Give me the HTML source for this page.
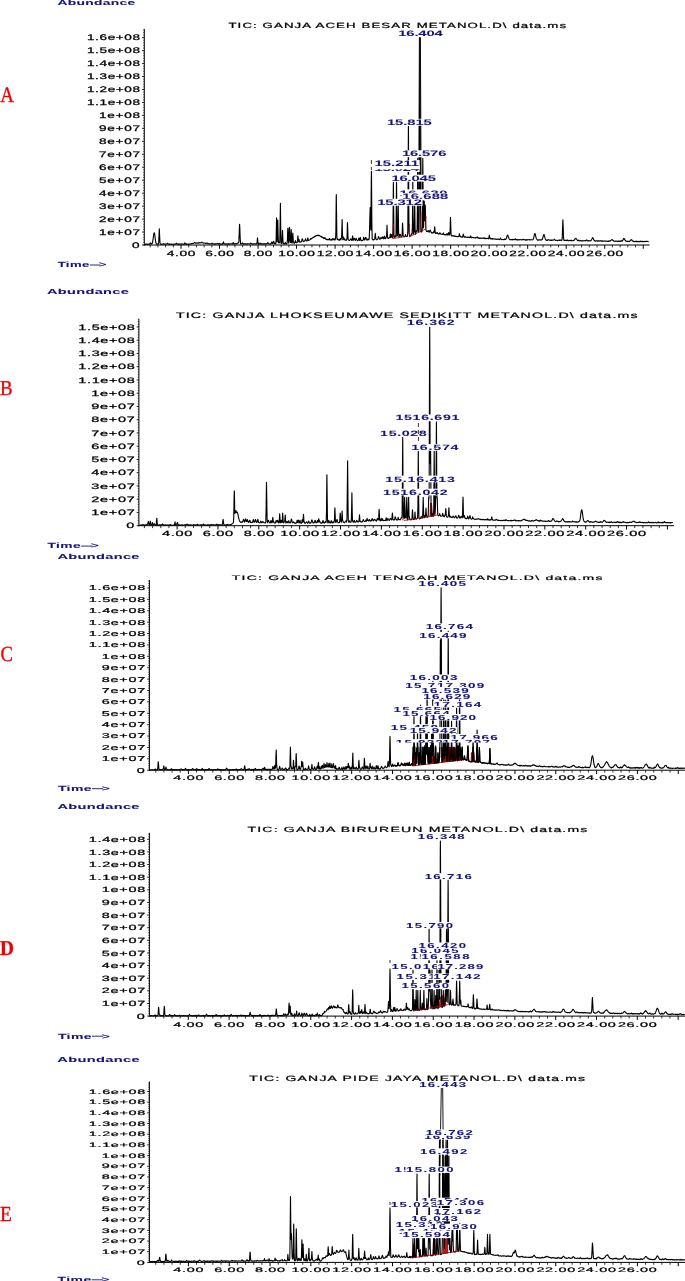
<!DOCTYPE html>
<html><head><meta charset="utf-8"><style>
html,body{margin:0;padding:0;background:#fff;overflow:hidden;}
svg{display:block;will-change:transform;} text{text-rendering:geometricPrecision;}
</style></head><body>
<svg width="685" height="1281" viewBox="0 0 685 1281">
<rect width="685" height="1281" fill="#fff"/>
<line x1="144.30" y1="28.90" x2="144.30" y2="245.50" stroke="#000" stroke-width="1"/>
<line x1="143.80" y1="245.00" x2="649.60" y2="245.00" stroke="#000" stroke-width="1"/>
<line x1="142.10" y1="245.00" x2="144.30" y2="245.00" stroke="#000" stroke-width="0.9"/>
<line x1="143.10" y1="242.41" x2="144.30" y2="242.41" stroke="#000" stroke-width="0.6"/>
<line x1="143.10" y1="239.82" x2="144.30" y2="239.82" stroke="#000" stroke-width="0.6"/>
<line x1="143.10" y1="237.22" x2="144.30" y2="237.22" stroke="#000" stroke-width="0.6"/>
<line x1="143.10" y1="234.63" x2="144.30" y2="234.63" stroke="#000" stroke-width="0.6"/>
<text transform="translate(131.98,247.80) scale(1.6681542857142881,1)" font-size="8.14" font-family='"Liberation Sans", sans-serif' font-weight="normal" fill="#000" stroke="#000" stroke-width="0.27" textLength="4.87" lengthAdjust="spacing">0</text>
<line x1="142.10" y1="232.04" x2="144.30" y2="232.04" stroke="#000" stroke-width="0.9"/>
<line x1="143.10" y1="229.45" x2="144.30" y2="229.45" stroke="#000" stroke-width="0.6"/>
<line x1="143.10" y1="226.86" x2="144.30" y2="226.86" stroke="#000" stroke-width="0.6"/>
<line x1="143.10" y1="224.26" x2="144.30" y2="224.26" stroke="#000" stroke-width="0.6"/>
<line x1="143.10" y1="221.67" x2="144.30" y2="221.67" stroke="#000" stroke-width="0.6"/>
<text transform="translate(99.09,234.84) scale(1.668154285714286,1)" font-size="8.14" font-family='"Liberation Sans", sans-serif' font-weight="normal" fill="#000" stroke="#000" stroke-width="0.27" textLength="24.58" lengthAdjust="spacing">1e+07</text>
<line x1="142.10" y1="219.08" x2="144.30" y2="219.08" stroke="#000" stroke-width="0.9"/>
<line x1="143.10" y1="216.49" x2="144.30" y2="216.49" stroke="#000" stroke-width="0.6"/>
<line x1="143.10" y1="213.90" x2="144.30" y2="213.90" stroke="#000" stroke-width="0.6"/>
<line x1="143.10" y1="211.30" x2="144.30" y2="211.30" stroke="#000" stroke-width="0.6"/>
<line x1="143.10" y1="208.71" x2="144.30" y2="208.71" stroke="#000" stroke-width="0.6"/>
<text transform="translate(99.09,221.88) scale(1.668154285714286,1)" font-size="8.14" font-family='"Liberation Sans", sans-serif' font-weight="normal" fill="#000" stroke="#000" stroke-width="0.27" textLength="24.58" lengthAdjust="spacing">2e+07</text>
<line x1="142.10" y1="206.12" x2="144.30" y2="206.12" stroke="#000" stroke-width="0.9"/>
<line x1="143.10" y1="203.53" x2="144.30" y2="203.53" stroke="#000" stroke-width="0.6"/>
<line x1="143.10" y1="200.94" x2="144.30" y2="200.94" stroke="#000" stroke-width="0.6"/>
<line x1="143.10" y1="198.34" x2="144.30" y2="198.34" stroke="#000" stroke-width="0.6"/>
<line x1="143.10" y1="195.75" x2="144.30" y2="195.75" stroke="#000" stroke-width="0.6"/>
<text transform="translate(99.09,208.92) scale(1.668154285714286,1)" font-size="8.14" font-family='"Liberation Sans", sans-serif' font-weight="normal" fill="#000" stroke="#000" stroke-width="0.27" textLength="24.58" lengthAdjust="spacing">3e+07</text>
<line x1="142.10" y1="193.16" x2="144.30" y2="193.16" stroke="#000" stroke-width="0.9"/>
<line x1="143.10" y1="190.57" x2="144.30" y2="190.57" stroke="#000" stroke-width="0.6"/>
<line x1="143.10" y1="187.98" x2="144.30" y2="187.98" stroke="#000" stroke-width="0.6"/>
<line x1="143.10" y1="185.38" x2="144.30" y2="185.38" stroke="#000" stroke-width="0.6"/>
<line x1="143.10" y1="182.79" x2="144.30" y2="182.79" stroke="#000" stroke-width="0.6"/>
<text transform="translate(99.09,195.96) scale(1.668154285714286,1)" font-size="8.14" font-family='"Liberation Sans", sans-serif' font-weight="normal" fill="#000" stroke="#000" stroke-width="0.27" textLength="24.58" lengthAdjust="spacing">4e+07</text>
<line x1="142.10" y1="180.20" x2="144.30" y2="180.20" stroke="#000" stroke-width="0.9"/>
<line x1="143.10" y1="177.61" x2="144.30" y2="177.61" stroke="#000" stroke-width="0.6"/>
<line x1="143.10" y1="175.02" x2="144.30" y2="175.02" stroke="#000" stroke-width="0.6"/>
<line x1="143.10" y1="172.42" x2="144.30" y2="172.42" stroke="#000" stroke-width="0.6"/>
<line x1="143.10" y1="169.83" x2="144.30" y2="169.83" stroke="#000" stroke-width="0.6"/>
<text transform="translate(99.09,183.00) scale(1.668154285714286,1)" font-size="8.14" font-family='"Liberation Sans", sans-serif' font-weight="normal" fill="#000" stroke="#000" stroke-width="0.27" textLength="24.58" lengthAdjust="spacing">5e+07</text>
<line x1="142.10" y1="167.24" x2="144.30" y2="167.24" stroke="#000" stroke-width="0.9"/>
<line x1="143.10" y1="164.65" x2="144.30" y2="164.65" stroke="#000" stroke-width="0.6"/>
<line x1="143.10" y1="162.06" x2="144.30" y2="162.06" stroke="#000" stroke-width="0.6"/>
<line x1="143.10" y1="159.46" x2="144.30" y2="159.46" stroke="#000" stroke-width="0.6"/>
<line x1="143.10" y1="156.87" x2="144.30" y2="156.87" stroke="#000" stroke-width="0.6"/>
<text transform="translate(99.09,170.04) scale(1.668154285714286,1)" font-size="8.14" font-family='"Liberation Sans", sans-serif' font-weight="normal" fill="#000" stroke="#000" stroke-width="0.27" textLength="24.58" lengthAdjust="spacing">6e+07</text>
<line x1="142.10" y1="154.28" x2="144.30" y2="154.28" stroke="#000" stroke-width="0.9"/>
<line x1="143.10" y1="151.69" x2="144.30" y2="151.69" stroke="#000" stroke-width="0.6"/>
<line x1="143.10" y1="149.10" x2="144.30" y2="149.10" stroke="#000" stroke-width="0.6"/>
<line x1="143.10" y1="146.50" x2="144.30" y2="146.50" stroke="#000" stroke-width="0.6"/>
<line x1="143.10" y1="143.91" x2="144.30" y2="143.91" stroke="#000" stroke-width="0.6"/>
<text transform="translate(99.09,157.08) scale(1.668154285714286,1)" font-size="8.14" font-family='"Liberation Sans", sans-serif' font-weight="normal" fill="#000" stroke="#000" stroke-width="0.27" textLength="24.58" lengthAdjust="spacing">7e+07</text>
<line x1="142.10" y1="141.32" x2="144.30" y2="141.32" stroke="#000" stroke-width="0.9"/>
<line x1="143.10" y1="138.73" x2="144.30" y2="138.73" stroke="#000" stroke-width="0.6"/>
<line x1="143.10" y1="136.14" x2="144.30" y2="136.14" stroke="#000" stroke-width="0.6"/>
<line x1="143.10" y1="133.54" x2="144.30" y2="133.54" stroke="#000" stroke-width="0.6"/>
<line x1="143.10" y1="130.95" x2="144.30" y2="130.95" stroke="#000" stroke-width="0.6"/>
<text transform="translate(99.09,144.12) scale(1.668154285714286,1)" font-size="8.14" font-family='"Liberation Sans", sans-serif' font-weight="normal" fill="#000" stroke="#000" stroke-width="0.27" textLength="24.58" lengthAdjust="spacing">8e+07</text>
<line x1="142.10" y1="128.36" x2="144.30" y2="128.36" stroke="#000" stroke-width="0.9"/>
<line x1="143.10" y1="125.77" x2="144.30" y2="125.77" stroke="#000" stroke-width="0.6"/>
<line x1="143.10" y1="123.18" x2="144.30" y2="123.18" stroke="#000" stroke-width="0.6"/>
<line x1="143.10" y1="120.58" x2="144.30" y2="120.58" stroke="#000" stroke-width="0.6"/>
<line x1="143.10" y1="117.99" x2="144.30" y2="117.99" stroke="#000" stroke-width="0.6"/>
<text transform="translate(99.09,131.16) scale(1.668154285714286,1)" font-size="8.14" font-family='"Liberation Sans", sans-serif' font-weight="normal" fill="#000" stroke="#000" stroke-width="0.27" textLength="24.58" lengthAdjust="spacing">9e+07</text>
<line x1="142.10" y1="115.40" x2="144.30" y2="115.40" stroke="#000" stroke-width="0.9"/>
<line x1="143.10" y1="112.81" x2="144.30" y2="112.81" stroke="#000" stroke-width="0.6"/>
<line x1="143.10" y1="110.22" x2="144.30" y2="110.22" stroke="#000" stroke-width="0.6"/>
<line x1="143.10" y1="107.62" x2="144.30" y2="107.62" stroke="#000" stroke-width="0.6"/>
<line x1="143.10" y1="105.03" x2="144.30" y2="105.03" stroke="#000" stroke-width="0.6"/>
<text transform="translate(99.09,118.20) scale(1.668154285714286,1)" font-size="8.14" font-family='"Liberation Sans", sans-serif' font-weight="normal" fill="#000" stroke="#000" stroke-width="0.27" textLength="24.58" lengthAdjust="spacing">1e+08</text>
<line x1="142.10" y1="102.44" x2="144.30" y2="102.44" stroke="#000" stroke-width="0.9"/>
<line x1="143.10" y1="99.85" x2="144.30" y2="99.85" stroke="#000" stroke-width="0.6"/>
<line x1="143.10" y1="97.26" x2="144.30" y2="97.26" stroke="#000" stroke-width="0.6"/>
<line x1="143.10" y1="94.66" x2="144.30" y2="94.66" stroke="#000" stroke-width="0.6"/>
<line x1="143.10" y1="92.07" x2="144.30" y2="92.07" stroke="#000" stroke-width="0.6"/>
<text transform="translate(86.92,105.24) scale(1.6681542857142857,1)" font-size="8.14" font-family='"Liberation Sans", sans-serif' font-weight="normal" fill="#000" stroke="#000" stroke-width="0.27" textLength="31.88" lengthAdjust="spacing">1.1e+08</text>
<line x1="142.10" y1="89.48" x2="144.30" y2="89.48" stroke="#000" stroke-width="0.9"/>
<line x1="143.10" y1="86.89" x2="144.30" y2="86.89" stroke="#000" stroke-width="0.6"/>
<line x1="143.10" y1="84.30" x2="144.30" y2="84.30" stroke="#000" stroke-width="0.6"/>
<line x1="143.10" y1="81.70" x2="144.30" y2="81.70" stroke="#000" stroke-width="0.6"/>
<line x1="143.10" y1="79.11" x2="144.30" y2="79.11" stroke="#000" stroke-width="0.6"/>
<text transform="translate(86.92,92.28) scale(1.6681542857142857,1)" font-size="8.14" font-family='"Liberation Sans", sans-serif' font-weight="normal" fill="#000" stroke="#000" stroke-width="0.27" textLength="31.88" lengthAdjust="spacing">1.2e+08</text>
<line x1="142.10" y1="76.52" x2="144.30" y2="76.52" stroke="#000" stroke-width="0.9"/>
<line x1="143.10" y1="73.93" x2="144.30" y2="73.93" stroke="#000" stroke-width="0.6"/>
<line x1="143.10" y1="71.34" x2="144.30" y2="71.34" stroke="#000" stroke-width="0.6"/>
<line x1="143.10" y1="68.74" x2="144.30" y2="68.74" stroke="#000" stroke-width="0.6"/>
<line x1="143.10" y1="66.15" x2="144.30" y2="66.15" stroke="#000" stroke-width="0.6"/>
<text transform="translate(86.92,79.32) scale(1.6681542857142857,1)" font-size="8.14" font-family='"Liberation Sans", sans-serif' font-weight="normal" fill="#000" stroke="#000" stroke-width="0.27" textLength="31.88" lengthAdjust="spacing">1.3e+08</text>
<line x1="142.10" y1="63.56" x2="144.30" y2="63.56" stroke="#000" stroke-width="0.9"/>
<line x1="143.10" y1="60.97" x2="144.30" y2="60.97" stroke="#000" stroke-width="0.6"/>
<line x1="143.10" y1="58.38" x2="144.30" y2="58.38" stroke="#000" stroke-width="0.6"/>
<line x1="143.10" y1="55.78" x2="144.30" y2="55.78" stroke="#000" stroke-width="0.6"/>
<line x1="143.10" y1="53.19" x2="144.30" y2="53.19" stroke="#000" stroke-width="0.6"/>
<text transform="translate(86.92,66.36) scale(1.6681542857142857,1)" font-size="8.14" font-family='"Liberation Sans", sans-serif' font-weight="normal" fill="#000" stroke="#000" stroke-width="0.27" textLength="31.88" lengthAdjust="spacing">1.4e+08</text>
<line x1="142.10" y1="50.60" x2="144.30" y2="50.60" stroke="#000" stroke-width="0.9"/>
<line x1="143.10" y1="48.01" x2="144.30" y2="48.01" stroke="#000" stroke-width="0.6"/>
<line x1="143.10" y1="45.42" x2="144.30" y2="45.42" stroke="#000" stroke-width="0.6"/>
<line x1="143.10" y1="42.82" x2="144.30" y2="42.82" stroke="#000" stroke-width="0.6"/>
<line x1="143.10" y1="40.23" x2="144.30" y2="40.23" stroke="#000" stroke-width="0.6"/>
<text transform="translate(86.92,53.40) scale(1.6681542857142857,1)" font-size="8.14" font-family='"Liberation Sans", sans-serif' font-weight="normal" fill="#000" stroke="#000" stroke-width="0.27" textLength="31.88" lengthAdjust="spacing">1.5e+08</text>
<line x1="142.10" y1="37.64" x2="144.30" y2="37.64" stroke="#000" stroke-width="0.9"/>
<line x1="143.10" y1="35.05" x2="144.30" y2="35.05" stroke="#000" stroke-width="0.6"/>
<line x1="143.10" y1="32.46" x2="144.30" y2="32.46" stroke="#000" stroke-width="0.6"/>
<line x1="143.10" y1="29.86" x2="144.30" y2="29.86" stroke="#000" stroke-width="0.6"/>
<text transform="translate(86.92,40.44) scale(1.6681542857142857,1)" font-size="8.14" font-family='"Liberation Sans", sans-serif' font-weight="normal" fill="#000" stroke="#000" stroke-width="0.27" textLength="31.88" lengthAdjust="spacing">1.6e+08</text>
<line x1="150.18" y1="245.00" x2="150.18" y2="247.40" stroke="#000" stroke-width="0.8"/>
<line x1="157.89" y1="245.00" x2="157.89" y2="247.40" stroke="#000" stroke-width="0.8"/>
<line x1="165.59" y1="245.00" x2="165.59" y2="247.40" stroke="#000" stroke-width="0.8"/>
<line x1="173.30" y1="245.00" x2="173.30" y2="247.40" stroke="#000" stroke-width="0.8"/>
<line x1="181.00" y1="245.00" x2="181.00" y2="248.80" stroke="#000" stroke-width="1.0"/>
<line x1="188.70" y1="245.00" x2="188.70" y2="247.40" stroke="#000" stroke-width="0.8"/>
<line x1="196.41" y1="245.00" x2="196.41" y2="247.40" stroke="#000" stroke-width="0.8"/>
<line x1="204.11" y1="245.00" x2="204.11" y2="247.40" stroke="#000" stroke-width="0.8"/>
<line x1="211.82" y1="245.00" x2="211.82" y2="247.40" stroke="#000" stroke-width="0.8"/>
<line x1="219.52" y1="245.00" x2="219.52" y2="248.80" stroke="#000" stroke-width="1.0"/>
<line x1="227.22" y1="245.00" x2="227.22" y2="247.40" stroke="#000" stroke-width="0.8"/>
<line x1="234.93" y1="245.00" x2="234.93" y2="247.40" stroke="#000" stroke-width="0.8"/>
<line x1="242.63" y1="245.00" x2="242.63" y2="247.40" stroke="#000" stroke-width="0.8"/>
<line x1="250.34" y1="245.00" x2="250.34" y2="247.40" stroke="#000" stroke-width="0.8"/>
<line x1="258.04" y1="245.00" x2="258.04" y2="248.80" stroke="#000" stroke-width="1.0"/>
<line x1="265.74" y1="245.00" x2="265.74" y2="247.40" stroke="#000" stroke-width="0.8"/>
<line x1="273.45" y1="245.00" x2="273.45" y2="247.40" stroke="#000" stroke-width="0.8"/>
<line x1="281.15" y1="245.00" x2="281.15" y2="247.40" stroke="#000" stroke-width="0.8"/>
<line x1="288.86" y1="245.00" x2="288.86" y2="247.40" stroke="#000" stroke-width="0.8"/>
<line x1="296.56" y1="245.00" x2="296.56" y2="248.80" stroke="#000" stroke-width="1.0"/>
<line x1="304.26" y1="245.00" x2="304.26" y2="247.40" stroke="#000" stroke-width="0.8"/>
<line x1="311.97" y1="245.00" x2="311.97" y2="247.40" stroke="#000" stroke-width="0.8"/>
<line x1="319.67" y1="245.00" x2="319.67" y2="247.40" stroke="#000" stroke-width="0.8"/>
<line x1="327.38" y1="245.00" x2="327.38" y2="247.40" stroke="#000" stroke-width="0.8"/>
<line x1="335.08" y1="245.00" x2="335.08" y2="248.80" stroke="#000" stroke-width="1.0"/>
<line x1="342.78" y1="245.00" x2="342.78" y2="247.40" stroke="#000" stroke-width="0.8"/>
<line x1="350.49" y1="245.00" x2="350.49" y2="247.40" stroke="#000" stroke-width="0.8"/>
<line x1="358.19" y1="245.00" x2="358.19" y2="247.40" stroke="#000" stroke-width="0.8"/>
<line x1="365.90" y1="245.00" x2="365.90" y2="247.40" stroke="#000" stroke-width="0.8"/>
<line x1="373.60" y1="245.00" x2="373.60" y2="248.80" stroke="#000" stroke-width="1.0"/>
<line x1="381.30" y1="245.00" x2="381.30" y2="247.40" stroke="#000" stroke-width="0.8"/>
<line x1="389.01" y1="245.00" x2="389.01" y2="247.40" stroke="#000" stroke-width="0.8"/>
<line x1="396.71" y1="245.00" x2="396.71" y2="247.40" stroke="#000" stroke-width="0.8"/>
<line x1="404.42" y1="245.00" x2="404.42" y2="247.40" stroke="#000" stroke-width="0.8"/>
<line x1="412.12" y1="245.00" x2="412.12" y2="248.80" stroke="#000" stroke-width="1.0"/>
<line x1="419.82" y1="245.00" x2="419.82" y2="247.40" stroke="#000" stroke-width="0.8"/>
<line x1="427.53" y1="245.00" x2="427.53" y2="247.40" stroke="#000" stroke-width="0.8"/>
<line x1="435.23" y1="245.00" x2="435.23" y2="247.40" stroke="#000" stroke-width="0.8"/>
<line x1="442.94" y1="245.00" x2="442.94" y2="247.40" stroke="#000" stroke-width="0.8"/>
<line x1="450.64" y1="245.00" x2="450.64" y2="248.80" stroke="#000" stroke-width="1.0"/>
<line x1="458.34" y1="245.00" x2="458.34" y2="247.40" stroke="#000" stroke-width="0.8"/>
<line x1="466.05" y1="245.00" x2="466.05" y2="247.40" stroke="#000" stroke-width="0.8"/>
<line x1="473.75" y1="245.00" x2="473.75" y2="247.40" stroke="#000" stroke-width="0.8"/>
<line x1="481.46" y1="245.00" x2="481.46" y2="247.40" stroke="#000" stroke-width="0.8"/>
<line x1="489.16" y1="245.00" x2="489.16" y2="248.80" stroke="#000" stroke-width="1.0"/>
<line x1="496.86" y1="245.00" x2="496.86" y2="247.40" stroke="#000" stroke-width="0.8"/>
<line x1="504.57" y1="245.00" x2="504.57" y2="247.40" stroke="#000" stroke-width="0.8"/>
<line x1="512.27" y1="245.00" x2="512.27" y2="247.40" stroke="#000" stroke-width="0.8"/>
<line x1="519.98" y1="245.00" x2="519.98" y2="247.40" stroke="#000" stroke-width="0.8"/>
<line x1="527.68" y1="245.00" x2="527.68" y2="248.80" stroke="#000" stroke-width="1.0"/>
<line x1="535.38" y1="245.00" x2="535.38" y2="247.40" stroke="#000" stroke-width="0.8"/>
<line x1="543.09" y1="245.00" x2="543.09" y2="247.40" stroke="#000" stroke-width="0.8"/>
<line x1="550.79" y1="245.00" x2="550.79" y2="247.40" stroke="#000" stroke-width="0.8"/>
<line x1="558.50" y1="245.00" x2="558.50" y2="247.40" stroke="#000" stroke-width="0.8"/>
<line x1="566.20" y1="245.00" x2="566.20" y2="248.80" stroke="#000" stroke-width="1.0"/>
<line x1="573.90" y1="245.00" x2="573.90" y2="247.40" stroke="#000" stroke-width="0.8"/>
<line x1="581.61" y1="245.00" x2="581.61" y2="247.40" stroke="#000" stroke-width="0.8"/>
<line x1="589.31" y1="245.00" x2="589.31" y2="247.40" stroke="#000" stroke-width="0.8"/>
<line x1="597.02" y1="245.00" x2="597.02" y2="247.40" stroke="#000" stroke-width="0.8"/>
<line x1="604.72" y1="245.00" x2="604.72" y2="248.80" stroke="#000" stroke-width="1.0"/>
<line x1="612.42" y1="245.00" x2="612.42" y2="247.40" stroke="#000" stroke-width="0.8"/>
<line x1="620.13" y1="245.00" x2="620.13" y2="247.40" stroke="#000" stroke-width="0.8"/>
<line x1="627.83" y1="245.00" x2="627.83" y2="247.40" stroke="#000" stroke-width="0.8"/>
<line x1="635.54" y1="245.00" x2="635.54" y2="247.40" stroke="#000" stroke-width="0.8"/>
<line x1="643.24" y1="245.00" x2="643.24" y2="248.80" stroke="#000" stroke-width="1.0"/>
<text transform="translate(166.69,255.50) scale(1.80877846153846,1)" font-size="7.56" font-family='"Liberation Sans", sans-serif' font-weight="normal" fill="#000" stroke="#000" stroke-width="0.25" textLength="15.82" lengthAdjust="spacing">4.00</text>
<text transform="translate(205.21,255.50) scale(1.80877846153846,1)" font-size="7.56" font-family='"Liberation Sans", sans-serif' font-weight="normal" fill="#000" stroke="#000" stroke-width="0.25" textLength="15.82" lengthAdjust="spacing">6.00</text>
<text transform="translate(243.73,255.50) scale(1.80877846153846,1)" font-size="7.56" font-family='"Liberation Sans", sans-serif' font-weight="normal" fill="#000" stroke="#000" stroke-width="0.25" textLength="15.82" lengthAdjust="spacing">8.00</text>
<text transform="translate(278.17,255.50) scale(1.8087784615384612,1)" font-size="7.56" font-family='"Liberation Sans", sans-serif' font-weight="normal" fill="#000" stroke="#000" stroke-width="0.25" textLength="20.34" lengthAdjust="spacing">10.00</text>
<text transform="translate(316.69,255.50) scale(1.8087784615384612,1)" font-size="7.56" font-family='"Liberation Sans", sans-serif' font-weight="normal" fill="#000" stroke="#000" stroke-width="0.25" textLength="20.34" lengthAdjust="spacing">12.00</text>
<text transform="translate(355.21,255.50) scale(1.8087784615384612,1)" font-size="7.56" font-family='"Liberation Sans", sans-serif' font-weight="normal" fill="#000" stroke="#000" stroke-width="0.25" textLength="20.34" lengthAdjust="spacing">14.00</text>
<text transform="translate(393.73,255.50) scale(1.8087784615384612,1)" font-size="7.56" font-family='"Liberation Sans", sans-serif' font-weight="normal" fill="#000" stroke="#000" stroke-width="0.25" textLength="20.34" lengthAdjust="spacing">16.00</text>
<text transform="translate(432.25,255.50) scale(1.8087784615384612,1)" font-size="7.56" font-family='"Liberation Sans", sans-serif' font-weight="normal" fill="#000" stroke="#000" stroke-width="0.25" textLength="20.34" lengthAdjust="spacing">18.00</text>
<text transform="translate(470.77,255.50) scale(1.8087784615384612,1)" font-size="7.56" font-family='"Liberation Sans", sans-serif' font-weight="normal" fill="#000" stroke="#000" stroke-width="0.25" textLength="20.34" lengthAdjust="spacing">20.00</text>
<text transform="translate(509.29,255.50) scale(1.8087784615384612,1)" font-size="7.56" font-family='"Liberation Sans", sans-serif' font-weight="normal" fill="#000" stroke="#000" stroke-width="0.25" textLength="20.34" lengthAdjust="spacing">22.00</text>
<text transform="translate(547.81,255.50) scale(1.8087784615384612,1)" font-size="7.56" font-family='"Liberation Sans", sans-serif' font-weight="normal" fill="#000" stroke="#000" stroke-width="0.25" textLength="20.34" lengthAdjust="spacing">24.00</text>
<text transform="translate(586.33,255.50) scale(1.8087784615384612,1)" font-size="7.56" font-family='"Liberation Sans", sans-serif' font-weight="normal" fill="#000" stroke="#000" stroke-width="0.25" textLength="20.34" lengthAdjust="spacing">26.00</text>
<text transform="translate(57.50,4.80) scale(1.9022518971930764,1)" font-size="7.27" font-family='"Liberation Sans", sans-serif' font-weight="bold" fill="#14147a" stroke="#14147a" stroke-width="0.08" textLength="40.79" lengthAdjust="spacing">Abundance</text>
<text transform="translate(57.70,267.30) scale(1.7378595676858706,1)" font-size="7.56" font-family='"Liberation Sans", sans-serif' font-weight="bold" fill="#14147a" stroke="#14147a" stroke-width="0.09" textLength="18.19" lengthAdjust="spacing">Time</text>
<line x1="89.80" y1="265.00" x2="100.33" y2="265.00" stroke="#14147a" stroke-width="0.9"/>
<text transform="translate(99.11,267.30) scale(1.6691039300231536,1)" font-size="7.56" font-family='"Liberation Sans", sans-serif' font-weight="bold" fill="#14147a" stroke="#14147a" stroke-width="0.09" textLength="4.55" lengthAdjust="spacing">&gt;</text>
<text transform="translate(228.40,28.10) scale(1.7514494026314733,1)" font-size="7.56" font-family='"Liberation Sans", sans-serif' font-weight="normal" fill="#000" stroke="#000" stroke-width="0.23" textLength="192.81" lengthAdjust="spacing">TIC: GANJA ACEH BESAR METANOL.D\ data.ms</text>
<text x="0.20" y="101.70" font-size="21.98" font-family='"Liberation Serif", serif' font-weight="normal" fill="#ee0000" stroke="#ee0000" stroke-width="0.35" textLength="13.80" lengthAdjust="spacingAndGlyphs">A</text>
<path d="M144.80,244.4 L145.13,244.4 L145.46,244.3 L145.79,244.0 L146.12,244.2 L146.45,244.0 L146.78,244.3 L147.11,244.3 L147.44,244.1 L147.77,244.0 L148.10,244.5 L148.43,244.4 L148.76,244.2 L149.09,244.2 L149.42,244.4 L149.75,243.9 L150.08,243.3 L150.41,242.9 L150.44,243.0 L150.74,243.0 L151.07,243.9 L151.40,244.1 L151.73,244.1 L152.06,243.5 L152.39,242.9 L152.72,241.5 L153.05,239.4 L153.38,236.9 L153.71,234.7 L154.04,232.9 L154.20,232.8 L154.37,233.0 L154.70,234.4 L155.03,236.8 L155.36,239.7 L155.69,241.7 L155.73,242.0 L156.02,243.0 L156.35,243.8 L156.68,244.2 L157.01,244.0 L157.34,244.2 L157.67,244.2 L158.00,244.0 L158.33,244.1 L158.66,242.7 L158.99,235.4 L159.30,228.9 L159.32,228.7 L159.65,236.5 L159.98,242.8 L160.31,243.9 L160.64,244.2 L160.97,244.4 L161.30,244.0 L161.63,244.3 L161.96,244.4 L162.29,244.1 L162.62,244.3 L162.95,244.3 L163.28,243.9 L163.61,243.8 L163.79,243.7 L163.94,243.7 L164.27,244.1 L164.60,244.3 L164.93,244.4 L165.26,244.2 L165.59,244.0 L165.92,244.0 L166.25,244.0 L166.58,244.1 L166.91,244.0 L167.24,243.2 L167.49,243.3 L167.57,243.4 L167.90,243.5 L168.23,244.0 L168.56,244.0 L168.89,244.3 L169.22,243.9 L169.55,244.4 L169.88,244.3 L170.21,244.2 L170.54,244.0 L170.87,244.4 L171.20,244.4 L171.53,244.0 L171.86,244.3 L172.19,244.4 L172.52,244.3 L172.85,244.3 L173.18,244.1 L173.51,244.4 L173.84,244.4 L174.17,244.1 L174.50,244.3 L174.83,244.1 L175.16,244.0 L175.49,244.1 L175.82,243.8 L176.15,243.7 L176.32,243.3 L176.48,243.2 L176.81,244.1 L177.14,244.1 L177.47,243.9 L177.80,244.0 L178.13,244.0 L178.46,244.3 L178.79,243.9 L179.12,244.0 L179.45,244.1 L179.78,243.9 L180.11,244.2 L180.44,244.2 L180.77,244.3 L181.10,244.0 L181.43,244.0 L181.76,244.2 L182.09,244.0 L182.42,244.2 L182.75,244.0 L183.08,244.2 L183.41,244.3 L183.74,244.3 L184.07,244.4 L184.40,243.8 L184.73,242.8 L184.87,242.8 L185.06,243.1 L185.39,243.9 L185.72,244.1 L186.05,244.0 L186.38,243.9 L186.71,244.3 L187.04,243.9 L187.37,244.3 L187.70,244.2 L188.03,244.4 L188.36,244.3 L188.69,244.4 L189.02,243.9 L189.35,244.1 L189.68,244.2 L190.01,244.0 L190.34,244.1 L190.67,243.9 L191.00,243.9 L191.33,243.5 L191.66,243.7 L191.99,243.6 L192.32,243.5 L192.65,243.4 L192.98,243.6 L193.31,243.4 L193.64,243.3 L193.97,243.2 L194.30,242.9 L194.63,242.4 L194.68,242.6 L194.96,242.6 L195.29,243.0 L195.62,243.1 L195.95,243.1 L196.28,242.9 L196.61,243.2 L196.94,242.9 L197.27,243.1 L197.60,242.9 L197.93,243.1 L198.26,243.2 L198.59,242.8 L198.92,242.7 L199.25,243.0 L199.58,242.9 L199.91,242.9 L200.24,242.7 L200.57,242.9 L200.90,242.8 L201.23,242.7 L201.56,242.6 L201.89,242.1 L201.97,242.1 L202.22,242.4 L202.55,242.7 L202.88,242.8 L203.21,243.1 L203.54,243.0 L203.87,243.0 L204.20,243.0 L204.53,243.0 L204.86,243.1 L205.19,243.2 L205.52,243.4 L205.85,243.4 L206.18,243.5 L206.51,243.3 L206.84,243.1 L206.99,243.0 L207.17,243.0 L207.50,243.2 L207.83,243.7 L208.16,243.8 L208.49,243.7 L208.82,243.5 L209.15,244.0 L209.48,243.8 L209.81,243.9 L210.14,243.7 L210.47,243.9 L210.80,244.1 L211.13,243.9 L211.46,243.6 L211.79,243.3 L212.04,243.0 L212.12,243.0 L212.45,243.7 L212.78,243.9 L213.11,243.9 L213.44,244.0 L213.77,244.0 L214.10,243.8 L214.43,243.8 L214.76,244.1 L215.09,243.8 L215.42,243.7 L215.75,244.1 L216.08,243.9 L216.41,243.8 L216.74,243.7 L217.07,243.4 L217.17,243.3 L217.40,243.5 L217.73,243.9 L218.06,244.1 L218.39,243.8 L218.72,244.0 L219.05,243.8 L219.38,244.0 L219.71,243.7 L220.04,244.1 L220.37,244.1 L220.70,243.8 L221.03,243.8 L221.36,244.2 L221.69,244.0 L222.02,244.1 L222.35,243.7 L222.68,244.1 L223.01,243.5 L223.34,241.9 L223.40,242.0 L223.67,243.0 L223.89,243.5 L224.00,243.3 L224.33,243.8 L224.66,243.7 L224.99,244.2 L225.32,243.9 L225.65,244.2 L225.98,244.1 L226.31,244.0 L226.64,243.8 L226.97,243.9 L227.30,243.7 L227.63,243.7 L227.96,244.1 L228.29,243.9 L228.62,244.1 L228.95,243.8 L229.28,244.1 L229.61,244.1 L229.94,243.8 L230.27,243.7 L230.60,243.9 L230.93,243.9 L231.26,243.7 L231.59,243.8 L231.92,243.7 L232.25,244.0 L232.58,243.9 L232.91,243.0 L233.24,242.5 L233.25,242.9 L233.57,243.3 L233.90,244.0 L234.23,244.0 L234.56,243.8 L234.89,244.1 L235.22,243.7 L235.55,244.0 L235.88,243.7 L236.21,243.9 L236.54,243.9 L236.87,243.8 L237.20,243.5 L237.53,243.1 L237.86,242.9 L238.05,242.6 L238.19,242.7 L238.52,243.0 L238.85,241.8 L239.18,233.8 L239.51,224.8 L239.60,224.2 L239.84,228.4 L240.17,238.0 L240.50,243.2 L240.83,244.1 L241.16,243.8 L241.49,243.8 L241.82,243.7 L242.15,243.3 L242.40,242.8 L242.48,243.0 L242.81,243.6 L243.14,243.7 L243.47,244.2 L243.80,243.7 L244.13,243.7 L244.46,244.0 L244.79,243.7 L245.12,243.9 L245.45,243.7 L245.78,243.9 L246.11,244.1 L246.44,244.2 L246.77,243.7 L247.10,243.7 L247.43,244.1 L247.76,243.7 L248.09,243.8 L248.42,243.7 L248.75,243.7 L249.08,243.7 L249.41,244.0 L249.74,244.0 L250.07,243.9 L250.40,243.6 L250.73,243.2 L250.88,243.1 L251.06,243.2 L251.39,243.7 L251.72,243.9 L252.05,243.8 L252.38,243.7 L252.71,244.2 L253.04,244.0 L253.37,243.8 L253.70,244.0 L254.03,244.0 L254.36,243.9 L254.69,243.7 L255.02,243.8 L255.35,243.9 L255.68,243.8 L256.01,244.1 L256.34,243.9 L256.67,244.0 L257.00,243.3 L257.33,239.2 L257.50,237.7 L257.66,239.0 L257.99,243.0 L258.32,244.2 L258.65,243.7 L258.98,244.2 L259.31,244.1 L259.64,243.9 L259.97,243.0 L260.19,243.2 L260.30,243.4 L260.63,243.5 L260.96,243.8 L261.29,244.2 L261.62,243.7 L261.95,243.9 L262.28,243.9 L262.61,243.7 L262.94,243.9 L263.27,244.0 L263.60,244.1 L263.93,243.7 L264.26,243.9 L264.59,243.7 L264.92,244.1 L265.25,243.7 L265.58,243.7 L265.91,243.9 L266.24,244.1 L266.57,243.8 L266.90,243.6 L267.23,243.5 L267.56,243.0 L267.80,242.7 L267.89,242.5 L268.22,243.1 L268.55,243.5 L268.88,243.9 L269.21,243.8 L269.54,243.8 L269.87,244.1 L270.20,244.2 L270.53,244.0 L270.86,243.6 L271.19,243.5 L271.52,242.4 L271.85,242.1 L271.86,241.9 L272.18,242.6 L272.51,243.5 L272.84,243.5 L273.17,242.5 L273.50,241.4 L273.54,241.2 L273.83,241.7 L274.16,243.2 L274.49,243.6 L274.82,243.2 L274.84,243.5 L275.15,243.6 L275.48,243.6 L275.81,243.9 L276.14,239.9 L276.47,221.3 L276.48,221.0 L276.60,217.9 L276.80,225.4 L277.13,241.8 L277.46,235.1 L277.79,220.0 L277.80,220.0 L278.12,234.3 L278.45,242.9 L278.78,241.8 L279.00,241.7 L279.11,242.0 L279.44,242.6 L279.77,242.9 L280.10,225.6 L280.40,203.4 L280.43,203.8 L280.76,231.0 L281.09,243.1 L281.23,242.9 L281.42,242.8 L281.75,243.6 L282.08,241.0 L282.41,231.4 L282.50,230.3 L282.59,231.2 L282.74,235.8 L283.07,242.2 L283.40,243.8 L283.73,244.0 L284.06,243.9 L284.39,243.9 L284.72,243.9 L285.05,242.9 L285.32,242.5 L285.38,242.3 L285.71,243.3 L286.04,243.8 L286.37,244.1 L286.70,243.6 L287.03,243.3 L287.36,240.9 L287.69,231.2 L287.83,228.4 L287.90,228.0 L288.02,229.0 L288.35,238.5 L288.68,243.3 L289.01,239.6 L289.34,229.4 L289.50,227.2 L289.67,229.4 L290.00,239.9 L290.33,242.4 L290.43,242.3 L290.66,242.6 L290.99,233.8 L291.20,229.6 L291.32,231.4 L291.65,241.3 L291.98,243.2 L292.31,242.4 L292.64,235.1 L292.80,233.0 L292.96,235.1 L292.97,235.2 L293.30,241.6 L293.63,242.5 L293.96,243.3 L294.29,243.3 L294.62,243.1 L294.95,242.3 L295.28,240.9 L295.36,240.6 L295.61,241.0 L295.94,242.6 L296.27,242.9 L296.60,242.7 L296.93,242.7 L297.26,242.4 L297.59,239.9 L297.90,235.9 L297.92,235.9 L298.25,239.9 L298.58,241.8 L298.91,239.5 L299.00,239.4 L299.24,240.3 L299.57,242.1 L299.90,241.9 L300.23,241.9 L300.56,241.9 L300.89,242.2 L301.22,241.9 L301.55,241.5 L301.88,240.0 L302.21,238.9 L302.30,238.9 L302.54,239.2 L302.87,240.4 L303.20,241.4 L303.53,241.6 L303.86,241.3 L304.19,241.3 L304.52,241.0 L304.85,240.8 L305.18,239.8 L305.51,238.8 L305.58,238.7 L305.84,239.5 L306.17,240.3 L306.50,240.9 L306.83,241.0 L307.16,240.8 L307.49,240.1 L307.82,237.9 L307.89,237.9 L308.15,239.3 L308.48,240.5 L308.81,240.3 L309.14,240.3 L309.47,240.1 L309.80,239.9 L310.13,239.5 L310.46,238.7 L310.57,238.6 L310.79,239.1 L311.12,239.1 L311.45,238.8 L311.78,238.5 L312.11,238.3 L312.44,237.9 L312.77,237.8 L313.03,237.7 L313.10,237.3 L313.43,237.2 L313.76,237.0 L314.09,237.1 L314.42,236.7 L314.75,236.3 L315.08,236.5 L315.41,235.9 L315.62,236.0 L315.74,236.0 L316.07,235.8 L316.40,235.5 L316.73,235.6 L317.06,235.4 L317.39,235.5 L317.60,235.4 L317.72,235.6 L318.02,235.4 L318.05,235.1 L318.38,235.2 L318.71,235.7 L319.04,235.4 L319.37,235.4 L319.70,235.6 L319.71,235.8 L320.03,236.2 L320.36,236.0 L320.69,236.4 L321.02,236.7 L321.35,236.4 L321.68,236.9 L322.01,237.4 L322.34,237.3 L322.67,237.5 L322.96,237.3 L323.00,237.5 L323.33,238.2 L323.66,237.9 L323.99,238.4 L324.32,238.5 L324.65,237.9 L324.85,237.5 L324.98,237.5 L325.31,238.6 L325.64,239.1 L325.97,239.4 L326.30,239.1 L326.63,239.6 L326.96,239.6 L327.29,239.3 L327.62,239.5 L327.95,239.8 L328.28,239.6 L328.61,239.7 L328.94,239.9 L329.27,238.6 L329.44,238.7 L329.60,238.6 L329.93,239.5 L330.26,240.1 L330.59,239.7 L330.92,239.9 L331.25,239.9 L331.58,240.1 L331.91,239.6 L332.24,238.6 L332.26,238.8 L332.57,239.5 L332.90,239.9 L333.23,239.6 L333.56,239.2 L333.89,238.5 L333.90,238.6 L334.22,238.8 L334.55,240.0 L334.88,240.0 L335.21,239.7 L335.54,238.7 L335.84,232.9 L335.87,230.9 L336.20,198.2 L336.30,194.5 L336.53,211.4 L336.86,236.9 L337.19,239.8 L337.52,239.6 L337.85,239.0 L337.89,239.1 L338.18,239.2 L338.51,239.9 L338.84,240.2 L339.17,240.4 L339.50,239.9 L339.83,239.2 L340.11,238.7 L340.16,238.6 L340.49,239.3 L340.82,239.9 L341.15,238.8 L341.48,237.9 L341.63,237.2 L341.81,230.2 L342.10,219.5 L342.14,219.8 L342.47,233.7 L342.80,239.6 L343.13,238.0 L343.40,237.3 L343.46,237.0 L343.79,238.4 L344.12,239.9 L344.45,239.5 L344.71,238.9 L344.78,239.1 L345.11,239.8 L345.44,240.3 L345.77,240.2 L346.10,240.1 L346.43,240.1 L346.76,240.0 L347.09,236.0 L347.42,223.5 L347.50,222.6 L347.75,230.1 L348.08,239.1 L348.41,240.0 L348.74,240.2 L349.07,240.4 L349.40,240.6 L349.73,240.3 L350.06,239.8 L350.39,239.0 L350.70,238.9 L350.72,238.9 L351.05,239.2 L351.38,240.0 L351.71,240.5 L352.04,240.4 L352.37,237.4 L352.60,235.9 L352.70,236.2 L353.03,239.3 L353.36,240.3 L353.69,239.7 L354.02,238.8 L354.35,238.3 L354.39,238.3 L354.68,238.4 L355.01,239.5 L355.34,240.5 L355.67,239.5 L356.00,238.7 L356.19,238.6 L356.33,238.4 L356.66,239.4 L356.99,240.1 L357.32,240.5 L357.65,240.8 L357.98,240.6 L358.31,239.9 L358.64,238.8 L358.88,238.1 L358.97,238.1 L359.30,239.5 L359.63,240.5 L359.96,238.5 L360.28,237.3 L360.29,237.3 L360.62,238.9 L360.95,240.3 L361.28,240.7 L361.61,240.5 L361.94,240.6 L362.27,240.5 L362.60,240.5 L362.93,240.3 L363.26,239.4 L363.59,237.4 L363.72,237.3 L363.92,237.9 L364.25,239.6 L364.58,240.0 L364.91,239.8 L365.24,238.6 L365.57,237.4 L365.75,237.4 L365.90,237.5 L366.23,238.5 L366.56,239.5 L366.89,240.1 L367.22,240.1 L367.55,239.8 L367.88,238.9 L368.04,239.1 L368.21,239.2 L368.54,239.8 L368.87,239.8 L369.20,238.3 L369.53,231.1 L369.86,216.8 L370.19,207.5 L370.20,207.8 L370.52,215.9 L370.85,230.0 L371.18,190.9 L371.40,171.3 L371.48,174.2 L371.51,176.5 L371.84,221.8 L372.17,238.8 L372.50,239.6 L372.83,239.9 L373.16,239.5 L373.49,239.9 L373.82,239.6 L374.15,239.6 L374.48,239.1 L374.81,238.7 L375.14,234.7 L375.30,233.4 L375.47,234.9 L375.80,238.9 L376.13,239.2 L376.46,239.7 L376.79,239.7 L377.12,239.5 L377.45,239.2 L377.78,238.8 L378.11,237.9 L378.44,236.6 L378.56,236.6 L378.77,236.9 L379.10,237.9 L379.43,239.1 L379.76,239.1 L380.09,239.3 L380.42,238.7 L380.75,238.0 L381.08,237.3 L381.41,238.0 L381.74,238.5 L382.07,238.5 L382.40,237.6 L382.73,236.7 L382.84,236.9 L383.06,237.0 L383.39,238.0 L383.72,238.9 L384.05,238.6 L384.38,236.8 L384.58,236.1 L384.71,236.5 L385.04,237.9 L385.37,238.7 L385.70,238.3 L386.03,238.0 L386.36,236.9 L386.57,235.9 L386.69,232.9 L387.00,225.3 L387.02,225.2 L387.35,234.0 L387.68,238.0 L388.01,238.4 L388.34,238.5 L388.67,238.4 L389.00,237.9 L389.33,237.8 L389.66,237.2 L389.99,236.9 L390.00,237.1 L390.32,234.1 L390.40,234.0 L390.65,235.7 L390.98,237.8 L391.31,236.4 L391.64,234.7 L391.75,234.5 L391.97,234.9 L392.30,237.1 L392.63,237.7 L392.96,231.4 L393.29,189.2 L393.40,182.0 L393.62,205.2 L393.95,236.0 L394.28,237.4 L394.61,236.9 L394.94,235.8 L394.96,236.0 L395.27,236.3 L395.60,237.1 L395.93,236.3 L396.26,208.6 L396.50,182.0 L396.59,186.8 L396.92,229.8 L397.25,236.2 L397.58,234.8 L397.89,226.4 L397.91,224.6 L398.20,205.0 L398.24,205.5 L398.57,230.3 L398.90,237.1 L399.23,236.7 L399.56,235.2 L399.89,234.2 L400.00,234.3 L400.22,234.2 L400.55,235.4 L400.88,236.3 L401.21,236.9 L401.54,236.7 L401.87,236.2 L402.20,233.2 L402.47,225.0 L402.53,223.9 L402.60,223.1 L402.86,229.3 L403.19,235.7 L403.52,236.4 L403.85,236.6 L404.18,236.6 L404.51,236.7 L404.84,236.4 L405.17,235.8 L405.50,234.6 L405.53,235.0 L405.83,235.8 L406.16,236.5 L406.49,236.4 L406.82,236.2 L407.15,236.1 L407.48,236.3 L407.81,231.0 L408.14,175.1 L408.40,126.0 L408.47,130.6 L408.80,208.6 L409.06,233.2 L409.13,233.4 L409.46,235.1 L409.79,235.9 L410.12,236.0 L410.45,235.9 L410.78,235.7 L411.11,235.1 L411.44,234.0 L411.77,233.6 L411.81,233.4 L412.10,233.8 L412.43,223.8 L412.76,182.9 L412.80,182.0 L413.09,214.4 L413.42,234.2 L413.75,231.8 L413.91,231.5 L414.08,232.1 L414.41,222.2 L414.70,203.0 L414.74,203.4 L415.07,227.6 L415.40,234.3 L415.73,233.8 L416.06,232.6 L416.39,231.2 L416.67,230.6 L416.72,230.5 L417.05,231.3 L417.38,209.8 L417.70,158.5 L417.71,158.4 L418.04,212.9 L418.26,231.1 L418.37,231.8 L418.70,232.2 L419.03,230.0 L419.36,194.4 L419.60,114.3 L419.69,79.9 L419.90,37.4 L420.02,52.2 L420.35,168.9 L420.68,225.6 L421.01,232.0 L421.34,232.0 L421.67,232.0 L422.00,231.5 L422.33,225.6 L422.66,172.7 L422.80,158.2 L422.82,158.5 L422.99,182.8 L423.32,227.9 L423.65,225.7 L423.98,208.3 L424.20,201.0 L424.31,202.9 L424.64,220.7 L424.97,211.3 L425.20,205.0 L425.30,206.1 L425.61,220.9 L425.63,221.5 L425.96,230.0 L426.29,230.7 L426.62,231.4 L426.95,231.5 L427.28,231.4 L427.61,231.6 L427.94,230.9 L428.27,230.5 L428.29,230.7 L428.60,231.1 L428.93,232.0 L429.26,232.2 L429.59,231.3 L429.92,230.6 L430.21,230.1 L430.25,230.1 L430.58,230.8 L430.91,232.0 L431.24,232.3 L431.57,233.0 L431.90,232.7 L432.23,232.9 L432.56,232.9 L432.89,233.2 L433.22,232.7 L433.55,231.8 L433.77,231.5 L433.88,231.4 L434.21,232.2 L434.54,228.2 L434.70,226.8 L434.87,228.4 L435.20,232.9 L435.53,233.5 L435.86,233.2 L436.19,233.5 L436.52,233.1 L436.85,232.4 L436.99,232.6 L437.18,232.7 L437.51,233.0 L437.84,233.8 L438.17,233.9 L438.50,234.0 L438.83,233.8 L439.16,234.1 L439.49,233.4 L439.82,232.9 L439.91,232.8 L440.15,232.9 L440.48,233.8 L440.81,234.0 L441.14,234.3 L441.47,234.2 L441.80,234.3 L442.13,234.4 L442.46,234.2 L442.79,234.4 L443.12,233.5 L443.37,232.9 L443.45,233.0 L443.78,234.3 L444.11,234.8 L444.40,234.7 L444.44,234.6 L444.77,234.6 L445.10,234.5 L445.43,235.0 L445.76,234.6 L446.09,234.9 L446.42,234.7 L446.75,234.0 L447.08,233.5 L447.10,233.8 L447.41,234.2 L447.74,235.1 L448.07,235.2 L448.40,233.6 L448.73,232.5 L448.76,232.5 L449.06,233.5 L449.39,235.0 L449.72,234.8 L450.05,232.3 L450.27,224.0 L450.38,219.4 L450.50,217.3 L450.71,222.9 L451.04,234.0 L451.37,235.8 L451.70,235.9 L452.03,235.9 L452.36,235.5 L452.69,236.0 L453.02,235.8 L453.35,236.1 L453.68,235.8 L454.01,235.8 L454.34,236.3 L454.67,236.0 L455.00,235.9 L455.33,236.2 L455.66,236.5 L455.99,236.5 L456.32,236.3 L456.65,236.6 L456.98,236.6 L457.31,236.6 L457.64,236.6 L457.97,236.5 L458.30,236.8 L458.63,236.6 L458.96,236.3 L459.29,234.0 L459.40,233.7 L459.62,234.7 L459.95,236.4 L460.28,236.4 L460.29,236.4 L460.61,236.3 L460.94,236.8 L461.27,237.1 L461.60,236.8 L461.93,237.2 L462.26,237.1 L462.59,237.1 L462.92,236.1 L463.25,234.3 L463.30,234.0 L463.58,235.5 L463.91,236.7 L464.24,237.1 L464.57,236.8 L464.90,237.3 L465.23,236.9 L465.56,236.7 L465.57,236.9 L465.89,237.0 L466.22,237.2 L466.55,237.2 L466.88,237.4 L467.21,237.5 L467.54,237.3 L467.87,237.3 L468.20,237.5 L468.53,237.1 L468.86,237.2 L469.19,237.3 L469.52,237.3 L469.85,237.7 L470.18,237.1 L470.51,236.1 L470.70,236.0 L470.84,236.2 L471.17,237.5 L471.50,237.8 L471.83,237.8 L472.16,237.7 L472.49,237.4 L472.82,237.4 L473.15,237.7 L473.48,237.6 L473.63,237.5 L473.81,237.7 L474.14,237.7 L474.47,237.8 L474.80,237.9 L475.13,237.6 L475.46,237.7 L475.79,238.1 L476.12,237.7 L476.45,237.6 L476.78,237.4 L477.10,237.0 L477.11,236.8 L477.44,237.4 L477.77,237.8 L478.10,238.0 L478.43,238.2 L478.76,237.9 L479.09,238.3 L479.42,238.4 L479.75,238.3 L480.08,237.9 L480.41,238.1 L480.74,238.4 L481.07,238.4 L481.40,238.0 L481.73,238.2 L482.06,238.2 L482.39,238.4 L482.72,238.0 L483.05,238.2 L483.38,238.4 L483.71,238.1 L484.01,237.7 L484.04,237.7 L484.37,238.1 L484.70,238.6 L485.03,238.4 L485.36,238.7 L485.69,238.3 L486.02,238.3 L486.35,238.3 L486.68,238.6 L487.01,238.4 L487.34,238.5 L487.67,238.5 L488.00,238.4 L488.33,238.9 L488.66,238.4 L488.99,237.2 L489.30,235.3 L489.32,235.1 L489.65,237.5 L489.98,238.4 L490.31,238.9 L490.64,238.2 L490.66,238.5 L490.97,238.7 L491.30,238.5 L491.63,239.0 L491.96,238.7 L492.29,239.1 L492.62,238.7 L492.95,239.0 L493.28,238.8 L493.61,238.9 L493.94,239.0 L494.27,239.0 L494.60,239.0 L494.93,239.2 L495.26,239.0 L495.59,239.0 L495.92,239.3 L496.25,239.1 L496.58,239.5 L496.91,239.2 L497.24,239.2 L497.57,239.0 L497.90,239.0 L498.23,239.1 L498.56,239.4 L498.89,239.4 L499.22,239.6 L499.55,239.3 L499.88,239.2 L500.21,238.6 L500.54,238.2 L500.55,238.5 L500.87,238.8 L501.20,239.3 L501.53,239.6 L501.86,239.6 L502.19,239.5 L502.52,239.5 L502.85,239.5 L503.18,239.5 L503.51,239.6 L503.84,239.5 L504.17,239.6 L504.50,239.1 L504.83,238.8 L505.16,239.3 L505.49,239.5 L505.82,239.2 L506.15,238.7 L506.48,238.1 L506.81,236.9 L507.14,235.7 L507.47,235.2 L507.60,235.3 L507.80,235.1 L508.13,236.1 L508.46,237.4 L508.79,238.0 L509.12,238.8 L509.45,239.4 L509.78,239.7 L510.11,239.7 L510.44,239.7 L510.77,239.5 L511.10,239.6 L511.43,239.7 L511.76,239.5 L512.09,239.8 L512.42,239.4 L512.75,239.8 L513.08,239.8 L513.41,239.5 L513.74,239.4 L514.07,239.6 L514.40,239.6 L514.73,239.5 L515.06,239.1 L515.19,239.0 L515.39,238.8 L515.72,239.2 L516.05,239.9 L516.38,239.8 L516.71,239.5 L517.04,239.8 L517.37,240.0 L517.70,239.8 L518.03,239.6 L518.36,240.0 L518.69,239.8 L519.02,239.6 L519.35,239.9 L519.68,239.7 L520.01,239.8 L520.34,239.7 L520.67,239.6 L521.00,239.7 L521.33,239.8 L521.66,239.8 L521.99,240.0 L522.32,239.5 L522.65,239.6 L522.98,239.7 L523.31,239.2 L523.32,239.2 L523.64,239.5 L523.97,239.6 L524.30,239.8 L524.63,239.7 L524.96,239.6 L525.29,240.1 L525.62,240.0 L525.95,240.1 L526.28,239.6 L526.61,240.0 L526.94,239.8 L527.27,239.9 L527.60,240.0 L527.93,239.6 L528.26,239.8 L528.59,239.8 L528.92,239.8 L528.97,239.6 L529.25,239.6 L529.58,239.9 L529.91,240.0 L530.24,239.8 L530.57,239.9 L530.90,239.8 L531.23,239.7 L531.56,239.8 L531.89,239.7 L532.22,239.9 L532.55,239.8 L532.88,239.8 L533.21,239.2 L533.54,238.3 L533.87,237.2 L534.20,235.3 L534.44,234.6 L534.53,234.0 L534.86,233.4 L534.90,233.7 L535.19,234.0 L535.52,234.9 L535.85,236.8 L536.18,238.2 L536.51,238.7 L536.84,239.3 L537.17,239.6 L537.50,240.1 L537.83,240.2 L538.16,239.8 L538.49,239.8 L538.82,240.1 L539.15,240.0 L539.48,239.8 L539.81,239.8 L540.14,239.9 L540.47,239.9 L540.80,240.0 L541.13,240.1 L541.46,239.9 L541.79,239.8 L542.12,239.4 L542.45,239.3 L542.50,239.0 L542.78,238.1 L543.11,236.7 L543.44,235.4 L543.77,234.6 L543.90,234.7 L544.10,234.6 L544.43,235.8 L544.76,237.2 L545.09,238.2 L545.42,239.1 L545.75,240.0 L546.08,239.8 L546.41,240.3 L546.74,240.4 L547.07,240.0 L547.40,240.4 L547.73,240.0 L548.06,239.9 L548.39,239.8 L548.72,239.6 L548.74,239.8 L549.05,239.9 L549.38,240.3 L549.71,240.3 L550.04,240.0 L550.37,240.1 L550.70,240.4 L551.03,240.0 L551.36,240.5 L551.69,240.4 L552.02,240.1 L552.35,240.1 L552.68,240.1 L553.01,240.2 L553.34,240.1 L553.67,239.9 L554.00,239.6 L554.33,239.2 L554.45,239.4 L554.66,239.5 L554.99,240.1 L555.32,240.3 L555.65,240.4 L555.98,240.5 L556.31,240.3 L556.64,240.3 L556.97,240.2 L557.30,240.5 L557.63,240.6 L557.96,240.6 L558.29,240.4 L558.62,240.2 L558.95,240.1 L559.28,240.5 L559.61,240.4 L559.94,239.8 L560.07,239.8 L560.27,240.1 L560.60,240.4 L560.93,240.3 L561.26,240.4 L561.59,240.3 L561.92,240.1 L562.25,237.4 L562.58,227.3 L562.90,219.9 L562.91,219.7 L563.24,228.4 L563.57,238.0 L563.90,240.4 L564.23,240.3 L564.56,240.4 L564.89,240.5 L565.22,240.3 L565.55,240.2 L565.88,240.5 L566.21,240.3 L566.54,240.6 L566.87,240.3 L567.20,240.5 L567.53,239.9 L567.63,240.1 L567.86,240.2 L568.19,240.6 L568.52,240.7 L568.85,240.7 L569.18,240.6 L569.51,240.3 L569.84,240.4 L570.17,240.6 L570.50,240.8 L570.83,240.6 L571.16,240.1 L571.27,240.3 L571.49,240.6 L571.82,240.5 L572.15,240.8 L572.48,240.8 L572.81,240.7 L573.14,240.6 L573.47,240.6 L573.80,240.3 L574.13,240.0 L574.46,240.1 L574.79,239.1 L575.12,238.8 L575.45,238.6 L575.70,238.5 L575.78,238.3 L576.11,238.5 L576.44,239.3 L576.77,239.6 L577.10,240.0 L577.43,240.3 L577.76,240.3 L578.09,240.9 L578.42,240.5 L578.63,240.4 L578.75,240.1 L579.08,240.4 L579.41,240.6 L579.74,240.9 L580.07,240.5 L580.40,240.6 L580.73,240.6 L581.06,240.7 L581.39,241.0 L581.72,240.8 L582.05,241.0 L582.38,240.8 L582.71,240.7 L583.04,241.0 L583.37,240.8 L583.70,240.8 L584.03,240.8 L584.36,240.7 L584.69,240.7 L585.02,240.6 L585.35,240.6 L585.68,240.9 L586.01,240.4 L586.34,240.0 L586.58,240.0 L586.67,239.9 L587.00,240.2 L587.33,240.7 L587.66,240.9 L587.99,240.9 L588.32,241.0 L588.65,240.6 L588.98,240.9 L589.31,240.7 L589.64,240.8 L589.97,240.9 L590.30,241.0 L590.63,240.9 L590.96,240.9 L591.29,240.0 L591.62,239.6 L591.95,238.9 L592.28,238.0 L592.61,237.6 L592.70,237.9 L592.94,238.0 L593.27,238.3 L593.53,239.2 L593.60,239.2 L593.93,240.1 L594.26,240.5 L594.59,241.0 L594.92,240.9 L595.25,241.2 L595.58,241.0 L595.91,241.0 L596.24,240.9 L596.57,240.7 L596.90,240.7 L597.23,241.1 L597.56,241.2 L597.89,240.7 L598.22,240.8 L598.55,240.9 L598.88,240.9 L599.21,241.2 L599.54,240.9 L599.87,240.8 L600.20,240.8 L600.53,240.9 L600.54,240.8 L600.86,240.9 L601.19,240.7 L601.52,241.0 L601.85,241.3 L602.18,240.9 L602.51,241.0 L602.84,241.2 L603.17,241.1 L603.50,241.1 L603.83,241.1 L604.16,241.2 L604.49,241.0 L604.82,241.0 L605.15,241.0 L605.48,241.1 L605.81,241.1 L606.14,241.3 L606.47,241.1 L606.80,241.1 L607.13,241.3 L607.46,241.4 L607.79,241.0 L608.12,241.3 L608.45,241.0 L608.78,241.3 L609.11,240.9 L609.44,241.1 L609.77,241.1 L610.10,241.1 L610.43,240.8 L610.68,240.4 L610.76,240.4 L611.09,240.3 L611.42,239.8 L611.75,239.8 L612.00,239.8 L612.08,239.9 L612.41,239.7 L612.74,240.2 L613.07,240.3 L613.40,240.9 L613.73,241.2 L614.06,241.1 L614.39,241.3 L614.72,241.3 L615.05,241.1 L615.38,241.0 L615.71,241.4 L616.04,241.1 L616.37,241.0 L616.70,241.2 L617.03,241.4 L617.36,241.5 L617.69,241.3 L618.02,241.5 L618.35,241.1 L618.68,241.3 L619.01,241.0 L619.34,241.1 L619.67,241.5 L620.00,241.0 L620.33,241.3 L620.66,241.0 L620.99,241.0 L621.08,240.8 L621.32,240.6 L621.65,241.0 L621.98,241.4 L622.31,240.8 L622.64,240.3 L622.97,240.1 L623.30,239.2 L623.63,238.5 L623.90,238.5 L623.96,238.4 L624.29,238.7 L624.62,239.4 L624.95,239.9 L625.28,240.5 L625.33,240.5 L625.61,240.7 L625.94,241.3 L626.27,241.2 L626.60,241.2 L626.93,241.1 L627.26,241.6 L627.59,241.2 L627.92,241.3 L628.25,241.5 L628.58,241.5 L628.91,241.4 L629.24,241.3 L629.57,241.4 L629.90,241.0 L630.23,240.9 L630.56,240.1 L630.88,240.0 L630.89,239.7 L631.22,239.7 L631.30,239.8 L631.55,239.6 L631.88,240.1 L632.21,240.7 L632.54,240.7 L632.87,241.0 L633.20,241.6 L633.53,241.4 L633.86,241.4 L634.19,241.7 L634.52,241.6 L634.85,241.3 L635.18,241.5 L635.51,241.3 L635.84,241.6 L636.17,241.5 L636.50,241.6 L636.83,241.2 L637.16,241.7 L637.49,241.3 L637.82,241.7 L638.15,241.5 L638.48,241.7 L638.81,241.3 L639.14,241.3 L639.47,241.5 L639.80,241.8 L640.13,241.5 L640.46,241.3 L640.75,241.1 L640.79,241.0 L641.12,241.3 L641.45,241.7 L641.78,241.7 L642.11,241.5 L642.44,241.4 L642.77,241.4 L643.10,241.8 L643.43,241.6 L643.76,241.4 L644.09,241.7 L644.42,241.4 L644.75,241.6 L645.08,241.8 L645.41,241.4 L645.74,241.4 L646.07,241.3 L646.40,241.4 L646.73,241.5 L647.06,241.5 L647.39,241.5 L647.72,241.3 L648.05,241.6 L648.38,241.6 L648.71,241.8" fill="none" stroke="#000" stroke-width="1.1" stroke-linejoin="round"/>
<polyline points="418.7,200 419.4,37.8 420.4,37.8 421.2,200" fill="none" stroke="#000" stroke-width="0.9"/>
<polyline points="392.8,238.6 393.3,224" fill="none" stroke="#a00808" stroke-width="0.8"/>
<polyline points="392.8,238.6 405,236.6" fill="none" stroke="#a00808" stroke-width="0.8"/>
<polyline points="409,237 425.5,229" fill="none" stroke="#a00808" stroke-width="0.8"/>
<polyline points="409.5,237 409.5,224" fill="none" stroke="#a00808" stroke-width="0.8"/>
<polyline points="420.5,232 421,212" fill="none" stroke="#a00808" stroke-width="0.8"/>
<polyline points="425.5,229 426,216" fill="none" stroke="#a00808" stroke-width="0.8"/>
<rect x="397.60" y="29.90" width="45.80" height="6.90" fill="#fff"/>
<text transform="translate(398.20,36.00) scale(1.85,1)" font-size="7.99" font-family='"Liberation Sans", sans-serif' font-weight="bold" fill="#14147a" stroke="#14147a" stroke-width="0.05" textLength="24.11" lengthAdjust="spacing">16.404</text>
<rect x="386.40" y="118.80" width="46.00" height="6.90" fill="#fff"/>
<text transform="translate(387.00,124.90) scale(1.85,1)" font-size="7.99" font-family='"Liberation Sans", sans-serif' font-weight="bold" fill="#14147a" stroke="#14147a" stroke-width="0.05" textLength="24.22" lengthAdjust="spacing">15.815</text>
<rect x="401.30" y="150.30" width="45.70" height="6.90" fill="#fff"/>
<text transform="translate(401.90,156.40) scale(1.85,1)" font-size="7.99" font-family='"Liberation Sans", sans-serif' font-weight="bold" fill="#14147a" stroke="#14147a" stroke-width="0.05" textLength="24.05" lengthAdjust="spacing">16.576</text>
<rect x="374.00" y="165.10" width="45.70" height="6.90" fill="#fff"/>
<text transform="translate(374.60,171.20) scale(1.85,1)" font-size="7.99" font-family='"Liberation Sans", sans-serif' font-weight="bold" fill="#14147a" stroke="#14147a" stroke-width="0.05" textLength="24.05" lengthAdjust="spacing">15.024</text>
<rect x="374.00" y="160.10" width="45.70" height="9.20" fill="#fff"/>
<text transform="translate(374.60,166.20) scale(1.85,1)" font-size="7.99" font-family='"Liberation Sans", sans-serif' font-weight="bold" fill="#14147a" stroke="#14147a" stroke-width="0.05" textLength="24.05" lengthAdjust="spacing">15.211</text>
<rect x="390.80" y="174.70" width="45.70" height="6.90" fill="#fff"/>
<text transform="translate(391.40,180.80) scale(1.85,1)" font-size="7.99" font-family='"Liberation Sans", sans-serif' font-weight="bold" fill="#14147a" stroke="#14147a" stroke-width="0.05" textLength="24.05" lengthAdjust="spacing">16.045</text>
<rect x="398.80" y="189.40" width="49.40" height="6.90" fill="#fff"/>
<text transform="translate(399.40,195.50) scale(1.85,1)" font-size="7.99" font-family='"Liberation Sans", sans-serif' font-weight="bold" fill="#14147a" stroke="#14147a" stroke-width="0.05" textLength="26.05" lengthAdjust="spacing">16.630</text>
<rect x="401.70" y="193.20" width="47.20" height="6.90" fill="#fff"/>
<text transform="translate(402.30,199.30) scale(1.85,1)" font-size="7.99" font-family='"Liberation Sans", sans-serif' font-weight="bold" fill="#14147a" stroke="#14147a" stroke-width="0.05" textLength="24.86" lengthAdjust="spacing">16.688</text>
<rect x="376.60" y="198.80" width="46.00" height="6.90" fill="#fff"/>
<text transform="translate(377.20,204.90) scale(1.85,1)" font-size="7.99" font-family='"Liberation Sans", sans-serif' font-weight="bold" fill="#14147a" stroke="#14147a" stroke-width="0.05" textLength="24.22" lengthAdjust="spacing">15.312</text>
<polyline points="371.4,160 371.4,164" fill="none" stroke="#000" stroke-width="0.8"/>
<polyline points="371.4,167 371.4,170" fill="none" stroke="#000" stroke-width="0.8"/>
<line x1="138.90" y1="319.00" x2="138.90" y2="526.20" stroke="#000" stroke-width="1"/>
<line x1="138.40" y1="525.70" x2="674.00" y2="525.70" stroke="#000" stroke-width="1"/>
<line x1="136.70" y1="525.70" x2="138.90" y2="525.70" stroke="#000" stroke-width="0.9"/>
<line x1="137.70" y1="523.05" x2="138.90" y2="523.05" stroke="#000" stroke-width="0.6"/>
<line x1="137.70" y1="520.40" x2="138.90" y2="520.40" stroke="#000" stroke-width="0.6"/>
<line x1="137.70" y1="517.75" x2="138.90" y2="517.75" stroke="#000" stroke-width="0.6"/>
<line x1="137.70" y1="515.10" x2="138.90" y2="515.10" stroke="#000" stroke-width="0.6"/>
<text transform="translate(126.18,528.40) scale(1.8365777777777774,1)" font-size="7.85" font-family='"Liberation Sans", sans-serif' font-weight="normal" fill="#000" stroke="#000" stroke-width="0.25" textLength="4.69" lengthAdjust="spacing">0</text>
<line x1="136.70" y1="512.45" x2="138.90" y2="512.45" stroke="#000" stroke-width="0.9"/>
<line x1="137.70" y1="509.80" x2="138.90" y2="509.80" stroke="#000" stroke-width="0.6"/>
<line x1="137.70" y1="507.15" x2="138.90" y2="507.15" stroke="#000" stroke-width="0.6"/>
<line x1="137.70" y1="504.50" x2="138.90" y2="504.50" stroke="#000" stroke-width="0.6"/>
<line x1="137.70" y1="501.85" x2="138.90" y2="501.85" stroke="#000" stroke-width="0.6"/>
<text transform="translate(91.27,515.15) scale(1.8365777777777774,1)" font-size="7.85" font-family='"Liberation Sans", sans-serif' font-weight="normal" fill="#000" stroke="#000" stroke-width="0.25" textLength="23.70" lengthAdjust="spacing">1e+07</text>
<line x1="136.70" y1="499.20" x2="138.90" y2="499.20" stroke="#000" stroke-width="0.9"/>
<line x1="137.70" y1="496.55" x2="138.90" y2="496.55" stroke="#000" stroke-width="0.6"/>
<line x1="137.70" y1="493.90" x2="138.90" y2="493.90" stroke="#000" stroke-width="0.6"/>
<line x1="137.70" y1="491.25" x2="138.90" y2="491.25" stroke="#000" stroke-width="0.6"/>
<line x1="137.70" y1="488.60" x2="138.90" y2="488.60" stroke="#000" stroke-width="0.6"/>
<text transform="translate(91.27,501.90) scale(1.8365777777777774,1)" font-size="7.85" font-family='"Liberation Sans", sans-serif' font-weight="normal" fill="#000" stroke="#000" stroke-width="0.25" textLength="23.70" lengthAdjust="spacing">2e+07</text>
<line x1="136.70" y1="485.95" x2="138.90" y2="485.95" stroke="#000" stroke-width="0.9"/>
<line x1="137.70" y1="483.30" x2="138.90" y2="483.30" stroke="#000" stroke-width="0.6"/>
<line x1="137.70" y1="480.65" x2="138.90" y2="480.65" stroke="#000" stroke-width="0.6"/>
<line x1="137.70" y1="478.00" x2="138.90" y2="478.00" stroke="#000" stroke-width="0.6"/>
<line x1="137.70" y1="475.35" x2="138.90" y2="475.35" stroke="#000" stroke-width="0.6"/>
<text transform="translate(91.27,488.65) scale(1.8365777777777774,1)" font-size="7.85" font-family='"Liberation Sans", sans-serif' font-weight="normal" fill="#000" stroke="#000" stroke-width="0.25" textLength="23.70" lengthAdjust="spacing">3e+07</text>
<line x1="136.70" y1="472.70" x2="138.90" y2="472.70" stroke="#000" stroke-width="0.9"/>
<line x1="137.70" y1="470.05" x2="138.90" y2="470.05" stroke="#000" stroke-width="0.6"/>
<line x1="137.70" y1="467.40" x2="138.90" y2="467.40" stroke="#000" stroke-width="0.6"/>
<line x1="137.70" y1="464.75" x2="138.90" y2="464.75" stroke="#000" stroke-width="0.6"/>
<line x1="137.70" y1="462.10" x2="138.90" y2="462.10" stroke="#000" stroke-width="0.6"/>
<text transform="translate(91.27,475.40) scale(1.8365777777777774,1)" font-size="7.85" font-family='"Liberation Sans", sans-serif' font-weight="normal" fill="#000" stroke="#000" stroke-width="0.25" textLength="23.70" lengthAdjust="spacing">4e+07</text>
<line x1="136.70" y1="459.45" x2="138.90" y2="459.45" stroke="#000" stroke-width="0.9"/>
<line x1="137.70" y1="456.80" x2="138.90" y2="456.80" stroke="#000" stroke-width="0.6"/>
<line x1="137.70" y1="454.15" x2="138.90" y2="454.15" stroke="#000" stroke-width="0.6"/>
<line x1="137.70" y1="451.50" x2="138.90" y2="451.50" stroke="#000" stroke-width="0.6"/>
<line x1="137.70" y1="448.85" x2="138.90" y2="448.85" stroke="#000" stroke-width="0.6"/>
<text transform="translate(91.27,462.15) scale(1.8365777777777774,1)" font-size="7.85" font-family='"Liberation Sans", sans-serif' font-weight="normal" fill="#000" stroke="#000" stroke-width="0.25" textLength="23.70" lengthAdjust="spacing">5e+07</text>
<line x1="136.70" y1="446.20" x2="138.90" y2="446.20" stroke="#000" stroke-width="0.9"/>
<line x1="137.70" y1="443.55" x2="138.90" y2="443.55" stroke="#000" stroke-width="0.6"/>
<line x1="137.70" y1="440.90" x2="138.90" y2="440.90" stroke="#000" stroke-width="0.6"/>
<line x1="137.70" y1="438.25" x2="138.90" y2="438.25" stroke="#000" stroke-width="0.6"/>
<line x1="137.70" y1="435.60" x2="138.90" y2="435.60" stroke="#000" stroke-width="0.6"/>
<text transform="translate(91.27,448.90) scale(1.8365777777777774,1)" font-size="7.85" font-family='"Liberation Sans", sans-serif' font-weight="normal" fill="#000" stroke="#000" stroke-width="0.25" textLength="23.70" lengthAdjust="spacing">6e+07</text>
<line x1="136.70" y1="432.95" x2="138.90" y2="432.95" stroke="#000" stroke-width="0.9"/>
<line x1="137.70" y1="430.30" x2="138.90" y2="430.30" stroke="#000" stroke-width="0.6"/>
<line x1="137.70" y1="427.65" x2="138.90" y2="427.65" stroke="#000" stroke-width="0.6"/>
<line x1="137.70" y1="425.00" x2="138.90" y2="425.00" stroke="#000" stroke-width="0.6"/>
<line x1="137.70" y1="422.35" x2="138.90" y2="422.35" stroke="#000" stroke-width="0.6"/>
<text transform="translate(91.27,435.65) scale(1.8365777777777774,1)" font-size="7.85" font-family='"Liberation Sans", sans-serif' font-weight="normal" fill="#000" stroke="#000" stroke-width="0.25" textLength="23.70" lengthAdjust="spacing">7e+07</text>
<line x1="136.70" y1="419.70" x2="138.90" y2="419.70" stroke="#000" stroke-width="0.9"/>
<line x1="137.70" y1="417.05" x2="138.90" y2="417.05" stroke="#000" stroke-width="0.6"/>
<line x1="137.70" y1="414.40" x2="138.90" y2="414.40" stroke="#000" stroke-width="0.6"/>
<line x1="137.70" y1="411.75" x2="138.90" y2="411.75" stroke="#000" stroke-width="0.6"/>
<line x1="137.70" y1="409.10" x2="138.90" y2="409.10" stroke="#000" stroke-width="0.6"/>
<text transform="translate(91.27,422.40) scale(1.8365777777777774,1)" font-size="7.85" font-family='"Liberation Sans", sans-serif' font-weight="normal" fill="#000" stroke="#000" stroke-width="0.25" textLength="23.70" lengthAdjust="spacing">8e+07</text>
<line x1="136.70" y1="406.45" x2="138.90" y2="406.45" stroke="#000" stroke-width="0.9"/>
<line x1="137.70" y1="403.80" x2="138.90" y2="403.80" stroke="#000" stroke-width="0.6"/>
<line x1="137.70" y1="401.15" x2="138.90" y2="401.15" stroke="#000" stroke-width="0.6"/>
<line x1="137.70" y1="398.50" x2="138.90" y2="398.50" stroke="#000" stroke-width="0.6"/>
<line x1="137.70" y1="395.85" x2="138.90" y2="395.85" stroke="#000" stroke-width="0.6"/>
<text transform="translate(91.27,409.15) scale(1.8365777777777774,1)" font-size="7.85" font-family='"Liberation Sans", sans-serif' font-weight="normal" fill="#000" stroke="#000" stroke-width="0.25" textLength="23.70" lengthAdjust="spacing">9e+07</text>
<line x1="136.70" y1="393.20" x2="138.90" y2="393.20" stroke="#000" stroke-width="0.9"/>
<line x1="137.70" y1="390.55" x2="138.90" y2="390.55" stroke="#000" stroke-width="0.6"/>
<line x1="137.70" y1="387.90" x2="138.90" y2="387.90" stroke="#000" stroke-width="0.6"/>
<line x1="137.70" y1="385.25" x2="138.90" y2="385.25" stroke="#000" stroke-width="0.6"/>
<line x1="137.70" y1="382.60" x2="138.90" y2="382.60" stroke="#000" stroke-width="0.6"/>
<text transform="translate(91.27,395.90) scale(1.8365777777777774,1)" font-size="7.85" font-family='"Liberation Sans", sans-serif' font-weight="normal" fill="#000" stroke="#000" stroke-width="0.25" textLength="23.70" lengthAdjust="spacing">1e+08</text>
<line x1="136.70" y1="379.95" x2="138.90" y2="379.95" stroke="#000" stroke-width="0.9"/>
<line x1="137.70" y1="377.30" x2="138.90" y2="377.30" stroke="#000" stroke-width="0.6"/>
<line x1="137.70" y1="374.65" x2="138.90" y2="374.65" stroke="#000" stroke-width="0.6"/>
<line x1="137.70" y1="372.00" x2="138.90" y2="372.00" stroke="#000" stroke-width="0.6"/>
<line x1="137.70" y1="369.35" x2="138.90" y2="369.35" stroke="#000" stroke-width="0.6"/>
<text transform="translate(78.34,382.65) scale(1.8365777777777776,1)" font-size="7.85" font-family='"Liberation Sans", sans-serif' font-weight="normal" fill="#000" stroke="#000" stroke-width="0.25" textLength="30.74" lengthAdjust="spacing">1.1e+08</text>
<line x1="136.70" y1="366.70" x2="138.90" y2="366.70" stroke="#000" stroke-width="0.9"/>
<line x1="137.70" y1="364.05" x2="138.90" y2="364.05" stroke="#000" stroke-width="0.6"/>
<line x1="137.70" y1="361.40" x2="138.90" y2="361.40" stroke="#000" stroke-width="0.6"/>
<line x1="137.70" y1="358.75" x2="138.90" y2="358.75" stroke="#000" stroke-width="0.6"/>
<line x1="137.70" y1="356.10" x2="138.90" y2="356.10" stroke="#000" stroke-width="0.6"/>
<text transform="translate(78.34,369.40) scale(1.8365777777777776,1)" font-size="7.85" font-family='"Liberation Sans", sans-serif' font-weight="normal" fill="#000" stroke="#000" stroke-width="0.25" textLength="30.74" lengthAdjust="spacing">1.2e+08</text>
<line x1="136.70" y1="353.45" x2="138.90" y2="353.45" stroke="#000" stroke-width="0.9"/>
<line x1="137.70" y1="350.80" x2="138.90" y2="350.80" stroke="#000" stroke-width="0.6"/>
<line x1="137.70" y1="348.15" x2="138.90" y2="348.15" stroke="#000" stroke-width="0.6"/>
<line x1="137.70" y1="345.50" x2="138.90" y2="345.50" stroke="#000" stroke-width="0.6"/>
<line x1="137.70" y1="342.85" x2="138.90" y2="342.85" stroke="#000" stroke-width="0.6"/>
<text transform="translate(78.34,356.15) scale(1.8365777777777776,1)" font-size="7.85" font-family='"Liberation Sans", sans-serif' font-weight="normal" fill="#000" stroke="#000" stroke-width="0.25" textLength="30.74" lengthAdjust="spacing">1.3e+08</text>
<line x1="136.70" y1="340.20" x2="138.90" y2="340.20" stroke="#000" stroke-width="0.9"/>
<line x1="137.70" y1="337.55" x2="138.90" y2="337.55" stroke="#000" stroke-width="0.6"/>
<line x1="137.70" y1="334.90" x2="138.90" y2="334.90" stroke="#000" stroke-width="0.6"/>
<line x1="137.70" y1="332.25" x2="138.90" y2="332.25" stroke="#000" stroke-width="0.6"/>
<line x1="137.70" y1="329.60" x2="138.90" y2="329.60" stroke="#000" stroke-width="0.6"/>
<text transform="translate(78.34,342.90) scale(1.8365777777777776,1)" font-size="7.85" font-family='"Liberation Sans", sans-serif' font-weight="normal" fill="#000" stroke="#000" stroke-width="0.25" textLength="30.74" lengthAdjust="spacing">1.4e+08</text>
<line x1="136.70" y1="326.95" x2="138.90" y2="326.95" stroke="#000" stroke-width="0.9"/>
<line x1="137.70" y1="324.30" x2="138.90" y2="324.30" stroke="#000" stroke-width="0.6"/>
<line x1="137.70" y1="321.65" x2="138.90" y2="321.65" stroke="#000" stroke-width="0.6"/>
<line x1="137.70" y1="319.00" x2="138.90" y2="319.00" stroke="#000" stroke-width="0.6"/>
<text transform="translate(78.34,329.65) scale(1.8365777777777776,1)" font-size="7.85" font-family='"Liberation Sans", sans-serif' font-weight="normal" fill="#000" stroke="#000" stroke-width="0.25" textLength="30.74" lengthAdjust="spacing">1.5e+08</text>
<line x1="144.41" y1="525.70" x2="144.41" y2="528.10" stroke="#000" stroke-width="0.8"/>
<line x1="152.58" y1="525.70" x2="152.58" y2="528.10" stroke="#000" stroke-width="0.8"/>
<line x1="160.76" y1="525.70" x2="160.76" y2="528.10" stroke="#000" stroke-width="0.8"/>
<line x1="168.93" y1="525.70" x2="168.93" y2="528.10" stroke="#000" stroke-width="0.8"/>
<line x1="177.10" y1="525.70" x2="177.10" y2="529.50" stroke="#000" stroke-width="1.0"/>
<line x1="185.27" y1="525.70" x2="185.27" y2="528.10" stroke="#000" stroke-width="0.8"/>
<line x1="193.44" y1="525.70" x2="193.44" y2="528.10" stroke="#000" stroke-width="0.8"/>
<line x1="201.62" y1="525.70" x2="201.62" y2="528.10" stroke="#000" stroke-width="0.8"/>
<line x1="209.79" y1="525.70" x2="209.79" y2="528.10" stroke="#000" stroke-width="0.8"/>
<line x1="217.96" y1="525.70" x2="217.96" y2="529.50" stroke="#000" stroke-width="1.0"/>
<line x1="226.13" y1="525.70" x2="226.13" y2="528.10" stroke="#000" stroke-width="0.8"/>
<line x1="234.30" y1="525.70" x2="234.30" y2="528.10" stroke="#000" stroke-width="0.8"/>
<line x1="242.48" y1="525.70" x2="242.48" y2="528.10" stroke="#000" stroke-width="0.8"/>
<line x1="250.65" y1="525.70" x2="250.65" y2="528.10" stroke="#000" stroke-width="0.8"/>
<line x1="258.82" y1="525.70" x2="258.82" y2="529.50" stroke="#000" stroke-width="1.0"/>
<line x1="266.99" y1="525.70" x2="266.99" y2="528.10" stroke="#000" stroke-width="0.8"/>
<line x1="275.16" y1="525.70" x2="275.16" y2="528.10" stroke="#000" stroke-width="0.8"/>
<line x1="283.34" y1="525.70" x2="283.34" y2="528.10" stroke="#000" stroke-width="0.8"/>
<line x1="291.51" y1="525.70" x2="291.51" y2="528.10" stroke="#000" stroke-width="0.8"/>
<line x1="299.68" y1="525.70" x2="299.68" y2="529.50" stroke="#000" stroke-width="1.0"/>
<line x1="307.85" y1="525.70" x2="307.85" y2="528.10" stroke="#000" stroke-width="0.8"/>
<line x1="316.02" y1="525.70" x2="316.02" y2="528.10" stroke="#000" stroke-width="0.8"/>
<line x1="324.20" y1="525.70" x2="324.20" y2="528.10" stroke="#000" stroke-width="0.8"/>
<line x1="332.37" y1="525.70" x2="332.37" y2="528.10" stroke="#000" stroke-width="0.8"/>
<line x1="340.54" y1="525.70" x2="340.54" y2="529.50" stroke="#000" stroke-width="1.0"/>
<line x1="348.71" y1="525.70" x2="348.71" y2="528.10" stroke="#000" stroke-width="0.8"/>
<line x1="356.88" y1="525.70" x2="356.88" y2="528.10" stroke="#000" stroke-width="0.8"/>
<line x1="365.06" y1="525.70" x2="365.06" y2="528.10" stroke="#000" stroke-width="0.8"/>
<line x1="373.23" y1="525.70" x2="373.23" y2="528.10" stroke="#000" stroke-width="0.8"/>
<line x1="381.40" y1="525.70" x2="381.40" y2="529.50" stroke="#000" stroke-width="1.0"/>
<line x1="389.57" y1="525.70" x2="389.57" y2="528.10" stroke="#000" stroke-width="0.8"/>
<line x1="397.74" y1="525.70" x2="397.74" y2="528.10" stroke="#000" stroke-width="0.8"/>
<line x1="405.92" y1="525.70" x2="405.92" y2="528.10" stroke="#000" stroke-width="0.8"/>
<line x1="414.09" y1="525.70" x2="414.09" y2="528.10" stroke="#000" stroke-width="0.8"/>
<line x1="422.26" y1="525.70" x2="422.26" y2="529.50" stroke="#000" stroke-width="1.0"/>
<line x1="430.43" y1="525.70" x2="430.43" y2="528.10" stroke="#000" stroke-width="0.8"/>
<line x1="438.60" y1="525.70" x2="438.60" y2="528.10" stroke="#000" stroke-width="0.8"/>
<line x1="446.78" y1="525.70" x2="446.78" y2="528.10" stroke="#000" stroke-width="0.8"/>
<line x1="454.95" y1="525.70" x2="454.95" y2="528.10" stroke="#000" stroke-width="0.8"/>
<line x1="463.12" y1="525.70" x2="463.12" y2="529.50" stroke="#000" stroke-width="1.0"/>
<line x1="471.29" y1="525.70" x2="471.29" y2="528.10" stroke="#000" stroke-width="0.8"/>
<line x1="479.46" y1="525.70" x2="479.46" y2="528.10" stroke="#000" stroke-width="0.8"/>
<line x1="487.64" y1="525.70" x2="487.64" y2="528.10" stroke="#000" stroke-width="0.8"/>
<line x1="495.81" y1="525.70" x2="495.81" y2="528.10" stroke="#000" stroke-width="0.8"/>
<line x1="503.98" y1="525.70" x2="503.98" y2="529.50" stroke="#000" stroke-width="1.0"/>
<line x1="512.15" y1="525.70" x2="512.15" y2="528.10" stroke="#000" stroke-width="0.8"/>
<line x1="520.32" y1="525.70" x2="520.32" y2="528.10" stroke="#000" stroke-width="0.8"/>
<line x1="528.50" y1="525.70" x2="528.50" y2="528.10" stroke="#000" stroke-width="0.8"/>
<line x1="536.67" y1="525.70" x2="536.67" y2="528.10" stroke="#000" stroke-width="0.8"/>
<line x1="544.84" y1="525.70" x2="544.84" y2="529.50" stroke="#000" stroke-width="1.0"/>
<line x1="553.01" y1="525.70" x2="553.01" y2="528.10" stroke="#000" stroke-width="0.8"/>
<line x1="561.18" y1="525.70" x2="561.18" y2="528.10" stroke="#000" stroke-width="0.8"/>
<line x1="569.36" y1="525.70" x2="569.36" y2="528.10" stroke="#000" stroke-width="0.8"/>
<line x1="577.53" y1="525.70" x2="577.53" y2="528.10" stroke="#000" stroke-width="0.8"/>
<line x1="585.70" y1="525.70" x2="585.70" y2="529.50" stroke="#000" stroke-width="1.0"/>
<line x1="593.87" y1="525.70" x2="593.87" y2="528.10" stroke="#000" stroke-width="0.8"/>
<line x1="602.04" y1="525.70" x2="602.04" y2="528.10" stroke="#000" stroke-width="0.8"/>
<line x1="610.22" y1="525.70" x2="610.22" y2="528.10" stroke="#000" stroke-width="0.8"/>
<line x1="618.39" y1="525.70" x2="618.39" y2="528.10" stroke="#000" stroke-width="0.8"/>
<line x1="626.56" y1="525.70" x2="626.56" y2="529.50" stroke="#000" stroke-width="1.0"/>
<line x1="634.73" y1="525.70" x2="634.73" y2="528.10" stroke="#000" stroke-width="0.8"/>
<line x1="642.90" y1="525.70" x2="642.90" y2="528.10" stroke="#000" stroke-width="0.8"/>
<line x1="651.08" y1="525.70" x2="651.08" y2="528.10" stroke="#000" stroke-width="0.8"/>
<line x1="659.25" y1="525.70" x2="659.25" y2="528.10" stroke="#000" stroke-width="0.8"/>
<line x1="667.42" y1="525.70" x2="667.42" y2="529.50" stroke="#000" stroke-width="1.0"/>
<text transform="translate(161.92,536.40) scale(1.9195199999999992,1)" font-size="7.56" font-family='"Liberation Sans", sans-serif' font-weight="normal" fill="#000" stroke="#000" stroke-width="0.23" textLength="15.82" lengthAdjust="spacing">4.00</text>
<text transform="translate(202.78,536.40) scale(1.9195199999999992,1)" font-size="7.56" font-family='"Liberation Sans", sans-serif' font-weight="normal" fill="#000" stroke="#000" stroke-width="0.23" textLength="15.82" lengthAdjust="spacing">6.00</text>
<text transform="translate(243.64,536.40) scale(1.919520000000001,1)" font-size="7.56" font-family='"Liberation Sans", sans-serif' font-weight="normal" fill="#000" stroke="#000" stroke-width="0.23" textLength="15.82" lengthAdjust="spacing">8.00</text>
<text transform="translate(280.16,536.40) scale(1.9195199999999997,1)" font-size="7.56" font-family='"Liberation Sans", sans-serif' font-weight="normal" fill="#000" stroke="#000" stroke-width="0.23" textLength="20.34" lengthAdjust="spacing">10.00</text>
<text transform="translate(321.02,536.40) scale(1.9195199999999997,1)" font-size="7.56" font-family='"Liberation Sans", sans-serif' font-weight="normal" fill="#000" stroke="#000" stroke-width="0.23" textLength="20.34" lengthAdjust="spacing">12.00</text>
<text transform="translate(361.88,536.40) scale(1.9195199999999997,1)" font-size="7.56" font-family='"Liberation Sans", sans-serif' font-weight="normal" fill="#000" stroke="#000" stroke-width="0.23" textLength="20.34" lengthAdjust="spacing">14.00</text>
<text transform="translate(402.74,536.40) scale(1.9195199999999997,1)" font-size="7.56" font-family='"Liberation Sans", sans-serif' font-weight="normal" fill="#000" stroke="#000" stroke-width="0.23" textLength="20.34" lengthAdjust="spacing">16.00</text>
<text transform="translate(443.60,536.40) scale(1.9195199999999997,1)" font-size="7.56" font-family='"Liberation Sans", sans-serif' font-weight="normal" fill="#000" stroke="#000" stroke-width="0.23" textLength="20.34" lengthAdjust="spacing">18.00</text>
<text transform="translate(484.46,536.40) scale(1.9195199999999997,1)" font-size="7.56" font-family='"Liberation Sans", sans-serif' font-weight="normal" fill="#000" stroke="#000" stroke-width="0.23" textLength="20.34" lengthAdjust="spacing">20.00</text>
<text transform="translate(525.32,536.40) scale(1.9195199999999997,1)" font-size="7.56" font-family='"Liberation Sans", sans-serif' font-weight="normal" fill="#000" stroke="#000" stroke-width="0.23" textLength="20.34" lengthAdjust="spacing">22.00</text>
<text transform="translate(566.18,536.40) scale(1.9195199999999997,1)" font-size="7.56" font-family='"Liberation Sans", sans-serif' font-weight="normal" fill="#000" stroke="#000" stroke-width="0.23" textLength="20.34" lengthAdjust="spacing">24.00</text>
<text transform="translate(607.04,536.40) scale(1.9195199999999997,1)" font-size="7.56" font-family='"Liberation Sans", sans-serif' font-weight="normal" fill="#000" stroke="#000" stroke-width="0.23" textLength="20.34" lengthAdjust="spacing">26.00</text>
<text transform="translate(47.00,294.30) scale(2.0052088297731143,1)" font-size="7.27" font-family='"Liberation Sans", sans-serif' font-weight="bold" fill="#14147a" stroke="#14147a" stroke-width="0.07" textLength="40.79" lengthAdjust="spacing">Abundance</text>
<text transform="translate(47.50,548.40) scale(1.8229792199806887,1)" font-size="7.56" font-family='"Liberation Sans", sans-serif' font-weight="bold" fill="#14147a" stroke="#14147a" stroke-width="0.08" textLength="18.19" lengthAdjust="spacing">Time</text>
<line x1="81.17" y1="546.10" x2="92.22" y2="546.10" stroke="#14147a" stroke-width="0.9"/>
<text transform="translate(90.93,548.40) scale(1.7508559592487773,1)" font-size="7.56" font-family='"Liberation Sans", sans-serif' font-weight="bold" fill="#14147a" stroke="#14147a" stroke-width="0.09" textLength="4.55" lengthAdjust="spacing">&gt;</text>
<text transform="translate(175.90,317.70) scale(1.7726361301793288,1)" font-size="7.99" font-family='"Liberation Sans", sans-serif' font-weight="normal" fill="#000" stroke="#000" stroke-width="0.23" textLength="260.46" lengthAdjust="spacing">TIC: GANJA LHOKSEUMAWE SEDIKITT METANOL.D\ data.ms</text>
<text x="0.00" y="394.80" font-size="21.07" font-family='"Liberation Serif", serif' font-weight="normal" fill="#ee0000" stroke="#ee0000" stroke-width="0.35" textLength="12.60" lengthAdjust="spacingAndGlyphs">B</text>
<polygon points="402.5,520.6 402.7,510 403.5,520.5" fill="#a00808" fill-opacity="0.9"/>
<polygon points="429.5,517 430,503 432,503 433,516.4" fill="#a00808" fill-opacity="0.9"/>
<polygon points="434,516.3 434.5,506 435.5,516" fill="#a00808" fill-opacity="0.9"/>
<path d="M139.40,525.0 L139.73,525.1 L140.06,525.0 L140.39,525.0 L140.72,525.3 L141.05,524.9 L141.38,525.2 L141.71,525.0 L142.04,525.0 L142.37,524.9 L142.70,524.8 L143.03,525.0 L143.36,524.8 L143.69,524.9 L144.02,524.8 L144.35,525.2 L144.68,525.2 L145.01,524.9 L145.34,525.0 L145.67,525.2 L146.00,524.8 L146.33,524.7 L146.66,524.8 L146.99,524.8 L147.32,525.0 L147.65,524.2 L147.98,522.5 L148.30,521.5 L148.31,521.3 L148.64,522.9 L148.97,524.4 L149.30,524.8 L149.63,524.8 L149.96,522.8 L150.19,521.3 L150.29,521.2 L150.30,521.0 L150.62,522.8 L150.95,524.8 L151.28,525.1 L151.61,525.0 L151.94,524.4 L152.27,522.9 L152.40,522.5 L152.60,523.2 L152.93,524.3 L153.26,525.0 L153.59,524.8 L153.92,524.1 L154.25,523.7 L154.29,523.9 L154.58,524.3 L154.91,524.5 L155.24,524.9 L155.57,525.2 L155.90,524.8 L156.23,524.9 L156.56,520.6 L156.80,518.2 L156.89,518.5 L157.22,523.5 L157.55,525.2 L157.88,525.2 L158.21,525.2 L158.54,525.0 L158.87,525.1 L159.20,524.9 L159.53,525.2 L159.86,525.0 L160.19,524.9 L160.52,525.1 L160.85,524.9 L161.18,525.0 L161.51,525.3 L161.84,524.7 L162.17,524.2 L162.47,524.1 L162.50,523.8 L162.83,524.5 L163.16,524.8 L163.49,525.0 L163.82,524.9 L164.15,524.9 L164.48,525.1 L164.81,525.0 L165.14,525.0 L165.47,525.2 L165.80,524.9 L166.13,524.9 L166.46,525.3 L166.79,525.1 L167.12,525.3 L167.45,524.9 L167.78,525.1 L168.11,525.3 L168.44,525.0 L168.77,525.3 L169.10,525.2 L169.43,525.0 L169.76,525.1 L170.09,524.5 L170.22,524.6 L170.42,524.7 L170.75,524.8 L171.08,525.3 L171.41,525.2 L171.74,525.2 L172.07,525.1 L172.40,525.4 L172.73,525.4 L173.06,525.3 L173.39,525.1 L173.72,525.1 L174.05,525.1 L174.38,524.7 L174.71,523.4 L175.00,522.0 L175.04,521.8 L175.37,524.4 L175.70,525.2 L176.03,525.2 L176.36,524.3 L176.69,523.8 L176.74,524.0 L177.02,524.0 L177.35,522.7 L177.50,522.5 L177.68,522.9 L178.01,524.6 L178.34,525.2 L178.67,524.9 L179.00,525.4 L179.33,525.2 L179.66,524.8 L179.99,525.3 L180.32,525.0 L180.65,525.1 L180.98,525.1 L181.31,524.9 L181.64,525.1 L181.97,524.8 L182.30,524.9 L182.63,525.3 L182.96,525.3 L183.29,525.1 L183.62,525.2 L183.95,525.3 L184.28,524.9 L184.61,525.1 L184.94,524.9 L185.27,524.9 L185.60,524.9 L185.93,524.9 L186.26,524.7 L186.59,524.5 L186.92,524.2 L187.20,524.1 L187.25,524.3 L187.58,524.6 L187.91,524.9 L188.24,525.0 L188.57,525.3 L188.90,524.9 L189.23,524.8 L189.56,525.2 L189.89,525.1 L190.22,524.9 L190.55,525.0 L190.88,524.9 L191.21,525.0 L191.54,525.0 L191.87,525.0 L192.20,525.2 L192.53,525.2 L192.86,525.1 L193.19,525.0 L193.52,524.6 L193.81,524.6 L193.85,524.8 L194.18,524.7 L194.51,525.1 L194.84,525.2 L195.17,525.1 L195.50,524.8 L195.83,525.1 L196.16,524.9 L196.49,524.9 L196.82,525.0 L197.15,524.7 L197.48,524.3 L197.51,524.3 L197.81,524.6 L198.14,524.9 L198.47,524.8 L198.80,525.2 L199.13,525.2 L199.46,525.2 L199.79,525.1 L200.12,524.8 L200.45,524.9 L200.78,524.8 L201.11,525.1 L201.44,525.0 L201.77,524.8 L202.10,525.3 L202.43,525.3 L202.76,525.1 L203.09,524.6 L203.42,524.1 L203.67,524.1 L203.75,524.2 L204.08,524.5 L204.41,524.7 L204.74,525.2 L205.07,525.0 L205.40,525.0 L205.73,525.0 L206.06,525.1 L206.39,525.0 L206.72,525.1 L207.05,524.8 L207.38,525.1 L207.71,524.9 L208.04,525.2 L208.37,524.8 L208.70,524.9 L209.03,525.0 L209.36,524.9 L209.69,525.0 L210.02,525.2 L210.35,524.8 L210.68,525.0 L211.01,524.6 L211.09,524.6 L211.34,524.6 L211.67,524.9 L212.00,524.9 L212.33,525.0 L212.66,524.9 L212.99,524.8 L213.32,525.0 L213.65,524.8 L213.98,525.0 L214.31,525.0 L214.64,524.9 L214.97,524.8 L215.30,525.0 L215.63,525.2 L215.96,524.8 L216.29,524.9 L216.62,524.4 L216.87,524.1 L216.95,524.1 L217.28,524.5 L217.61,524.8 L217.94,525.2 L218.27,524.9 L218.60,524.7 L218.93,525.2 L219.26,524.8 L219.59,524.9 L219.92,524.9 L220.25,524.8 L220.58,525.1 L220.91,524.9 L221.24,524.9 L221.57,524.9 L221.90,525.1 L222.23,524.6 L222.56,523.9 L222.89,520.3 L223.10,519.4 L223.22,519.8 L223.55,523.1 L223.88,524.5 L224.21,525.0 L224.54,525.2 L224.87,525.0 L225.20,524.9 L225.53,525.1 L225.86,525.2 L226.19,524.7 L226.52,524.8 L226.85,524.9 L227.18,524.6 L227.36,524.4 L227.51,524.5 L227.84,524.9 L228.17,524.9 L228.50,525.0 L228.83,524.9 L229.16,524.8 L229.49,524.8 L229.82,524.7 L230.15,524.9 L230.48,524.5 L230.81,524.6 L231.14,524.3 L231.47,524.2 L231.80,524.3 L232.13,523.8 L232.46,523.6 L232.79,523.3 L233.12,522.9 L233.45,522.3 L233.78,515.9 L234.11,496.9 L234.30,490.9 L234.44,494.4 L234.77,513.5 L235.10,513.1 L235.43,511.6 L235.76,510.6 L235.80,510.7 L236.09,510.9 L236.42,512.7 L236.75,512.2 L237.00,512.0 L237.08,512.0 L237.11,512.0 L237.41,512.6 L237.74,513.4 L238.07,514.8 L238.40,516.7 L238.73,518.1 L239.06,519.4 L239.39,520.5 L239.72,521.3 L240.05,521.7 L240.38,522.0 L240.71,522.3 L241.04,521.9 L241.37,522.2 L241.70,521.9 L242.03,522.3 L242.36,522.1 L242.69,521.6 L243.02,520.7 L243.35,519.6 L243.52,519.3 L243.68,519.7 L244.01,520.7 L244.34,521.8 L244.67,522.2 L245.00,521.2 L245.33,519.4 L245.65,519.0 L245.66,518.8 L245.99,520.0 L246.32,521.3 L246.65,521.7 L246.98,520.5 L247.30,519.6 L247.31,519.8 L247.64,520.1 L247.97,521.6 L248.30,522.4 L248.63,522.1 L248.96,522.3 L249.29,521.6 L249.62,520.4 L249.71,520.3 L249.95,520.4 L250.28,521.8 L250.61,522.4 L250.94,522.4 L251.27,522.4 L251.60,522.7 L251.93,522.3 L252.26,522.2 L252.59,522.1 L252.92,520.9 L253.25,519.6 L253.27,519.5 L253.58,520.4 L253.91,522.2 L254.24,522.2 L254.57,522.0 L254.90,521.1 L255.23,519.8 L255.40,519.4 L255.56,519.8 L255.89,520.7 L256.22,522.2 L256.55,522.3 L256.88,522.4 L257.21,521.7 L257.54,519.9 L257.81,519.5 L257.87,519.4 L258.20,520.7 L258.53,522.3 L258.86,522.4 L259.19,522.7 L259.52,522.8 L259.85,522.7 L260.18,522.8 L260.51,521.6 L260.84,521.2 L260.87,521.3 L261.17,521.6 L261.50,522.8 L261.83,522.8 L262.16,522.6 L262.49,522.0 L262.82,521.4 L262.93,521.5 L263.15,521.8 L263.48,522.4 L263.81,522.6 L264.14,522.9 L264.47,522.7 L264.80,522.8 L265.13,522.7 L265.46,523.0 L265.79,521.9 L266.12,507.9 L266.45,482.9 L266.50,482.2 L266.78,499.1 L267.11,519.7 L267.44,522.7 L267.77,522.0 L268.10,520.8 L268.43,520.3 L268.47,520.2 L268.76,520.9 L269.09,522.0 L269.42,522.4 L269.75,522.8 L270.08,523.0 L270.41,522.5 L270.74,520.9 L270.98,520.4 L271.07,520.5 L271.40,521.5 L271.73,522.8 L272.06,522.8 L272.39,521.9 L272.72,517.6 L272.80,517.4 L273.05,519.7 L273.38,522.1 L273.70,521.5 L273.71,521.7 L274.04,522.3 L274.37,522.8 L274.70,523.0 L275.03,523.2 L275.36,522.8 L275.69,521.9 L276.02,521.0 L276.23,520.5 L276.35,520.6 L276.68,521.6 L277.01,522.2 L277.34,521.2 L277.67,520.2 L278.00,520.9 L278.33,522.3 L278.66,523.0 L278.99,523.0 L279.32,520.3 L279.65,514.0 L279.70,513.7 L279.98,518.1 L280.31,522.7 L280.64,522.6 L280.97,520.8 L281.19,520.2 L281.30,520.6 L281.63,522.3 L281.96,522.5 L282.29,520.9 L282.59,514.0 L282.62,513.4 L282.70,513.0 L282.95,517.3 L283.28,522.7 L283.61,522.9 L283.94,522.4 L284.27,521.7 L284.40,521.8 L284.60,521.8 L284.93,518.5 L285.20,515.0 L285.26,515.1 L285.59,520.9 L285.92,523.1 L286.25,522.5 L286.58,522.1 L286.91,521.3 L286.96,521.5 L287.24,521.8 L287.57,522.4 L287.90,523.0 L288.23,522.0 L288.56,520.9 L288.74,521.0 L288.89,520.8 L289.22,522.0 L289.55,522.8 L289.88,522.8 L290.21,522.9 L290.54,522.4 L290.87,521.2 L291.20,519.6 L291.40,519.0 L291.53,519.2 L291.78,520.2 L291.86,520.5 L292.19,522.3 L292.52,522.7 L292.85,522.6 L293.18,522.3 L293.46,521.9 L293.51,522.0 L293.84,522.3 L294.17,522.7 L294.50,523.1 L294.83,523.1 L295.16,523.0 L295.49,523.3 L295.82,523.4 L296.15,522.9 L296.48,522.8 L296.81,521.7 L297.09,520.3 L297.14,520.2 L297.47,522.2 L297.80,522.6 L298.13,521.3 L298.40,520.1 L298.46,520.1 L298.79,521.6 L299.12,522.9 L299.45,522.8 L299.78,521.2 L300.04,520.5 L300.11,520.3 L300.44,522.2 L300.77,523.3 L301.10,523.3 L301.43,523.2 L301.76,522.7 L302.09,520.0 L302.25,519.7 L302.42,520.4 L302.75,522.3 L303.08,520.9 L303.41,514.9 L303.50,514.2 L303.74,517.5 L303.88,520.6 L304.07,521.8 L304.40,522.6 L304.73,523.3 L305.06,523.0 L305.39,523.1 L305.72,523.0 L306.05,522.5 L306.38,522.3 L306.67,521.8 L306.71,521.9 L307.04,522.4 L307.37,522.7 L307.70,523.3 L308.03,522.8 L308.36,522.2 L308.69,521.0 L308.76,521.0 L309.02,521.9 L309.35,522.9 L309.68,523.2 L310.01,522.9 L310.34,522.8 L310.67,523.2 L311.00,522.6 L311.33,521.9 L311.66,520.2 L311.93,519.8 L311.99,519.8 L312.32,520.8 L312.65,522.1 L312.98,522.8 L313.31,523.1 L313.64,522.8 L313.97,522.7 L314.30,522.5 L314.63,521.4 L314.96,520.5 L315.07,520.3 L315.29,520.7 L315.62,521.6 L315.95,522.9 L316.28,522.7 L316.61,522.7 L316.94,522.3 L317.27,521.1 L317.50,520.4 L317.60,520.7 L317.93,522.3 L318.26,521.7 L318.59,519.0 L318.70,518.7 L318.92,519.9 L319.25,521.9 L319.54,520.9 L319.58,520.8 L319.91,521.8 L320.24,522.6 L320.57,523.0 L320.90,523.0 L321.23,523.1 L321.56,523.1 L321.89,522.7 L322.22,523.0 L322.55,522.4 L322.88,520.7 L322.98,520.5 L323.21,521.0 L323.54,522.3 L323.87,522.9 L324.20,523.1 L324.53,522.4 L324.86,522.2 L325.19,521.7 L325.21,521.5 L325.52,522.1 L325.85,522.4 L326.18,522.2 L326.51,510.0 L326.84,476.3 L326.90,474.7 L327.17,497.0 L327.50,521.0 L327.83,522.9 L328.16,522.8 L328.49,521.5 L328.82,520.2 L328.86,520.4 L329.15,521.1 L329.48,522.5 L329.81,522.8 L330.14,522.9 L330.47,523.0 L330.80,521.8 L331.13,520.7 L331.16,520.5 L331.46,521.5 L331.79,522.5 L332.12,523.0 L332.45,522.3 L332.76,521.7 L332.78,521.8 L333.11,522.3 L333.44,522.7 L333.77,522.8 L334.10,521.3 L334.41,520.2 L334.43,520.2 L334.76,510.2 L334.90,507.7 L335.09,511.9 L335.42,521.5 L335.75,522.5 L336.08,522.3 L336.41,521.1 L336.74,519.8 L336.93,519.5 L337.07,519.5 L337.40,520.8 L337.73,521.9 L338.06,522.6 L338.39,522.7 L338.72,522.5 L339.05,522.6 L339.38,522.6 L339.71,521.5 L340.04,514.9 L340.20,513.0 L340.37,515.0 L340.67,520.6 L340.70,520.5 L341.03,521.5 L341.36,522.3 L341.69,520.2 L342.02,511.9 L342.10,511.1 L342.35,515.7 L342.55,520.1 L342.68,520.0 L343.01,521.3 L343.34,522.3 L343.67,522.3 L344.00,522.5 L344.33,522.6 L344.66,522.7 L344.99,522.1 L345.32,521.4 L345.65,521.1 L345.80,520.9 L345.98,520.8 L346.31,521.5 L346.64,522.1 L346.97,518.2 L347.30,489.0 L347.60,460.8 L347.63,461.1 L347.96,497.2 L348.10,511.3 L348.29,520.0 L348.62,522.0 L348.95,522.1 L349.28,521.3 L349.44,521.0 L349.61,520.9 L349.94,522.0 L350.27,522.1 L350.60,522.3 L350.93,522.2 L351.26,521.4 L351.59,509.4 L351.90,493.1 L351.92,492.9 L352.25,512.3 L352.50,520.9 L352.58,520.9 L352.91,521.4 L353.24,522.3 L353.57,522.0 L353.90,521.2 L354.21,520.6 L354.23,520.3 L354.56,521.1 L354.89,522.1 L355.22,522.2 L355.55,522.3 L355.88,521.9 L356.21,521.8 L356.54,520.7 L356.76,520.2 L356.87,520.5 L357.20,521.0 L357.53,521.5 L357.86,522.1 L358.19,521.7 L358.52,521.9 L358.85,521.8 L359.18,519.1 L359.50,514.9 L359.51,515.0 L359.61,515.6 L359.84,519.3 L360.17,521.5 L360.50,521.8 L360.83,521.7 L361.16,522.0 L361.49,521.9 L361.82,521.9 L362.15,521.9 L362.48,521.7 L362.81,520.7 L363.14,519.9 L363.27,519.6 L363.47,519.7 L363.80,520.7 L364.13,521.3 L364.46,521.3 L364.79,521.6 L365.12,521.3 L365.45,521.1 L365.78,520.1 L365.80,520.4 L366.11,520.5 L366.44,521.2 L366.77,520.1 L367.10,518.3 L367.43,520.3 L367.76,520.5 L368.09,520.0 L368.42,520.2 L368.75,521.1 L369.08,520.7 L369.41,519.6 L369.58,519.5 L369.74,519.8 L370.07,520.1 L370.40,521.0 L370.73,521.2 L371.06,521.0 L371.39,520.6 L371.72,519.8 L372.05,518.6 L372.13,518.8 L372.38,519.0 L372.71,520.3 L373.04,520.8 L373.37,520.9 L373.70,519.8 L374.03,519.4 L374.10,519.3 L374.36,519.5 L374.69,520.1 L375.02,520.3 L375.35,520.1 L375.40,519.9 L375.68,520.2 L376.01,520.7 L376.34,521.2 L376.67,520.7 L377.00,519.4 L377.33,518.4 L377.41,518.4 L377.66,518.5 L377.99,519.8 L378.32,520.0 L378.65,519.1 L378.70,518.1 L378.98,510.7 L379.10,509.2 L379.31,512.6 L379.64,519.8 L379.97,520.6 L380.30,520.9 L380.63,520.6 L380.96,519.1 L381.17,518.4 L381.29,518.6 L381.62,520.1 L381.95,520.6 L382.28,519.6 L382.60,518.8 L382.61,519.0 L382.94,519.9 L383.27,520.6 L383.60,520.7 L383.93,520.4 L384.26,520.5 L384.59,520.5 L384.92,520.5 L385.25,520.4 L385.58,520.5 L385.91,519.0 L386.19,517.7 L386.24,517.9 L386.57,519.2 L386.90,520.7 L387.23,520.2 L387.56,519.3 L387.89,518.3 L387.92,518.5 L388.22,519.2 L388.55,519.8 L388.88,520.1 L389.21,520.5 L389.54,519.9 L389.87,519.1 L390.20,518.4 L390.33,518.4 L390.53,518.4 L390.86,519.3 L391.19,519.8 L391.52,519.9 L391.85,519.0 L391.88,519.0 L392.18,515.3 L392.40,513.0 L392.51,513.9 L392.84,519.1 L393.17,519.9 L393.50,520.0 L393.83,519.9 L394.16,520.0 L394.49,519.7 L394.82,518.4 L395.15,516.7 L395.26,516.7 L395.48,517.2 L395.81,519.1 L396.14,519.7 L396.47,520.0 L396.80,519.7 L397.13,520.0 L397.46,520.0 L397.79,519.2 L398.12,517.6 L398.24,517.3 L398.45,518.0 L398.78,519.6 L399.11,519.8 L399.44,519.6 L399.77,519.6 L400.10,519.7 L400.43,519.8 L400.76,519.2 L401.09,518.0 L401.42,517.4 L401.43,517.5 L401.75,517.9 L402.08,516.8 L402.41,479.9 L402.70,437.2 L402.74,438.0 L403.07,494.7 L403.40,516.8 L403.58,516.7 L403.73,516.8 L404.06,518.7 L404.39,506.2 L404.60,497.2 L404.72,500.4 L405.05,517.6 L405.38,517.3 L405.50,517.6 L405.71,517.6 L406.04,517.9 L406.37,506.1 L406.40,505.9 L406.70,499.8 L406.80,497.2 L407.03,507.5 L407.36,518.9 L407.69,520.0 L408.02,519.5 L408.35,508.8 L408.60,497.2 L408.68,498.8 L409.01,516.4 L409.14,516.5 L409.34,516.7 L409.67,518.5 L410.00,519.6 L410.33,519.9 L410.66,519.6 L410.99,519.8 L411.32,519.4 L411.65,519.7 L411.98,518.4 L412.31,512.2 L412.48,509.9 L412.50,509.9 L412.64,511.6 L412.97,518.0 L413.30,519.4 L413.63,519.4 L413.96,519.5 L414.29,519.3 L414.62,518.3 L414.95,512.3 L415.00,512.0 L415.28,517.2 L415.61,518.8 L415.94,519.2 L416.27,519.2 L416.60,518.8 L416.93,518.6 L417.26,518.0 L417.59,517.1 L417.90,507.8 L417.92,505.9 L418.20,458.3 L418.25,452.9 L418.30,451.0 L418.58,490.8 L418.91,517.7 L419.24,518.5 L419.57,518.8 L419.90,518.5 L420.23,518.5 L420.56,518.4 L420.89,517.2 L421.19,516.5 L421.22,516.4 L421.55,517.4 L421.88,518.2 L422.21,518.2 L422.54,517.7 L422.87,510.1 L423.20,497.2 L423.53,509.7 L423.86,517.4 L424.19,517.9 L424.52,516.8 L424.85,515.7 L424.93,515.6 L425.18,516.1 L425.51,517.1 L425.84,510.9 L426.00,508.0 L426.17,511.5 L426.35,514.2 L426.50,514.7 L426.83,516.9 L427.16,517.4 L427.49,517.0 L427.82,517.2 L428.15,516.6 L428.48,505.7 L428.70,497.2 L428.81,499.8 L429.14,494.7 L429.47,384.8 L429.70,327.2 L429.80,339.8 L430.07,442.6 L430.13,463.4 L430.46,463.8 L430.50,458.1 L430.60,451.0 L430.79,473.2 L431.12,513.3 L431.45,516.3 L431.78,514.5 L432.06,513.7 L432.11,513.6 L432.44,514.8 L432.77,516.0 L433.10,516.2 L433.43,516.2 L433.76,508.6 L434.09,459.2 L434.20,451.0 L434.40,474.7 L434.42,478.2 L434.75,513.2 L435.02,513.5 L435.08,513.3 L435.41,508.5 L435.70,497.0 L435.74,497.3 L436.07,479.4 L436.40,421.9 L436.55,438.5 L436.73,479.0 L437.00,497.2 L437.06,498.2 L437.20,497.2 L437.39,503.5 L437.72,514.5 L438.05,515.6 L438.38,515.9 L438.71,515.5 L439.04,515.5 L439.37,514.8 L439.69,513.7 L439.70,513.6 L440.03,514.7 L440.36,515.7 L440.69,516.0 L441.02,516.3 L441.35,516.3 L441.68,516.3 L442.01,516.2 L442.34,514.9 L442.67,513.5 L442.73,513.3 L443.00,514.4 L443.33,515.8 L443.66,516.4 L443.99,516.7 L444.32,516.7 L444.65,515.9 L444.98,514.7 L445.13,514.9 L445.31,514.9 L445.64,510.2 L445.80,508.5 L445.97,510.1 L446.30,516.1 L446.63,516.9 L446.96,517.1 L447.29,517.1 L447.62,517.1 L447.95,516.8 L448.28,516.2 L448.61,512.6 L448.87,507.8 L448.90,507.7 L448.94,507.9 L449.27,514.2 L449.60,516.9 L449.93,517.1 L450.26,516.4 L450.48,516.3 L450.59,516.2 L450.92,516.6 L451.25,517.5 L451.58,517.5 L451.91,517.5 L452.24,517.6 L452.57,517.0 L452.90,516.3 L453.22,516.1 L453.23,516.3 L453.56,516.4 L453.89,517.3 L454.22,517.8 L454.55,517.5 L454.88,517.3 L455.21,516.9 L455.54,516.1 L455.74,515.8 L455.87,516.1 L456.20,516.7 L456.53,517.9 L456.86,517.8 L457.19,518.1 L457.52,517.8 L457.85,517.4 L458.18,517.0 L458.51,515.6 L458.77,515.3 L458.84,515.5 L459.17,516.1 L459.50,517.4 L459.83,518.0 L460.16,518.2 L460.49,517.5 L460.82,516.9 L461.15,516.4 L461.20,516.4 L461.48,516.8 L461.81,517.5 L462.14,518.0 L462.47,516.4 L462.80,503.6 L463.00,497.1 L463.13,499.7 L463.46,514.9 L463.79,517.4 L464.12,516.0 L464.31,515.6 L464.45,515.7 L464.78,517.1 L465.11,518.4 L465.44,518.4 L465.77,518.8 L466.10,518.8 L466.43,518.4 L466.76,518.7 L467.09,518.4 L467.42,517.1 L467.69,516.2 L467.75,516.1 L468.08,517.9 L468.41,518.4 L468.74,519.0 L469.07,518.5 L469.40,517.4 L469.73,516.2 L469.95,515.6 L470.06,515.7 L470.39,517.3 L470.72,518.4 L471.05,518.8 L471.38,519.1 L471.71,519.2 L472.04,518.9 L472.37,518.4 L472.70,516.9 L472.79,517.0 L473.03,517.9 L473.36,518.7 L473.69,518.8 L474.02,519.0 L474.35,519.3 L474.68,519.2 L475.01,519.3 L475.34,519.3 L475.67,519.4 L476.00,519.3 L476.33,519.0 L476.66,519.0 L476.99,519.2 L477.32,519.1 L477.65,519.1 L477.98,518.8 L478.31,518.9 L478.48,518.7 L478.64,518.8 L478.97,518.9 L479.30,519.2 L479.63,519.2 L479.96,519.4 L480.29,519.2 L480.62,519.5 L480.95,519.7 L481.28,519.4 L481.61,519.6 L481.94,519.7 L482.27,519.8 L482.60,519.5 L482.93,519.4 L483.26,519.8 L483.59,519.6 L483.92,519.5 L484.25,519.7 L484.58,519.9 L484.91,519.9 L485.24,519.6 L485.57,519.6 L485.90,519.6 L486.23,519.6 L486.56,519.6 L486.89,520.0 L487.22,519.7 L487.55,518.7 L487.69,518.9 L487.88,518.9 L488.21,520.0 L488.54,519.8 L488.87,520.0 L489.20,519.7 L489.53,519.7 L489.86,520.2 L490.19,519.7 L490.52,520.0 L490.85,520.0 L491.18,519.7 L491.51,518.4 L491.80,517.0 L491.84,516.8 L492.17,518.7 L492.50,519.9 L492.83,520.1 L493.16,520.2 L493.49,520.3 L493.82,520.0 L494.15,520.4 L494.48,520.1 L494.81,519.9 L495.14,520.1 L495.47,520.1 L495.80,519.7 L496.13,519.6 L496.30,519.4 L496.46,519.4 L496.79,519.8 L497.12,520.0 L497.45,520.2 L497.78,520.4 L498.11,520.4 L498.44,520.5 L498.77,520.1 L499.10,520.5 L499.43,520.5 L499.76,520.5 L500.09,520.4 L500.42,520.6 L500.75,520.7 L501.08,520.5 L501.41,520.4 L501.74,520.5 L502.07,520.6 L502.40,520.6 L502.73,520.6 L503.06,520.4 L503.39,520.5 L503.72,520.3 L504.05,520.5 L504.38,520.2 L504.71,520.5 L505.04,520.6 L505.37,520.7 L505.70,520.0 L505.99,519.7 L506.03,519.5 L506.36,519.9 L506.69,520.5 L507.02,520.5 L507.35,520.5 L507.68,520.6 L508.01,520.7 L508.34,520.8 L508.67,520.5 L509.00,520.6 L509.33,520.7 L509.66,520.7 L509.99,520.7 L510.32,520.6 L510.65,520.8 L510.98,520.4 L511.31,520.8 L511.64,520.4 L511.97,520.5 L512.30,520.7 L512.63,520.6 L512.96,520.6 L513.29,520.4 L513.62,520.4 L513.95,520.5 L514.28,520.3 L514.61,520.2 L514.86,519.9 L514.94,519.8 L515.27,520.4 L515.60,520.8 L515.93,520.9 L516.26,520.8 L516.59,520.6 L516.92,520.5 L517.25,520.8 L517.58,520.7 L517.91,520.9 L518.24,520.6 L518.57,520.9 L518.90,520.7 L519.23,520.6 L519.56,520.6 L519.89,520.9 L520.22,520.8 L520.55,520.8 L520.88,520.9 L521.21,520.4 L521.54,520.7 L521.87,520.4 L522.20,520.1 L522.47,520.0 L522.53,519.8 L522.86,519.9 L523.19,519.7 L523.52,519.3 L523.85,519.3 L524.18,519.1 L524.20,519.4 L524.51,519.5 L524.84,519.8 L525.17,520.0 L525.50,519.9 L525.83,520.5 L526.16,520.2 L526.49,520.4 L526.82,520.3 L526.93,520.4 L527.15,520.5 L527.48,520.4 L527.81,520.8 L528.14,520.9 L528.47,520.9 L528.80,521.1 L529.13,521.1 L529.46,520.7 L529.79,520.9 L530.12,521.1 L530.45,521.1 L530.78,521.1 L531.11,521.2 L531.44,521.0 L531.77,520.6 L532.10,520.6 L532.21,520.4 L532.43,520.5 L532.76,520.9 L533.09,521.1 L533.42,521.0 L533.75,520.8 L534.08,520.9 L534.41,520.5 L534.74,520.5 L535.07,520.5 L535.40,520.1 L535.73,519.8 L536.06,520.2 L536.10,520.0 L536.39,519.8 L536.72,519.8 L537.05,520.2 L537.14,520.3 L537.38,520.6 L537.71,520.4 L538.04,520.7 L538.37,521.0 L538.70,520.7 L539.03,521.0 L539.36,520.9 L539.69,521.3 L540.02,520.9 L540.35,520.3 L540.66,520.3 L540.68,520.1 L541.01,520.7 L541.34,520.8 L541.67,520.9 L542.00,521.0 L542.33,520.9 L542.66,521.3 L542.99,521.3 L543.32,521.2 L543.65,521.1 L543.98,521.0 L544.31,521.3 L544.64,521.1 L544.97,521.3 L545.30,521.5 L545.63,521.1 L545.96,521.4 L546.29,521.2 L546.62,521.3 L546.95,521.2 L547.28,521.4 L547.61,521.3 L547.94,521.0 L548.27,521.2 L548.60,520.6 L548.77,520.8 L548.93,520.7 L549.26,521.1 L549.59,521.4 L549.92,521.1 L550.25,521.3 L550.58,521.4 L550.91,521.3 L551.24,521.0 L551.57,521.0 L551.90,520.6 L552.23,519.8 L552.56,519.1 L552.89,518.5 L553.10,518.7 L553.22,518.8 L553.55,518.9 L553.88,519.6 L554.21,520.2 L554.54,520.7 L554.87,521.2 L555.20,521.2 L555.53,521.7 L555.86,521.7 L556.19,521.4 L556.52,521.1 L556.85,520.8 L556.99,521.1 L557.18,521.1 L557.51,521.2 L557.84,521.3 L558.17,521.7 L558.50,521.4 L558.83,521.8 L559.16,521.5 L559.49,521.6 L559.82,521.5 L560.15,521.6 L560.48,521.3 L560.81,521.2 L561.14,520.8 L561.47,520.2 L561.80,519.9 L562.13,519.5 L562.46,518.6 L562.60,518.9 L562.79,518.8 L563.12,519.1 L563.45,519.7 L563.78,520.5 L564.02,521.1 L564.11,521.1 L564.44,521.4 L564.77,521.4 L565.10,521.9 L565.43,521.7 L565.76,521.9 L566.09,521.6 L566.42,521.9 L566.75,521.9 L567.08,521.9 L567.41,521.6 L567.74,522.0 L568.07,521.7 L568.40,521.5 L568.73,522.0 L569.06,521.7 L569.39,522.0 L569.72,521.6 L570.05,521.6 L570.38,521.8 L570.71,521.9 L571.04,521.9 L571.37,521.9 L571.70,521.8 L572.03,522.0 L572.36,521.6 L572.69,520.9 L572.79,521.1 L573.02,521.2 L573.35,521.8 L573.68,521.7 L574.01,521.8 L574.34,521.8 L574.67,522.0 L575.00,521.7 L575.33,521.9 L575.66,521.9 L575.99,522.2 L576.32,521.7 L576.65,522.0 L576.98,522.1 L577.31,521.9 L577.64,522.2 L577.97,521.8 L578.30,522.0 L578.63,521.8 L578.96,521.7 L579.29,521.3 L579.62,521.1 L579.95,519.9 L580.28,518.3 L580.61,515.7 L580.94,512.9 L581.27,511.0 L581.60,509.9 L581.70,509.7 L581.78,509.7 L581.93,510.0 L582.26,511.9 L582.59,514.3 L582.92,516.8 L583.25,519.0 L583.58,520.1 L583.91,521.1 L584.24,521.5 L584.57,521.9 L584.90,522.0 L585.23,521.8 L585.56,522.2 L585.89,522.0 L586.22,522.0 L586.55,521.8 L586.88,521.4 L587.21,521.0 L587.54,520.6 L587.80,520.5 L587.87,520.6 L588.20,520.8 L588.53,520.9 L588.86,521.6 L589.19,521.5 L589.52,522.0 L589.85,522.3 L590.18,521.8 L590.51,522.0 L590.80,521.8 L590.84,521.9 L591.17,521.7 L591.50,521.8 L591.83,522.0 L592.16,522.2 L592.49,522.4 L592.82,522.2 L593.15,522.1 L593.48,522.0 L593.81,522.1 L594.14,522.1 L594.47,522.0 L594.80,521.5 L595.13,521.5 L595.43,521.3 L595.46,521.1 L595.60,521.3 L595.79,521.2 L596.12,521.5 L596.45,521.6 L596.78,521.8 L597.11,522.2 L597.44,522.1 L597.77,522.3 L598.10,522.2 L598.43,522.5 L598.76,522.1 L599.09,522.2 L599.42,522.4 L599.75,522.1 L600.08,522.4 L600.41,522.1 L600.74,521.6 L601.00,521.6 L601.07,521.6 L601.40,521.9 L601.73,522.1 L602.06,522.5 L602.39,522.1 L602.72,522.0 L603.05,521.6 L603.38,521.3 L603.71,520.7 L604.04,520.3 L604.30,520.5 L604.37,520.5 L604.70,520.5 L605.03,520.9 L605.36,521.5 L605.69,521.5 L606.02,522.1 L606.35,522.5 L606.68,522.3 L607.01,522.2 L607.34,522.1 L607.67,522.3 L608.00,522.3 L608.33,522.4 L608.66,522.5 L608.99,522.2 L609.32,522.1 L609.65,522.6 L609.98,522.3 L610.31,522.5 L610.64,522.3 L610.97,522.1 L611.27,521.7 L611.30,521.8 L611.63,522.0 L611.96,522.5 L612.29,522.5 L612.62,522.6 L612.95,522.3 L613.28,522.2 L613.61,522.2 L613.94,522.3 L614.27,522.4 L614.60,522.4 L614.93,522.3 L615.26,522.6 L615.59,522.3 L615.92,522.1 L616.25,522.4 L616.58,522.4 L616.91,521.9 L617.24,521.7 L617.44,521.5 L617.57,521.7 L617.90,522.0 L618.23,522.5 L618.56,522.4 L618.89,522.5 L619.22,522.2 L619.55,522.6 L619.88,522.6 L620.21,522.2 L620.54,522.4 L620.87,522.2 L621.20,522.6 L621.53,522.6 L621.86,522.6 L622.19,522.5 L622.52,522.1 L622.85,521.9 L623.10,521.8 L623.18,521.5 L623.51,522.1 L623.84,522.4 L624.17,522.3 L624.50,522.1 L624.83,522.1 L625.16,522.3 L625.49,522.3 L625.82,522.6 L626.15,522.5 L626.48,522.6 L626.81,522.6 L627.14,522.5 L627.47,522.6 L627.80,522.3 L628.13,522.6 L628.46,522.5 L628.79,522.5 L629.12,522.4 L629.45,522.4 L629.78,522.5 L630.11,522.3 L630.37,522.2 L630.44,522.3 L630.77,522.2 L631.10,522.1 L631.43,522.5 L631.76,522.5 L632.09,522.1 L632.42,521.9 L632.75,521.5 L633.08,521.3 L633.41,521.3 L633.70,521.3 L633.74,521.3 L634.07,521.4 L634.40,521.3 L634.73,521.9 L635.06,521.9 L635.39,522.1 L635.72,522.1 L636.05,522.5 L636.38,522.5 L636.71,522.6 L637.04,522.7 L637.37,522.4 L637.70,522.5 L638.03,522.6 L638.36,522.4 L638.69,522.2 L639.02,522.5 L639.35,522.2 L639.64,521.8 L639.68,522.0 L640.01,521.9 L640.34,522.5 L640.67,522.4 L641.00,522.6 L641.33,522.4 L641.66,522.6 L641.99,522.4 L642.32,522.4 L642.65,522.5 L642.98,522.5 L643.31,522.5 L643.64,522.8 L643.97,522.5 L644.30,522.6 L644.63,522.3 L644.96,522.6 L645.29,522.7 L645.62,522.7 L645.95,522.8 L646.28,522.6 L646.61,522.5 L646.94,522.8 L647.27,522.8 L647.60,522.8 L647.93,522.3 L648.26,522.4 L648.59,521.8 L648.71,522.1 L648.92,522.2 L649.25,522.6 L649.58,522.6 L649.91,522.5 L650.24,522.6 L650.57,522.5 L650.90,522.4 L651.23,522.4 L651.56,522.8 L651.89,522.8 L652.22,522.4 L652.55,522.8 L652.88,522.7 L653.21,522.7 L653.54,522.5 L653.87,522.6 L654.20,522.8 L654.53,522.7 L654.86,522.8 L655.19,522.4 L655.52,522.5 L655.85,522.5 L656.18,522.6 L656.51,522.9 L656.84,522.9 L657.17,522.8 L657.50,522.7 L657.83,522.3 L658.10,522.0 L658.16,521.7 L658.49,522.4 L658.82,522.9 L659.15,522.4 L659.48,522.6 L659.81,522.6 L660.14,522.8 L660.47,522.6 L660.80,522.4 L661.13,522.6 L661.46,522.7 L661.79,522.7 L662.12,522.4 L662.45,522.8 L662.78,522.5 L663.11,522.4 L663.44,522.7 L663.77,522.5 L664.10,522.0 L664.34,521.8 L664.43,521.5 L664.76,522.4 L665.09,522.6 L665.42,522.4 L665.75,522.7 L666.08,522.4 L666.41,522.7 L666.74,522.8 L667.07,522.5 L667.40,522.6 L667.73,522.8 L668.06,522.6 L668.39,522.8 L668.72,522.5 L669.05,522.8 L669.38,522.6 L669.71,522.7 L670.04,523.0 L670.37,522.9 L670.70,522.5 L671.03,522.9 L671.36,522.7 L671.69,522.7 L672.02,522.6 L672.35,522.5 L672.68,522.9" fill="none" stroke="#000" stroke-width="1.1" stroke-linejoin="round"/>
<polyline points="404,520.5 437,515" fill="none" stroke="#a00808" stroke-width="0.8"/>
<rect x="406.20" y="319.40" width="49.00" height="6.70" fill="#fff"/>
<text transform="translate(406.80,325.30) scale(1.85,1)" font-size="7.70" font-family='"Liberation Sans", sans-serif' font-weight="bold" fill="#14147a" stroke="#14147a" stroke-width="0.05" textLength="25.84" lengthAdjust="spacing">16.362</text>
<rect x="394.80" y="414.50" width="65.20" height="6.70" fill="#fff"/>
<text transform="translate(395.40,420.40) scale(1.85,1)" font-size="7.70" font-family='"Liberation Sans", sans-serif' font-weight="bold" fill="#14147a" stroke="#14147a" stroke-width="0.05" textLength="34.59" lengthAdjust="spacing">1516.691</text>
<rect x="379.50" y="429.90" width="47.90" height="6.70" fill="#fff"/>
<text transform="translate(380.10,435.80) scale(1.85,1)" font-size="7.70" font-family='"Liberation Sans", sans-serif' font-weight="bold" fill="#14147a" stroke="#14147a" stroke-width="0.05" textLength="25.24" lengthAdjust="spacing">15.028</text>
<rect x="410.60" y="444.00" width="48.50" height="6.70" fill="#fff"/>
<text transform="translate(411.20,449.90) scale(1.85,1)" font-size="7.70" font-family='"Liberation Sans", sans-serif' font-weight="bold" fill="#14147a" stroke="#14147a" stroke-width="0.05" textLength="25.57" lengthAdjust="spacing">16.574</text>
<rect x="384.60" y="475.60" width="71.00" height="6.70" fill="#fff"/>
<text transform="translate(385.20,481.50) scale(1.85,1)" font-size="7.70" font-family='"Liberation Sans", sans-serif' font-weight="bold" fill="#14147a" stroke="#14147a" stroke-width="0.05" textLength="37.73" lengthAdjust="spacing">15.16.413</text>
<rect x="382.40" y="488.70" width="65.90" height="6.70" fill="#fff"/>
<text transform="translate(383.00,494.60) scale(1.85,1)" font-size="7.70" font-family='"Liberation Sans", sans-serif' font-weight="bold" fill="#14147a" stroke="#14147a" stroke-width="0.05" textLength="34.97" lengthAdjust="spacing">1516.042</text>
<polyline points="418.4,423 418.4,427" fill="none" stroke="#000" stroke-width="0.8"/>
<polyline points="418.4,430 418.4,434" fill="none" stroke="#000" stroke-width="0.8"/>
<polyline points="418.4,437 418.4,441" fill="none" stroke="#000" stroke-width="0.8"/>
<line x1="149.40" y1="580.00" x2="149.40" y2="770.70" stroke="#000" stroke-width="1"/>
<line x1="148.90" y1="770.20" x2="685.00" y2="770.20" stroke="#000" stroke-width="1"/>
<line x1="147.20" y1="770.20" x2="149.40" y2="770.20" stroke="#000" stroke-width="0.9"/>
<line x1="148.20" y1="767.92" x2="149.40" y2="767.92" stroke="#000" stroke-width="0.6"/>
<line x1="148.20" y1="765.64" x2="149.40" y2="765.64" stroke="#000" stroke-width="0.6"/>
<line x1="148.20" y1="763.37" x2="149.40" y2="763.37" stroke="#000" stroke-width="0.6"/>
<line x1="148.20" y1="761.09" x2="149.40" y2="761.09" stroke="#000" stroke-width="0.6"/>
<text transform="translate(136.68,772.65) scale(2.0239836734693877,1)" font-size="7.12" font-family='"Liberation Sans", sans-serif' font-weight="normal" fill="#000" stroke="#000" stroke-width="0.22" textLength="4.26" lengthAdjust="spacing">0</text>
<line x1="147.20" y1="758.81" x2="149.40" y2="758.81" stroke="#000" stroke-width="0.9"/>
<line x1="148.20" y1="756.53" x2="149.40" y2="756.53" stroke="#000" stroke-width="0.6"/>
<line x1="148.20" y1="754.25" x2="149.40" y2="754.25" stroke="#000" stroke-width="0.6"/>
<line x1="148.20" y1="751.98" x2="149.40" y2="751.98" stroke="#000" stroke-width="0.6"/>
<line x1="148.20" y1="749.70" x2="149.40" y2="749.70" stroke="#000" stroke-width="0.6"/>
<text transform="translate(101.77,761.26) scale(2.0239836734693877,1)" font-size="7.12" font-family='"Liberation Sans", sans-serif' font-weight="normal" fill="#000" stroke="#000" stroke-width="0.22" textLength="21.51" lengthAdjust="spacing">1e+07</text>
<line x1="147.20" y1="747.42" x2="149.40" y2="747.42" stroke="#000" stroke-width="0.9"/>
<line x1="148.20" y1="745.14" x2="149.40" y2="745.14" stroke="#000" stroke-width="0.6"/>
<line x1="148.20" y1="742.86" x2="149.40" y2="742.86" stroke="#000" stroke-width="0.6"/>
<line x1="148.20" y1="740.59" x2="149.40" y2="740.59" stroke="#000" stroke-width="0.6"/>
<line x1="148.20" y1="738.31" x2="149.40" y2="738.31" stroke="#000" stroke-width="0.6"/>
<text transform="translate(101.77,749.87) scale(2.0239836734693877,1)" font-size="7.12" font-family='"Liberation Sans", sans-serif' font-weight="normal" fill="#000" stroke="#000" stroke-width="0.22" textLength="21.51" lengthAdjust="spacing">2e+07</text>
<line x1="147.20" y1="736.03" x2="149.40" y2="736.03" stroke="#000" stroke-width="0.9"/>
<line x1="148.20" y1="733.75" x2="149.40" y2="733.75" stroke="#000" stroke-width="0.6"/>
<line x1="148.20" y1="731.47" x2="149.40" y2="731.47" stroke="#000" stroke-width="0.6"/>
<line x1="148.20" y1="729.20" x2="149.40" y2="729.20" stroke="#000" stroke-width="0.6"/>
<line x1="148.20" y1="726.92" x2="149.40" y2="726.92" stroke="#000" stroke-width="0.6"/>
<text transform="translate(101.77,738.48) scale(2.0239836734693877,1)" font-size="7.12" font-family='"Liberation Sans", sans-serif' font-weight="normal" fill="#000" stroke="#000" stroke-width="0.22" textLength="21.51" lengthAdjust="spacing">3e+07</text>
<line x1="147.20" y1="724.64" x2="149.40" y2="724.64" stroke="#000" stroke-width="0.9"/>
<line x1="148.20" y1="722.36" x2="149.40" y2="722.36" stroke="#000" stroke-width="0.6"/>
<line x1="148.20" y1="720.08" x2="149.40" y2="720.08" stroke="#000" stroke-width="0.6"/>
<line x1="148.20" y1="717.81" x2="149.40" y2="717.81" stroke="#000" stroke-width="0.6"/>
<line x1="148.20" y1="715.53" x2="149.40" y2="715.53" stroke="#000" stroke-width="0.6"/>
<text transform="translate(101.77,727.09) scale(2.0239836734693877,1)" font-size="7.12" font-family='"Liberation Sans", sans-serif' font-weight="normal" fill="#000" stroke="#000" stroke-width="0.22" textLength="21.51" lengthAdjust="spacing">4e+07</text>
<line x1="147.20" y1="713.25" x2="149.40" y2="713.25" stroke="#000" stroke-width="0.9"/>
<line x1="148.20" y1="710.97" x2="149.40" y2="710.97" stroke="#000" stroke-width="0.6"/>
<line x1="148.20" y1="708.69" x2="149.40" y2="708.69" stroke="#000" stroke-width="0.6"/>
<line x1="148.20" y1="706.42" x2="149.40" y2="706.42" stroke="#000" stroke-width="0.6"/>
<line x1="148.20" y1="704.14" x2="149.40" y2="704.14" stroke="#000" stroke-width="0.6"/>
<text transform="translate(101.77,715.70) scale(2.0239836734693877,1)" font-size="7.12" font-family='"Liberation Sans", sans-serif' font-weight="normal" fill="#000" stroke="#000" stroke-width="0.22" textLength="21.51" lengthAdjust="spacing">5e+07</text>
<line x1="147.20" y1="701.86" x2="149.40" y2="701.86" stroke="#000" stroke-width="0.9"/>
<line x1="148.20" y1="699.58" x2="149.40" y2="699.58" stroke="#000" stroke-width="0.6"/>
<line x1="148.20" y1="697.30" x2="149.40" y2="697.30" stroke="#000" stroke-width="0.6"/>
<line x1="148.20" y1="695.03" x2="149.40" y2="695.03" stroke="#000" stroke-width="0.6"/>
<line x1="148.20" y1="692.75" x2="149.40" y2="692.75" stroke="#000" stroke-width="0.6"/>
<text transform="translate(101.77,704.31) scale(2.0239836734693877,1)" font-size="7.12" font-family='"Liberation Sans", sans-serif' font-weight="normal" fill="#000" stroke="#000" stroke-width="0.22" textLength="21.51" lengthAdjust="spacing">6e+07</text>
<line x1="147.20" y1="690.47" x2="149.40" y2="690.47" stroke="#000" stroke-width="0.9"/>
<line x1="148.20" y1="688.19" x2="149.40" y2="688.19" stroke="#000" stroke-width="0.6"/>
<line x1="148.20" y1="685.91" x2="149.40" y2="685.91" stroke="#000" stroke-width="0.6"/>
<line x1="148.20" y1="683.64" x2="149.40" y2="683.64" stroke="#000" stroke-width="0.6"/>
<line x1="148.20" y1="681.36" x2="149.40" y2="681.36" stroke="#000" stroke-width="0.6"/>
<text transform="translate(101.77,692.92) scale(2.0239836734693877,1)" font-size="7.12" font-family='"Liberation Sans", sans-serif' font-weight="normal" fill="#000" stroke="#000" stroke-width="0.22" textLength="21.51" lengthAdjust="spacing">7e+07</text>
<line x1="147.20" y1="679.08" x2="149.40" y2="679.08" stroke="#000" stroke-width="0.9"/>
<line x1="148.20" y1="676.80" x2="149.40" y2="676.80" stroke="#000" stroke-width="0.6"/>
<line x1="148.20" y1="674.52" x2="149.40" y2="674.52" stroke="#000" stroke-width="0.6"/>
<line x1="148.20" y1="672.25" x2="149.40" y2="672.25" stroke="#000" stroke-width="0.6"/>
<line x1="148.20" y1="669.97" x2="149.40" y2="669.97" stroke="#000" stroke-width="0.6"/>
<text transform="translate(101.77,681.53) scale(2.0239836734693877,1)" font-size="7.12" font-family='"Liberation Sans", sans-serif' font-weight="normal" fill="#000" stroke="#000" stroke-width="0.22" textLength="21.51" lengthAdjust="spacing">8e+07</text>
<line x1="147.20" y1="667.69" x2="149.40" y2="667.69" stroke="#000" stroke-width="0.9"/>
<line x1="148.20" y1="665.41" x2="149.40" y2="665.41" stroke="#000" stroke-width="0.6"/>
<line x1="148.20" y1="663.13" x2="149.40" y2="663.13" stroke="#000" stroke-width="0.6"/>
<line x1="148.20" y1="660.86" x2="149.40" y2="660.86" stroke="#000" stroke-width="0.6"/>
<line x1="148.20" y1="658.58" x2="149.40" y2="658.58" stroke="#000" stroke-width="0.6"/>
<text transform="translate(101.77,670.14) scale(2.0239836734693877,1)" font-size="7.12" font-family='"Liberation Sans", sans-serif' font-weight="normal" fill="#000" stroke="#000" stroke-width="0.22" textLength="21.51" lengthAdjust="spacing">9e+07</text>
<line x1="147.20" y1="656.30" x2="149.40" y2="656.30" stroke="#000" stroke-width="0.9"/>
<line x1="148.20" y1="654.02" x2="149.40" y2="654.02" stroke="#000" stroke-width="0.6"/>
<line x1="148.20" y1="651.74" x2="149.40" y2="651.74" stroke="#000" stroke-width="0.6"/>
<line x1="148.20" y1="649.47" x2="149.40" y2="649.47" stroke="#000" stroke-width="0.6"/>
<line x1="148.20" y1="647.19" x2="149.40" y2="647.19" stroke="#000" stroke-width="0.6"/>
<text transform="translate(101.77,658.75) scale(2.0239836734693877,1)" font-size="7.12" font-family='"Liberation Sans", sans-serif' font-weight="normal" fill="#000" stroke="#000" stroke-width="0.22" textLength="21.51" lengthAdjust="spacing">1e+08</text>
<line x1="147.20" y1="644.91" x2="149.40" y2="644.91" stroke="#000" stroke-width="0.9"/>
<line x1="148.20" y1="642.63" x2="149.40" y2="642.63" stroke="#000" stroke-width="0.6"/>
<line x1="148.20" y1="640.35" x2="149.40" y2="640.35" stroke="#000" stroke-width="0.6"/>
<line x1="148.20" y1="638.08" x2="149.40" y2="638.08" stroke="#000" stroke-width="0.6"/>
<line x1="148.20" y1="635.80" x2="149.40" y2="635.80" stroke="#000" stroke-width="0.6"/>
<text transform="translate(88.84,647.36) scale(2.0239836734693877,1)" font-size="7.12" font-family='"Liberation Sans", sans-serif' font-weight="normal" fill="#000" stroke="#000" stroke-width="0.22" textLength="27.90" lengthAdjust="spacing">1.1e+08</text>
<line x1="147.20" y1="633.52" x2="149.40" y2="633.52" stroke="#000" stroke-width="0.9"/>
<line x1="148.20" y1="631.24" x2="149.40" y2="631.24" stroke="#000" stroke-width="0.6"/>
<line x1="148.20" y1="628.96" x2="149.40" y2="628.96" stroke="#000" stroke-width="0.6"/>
<line x1="148.20" y1="626.69" x2="149.40" y2="626.69" stroke="#000" stroke-width="0.6"/>
<line x1="148.20" y1="624.41" x2="149.40" y2="624.41" stroke="#000" stroke-width="0.6"/>
<text transform="translate(88.84,635.97) scale(2.0239836734693877,1)" font-size="7.12" font-family='"Liberation Sans", sans-serif' font-weight="normal" fill="#000" stroke="#000" stroke-width="0.22" textLength="27.90" lengthAdjust="spacing">1.2e+08</text>
<line x1="147.20" y1="622.13" x2="149.40" y2="622.13" stroke="#000" stroke-width="0.9"/>
<line x1="148.20" y1="619.85" x2="149.40" y2="619.85" stroke="#000" stroke-width="0.6"/>
<line x1="148.20" y1="617.57" x2="149.40" y2="617.57" stroke="#000" stroke-width="0.6"/>
<line x1="148.20" y1="615.30" x2="149.40" y2="615.30" stroke="#000" stroke-width="0.6"/>
<line x1="148.20" y1="613.02" x2="149.40" y2="613.02" stroke="#000" stroke-width="0.6"/>
<text transform="translate(88.84,624.58) scale(2.0239836734693877,1)" font-size="7.12" font-family='"Liberation Sans", sans-serif' font-weight="normal" fill="#000" stroke="#000" stroke-width="0.22" textLength="27.90" lengthAdjust="spacing">1.3e+08</text>
<line x1="147.20" y1="610.74" x2="149.40" y2="610.74" stroke="#000" stroke-width="0.9"/>
<line x1="148.20" y1="608.46" x2="149.40" y2="608.46" stroke="#000" stroke-width="0.6"/>
<line x1="148.20" y1="606.18" x2="149.40" y2="606.18" stroke="#000" stroke-width="0.6"/>
<line x1="148.20" y1="603.91" x2="149.40" y2="603.91" stroke="#000" stroke-width="0.6"/>
<line x1="148.20" y1="601.63" x2="149.40" y2="601.63" stroke="#000" stroke-width="0.6"/>
<text transform="translate(88.84,613.19) scale(2.0239836734693877,1)" font-size="7.12" font-family='"Liberation Sans", sans-serif' font-weight="normal" fill="#000" stroke="#000" stroke-width="0.22" textLength="27.90" lengthAdjust="spacing">1.4e+08</text>
<line x1="147.20" y1="599.35" x2="149.40" y2="599.35" stroke="#000" stroke-width="0.9"/>
<line x1="148.20" y1="597.07" x2="149.40" y2="597.07" stroke="#000" stroke-width="0.6"/>
<line x1="148.20" y1="594.79" x2="149.40" y2="594.79" stroke="#000" stroke-width="0.6"/>
<line x1="148.20" y1="592.52" x2="149.40" y2="592.52" stroke="#000" stroke-width="0.6"/>
<line x1="148.20" y1="590.24" x2="149.40" y2="590.24" stroke="#000" stroke-width="0.6"/>
<text transform="translate(88.84,601.80) scale(2.0239836734693877,1)" font-size="7.12" font-family='"Liberation Sans", sans-serif' font-weight="normal" fill="#000" stroke="#000" stroke-width="0.22" textLength="27.90" lengthAdjust="spacing">1.5e+08</text>
<line x1="147.20" y1="587.96" x2="149.40" y2="587.96" stroke="#000" stroke-width="0.9"/>
<line x1="148.20" y1="585.68" x2="149.40" y2="585.68" stroke="#000" stroke-width="0.6"/>
<line x1="148.20" y1="583.40" x2="149.40" y2="583.40" stroke="#000" stroke-width="0.6"/>
<line x1="148.20" y1="581.13" x2="149.40" y2="581.13" stroke="#000" stroke-width="0.6"/>
<text transform="translate(88.84,590.41) scale(2.0239836734693877,1)" font-size="7.12" font-family='"Liberation Sans", sans-serif' font-weight="normal" fill="#000" stroke="#000" stroke-width="0.22" textLength="27.90" lengthAdjust="spacing">1.6e+08</text>
<line x1="155.74" y1="770.20" x2="155.74" y2="772.60" stroke="#000" stroke-width="0.8"/>
<line x1="163.91" y1="770.20" x2="163.91" y2="772.60" stroke="#000" stroke-width="0.8"/>
<line x1="172.07" y1="770.20" x2="172.07" y2="772.60" stroke="#000" stroke-width="0.8"/>
<line x1="180.24" y1="770.20" x2="180.24" y2="772.60" stroke="#000" stroke-width="0.8"/>
<line x1="188.40" y1="770.20" x2="188.40" y2="774.00" stroke="#000" stroke-width="1.0"/>
<line x1="196.56" y1="770.20" x2="196.56" y2="772.60" stroke="#000" stroke-width="0.8"/>
<line x1="204.73" y1="770.20" x2="204.73" y2="772.60" stroke="#000" stroke-width="0.8"/>
<line x1="212.89" y1="770.20" x2="212.89" y2="772.60" stroke="#000" stroke-width="0.8"/>
<line x1="221.06" y1="770.20" x2="221.06" y2="772.60" stroke="#000" stroke-width="0.8"/>
<line x1="229.22" y1="770.20" x2="229.22" y2="774.00" stroke="#000" stroke-width="1.0"/>
<line x1="237.38" y1="770.20" x2="237.38" y2="772.60" stroke="#000" stroke-width="0.8"/>
<line x1="245.55" y1="770.20" x2="245.55" y2="772.60" stroke="#000" stroke-width="0.8"/>
<line x1="253.71" y1="770.20" x2="253.71" y2="772.60" stroke="#000" stroke-width="0.8"/>
<line x1="261.88" y1="770.20" x2="261.88" y2="772.60" stroke="#000" stroke-width="0.8"/>
<line x1="270.04" y1="770.20" x2="270.04" y2="774.00" stroke="#000" stroke-width="1.0"/>
<line x1="278.20" y1="770.20" x2="278.20" y2="772.60" stroke="#000" stroke-width="0.8"/>
<line x1="286.37" y1="770.20" x2="286.37" y2="772.60" stroke="#000" stroke-width="0.8"/>
<line x1="294.53" y1="770.20" x2="294.53" y2="772.60" stroke="#000" stroke-width="0.8"/>
<line x1="302.70" y1="770.20" x2="302.70" y2="772.60" stroke="#000" stroke-width="0.8"/>
<line x1="310.86" y1="770.20" x2="310.86" y2="774.00" stroke="#000" stroke-width="1.0"/>
<line x1="319.02" y1="770.20" x2="319.02" y2="772.60" stroke="#000" stroke-width="0.8"/>
<line x1="327.19" y1="770.20" x2="327.19" y2="772.60" stroke="#000" stroke-width="0.8"/>
<line x1="335.35" y1="770.20" x2="335.35" y2="772.60" stroke="#000" stroke-width="0.8"/>
<line x1="343.52" y1="770.20" x2="343.52" y2="772.60" stroke="#000" stroke-width="0.8"/>
<line x1="351.68" y1="770.20" x2="351.68" y2="774.00" stroke="#000" stroke-width="1.0"/>
<line x1="359.84" y1="770.20" x2="359.84" y2="772.60" stroke="#000" stroke-width="0.8"/>
<line x1="368.01" y1="770.20" x2="368.01" y2="772.60" stroke="#000" stroke-width="0.8"/>
<line x1="376.17" y1="770.20" x2="376.17" y2="772.60" stroke="#000" stroke-width="0.8"/>
<line x1="384.34" y1="770.20" x2="384.34" y2="772.60" stroke="#000" stroke-width="0.8"/>
<line x1="392.50" y1="770.20" x2="392.50" y2="774.00" stroke="#000" stroke-width="1.0"/>
<line x1="400.66" y1="770.20" x2="400.66" y2="772.60" stroke="#000" stroke-width="0.8"/>
<line x1="408.83" y1="770.20" x2="408.83" y2="772.60" stroke="#000" stroke-width="0.8"/>
<line x1="416.99" y1="770.20" x2="416.99" y2="772.60" stroke="#000" stroke-width="0.8"/>
<line x1="425.16" y1="770.20" x2="425.16" y2="772.60" stroke="#000" stroke-width="0.8"/>
<line x1="433.32" y1="770.20" x2="433.32" y2="774.00" stroke="#000" stroke-width="1.0"/>
<line x1="441.48" y1="770.20" x2="441.48" y2="772.60" stroke="#000" stroke-width="0.8"/>
<line x1="449.65" y1="770.20" x2="449.65" y2="772.60" stroke="#000" stroke-width="0.8"/>
<line x1="457.81" y1="770.20" x2="457.81" y2="772.60" stroke="#000" stroke-width="0.8"/>
<line x1="465.98" y1="770.20" x2="465.98" y2="772.60" stroke="#000" stroke-width="0.8"/>
<line x1="474.14" y1="770.20" x2="474.14" y2="774.00" stroke="#000" stroke-width="1.0"/>
<line x1="482.30" y1="770.20" x2="482.30" y2="772.60" stroke="#000" stroke-width="0.8"/>
<line x1="490.47" y1="770.20" x2="490.47" y2="772.60" stroke="#000" stroke-width="0.8"/>
<line x1="498.63" y1="770.20" x2="498.63" y2="772.60" stroke="#000" stroke-width="0.8"/>
<line x1="506.80" y1="770.20" x2="506.80" y2="772.60" stroke="#000" stroke-width="0.8"/>
<line x1="514.96" y1="770.20" x2="514.96" y2="774.00" stroke="#000" stroke-width="1.0"/>
<line x1="523.12" y1="770.20" x2="523.12" y2="772.60" stroke="#000" stroke-width="0.8"/>
<line x1="531.29" y1="770.20" x2="531.29" y2="772.60" stroke="#000" stroke-width="0.8"/>
<line x1="539.45" y1="770.20" x2="539.45" y2="772.60" stroke="#000" stroke-width="0.8"/>
<line x1="547.62" y1="770.20" x2="547.62" y2="772.60" stroke="#000" stroke-width="0.8"/>
<line x1="555.78" y1="770.20" x2="555.78" y2="774.00" stroke="#000" stroke-width="1.0"/>
<line x1="563.94" y1="770.20" x2="563.94" y2="772.60" stroke="#000" stroke-width="0.8"/>
<line x1="572.11" y1="770.20" x2="572.11" y2="772.60" stroke="#000" stroke-width="0.8"/>
<line x1="580.27" y1="770.20" x2="580.27" y2="772.60" stroke="#000" stroke-width="0.8"/>
<line x1="588.44" y1="770.20" x2="588.44" y2="772.60" stroke="#000" stroke-width="0.8"/>
<line x1="596.60" y1="770.20" x2="596.60" y2="774.00" stroke="#000" stroke-width="1.0"/>
<line x1="604.76" y1="770.20" x2="604.76" y2="772.60" stroke="#000" stroke-width="0.8"/>
<line x1="612.93" y1="770.20" x2="612.93" y2="772.60" stroke="#000" stroke-width="0.8"/>
<line x1="621.09" y1="770.20" x2="621.09" y2="772.60" stroke="#000" stroke-width="0.8"/>
<line x1="629.26" y1="770.20" x2="629.26" y2="772.60" stroke="#000" stroke-width="0.8"/>
<line x1="637.42" y1="770.20" x2="637.42" y2="774.00" stroke="#000" stroke-width="1.0"/>
<line x1="645.58" y1="770.20" x2="645.58" y2="772.60" stroke="#000" stroke-width="0.8"/>
<line x1="653.75" y1="770.20" x2="653.75" y2="772.60" stroke="#000" stroke-width="0.8"/>
<line x1="661.91" y1="770.20" x2="661.91" y2="772.60" stroke="#000" stroke-width="0.8"/>
<line x1="670.08" y1="770.20" x2="670.08" y2="772.60" stroke="#000" stroke-width="0.8"/>
<line x1="678.24" y1="770.20" x2="678.24" y2="774.00" stroke="#000" stroke-width="1.0"/>
<text transform="translate(173.32,779.80) scale(2.155982608695652,1)" font-size="6.69" font-family='"Liberation Sans", sans-serif' font-weight="normal" fill="#000" stroke="#000" stroke-width="0.21" textLength="13.99" lengthAdjust="spacing">4.00</text>
<text transform="translate(214.14,779.80) scale(2.155982608695652,1)" font-size="6.69" font-family='"Liberation Sans", sans-serif' font-weight="normal" fill="#000" stroke="#000" stroke-width="0.21" textLength="13.99" lengthAdjust="spacing">6.00</text>
<text transform="translate(254.96,779.80) scale(2.155982608695652,1)" font-size="6.69" font-family='"Liberation Sans", sans-serif' font-weight="normal" fill="#000" stroke="#000" stroke-width="0.21" textLength="13.99" lengthAdjust="spacing">8.00</text>
<text transform="translate(291.47,779.80) scale(2.1559826086956524,1)" font-size="6.69" font-family='"Liberation Sans", sans-serif' font-weight="normal" fill="#000" stroke="#000" stroke-width="0.21" textLength="17.99" lengthAdjust="spacing">10.00</text>
<text transform="translate(332.29,779.80) scale(2.1559826086956524,1)" font-size="6.69" font-family='"Liberation Sans", sans-serif' font-weight="normal" fill="#000" stroke="#000" stroke-width="0.21" textLength="17.99" lengthAdjust="spacing">12.00</text>
<text transform="translate(373.11,779.80) scale(2.1559826086956524,1)" font-size="6.69" font-family='"Liberation Sans", sans-serif' font-weight="normal" fill="#000" stroke="#000" stroke-width="0.21" textLength="17.99" lengthAdjust="spacing">14.00</text>
<text transform="translate(413.93,779.80) scale(2.1559826086956524,1)" font-size="6.69" font-family='"Liberation Sans", sans-serif' font-weight="normal" fill="#000" stroke="#000" stroke-width="0.21" textLength="17.99" lengthAdjust="spacing">16.00</text>
<text transform="translate(454.75,779.80) scale(2.1559826086956524,1)" font-size="6.69" font-family='"Liberation Sans", sans-serif' font-weight="normal" fill="#000" stroke="#000" stroke-width="0.21" textLength="17.99" lengthAdjust="spacing">18.00</text>
<text transform="translate(495.57,779.80) scale(2.1559826086956524,1)" font-size="6.69" font-family='"Liberation Sans", sans-serif' font-weight="normal" fill="#000" stroke="#000" stroke-width="0.21" textLength="17.99" lengthAdjust="spacing">20.00</text>
<text transform="translate(536.39,779.80) scale(2.1559826086956524,1)" font-size="6.69" font-family='"Liberation Sans", sans-serif' font-weight="normal" fill="#000" stroke="#000" stroke-width="0.21" textLength="17.99" lengthAdjust="spacing">22.00</text>
<text transform="translate(577.21,779.80) scale(2.1559826086956524,1)" font-size="6.69" font-family='"Liberation Sans", sans-serif' font-weight="normal" fill="#000" stroke="#000" stroke-width="0.21" textLength="17.99" lengthAdjust="spacing">24.00</text>
<text transform="translate(618.03,779.80) scale(2.1559826086956524,1)" font-size="6.69" font-family='"Liberation Sans", sans-serif' font-weight="normal" fill="#000" stroke="#000" stroke-width="0.21" textLength="17.99" lengthAdjust="spacing">26.00</text>
<text transform="translate(57.50,559.20) scale(2.010111540848354,1)" font-size="7.27" font-family='"Liberation Sans", sans-serif' font-weight="bold" fill="#14147a" stroke="#14147a" stroke-width="0.07" textLength="40.79" lengthAdjust="spacing">Abundance</text>
<text transform="translate(57.90,791.00) scale(1.8478057852333443,1)" font-size="7.56" font-family='"Liberation Sans", sans-serif' font-weight="bold" fill="#14147a" stroke="#14147a" stroke-width="0.08" textLength="18.19" lengthAdjust="spacing">Time</text>
<line x1="92.03" y1="788.70" x2="103.23" y2="788.70" stroke="#14147a" stroke-width="0.9"/>
<text transform="translate(101.92,791.00) scale(1.7747003011062525,1)" font-size="7.56" font-family='"Liberation Sans", sans-serif' font-weight="bold" fill="#14147a" stroke="#14147a" stroke-width="0.08" textLength="4.55" lengthAdjust="spacing">&gt;</text>
<text transform="translate(231.80,579.50) scale(2.1473625421172007,1)" font-size="6.54" font-family='"Liberation Sans", sans-serif' font-weight="normal" fill="#000" stroke="#000" stroke-width="0.19" textLength="172.63" lengthAdjust="spacing">TIC: GANJA ACEH TENGAH METANOL.D\ data.ms</text>
<text x="0.60" y="661.40" font-size="21.68" font-family='"Liberation Serif", serif' font-weight="normal" fill="#ee0000" stroke="#ee0000" stroke-width="0.35" textLength="12.40" lengthAdjust="spacingAndGlyphs">C</text>
<polygon points="412.2,766 412.4,753.5 415.7,753.5 415.9,765.6" fill="#a00808" fill-opacity="0.9"/>
<polygon points="421,765 421.5,755 423,755 423.3,764.7" fill="#a00808" fill-opacity="0.9"/>
<polygon points="430.5,764 431,756 435.8,756 436,763.4" fill="#a00808" fill-opacity="0.9"/>
<polygon points="441,762.5 441.5,747 452,747 462,750 462.5,760" fill="#a00808" fill-opacity="0.9"/>
<polygon points="470.8,761 471,752.6 474.3,752.6 474.5,761.5" fill="#a00808" fill-opacity="0.9"/>
<path d="M149.90,769.8 L150.23,770.0 L150.56,770.1 L150.89,769.8 L151.22,769.7 L151.55,769.8 L151.88,770.0 L152.21,770.0 L152.54,769.8 L152.87,769.8 L153.20,769.8 L153.53,769.8 L153.86,769.8 L154.19,769.6 L154.52,769.7 L154.85,769.5 L155.17,769.1 L155.18,769.1 L155.51,769.1 L155.84,769.8 L156.17,769.9 L156.50,769.9 L156.83,769.8 L157.16,769.8 L157.49,769.6 L157.82,767.7 L158.15,762.4 L158.30,761.7 L158.48,763.1 L158.81,768.1 L159.14,769.6 L159.47,769.7 L159.80,769.9 L160.13,769.6 L160.46,769.6 L160.79,769.6 L161.12,769.8 L161.45,769.6 L161.78,769.6 L162.11,769.8 L162.44,769.7 L162.77,769.1 L162.89,769.3 L163.10,769.2 L163.43,768.7 L163.76,765.8 L163.80,765.8 L164.09,767.6 L164.42,769.3 L164.75,769.7 L165.08,769.7 L165.41,769.4 L165.74,768.1 L166.00,767.0 L166.07,767.2 L166.40,768.8 L166.49,769.1 L166.73,769.1 L167.06,769.5 L167.39,769.6 L167.72,769.9 L168.05,769.9 L168.38,769.8 L168.71,769.7 L169.04,769.9 L169.37,769.9 L169.70,769.7 L170.03,769.9 L170.36,770.0 L170.69,769.6 L171.02,769.2 L171.35,768.8 L171.63,768.9 L171.68,768.9 L172.01,769.3 L172.34,769.7 L172.67,769.5 L173.00,769.5 L173.33,769.6 L173.66,769.6 L173.99,769.8 L174.32,769.9 L174.65,770.0 L174.98,769.6 L175.31,769.9 L175.64,769.6 L175.97,769.7 L176.30,769.9 L176.63,769.5 L176.96,769.5 L177.29,769.9 L177.62,769.6 L177.95,769.6 L178.28,769.8 L178.61,769.8 L178.94,769.5 L179.27,769.6 L179.60,769.7 L179.93,769.7 L180.26,769.4 L180.59,769.2 L180.92,768.9 L180.98,768.7 L181.25,768.9 L181.58,769.3 L181.91,769.6 L182.24,769.8 L182.57,769.5 L182.90,769.9 L183.23,770.0 L183.56,769.5 L183.89,770.0 L184.22,769.7 L184.55,769.8 L184.88,769.6 L185.21,768.7 L185.54,768.4 L185.87,768.9 L186.20,769.6 L186.53,769.6 L186.86,769.9 L187.19,770.0 L187.52,769.8 L187.85,769.8 L188.18,769.5 L188.51,769.7 L188.84,769.6 L189.17,769.9 L189.50,769.8 L189.83,769.8 L190.16,769.6 L190.49,769.8 L190.82,769.8 L191.15,769.5 L191.48,769.9 L191.81,769.7 L192.14,769.1 L192.47,769.0 L192.70,768.6 L192.80,768.5 L193.13,769.2 L193.46,769.6 L193.79,769.7 L194.12,769.8 L194.45,769.7 L194.78,769.6 L195.11,769.5 L195.44,769.5 L195.77,769.8 L196.10,769.5 L196.43,768.8 L196.65,768.7 L196.76,768.6 L197.09,769.0 L197.42,769.5 L197.75,769.9 L198.08,769.5 L198.41,769.7 L198.74,769.6 L199.07,769.9 L199.40,769.6 L199.73,769.6 L200.06,769.7 L200.39,769.8 L200.72,769.9 L201.05,769.6 L201.38,769.9 L201.71,769.4 L202.04,768.6 L202.25,768.4 L202.37,768.3 L202.70,769.6 L203.03,769.8 L203.36,769.6 L203.69,769.6 L204.02,769.7 L204.35,769.9 L204.68,769.9 L205.01,769.9 L205.34,769.8 L205.67,769.5 L206.00,769.7 L206.33,769.6 L206.66,769.7 L206.99,769.8 L207.32,769.6 L207.65,769.6 L207.98,769.9 L208.31,769.2 L208.64,769.1 L208.97,768.6 L209.06,768.4 L209.30,768.5 L209.63,769.3 L209.96,769.7 L210.29,769.8 L210.62,770.0 L210.95,769.8 L211.28,769.6 L211.61,769.9 L211.94,769.7 L212.27,769.8 L212.60,769.9 L212.93,769.5 L213.26,769.9 L213.59,769.8 L213.92,769.7 L214.25,769.7 L214.58,769.7 L214.91,769.6 L215.24,769.7 L215.57,769.5 L215.90,769.7 L216.23,769.8 L216.56,769.6 L216.89,769.5 L217.22,769.4 L217.55,769.1 L217.56,768.9 L217.88,769.2 L218.21,769.5 L218.54,769.4 L218.87,769.6 L219.20,769.6 L219.53,769.5 L219.86,769.8 L220.19,770.0 L220.52,769.6 L220.85,769.9 L221.18,769.8 L221.51,769.5 L221.84,769.9 L222.17,769.8 L222.50,770.0 L222.83,769.9 L223.16,769.9 L223.49,769.6 L223.82,769.9 L224.15,770.0 L224.48,769.9 L224.81,769.7 L225.14,769.9 L225.47,769.7 L225.80,769.5 L226.13,769.1 L226.46,768.3 L226.67,768.4 L226.79,768.2 L227.12,769.1 L227.45,769.7 L227.78,769.7 L228.11,769.7 L228.44,769.8 L228.77,769.6 L229.10,769.7 L229.43,769.9 L229.76,769.7 L230.09,769.6 L230.42,770.0 L230.75,769.9 L231.08,769.7 L231.41,769.7 L231.74,769.7 L232.07,769.8 L232.40,769.6 L232.73,769.5 L233.06,769.6 L233.39,769.9 L233.72,769.5 L234.05,769.7 L234.38,769.6 L234.71,769.6 L235.04,769.5 L235.37,769.7 L235.70,769.5 L236.03,769.1 L236.32,769.2 L236.36,769.0 L236.69,769.5 L237.02,769.5 L237.35,769.5 L237.68,769.7 L238.01,769.7 L238.34,769.8 L238.67,769.5 L239.00,769.7 L239.33,769.7 L239.66,769.5 L239.99,770.0 L240.32,769.5 L240.65,769.2 L240.98,769.1 L241.31,768.6 L241.34,768.9 L241.64,768.9 L241.97,769.2 L242.30,769.4 L242.63,769.8 L242.96,769.6 L243.29,769.9 L243.62,769.7 L243.95,769.8 L244.28,768.1 L244.61,765.8 L244.70,765.8 L244.94,767.0 L245.27,769.1 L245.60,769.6 L245.93,769.5 L246.26,769.8 L246.59,769.9 L246.92,769.7 L247.25,769.4 L247.58,769.4 L247.91,769.4 L248.24,769.5 L248.57,769.3 L248.90,768.9 L249.23,768.7 L249.56,769.3 L249.89,769.4 L250.22,769.9 L250.55,769.6 L250.88,769.8 L251.21,769.9 L251.54,769.9 L251.87,769.4 L252.20,769.5 L252.53,769.7 L252.86,769.9 L253.19,769.4 L253.52,769.5 L253.85,769.8 L254.18,769.4 L254.51,769.5 L254.84,769.3 L255.17,769.0 L255.43,768.6 L255.50,768.4 L255.83,769.3 L256.16,769.7 L256.49,769.8 L256.82,769.6 L257.15,769.8 L257.48,769.5 L257.81,769.5 L258.14,769.4 L258.47,769.7 L258.80,769.6 L259.13,769.5 L259.46,769.4 L259.79,769.7 L260.12,769.6 L260.45,769.7 L260.78,769.5 L261.11,769.6 L261.44,769.4 L261.77,769.7 L262.10,769.2 L262.43,769.1 L262.76,768.7 L263.02,768.5 L263.09,768.2 L263.42,768.6 L263.75,769.5 L264.08,769.4 L264.41,768.1 L264.60,767.4 L264.74,767.6 L265.07,769.4 L265.40,769.7 L265.73,769.4 L266.06,769.5 L266.39,769.3 L266.72,769.5 L267.05,769.8 L267.38,769.3 L267.71,769.6 L268.04,769.3 L268.37,769.3 L268.70,769.6 L269.03,769.4 L269.36,769.3 L269.69,769.3 L270.02,769.6 L270.35,769.6 L270.68,769.2 L271.01,769.3 L271.34,769.8 L271.67,769.3 L272.00,769.4 L272.33,769.1 L272.66,767.6 L272.93,766.4 L272.99,766.6 L273.02,766.5 L273.32,768.1 L273.65,768.8 L273.98,769.1 L274.31,768.6 L274.64,765.7 L274.80,765.4 L274.97,766.2 L275.30,768.3 L275.63,767.6 L275.96,756.1 L276.20,750.1 L276.29,750.9 L276.59,762.7 L276.62,763.7 L276.95,767.8 L277.28,768.9 L277.61,769.5 L277.94,769.3 L278.27,769.5 L278.60,769.4 L278.93,769.0 L279.26,768.2 L279.59,766.4 L279.62,766.4 L279.92,767.4 L280.25,769.1 L280.58,769.4 L280.91,769.6 L281.24,769.2 L281.57,769.3 L281.90,768.9 L282.23,768.0 L282.31,768.3 L282.56,768.7 L282.89,769.2 L283.22,769.5 L283.55,769.5 L283.88,769.3 L284.21,769.3 L284.54,769.7 L284.87,769.1 L285.20,768.7 L285.53,768.0 L285.69,768.2 L285.86,768.1 L286.19,769.0 L286.52,769.3 L286.85,769.6 L287.18,769.7 L287.51,769.5 L287.84,769.7 L288.17,769.4 L288.50,768.8 L288.83,768.3 L288.94,768.1 L289.16,768.5 L289.49,769.1 L289.82,768.4 L290.15,756.3 L290.40,747.0 L290.48,748.4 L290.81,764.1 L290.93,766.3 L291.14,766.5 L291.47,767.9 L291.80,769.1 L292.13,768.3 L292.29,768.3 L292.46,768.5 L292.79,768.7 L293.12,766.9 L293.45,760.3 L293.50,760.3 L293.78,764.7 L294.11,769.2 L294.44,769.5 L294.77,768.7 L295.10,766.8 L295.34,766.3 L295.43,766.3 L295.76,766.2 L296.09,754.8 L296.20,753.5 L296.42,759.0 L296.75,768.5 L297.08,769.7 L297.41,769.6 L297.74,769.4 L298.07,769.2 L298.40,768.7 L298.73,767.0 L299.04,766.0 L299.06,766.0 L299.39,767.2 L299.72,769.1 L300.05,769.3 L300.38,769.3 L300.71,768.6 L301.04,767.1 L301.06,767.0 L301.37,766.1 L301.70,761.3 L302.03,766.0 L302.36,766.5 L302.39,766.2 L302.69,762.0 L302.70,762.0 L303.02,766.1 L303.35,769.1 L303.68,769.6 L304.01,769.4 L304.34,769.7 L304.67,769.4 L305.00,768.7 L305.17,768.3 L305.33,768.3 L305.66,768.9 L305.99,769.4 L306.32,769.3 L306.65,769.2 L306.98,769.5 L307.31,769.2 L307.64,769.3 L307.97,768.8 L308.30,767.4 L308.59,766.1 L308.63,765.9 L308.96,767.5 L309.29,769.1 L309.62,769.5 L309.95,769.5 L310.28,769.7 L310.61,769.6 L310.94,769.3 L311.27,769.1 L311.60,767.2 L311.90,764.4 L311.93,764.4 L312.08,765.7 L312.26,767.6 L312.59,768.7 L312.92,769.2 L313.25,769.1 L313.58,769.5 L313.91,769.2 L314.24,768.2 L314.57,766.9 L314.63,767.0 L314.90,767.7 L315.23,768.9 L315.56,769.4 L315.89,769.3 L316.22,769.4 L316.55,768.7 L316.88,767.4 L317.21,766.2 L317.28,766.1 L317.54,766.8 L317.87,768.4 L318.20,764.3 L318.40,762.3 L318.53,763.4 L318.86,768.3 L319.19,769.1 L319.52,767.2 L319.79,766.7 L319.85,766.7 L320.18,767.9 L320.51,769.0 L320.84,768.9 L321.17,768.6 L321.50,766.4 L321.64,766.1 L321.83,766.6 L322.16,768.0 L322.49,765.4 L322.50,765.5 L322.82,767.9 L323.15,768.1 L323.48,767.6 L323.81,765.1 L324.00,763.4 L324.14,764.3 L324.19,765.0 L324.47,767.7 L324.80,767.4 L325.13,767.1 L325.46,764.7 L325.50,764.5 L325.79,767.0 L326.12,767.1 L326.45,766.8 L326.48,766.9 L326.78,765.1 L327.00,762.5 L327.11,763.0 L327.44,766.7 L327.77,766.6 L328.00,766.8 L328.10,766.6 L328.43,767.0 L328.76,763.6 L328.80,763.8 L329.09,766.5 L329.27,766.9 L329.42,766.9 L329.75,765.8 L330.00,763.0 L330.08,763.4 L330.41,767.3 L330.74,766.9 L331.07,767.2 L331.40,767.6 L331.73,763.9 L331.80,764.0 L332.06,766.4 L332.09,766.8 L332.39,767.6 L332.72,767.6 L333.05,767.8 L333.38,764.4 L333.50,763.5 L333.71,765.6 L334.04,766.6 L334.22,766.6 L334.37,766.8 L334.70,768.1 L335.03,768.4 L335.36,765.8 L335.50,765.5 L335.52,765.5 L335.69,766.3 L336.02,769.0 L336.35,769.1 L336.68,768.7 L337.01,769.3 L337.34,769.1 L337.67,769.0 L338.00,768.9 L338.33,769.1 L338.66,769.1 L338.99,767.4 L339.18,767.2 L339.32,767.2 L339.65,768.5 L339.98,769.2 L340.31,769.5 L340.64,769.0 L340.97,769.1 L341.30,769.3 L341.63,768.3 L341.91,767.4 L341.96,767.3 L342.29,768.3 L342.62,769.4 L342.95,769.3 L343.28,769.1 L343.61,767.7 L343.94,766.9 L344.27,767.7 L344.60,769.1 L344.93,769.4 L345.26,769.0 L345.59,767.7 L345.92,766.4 L345.95,766.4 L346.25,767.4 L346.58,769.0 L346.91,767.3 L347.24,766.5 L347.26,766.5 L347.57,767.5 L347.90,767.6 L348.23,763.8 L348.30,763.4 L348.56,765.8 L348.89,767.9 L349.22,766.1 L349.29,766.3 L349.55,767.5 L349.88,768.8 L350.21,769.4 L350.54,768.8 L350.87,767.5 L351.13,767.2 L351.20,767.3 L351.53,768.7 L351.86,769.2 L352.19,768.6 L352.52,761.2 L352.80,753.1 L352.85,753.4 L353.18,764.5 L353.51,768.8 L353.84,768.2 L354.13,767.4 L354.17,767.4 L354.50,768.4 L354.83,769.0 L355.16,769.0 L355.49,768.8 L355.82,768.1 L356.15,767.3 L356.21,767.1 L356.48,767.6 L356.81,768.3 L357.14,769.2 L357.47,769.0 L357.80,768.9 L358.13,769.1 L358.46,767.6 L358.79,761.0 L358.90,760.3 L359.12,763.2 L359.45,767.8 L359.60,767.3 L359.78,767.6 L360.11,768.8 L360.44,769.3 L360.77,769.4 L361.10,769.1 L361.43,769.0 L361.76,768.7 L362.09,767.4 L362.42,766.9 L362.48,767.0 L362.75,767.5 L363.08,768.0 L363.41,769.1 L363.74,768.7 L364.07,765.1 L364.29,759.3 L364.40,758.2 L364.73,764.9 L365.06,769.0 L365.39,768.1 L365.72,766.9 L366.02,766.0 L366.05,765.9 L366.38,766.8 L366.71,768.3 L367.04,768.8 L367.37,767.5 L367.70,766.1 L367.73,766.1 L368.03,767.2 L368.36,768.5 L368.69,768.9 L369.02,769.0 L369.35,769.1 L369.68,767.6 L370.01,763.5 L370.10,763.4 L370.34,765.4 L370.58,767.2 L370.67,767.2 L371.00,768.1 L371.33,768.7 L371.66,768.3 L371.99,766.6 L372.16,766.1 L372.32,766.6 L372.65,768.1 L372.98,769.0 L373.31,768.7 L373.64,768.4 L373.97,767.0 L374.08,767.0 L374.30,767.6 L374.63,768.4 L374.96,768.8 L375.29,769.1 L375.62,768.8 L375.95,767.3 L376.28,765.5 L376.38,765.7 L376.61,766.1 L376.94,768.4 L377.27,768.7 L377.60,768.0 L377.93,765.7 L378.02,765.7 L378.26,766.8 L378.59,768.8 L378.92,769.0 L379.25,768.9 L379.58,768.7 L379.91,769.2 L380.24,768.9 L380.57,768.3 L380.90,767.8 L381.23,767.0 L381.47,766.6 L381.56,766.3 L381.89,766.9 L382.22,767.9 L382.55,768.2 L382.88,768.5 L383.21,768.4 L383.54,768.1 L383.87,768.0 L384.20,767.9 L384.53,767.5 L384.86,766.4 L385.10,766.3 L385.19,766.1 L385.52,766.9 L385.85,767.1 L386.18,767.8 L386.51,767.6 L386.84,767.5 L387.17,767.1 L387.50,766.4 L387.83,763.3 L388.10,761.3 L388.16,761.4 L388.21,761.7 L388.49,764.8 L388.82,766.3 L389.15,766.8 L389.48,762.0 L389.81,742.9 L390.00,736.4 L390.14,739.9 L390.47,760.1 L390.76,764.9 L390.80,764.7 L391.13,765.8 L391.46,766.6 L391.79,766.6 L392.12,766.0 L392.45,764.0 L392.58,764.0 L392.78,764.5 L393.11,765.9 L393.44,766.1 L393.77,766.3 L394.10,765.4 L394.43,765.3 L394.55,765.1 L394.76,765.0 L395.09,765.9 L395.42,765.9 L395.75,765.9 L396.08,765.9 L396.41,765.8 L396.74,766.0 L397.07,765.8 L397.40,765.4 L397.73,763.8 L398.06,762.7 L398.39,763.5 L398.72,765.0 L399.05,765.5 L399.38,765.6 L399.71,765.6 L400.04,765.8 L400.37,765.6 L400.70,765.1 L401.03,764.4 L401.36,763.4 L401.55,763.3 L401.69,763.2 L402.02,764.4 L402.35,764.8 L402.68,764.4 L402.83,764.3 L403.01,764.1 L403.34,765.1 L403.67,765.4 L404.00,765.4 L404.33,764.7 L404.66,763.6 L404.83,763.3 L404.99,763.2 L405.32,764.7 L405.65,765.6 L405.98,765.5 L406.31,765.1 L406.64,764.0 L406.97,763.4 L407.11,763.1 L407.30,763.1 L407.63,764.5 L407.96,765.4 L408.29,765.4 L408.62,765.4 L408.95,763.4 L409.22,762.4 L409.28,762.5 L409.61,764.0 L409.94,765.4 L410.27,765.5 L410.60,765.2 L410.93,765.1 L411.26,764.5 L411.59,763.6 L411.66,763.6 L411.92,764.1 L412.25,764.7 L412.58,765.3 L412.91,760.4 L413.20,746.8 L413.24,747.0 L413.57,759.0 L413.90,721.4 L414.00,716.0 L414.23,738.1 L414.56,751.3 L414.70,746.1 L414.89,754.2 L415.22,765.1 L415.55,760.6 L415.80,752.9 L415.88,753.8 L416.21,763.8 L416.54,759.1 L416.80,748.1 L416.87,749.2 L417.20,752.3 L417.50,730.0 L417.53,730.1 L417.80,745.8 L417.86,746.8 L418.19,762.9 L418.52,764.6 L418.85,764.2 L419.18,755.0 L419.30,752.7 L419.51,758.4 L419.84,764.2 L420.17,747.1 L420.50,705.0 L420.80,743.1 L420.83,747.0 L421.16,761.9 L421.49,764.4 L421.82,764.3 L422.15,764.4 L422.48,763.0 L422.81,748.7 L422.90,747.0 L423.14,757.4 L423.47,764.3 L423.80,764.1 L424.13,758.1 L424.40,745.7 L424.46,746.5 L424.79,762.2 L425.12,764.3 L425.45,762.1 L425.78,734.2 L426.00,712.0 L426.11,718.6 L426.44,754.2 L426.50,753.9 L426.77,741.9 L427.10,689.0 L427.43,742.0 L427.76,756.8 L427.80,756.9 L428.09,762.1 L428.42,763.8 L428.75,757.6 L429.00,747.5 L429.08,748.7 L429.41,762.5 L429.74,763.7 L430.07,762.3 L430.40,748.1 L430.50,745.6 L430.73,755.4 L431.06,762.5 L431.39,745.3 L431.60,734.0 L431.72,738.2 L432.05,747.8 L432.10,747.2 L432.38,755.6 L432.71,703.2 L432.90,681.0 L433.04,693.9 L433.37,751.0 L433.60,745.8 L433.70,748.1 L434.03,762.1 L434.36,763.1 L434.69,762.9 L435.02,762.7 L435.35,760.2 L435.68,746.0 L435.70,745.9 L436.01,759.1 L436.34,762.8 L436.67,763.0 L437.00,763.0 L437.33,762.8 L437.66,761.0 L437.99,752.8 L438.00,753.1 L438.32,760.8 L438.65,762.8 L438.98,762.3 L439.31,758.3 L439.50,755.5 L439.64,757.4 L439.97,737.8 L440.30,650.3 L440.40,640.0 L440.63,685.0 L440.96,605.9 L441.10,587.8 L441.29,619.2 L441.30,622.6 L441.62,723.4 L441.95,759.3 L442.28,761.9 L442.61,761.8 L442.94,760.0 L443.27,749.1 L443.30,748.8 L443.60,718.7 L443.80,694.0 L443.93,705.8 L444.26,755.6 L444.59,758.4 L444.90,746.0 L444.92,745.9 L445.25,755.7 L445.58,709.1 L445.70,700.0 L445.91,724.2 L446.24,751.3 L446.40,746.4 L446.57,751.6 L446.90,761.4 L447.23,761.3 L447.56,753.8 L447.89,693.9 L448.20,631.0 L448.22,631.2 L448.40,662.3 L448.55,705.0 L448.88,756.1 L449.21,761.1 L449.54,761.1 L449.87,761.2 L450.20,758.0 L450.50,749.3 L450.53,749.4 L450.86,759.5 L451.19,755.2 L451.52,723.6 L451.60,721.0 L451.85,741.0 L452.00,747.8 L452.18,752.8 L452.51,760.7 L452.84,760.8 L453.17,761.0 L453.50,760.6 L453.83,752.1 L454.00,747.1 L454.16,751.5 L454.49,760.3 L454.82,760.5 L455.15,760.4 L455.48,760.7 L455.81,757.5 L456.10,749.4 L456.14,749.8 L456.47,717.1 L456.60,708.0 L456.80,727.0 L457.13,758.0 L457.46,760.6 L457.79,756.8 L458.10,745.7 L458.12,746.0 L458.45,757.8 L458.78,760.1 L459.11,755.4 L459.44,706.7 L459.60,689.0 L459.77,708.7 L460.10,755.6 L460.43,756.4 L460.70,748.9 L460.76,749.6 L461.09,759.0 L461.42,760.1 L461.75,759.0 L462.08,749.3 L462.20,746.7 L462.41,753.1 L462.74,759.4 L463.07,759.6 L463.40,759.4 L463.73,759.7 L464.06,759.1 L464.39,756.7 L464.50,755.8 L464.72,758.0 L465.05,759.2 L465.38,759.4 L465.71,759.9 L466.04,759.9 L466.37,760.2 L466.70,760.1 L467.03,760.3 L467.36,756.2 L467.69,746.0 L467.70,746.0 L468.00,745.8 L468.02,745.5 L468.35,755.4 L468.68,760.8 L469.01,761.4 L469.34,761.2 L469.67,761.5 L470.00,761.6 L470.33,761.5 L470.66,761.6 L470.99,761.7 L471.32,761.4 L471.65,761.6 L471.98,761.9 L472.31,761.5 L472.64,757.0 L472.97,741.0 L473.00,741.0 L473.30,745.0 L473.63,755.5 L473.96,761.8 L474.29,761.8 L474.62,761.2 L474.88,761.2 L474.95,761.0 L475.28,761.5 L475.61,762.1 L475.94,762.2 L476.27,762.0 L476.60,758.4 L476.93,736.9 L477.10,730.0 L477.26,736.4 L477.59,758.2 L477.92,762.5 L478.25,762.4 L478.58,762.3 L478.91,760.6 L479.24,750.2 L479.40,747.6 L479.57,751.0 L479.58,751.3 L479.90,761.0 L480.23,762.2 L480.56,762.4 L480.89,762.5 L481.22,762.6 L481.55,762.8 L481.88,762.9 L482.21,763.0 L482.54,762.6 L482.87,763.1 L483.20,762.9 L483.53,762.9 L483.86,763.0 L484.19,763.0 L484.52,762.9 L484.85,763.1 L485.18,763.2 L485.51,763.3 L485.84,763.5 L486.17,763.1 L486.50,763.5 L486.83,763.5 L487.16,763.5 L487.49,763.7 L487.82,763.2 L488.15,763.5 L488.48,763.5 L488.72,763.3 L488.81,763.3 L489.14,763.6 L489.47,760.4 L489.80,749.9 L489.90,748.5 L490.13,754.0 L490.46,762.5 L490.79,763.6 L491.12,764.0 L491.45,763.8 L491.78,763.7 L492.11,763.9 L492.44,764.2 L492.77,763.8 L493.10,763.7 L493.43,764.3 L493.76,764.0 L494.09,764.0 L494.42,764.4 L494.75,764.0 L495.08,764.0 L495.41,764.5 L495.74,764.1 L496.07,763.9 L496.40,763.8 L496.62,763.2 L496.73,763.2 L496.90,763.0 L497.06,762.9 L497.39,763.5 L497.72,764.2 L498.05,764.5 L498.38,764.5 L498.71,764.6 L499.04,764.5 L499.37,764.9 L499.70,764.9 L500.03,764.9 L500.36,764.9 L500.69,764.5 L501.02,764.6 L501.35,764.6 L501.68,764.3 L502.01,764.4 L502.02,764.2 L502.34,764.7 L502.67,764.8 L503.00,764.6 L503.33,764.8 L503.66,764.6 L503.99,765.1 L504.32,764.8 L504.65,764.8 L504.98,765.2 L505.31,764.8 L505.64,765.2 L505.97,764.9 L506.30,765.1 L506.63,764.8 L506.96,765.2 L507.29,765.0 L507.62,764.9 L507.95,764.9 L508.28,764.4 L508.48,764.3 L508.61,764.1 L508.94,764.8 L509.27,764.8 L509.60,765.3 L509.93,765.1 L510.26,765.0 L510.59,765.1 L510.92,765.0 L511.25,765.1 L511.58,765.1 L511.91,764.8 L512.00,764.9 L512.24,764.9 L512.57,764.9 L512.90,764.9 L513.23,764.5 L513.56,764.4 L513.89,763.9 L514.22,763.4 L514.55,763.2 L514.88,763.5 L515.00,763.4 L515.21,763.3 L515.54,763.5 L515.87,764.0 L516.20,764.0 L516.37,764.4 L516.53,764.4 L516.86,764.5 L517.19,765.0 L517.52,765.2 L517.85,765.3 L518.18,765.4 L518.51,765.5 L518.84,765.6 L519.17,765.4 L519.50,765.8 L519.83,765.4 L520.16,765.8 L520.49,765.4 L520.82,765.8 L521.15,765.5 L521.48,765.4 L521.81,765.7 L522.14,765.9 L522.47,765.9 L522.80,765.9 L523.13,766.0 L523.46,765.5 L523.79,765.7 L524.12,765.5 L524.45,765.9 L524.78,765.8 L525.11,765.9 L525.44,765.8 L525.77,765.5 L525.85,765.2 L526.10,765.6 L526.43,765.8 L526.76,765.6 L527.09,766.1 L527.42,765.7 L527.75,765.7 L528.08,766.1 L528.41,765.8 L528.74,766.0 L529.07,765.7 L529.40,765.8 L529.73,766.1 L530.06,765.7 L530.39,766.0 L530.72,766.2 L531.05,765.7 L531.38,765.7 L531.56,765.6 L531.71,765.7 L532.04,765.7 L532.37,765.5 L532.70,764.9 L533.03,764.9 L533.36,765.0 L533.69,765.2 L533.70,765.0 L534.02,765.0 L534.35,764.9 L534.68,765.5 L535.01,765.5 L535.34,765.7 L535.67,766.0 L536.00,765.8 L536.33,766.3 L536.66,766.4 L536.99,766.5 L537.32,766.2 L537.65,766.2 L537.98,766.2 L538.31,766.6 L538.64,766.3 L538.97,766.2 L539.30,766.0 L539.59,765.9 L539.63,765.8 L539.96,766.0 L540.29,766.5 L540.62,766.6 L540.95,766.3 L541.28,766.2 L541.61,766.7 L541.94,766.6 L542.27,766.6 L542.60,766.5 L542.93,766.8 L543.26,766.5 L543.59,766.4 L543.92,766.2 L544.25,766.2 L544.43,766.3 L544.58,766.2 L544.91,766.7 L545.24,766.7 L545.57,766.6 L545.90,766.7 L546.23,766.7 L546.56,766.7 L546.89,766.7 L547.22,766.7 L547.55,766.7 L547.88,766.9 L548.21,766.5 L548.54,766.9 L548.87,766.6 L549.20,766.9 L549.53,766.5 L549.86,766.8 L550.19,766.8 L550.52,766.9 L550.85,766.6 L551.18,766.5 L551.51,766.2 L551.82,766.3 L551.84,766.3 L552.17,766.2 L552.50,766.6 L552.83,766.7 L553.16,767.1 L553.49,766.9 L553.82,767.0 L554.15,766.8 L554.48,767.0 L554.81,767.1 L555.14,767.0 L555.47,766.5 L555.80,766.4 L555.88,766.5 L556.13,766.4 L556.46,767.1 L556.79,766.9 L557.12,766.9 L557.45,767.1 L557.78,767.1 L558.11,767.1 L558.44,767.3 L558.77,767.1 L559.10,767.0 L559.43,766.9 L559.76,767.1 L560.09,767.0 L560.42,767.1 L560.75,767.0 L561.08,766.8 L561.41,766.7 L561.74,766.7 L562.07,766.5 L562.40,766.8 L562.73,766.5 L563.06,766.1 L563.39,766.1 L563.61,766.0 L563.72,765.6 L564.05,766.0 L564.10,765.9 L564.38,766.1 L564.71,765.8 L565.04,766.0 L565.37,766.2 L565.70,766.8 L566.03,767.0 L566.36,767.0 L566.69,766.8 L567.02,767.1 L567.35,767.3 L567.68,767.0 L568.01,767.5 L568.34,767.4 L568.67,767.5 L569.00,767.3 L569.33,767.3 L569.66,767.5 L569.99,767.1 L570.32,767.0 L570.65,766.9 L570.98,766.8 L571.31,767.0 L571.64,766.3 L571.97,766.4 L572.30,765.9 L572.63,765.9 L572.71,765.7 L572.96,765.6 L573.29,765.6 L573.40,765.5 L573.62,765.3 L573.95,765.5 L574.28,765.8 L574.61,766.2 L574.94,766.6 L575.27,766.8 L575.60,767.1 L575.93,767.2 L576.26,767.1 L576.59,767.3 L576.92,767.4 L577.25,767.5 L577.58,767.3 L577.91,767.2 L578.24,767.2 L578.57,766.6 L578.82,766.6 L578.90,766.3 L579.23,767.1 L579.56,767.3 L579.89,767.2 L580.22,767.4 L580.55,767.4 L580.88,767.6 L581.21,767.6 L581.54,767.4 L581.87,767.6 L582.20,767.6 L582.53,767.2 L582.86,767.6 L583.19,767.6 L583.52,767.7 L583.85,767.6 L584.18,767.4 L584.51,767.2 L584.84,767.2 L585.17,766.7 L585.26,766.9 L585.50,767.0 L585.83,767.4 L586.16,767.3 L586.49,767.3 L586.82,767.7 L587.15,767.6 L587.48,767.4 L587.81,767.5 L588.14,767.4 L588.47,767.6 L588.80,767.5 L589.13,767.3 L589.46,767.6 L589.79,767.3 L590.12,766.7 L590.45,765.5 L590.48,765.6 L590.78,764.3 L591.11,762.3 L591.44,760.0 L591.77,757.5 L592.10,756.3 L592.40,755.7 L592.43,755.6 L592.76,756.4 L593.09,758.0 L593.42,760.4 L593.75,762.7 L594.08,764.8 L594.41,765.6 L594.48,766.1 L594.74,767.0 L595.07,767.3 L595.40,767.5 L595.73,767.6 L596.06,767.0 L596.39,767.1 L596.72,766.5 L597.05,765.8 L597.38,764.8 L597.71,764.3 L598.04,763.5 L598.30,763.7 L598.37,763.5 L598.70,764.2 L599.03,764.7 L599.36,765.3 L599.69,766.2 L600.02,766.6 L600.35,767.1 L600.68,767.2 L601.01,767.7 L601.34,767.7 L601.67,767.7 L602.00,767.3 L602.33,767.6 L602.66,767.0 L602.99,767.1 L603.32,766.8 L603.65,766.2 L603.98,765.9 L604.14,765.7 L604.31,765.5 L604.64,764.7 L604.97,764.3 L605.30,763.4 L605.63,763.1 L605.96,762.4 L606.29,761.9 L606.60,762.1 L606.62,761.8 L606.95,762.0 L607.28,762.6 L607.61,762.7 L607.94,763.6 L608.27,764.4 L608.60,764.9 L608.93,765.4 L609.26,766.2 L609.59,766.7 L609.92,766.9 L610.25,767.2 L610.58,767.3 L610.91,767.4 L611.24,767.9 L611.57,767.9 L611.90,767.4 L612.23,767.4 L612.56,767.3 L612.89,767.4 L613.22,766.8 L613.55,766.4 L613.88,766.3 L613.92,766.2 L614.21,765.9 L614.54,765.2 L614.87,765.0 L615.20,764.7 L615.40,764.6 L615.53,764.7 L615.86,764.7 L616.19,764.9 L616.52,765.3 L616.85,766.2 L617.18,766.6 L617.51,766.8 L617.84,767.4 L618.17,767.3 L618.50,767.6 L618.83,767.5 L619.16,767.7 L619.49,768.0 L619.82,767.8 L620.15,767.5 L620.48,767.0 L620.67,767.0 L620.81,766.9 L621.14,767.8 L621.47,767.4 L621.80,767.8 L622.13,767.5 L622.46,767.4 L622.79,766.8 L623.12,766.2 L623.45,765.8 L623.78,765.7 L624.11,765.0 L624.44,764.8 L624.70,765.0 L624.77,765.1 L625.10,765.3 L625.43,765.6 L625.76,765.8 L626.09,766.5 L626.42,766.8 L626.75,767.1 L627.08,767.3 L627.41,767.3 L627.74,767.5 L628.07,767.5 L628.40,767.3 L628.73,766.8 L628.81,767.1 L629.06,767.2 L629.39,767.7 L629.72,768.0 L630.05,767.7 L630.38,768.1 L630.71,768.1 L631.04,767.8 L631.37,767.7 L631.70,768.1 L632.03,768.1 L632.36,768.1 L632.69,767.8 L633.02,768.0 L633.35,767.7 L633.68,767.8 L634.01,767.9 L634.34,768.0 L634.67,767.7 L635.00,768.2 L635.33,767.7 L635.66,768.2 L635.99,767.7 L636.32,767.9 L636.65,767.6 L636.98,767.3 L637.31,767.4 L637.64,767.9 L637.97,767.8 L638.30,768.1 L638.63,767.7 L638.96,768.2 L639.29,768.0 L639.62,767.7 L639.95,768.2 L640.28,767.8 L640.61,767.6 L640.94,767.6 L641.20,767.7 L641.27,767.5 L641.60,767.9 L641.93,768.2 L642.26,768.0 L642.59,768.1 L642.92,768.0 L643.25,767.8 L643.58,767.4 L643.91,767.0 L644.24,766.5 L644.57,766.1 L644.90,765.3 L645.23,765.1 L645.56,764.4 L645.71,764.4 L645.89,764.2 L646.10,764.2 L646.22,764.0 L646.55,764.2 L646.88,764.9 L647.21,765.2 L647.54,766.1 L647.87,766.8 L648.20,767.0 L648.53,767.7 L648.86,767.7 L649.19,768.1 L649.52,767.6 L649.85,767.2 L650.18,767.7 L650.51,767.8 L650.84,768.1 L651.17,768.1 L651.50,768.0 L651.83,768.1 L652.16,768.3 L652.49,768.2 L652.82,768.2 L653.15,767.9 L653.48,768.2 L653.81,768.1 L654.14,768.2 L654.47,767.0 L654.61,767.3 L654.80,767.7 L655.13,767.6 L655.46,767.5 L655.79,766.9 L656.12,766.2 L656.45,765.5 L656.78,764.9 L657.11,764.6 L657.44,764.2 L657.50,764.2 L657.77,764.1 L658.10,764.8 L658.43,765.4 L658.76,766.2 L658.95,766.5 L659.09,766.5 L659.42,767.5 L659.75,767.7 L660.08,767.7 L660.41,768.0 L660.74,767.9 L661.07,768.0 L661.40,768.3 L661.73,768.3 L662.06,768.3 L662.39,767.9 L662.72,767.8 L663.05,767.9 L663.38,767.8 L663.71,767.6 L664.04,767.0 L664.37,766.8 L664.70,766.2 L665.03,765.6 L665.36,765.7 L665.60,765.5 L665.69,765.5 L666.02,765.4 L666.35,765.7 L666.68,766.5 L667.01,767.0 L667.34,767.5 L667.67,767.6 L668.00,767.9 L668.31,767.6 L668.33,767.3 L668.66,767.4 L668.99,768.2 L669.32,768.1 L669.65,768.0 L669.98,768.0 L670.31,768.3 L670.64,768.0 L670.97,768.1 L671.30,768.3 L671.63,768.1 L671.96,768.3 L672.29,768.5 L672.62,768.4 L672.95,768.3 L673.28,768.3 L673.61,768.1 L673.94,768.3 L674.27,768.3 L674.60,768.3 L674.93,768.2 L675.26,768.4 L675.59,768.1 L675.92,768.4 L676.25,768.5 L676.58,768.0 L676.91,768.0 L677.24,767.8 L677.40,767.5 L677.57,767.8 L677.90,768.2 L678.23,768.0 L678.56,768.3 L678.89,768.0 L679.22,768.5 L679.55,768.2 L679.88,768.5 L680.21,768.5 L680.54,768.1 L680.87,768.2 L681.20,768.1 L681.53,768.4 L681.86,768.1 L682.19,768.1 L682.52,768.1 L682.85,768.5 L683.18,768.2 L683.51,768.2 L683.84,768.2 L684.17,768.1 L684.48,768.0 L684.50,768.2 L684.83,768.0" fill="none" stroke="#000" stroke-width="1.1" stroke-linejoin="round"/>
<polyline points="412.6,766 440,762.6" fill="none" stroke="#a00808" stroke-width="0.8"/>
<polyline points="440,762.6 464.5,759.8" fill="none" stroke="#a00808" stroke-width="0.8"/>
<rect x="417.90" y="580.60" width="48.60" height="6.40" fill="#fff"/>
<text transform="translate(418.50,586.20) scale(1.85,1)" font-size="7.27" font-family='"Liberation Sans", sans-serif' font-weight="bold" fill="#14147a" stroke="#14147a" stroke-width="0.05" textLength="25.62" lengthAdjust="spacing">16.405</text>
<rect x="425.20" y="623.40" width="48.30" height="6.40" fill="#fff"/>
<text transform="translate(425.80,629.00) scale(1.85,1)" font-size="7.27" font-family='"Liberation Sans", sans-serif' font-weight="bold" fill="#14147a" stroke="#14147a" stroke-width="0.05" textLength="25.46" lengthAdjust="spacing">16.764</text>
<rect x="418.60" y="631.90" width="48.60" height="6.40" fill="#fff"/>
<text transform="translate(419.20,637.50) scale(1.85,1)" font-size="7.27" font-family='"Liberation Sans", sans-serif' font-weight="bold" fill="#14147a" stroke="#14147a" stroke-width="0.05" textLength="25.62" lengthAdjust="spacing">16.449</text>
<rect x="409.10" y="674.50" width="48.90" height="6.40" fill="#fff"/>
<text transform="translate(409.70,680.10) scale(1.85,1)" font-size="7.27" font-family='"Liberation Sans", sans-serif' font-weight="bold" fill="#14147a" stroke="#14147a" stroke-width="0.05" textLength="25.78" lengthAdjust="spacing">16.003</text>
<rect x="404.70" y="682.10" width="48.50" height="6.40" fill="#fff"/>
<text transform="translate(405.30,687.70) scale(1.85,1)" font-size="7.27" font-family='"Liberation Sans", sans-serif' font-weight="bold" fill="#14147a" stroke="#14147a" stroke-width="0.05" textLength="25.57" lengthAdjust="spacing">15.717</text>
<rect x="436.30" y="682.10" width="48.50" height="6.40" fill="#fff"/>
<text transform="translate(436.90,687.70) scale(1.85,1)" font-size="7.27" font-family='"Liberation Sans", sans-serif' font-weight="bold" fill="#14147a" stroke="#14147a" stroke-width="0.05" textLength="25.57" lengthAdjust="spacing">17.309</text>
<rect x="420.80" y="687.00" width="48.60" height="6.40" fill="#fff"/>
<text transform="translate(421.40,692.60) scale(1.85,1)" font-size="7.27" font-family='"Liberation Sans", sans-serif' font-weight="bold" fill="#14147a" stroke="#14147a" stroke-width="0.05" textLength="25.62" lengthAdjust="spacing">16.539</text>
<rect x="422.70" y="693.10" width="48.20" height="6.40" fill="#fff"/>
<text transform="translate(423.30,698.70) scale(1.85,1)" font-size="7.27" font-family='"Liberation Sans", sans-serif' font-weight="bold" fill="#14147a" stroke="#14147a" stroke-width="0.05" textLength="25.41" lengthAdjust="spacing">16.629</text>
<rect x="433.20" y="701.10" width="48.60" height="6.40" fill="#fff"/>
<text transform="translate(433.80,706.70) scale(1.85,1)" font-size="7.27" font-family='"Liberation Sans", sans-serif' font-weight="bold" fill="#14147a" stroke="#14147a" stroke-width="0.05" textLength="25.62" lengthAdjust="spacing">17.164</text>
<rect x="393.00" y="705.90" width="48.60" height="6.40" fill="#fff"/>
<text transform="translate(393.60,711.50) scale(1.85,1)" font-size="7.27" font-family='"Liberation Sans", sans-serif' font-weight="bold" fill="#14147a" stroke="#14147a" stroke-width="0.05" textLength="25.62" lengthAdjust="spacing">15.665</text>
<rect x="401.80" y="709.90" width="48.60" height="6.40" fill="#fff"/>
<text transform="translate(402.40,715.50) scale(1.85,1)" font-size="7.27" font-family='"Liberation Sans", sans-serif' font-weight="bold" fill="#14147a" stroke="#14147a" stroke-width="0.05" textLength="25.62" lengthAdjust="spacing">15.664</text>
<rect x="428.80" y="714.00" width="47.90" height="6.40" fill="#fff"/>
<text transform="translate(429.40,719.60) scale(1.85,1)" font-size="7.27" font-family='"Liberation Sans", sans-serif' font-weight="bold" fill="#14147a" stroke="#14147a" stroke-width="0.05" textLength="25.24" lengthAdjust="spacing">16.920</text>
<rect x="390.10" y="724.20" width="48.50" height="6.40" fill="#fff"/>
<text transform="translate(390.70,729.80) scale(1.85,1)" font-size="7.27" font-family='"Liberation Sans", sans-serif' font-weight="bold" fill="#14147a" stroke="#14147a" stroke-width="0.05" textLength="25.57" lengthAdjust="spacing">15.458</text>
<rect x="409.10" y="727.10" width="47.90" height="6.40" fill="#fff"/>
<text transform="translate(409.70,732.70) scale(1.85,1)" font-size="7.27" font-family='"Liberation Sans", sans-serif' font-weight="bold" fill="#14147a" stroke="#14147a" stroke-width="0.05" textLength="25.24" lengthAdjust="spacing">15.942</text>
<rect x="449.90" y="734.00" width="48.50" height="6.40" fill="#fff"/>
<text transform="translate(450.50,739.60) scale(1.85,1)" font-size="7.27" font-family='"Liberation Sans", sans-serif' font-weight="bold" fill="#14147a" stroke="#14147a" stroke-width="0.05" textLength="25.57" lengthAdjust="spacing">17.966</text>
<rect x="395.20" y="739.10" width="48.40" height="6.40" fill="#fff"/>
<text transform="translate(395.80,744.70) scale(1.85,1)" font-size="7.27" font-family='"Liberation Sans", sans-serif' font-weight="bold" fill="#14147a" stroke="#14147a" stroke-width="0.05" textLength="25.51" lengthAdjust="spacing">15.832</text>
<rect x="442.00" y="739.10" width="48.50" height="6.40" fill="#fff"/>
<text transform="translate(442.60,744.70) scale(1.85,1)" font-size="7.27" font-family='"Liberation Sans", sans-serif' font-weight="bold" fill="#14147a" stroke="#14147a" stroke-width="0.05" textLength="25.57" lengthAdjust="spacing">17.707</text>
<rect x="395" y="742.6" width="97" height="4.399999999999977" fill="#fff"/>
<clipPath id="clip742"><rect x="395" y="742.6" width="97" height="27.600000000000023"/></clipPath>
<polygon points="412.2,766 412.4,753.5 415.7,753.5 415.9,765.6" fill="#a00808" fill-opacity="0.9" clip-path="url(#clip742)"/>
<polygon points="421,765 421.5,755 423,755 423.3,764.7" fill="#a00808" fill-opacity="0.9" clip-path="url(#clip742)"/>
<polygon points="430.5,764 431,756 435.8,756 436,763.4" fill="#a00808" fill-opacity="0.9" clip-path="url(#clip742)"/>
<polygon points="441,762.5 441.5,747 452,747 462,750 462.5,760" fill="#a00808" fill-opacity="0.9" clip-path="url(#clip742)"/>
<polygon points="470.8,761 471,752.6 474.3,752.6 474.5,761.5" fill="#a00808" fill-opacity="0.9" clip-path="url(#clip742)"/>
<path d="M149.90,769.8 L150.23,770.0 L150.56,770.1 L150.89,769.8 L151.22,769.7 L151.55,769.8 L151.88,770.0 L152.21,770.0 L152.54,769.8 L152.87,769.8 L153.20,769.8 L153.53,769.8 L153.86,769.8 L154.19,769.6 L154.52,769.7 L154.85,769.5 L155.17,769.1 L155.18,769.1 L155.51,769.1 L155.84,769.8 L156.17,769.9 L156.50,769.9 L156.83,769.8 L157.16,769.8 L157.49,769.6 L157.82,767.7 L158.15,762.4 L158.30,761.7 L158.48,763.1 L158.81,768.1 L159.14,769.6 L159.47,769.7 L159.80,769.9 L160.13,769.6 L160.46,769.6 L160.79,769.6 L161.12,769.8 L161.45,769.6 L161.78,769.6 L162.11,769.8 L162.44,769.7 L162.77,769.1 L162.89,769.3 L163.10,769.2 L163.43,768.7 L163.76,765.8 L163.80,765.8 L164.09,767.6 L164.42,769.3 L164.75,769.7 L165.08,769.7 L165.41,769.4 L165.74,768.1 L166.00,767.0 L166.07,767.2 L166.40,768.8 L166.49,769.1 L166.73,769.1 L167.06,769.5 L167.39,769.6 L167.72,769.9 L168.05,769.9 L168.38,769.8 L168.71,769.7 L169.04,769.9 L169.37,769.9 L169.70,769.7 L170.03,769.9 L170.36,770.0 L170.69,769.6 L171.02,769.2 L171.35,768.8 L171.63,768.9 L171.68,768.9 L172.01,769.3 L172.34,769.7 L172.67,769.5 L173.00,769.5 L173.33,769.6 L173.66,769.6 L173.99,769.8 L174.32,769.9 L174.65,770.0 L174.98,769.6 L175.31,769.9 L175.64,769.6 L175.97,769.7 L176.30,769.9 L176.63,769.5 L176.96,769.5 L177.29,769.9 L177.62,769.6 L177.95,769.6 L178.28,769.8 L178.61,769.8 L178.94,769.5 L179.27,769.6 L179.60,769.7 L179.93,769.7 L180.26,769.4 L180.59,769.2 L180.92,768.9 L180.98,768.7 L181.25,768.9 L181.58,769.3 L181.91,769.6 L182.24,769.8 L182.57,769.5 L182.90,769.9 L183.23,770.0 L183.56,769.5 L183.89,770.0 L184.22,769.7 L184.55,769.8 L184.88,769.6 L185.21,768.7 L185.54,768.4 L185.87,768.9 L186.20,769.6 L186.53,769.6 L186.86,769.9 L187.19,770.0 L187.52,769.8 L187.85,769.8 L188.18,769.5 L188.51,769.7 L188.84,769.6 L189.17,769.9 L189.50,769.8 L189.83,769.8 L190.16,769.6 L190.49,769.8 L190.82,769.8 L191.15,769.5 L191.48,769.9 L191.81,769.7 L192.14,769.1 L192.47,769.0 L192.70,768.6 L192.80,768.5 L193.13,769.2 L193.46,769.6 L193.79,769.7 L194.12,769.8 L194.45,769.7 L194.78,769.6 L195.11,769.5 L195.44,769.5 L195.77,769.8 L196.10,769.5 L196.43,768.8 L196.65,768.7 L196.76,768.6 L197.09,769.0 L197.42,769.5 L197.75,769.9 L198.08,769.5 L198.41,769.7 L198.74,769.6 L199.07,769.9 L199.40,769.6 L199.73,769.6 L200.06,769.7 L200.39,769.8 L200.72,769.9 L201.05,769.6 L201.38,769.9 L201.71,769.4 L202.04,768.6 L202.25,768.4 L202.37,768.3 L202.70,769.6 L203.03,769.8 L203.36,769.6 L203.69,769.6 L204.02,769.7 L204.35,769.9 L204.68,769.9 L205.01,769.9 L205.34,769.8 L205.67,769.5 L206.00,769.7 L206.33,769.6 L206.66,769.7 L206.99,769.8 L207.32,769.6 L207.65,769.6 L207.98,769.9 L208.31,769.2 L208.64,769.1 L208.97,768.6 L209.06,768.4 L209.30,768.5 L209.63,769.3 L209.96,769.7 L210.29,769.8 L210.62,770.0 L210.95,769.8 L211.28,769.6 L211.61,769.9 L211.94,769.7 L212.27,769.8 L212.60,769.9 L212.93,769.5 L213.26,769.9 L213.59,769.8 L213.92,769.7 L214.25,769.7 L214.58,769.7 L214.91,769.6 L215.24,769.7 L215.57,769.5 L215.90,769.7 L216.23,769.8 L216.56,769.6 L216.89,769.5 L217.22,769.4 L217.55,769.1 L217.56,768.9 L217.88,769.2 L218.21,769.5 L218.54,769.4 L218.87,769.6 L219.20,769.6 L219.53,769.5 L219.86,769.8 L220.19,770.0 L220.52,769.6 L220.85,769.9 L221.18,769.8 L221.51,769.5 L221.84,769.9 L222.17,769.8 L222.50,770.0 L222.83,769.9 L223.16,769.9 L223.49,769.6 L223.82,769.9 L224.15,770.0 L224.48,769.9 L224.81,769.7 L225.14,769.9 L225.47,769.7 L225.80,769.5 L226.13,769.1 L226.46,768.3 L226.67,768.4 L226.79,768.2 L227.12,769.1 L227.45,769.7 L227.78,769.7 L228.11,769.7 L228.44,769.8 L228.77,769.6 L229.10,769.7 L229.43,769.9 L229.76,769.7 L230.09,769.6 L230.42,770.0 L230.75,769.9 L231.08,769.7 L231.41,769.7 L231.74,769.7 L232.07,769.8 L232.40,769.6 L232.73,769.5 L233.06,769.6 L233.39,769.9 L233.72,769.5 L234.05,769.7 L234.38,769.6 L234.71,769.6 L235.04,769.5 L235.37,769.7 L235.70,769.5 L236.03,769.1 L236.32,769.2 L236.36,769.0 L236.69,769.5 L237.02,769.5 L237.35,769.5 L237.68,769.7 L238.01,769.7 L238.34,769.8 L238.67,769.5 L239.00,769.7 L239.33,769.7 L239.66,769.5 L239.99,770.0 L240.32,769.5 L240.65,769.2 L240.98,769.1 L241.31,768.6 L241.34,768.9 L241.64,768.9 L241.97,769.2 L242.30,769.4 L242.63,769.8 L242.96,769.6 L243.29,769.9 L243.62,769.7 L243.95,769.8 L244.28,768.1 L244.61,765.8 L244.70,765.8 L244.94,767.0 L245.27,769.1 L245.60,769.6 L245.93,769.5 L246.26,769.8 L246.59,769.9 L246.92,769.7 L247.25,769.4 L247.58,769.4 L247.91,769.4 L248.24,769.5 L248.57,769.3 L248.90,768.9 L249.23,768.7 L249.56,769.3 L249.89,769.4 L250.22,769.9 L250.55,769.6 L250.88,769.8 L251.21,769.9 L251.54,769.9 L251.87,769.4 L252.20,769.5 L252.53,769.7 L252.86,769.9 L253.19,769.4 L253.52,769.5 L253.85,769.8 L254.18,769.4 L254.51,769.5 L254.84,769.3 L255.17,769.0 L255.43,768.6 L255.50,768.4 L255.83,769.3 L256.16,769.7 L256.49,769.8 L256.82,769.6 L257.15,769.8 L257.48,769.5 L257.81,769.5 L258.14,769.4 L258.47,769.7 L258.80,769.6 L259.13,769.5 L259.46,769.4 L259.79,769.7 L260.12,769.6 L260.45,769.7 L260.78,769.5 L261.11,769.6 L261.44,769.4 L261.77,769.7 L262.10,769.2 L262.43,769.1 L262.76,768.7 L263.02,768.5 L263.09,768.2 L263.42,768.6 L263.75,769.5 L264.08,769.4 L264.41,768.1 L264.60,767.4 L264.74,767.6 L265.07,769.4 L265.40,769.7 L265.73,769.4 L266.06,769.5 L266.39,769.3 L266.72,769.5 L267.05,769.8 L267.38,769.3 L267.71,769.6 L268.04,769.3 L268.37,769.3 L268.70,769.6 L269.03,769.4 L269.36,769.3 L269.69,769.3 L270.02,769.6 L270.35,769.6 L270.68,769.2 L271.01,769.3 L271.34,769.8 L271.67,769.3 L272.00,769.4 L272.33,769.1 L272.66,767.6 L272.93,766.4 L272.99,766.6 L273.02,766.5 L273.32,768.1 L273.65,768.8 L273.98,769.1 L274.31,768.6 L274.64,765.7 L274.80,765.4 L274.97,766.2 L275.30,768.3 L275.63,767.6 L275.96,756.1 L276.20,750.1 L276.29,750.9 L276.59,762.7 L276.62,763.7 L276.95,767.8 L277.28,768.9 L277.61,769.5 L277.94,769.3 L278.27,769.5 L278.60,769.4 L278.93,769.0 L279.26,768.2 L279.59,766.4 L279.62,766.4 L279.92,767.4 L280.25,769.1 L280.58,769.4 L280.91,769.6 L281.24,769.2 L281.57,769.3 L281.90,768.9 L282.23,768.0 L282.31,768.3 L282.56,768.7 L282.89,769.2 L283.22,769.5 L283.55,769.5 L283.88,769.3 L284.21,769.3 L284.54,769.7 L284.87,769.1 L285.20,768.7 L285.53,768.0 L285.69,768.2 L285.86,768.1 L286.19,769.0 L286.52,769.3 L286.85,769.6 L287.18,769.7 L287.51,769.5 L287.84,769.7 L288.17,769.4 L288.50,768.8 L288.83,768.3 L288.94,768.1 L289.16,768.5 L289.49,769.1 L289.82,768.4 L290.15,756.3 L290.40,747.0 L290.48,748.4 L290.81,764.1 L290.93,766.3 L291.14,766.5 L291.47,767.9 L291.80,769.1 L292.13,768.3 L292.29,768.3 L292.46,768.5 L292.79,768.7 L293.12,766.9 L293.45,760.3 L293.50,760.3 L293.78,764.7 L294.11,769.2 L294.44,769.5 L294.77,768.7 L295.10,766.8 L295.34,766.3 L295.43,766.3 L295.76,766.2 L296.09,754.8 L296.20,753.5 L296.42,759.0 L296.75,768.5 L297.08,769.7 L297.41,769.6 L297.74,769.4 L298.07,769.2 L298.40,768.7 L298.73,767.0 L299.04,766.0 L299.06,766.0 L299.39,767.2 L299.72,769.1 L300.05,769.3 L300.38,769.3 L300.71,768.6 L301.04,767.1 L301.06,767.0 L301.37,766.1 L301.70,761.3 L302.03,766.0 L302.36,766.5 L302.39,766.2 L302.69,762.0 L302.70,762.0 L303.02,766.1 L303.35,769.1 L303.68,769.6 L304.01,769.4 L304.34,769.7 L304.67,769.4 L305.00,768.7 L305.17,768.3 L305.33,768.3 L305.66,768.9 L305.99,769.4 L306.32,769.3 L306.65,769.2 L306.98,769.5 L307.31,769.2 L307.64,769.3 L307.97,768.8 L308.30,767.4 L308.59,766.1 L308.63,765.9 L308.96,767.5 L309.29,769.1 L309.62,769.5 L309.95,769.5 L310.28,769.7 L310.61,769.6 L310.94,769.3 L311.27,769.1 L311.60,767.2 L311.90,764.4 L311.93,764.4 L312.08,765.7 L312.26,767.6 L312.59,768.7 L312.92,769.2 L313.25,769.1 L313.58,769.5 L313.91,769.2 L314.24,768.2 L314.57,766.9 L314.63,767.0 L314.90,767.7 L315.23,768.9 L315.56,769.4 L315.89,769.3 L316.22,769.4 L316.55,768.7 L316.88,767.4 L317.21,766.2 L317.28,766.1 L317.54,766.8 L317.87,768.4 L318.20,764.3 L318.40,762.3 L318.53,763.4 L318.86,768.3 L319.19,769.1 L319.52,767.2 L319.79,766.7 L319.85,766.7 L320.18,767.9 L320.51,769.0 L320.84,768.9 L321.17,768.6 L321.50,766.4 L321.64,766.1 L321.83,766.6 L322.16,768.0 L322.49,765.4 L322.50,765.5 L322.82,767.9 L323.15,768.1 L323.48,767.6 L323.81,765.1 L324.00,763.4 L324.14,764.3 L324.19,765.0 L324.47,767.7 L324.80,767.4 L325.13,767.1 L325.46,764.7 L325.50,764.5 L325.79,767.0 L326.12,767.1 L326.45,766.8 L326.48,766.9 L326.78,765.1 L327.00,762.5 L327.11,763.0 L327.44,766.7 L327.77,766.6 L328.00,766.8 L328.10,766.6 L328.43,767.0 L328.76,763.6 L328.80,763.8 L329.09,766.5 L329.27,766.9 L329.42,766.9 L329.75,765.8 L330.00,763.0 L330.08,763.4 L330.41,767.3 L330.74,766.9 L331.07,767.2 L331.40,767.6 L331.73,763.9 L331.80,764.0 L332.06,766.4 L332.09,766.8 L332.39,767.6 L332.72,767.6 L333.05,767.8 L333.38,764.4 L333.50,763.5 L333.71,765.6 L334.04,766.6 L334.22,766.6 L334.37,766.8 L334.70,768.1 L335.03,768.4 L335.36,765.8 L335.50,765.5 L335.52,765.5 L335.69,766.3 L336.02,769.0 L336.35,769.1 L336.68,768.7 L337.01,769.3 L337.34,769.1 L337.67,769.0 L338.00,768.9 L338.33,769.1 L338.66,769.1 L338.99,767.4 L339.18,767.2 L339.32,767.2 L339.65,768.5 L339.98,769.2 L340.31,769.5 L340.64,769.0 L340.97,769.1 L341.30,769.3 L341.63,768.3 L341.91,767.4 L341.96,767.3 L342.29,768.3 L342.62,769.4 L342.95,769.3 L343.28,769.1 L343.61,767.7 L343.94,766.9 L344.27,767.7 L344.60,769.1 L344.93,769.4 L345.26,769.0 L345.59,767.7 L345.92,766.4 L345.95,766.4 L346.25,767.4 L346.58,769.0 L346.91,767.3 L347.24,766.5 L347.26,766.5 L347.57,767.5 L347.90,767.6 L348.23,763.8 L348.30,763.4 L348.56,765.8 L348.89,767.9 L349.22,766.1 L349.29,766.3 L349.55,767.5 L349.88,768.8 L350.21,769.4 L350.54,768.8 L350.87,767.5 L351.13,767.2 L351.20,767.3 L351.53,768.7 L351.86,769.2 L352.19,768.6 L352.52,761.2 L352.80,753.1 L352.85,753.4 L353.18,764.5 L353.51,768.8 L353.84,768.2 L354.13,767.4 L354.17,767.4 L354.50,768.4 L354.83,769.0 L355.16,769.0 L355.49,768.8 L355.82,768.1 L356.15,767.3 L356.21,767.1 L356.48,767.6 L356.81,768.3 L357.14,769.2 L357.47,769.0 L357.80,768.9 L358.13,769.1 L358.46,767.6 L358.79,761.0 L358.90,760.3 L359.12,763.2 L359.45,767.8 L359.60,767.3 L359.78,767.6 L360.11,768.8 L360.44,769.3 L360.77,769.4 L361.10,769.1 L361.43,769.0 L361.76,768.7 L362.09,767.4 L362.42,766.9 L362.48,767.0 L362.75,767.5 L363.08,768.0 L363.41,769.1 L363.74,768.7 L364.07,765.1 L364.29,759.3 L364.40,758.2 L364.73,764.9 L365.06,769.0 L365.39,768.1 L365.72,766.9 L366.02,766.0 L366.05,765.9 L366.38,766.8 L366.71,768.3 L367.04,768.8 L367.37,767.5 L367.70,766.1 L367.73,766.1 L368.03,767.2 L368.36,768.5 L368.69,768.9 L369.02,769.0 L369.35,769.1 L369.68,767.6 L370.01,763.5 L370.10,763.4 L370.34,765.4 L370.58,767.2 L370.67,767.2 L371.00,768.1 L371.33,768.7 L371.66,768.3 L371.99,766.6 L372.16,766.1 L372.32,766.6 L372.65,768.1 L372.98,769.0 L373.31,768.7 L373.64,768.4 L373.97,767.0 L374.08,767.0 L374.30,767.6 L374.63,768.4 L374.96,768.8 L375.29,769.1 L375.62,768.8 L375.95,767.3 L376.28,765.5 L376.38,765.7 L376.61,766.1 L376.94,768.4 L377.27,768.7 L377.60,768.0 L377.93,765.7 L378.02,765.7 L378.26,766.8 L378.59,768.8 L378.92,769.0 L379.25,768.9 L379.58,768.7 L379.91,769.2 L380.24,768.9 L380.57,768.3 L380.90,767.8 L381.23,767.0 L381.47,766.6 L381.56,766.3 L381.89,766.9 L382.22,767.9 L382.55,768.2 L382.88,768.5 L383.21,768.4 L383.54,768.1 L383.87,768.0 L384.20,767.9 L384.53,767.5 L384.86,766.4 L385.10,766.3 L385.19,766.1 L385.52,766.9 L385.85,767.1 L386.18,767.8 L386.51,767.6 L386.84,767.5 L387.17,767.1 L387.50,766.4 L387.83,763.3 L388.10,761.3 L388.16,761.4 L388.21,761.7 L388.49,764.8 L388.82,766.3 L389.15,766.8 L389.48,762.0 L389.81,742.9 L390.00,736.4 L390.14,739.9 L390.47,760.1 L390.76,764.9 L390.80,764.7 L391.13,765.8 L391.46,766.6 L391.79,766.6 L392.12,766.0 L392.45,764.0 L392.58,764.0 L392.78,764.5 L393.11,765.9 L393.44,766.1 L393.77,766.3 L394.10,765.4 L394.43,765.3 L394.55,765.1 L394.76,765.0 L395.09,765.9 L395.42,765.9 L395.75,765.9 L396.08,765.9 L396.41,765.8 L396.74,766.0 L397.07,765.8 L397.40,765.4 L397.73,763.8 L398.06,762.7 L398.39,763.5 L398.72,765.0 L399.05,765.5 L399.38,765.6 L399.71,765.6 L400.04,765.8 L400.37,765.6 L400.70,765.1 L401.03,764.4 L401.36,763.4 L401.55,763.3 L401.69,763.2 L402.02,764.4 L402.35,764.8 L402.68,764.4 L402.83,764.3 L403.01,764.1 L403.34,765.1 L403.67,765.4 L404.00,765.4 L404.33,764.7 L404.66,763.6 L404.83,763.3 L404.99,763.2 L405.32,764.7 L405.65,765.6 L405.98,765.5 L406.31,765.1 L406.64,764.0 L406.97,763.4 L407.11,763.1 L407.30,763.1 L407.63,764.5 L407.96,765.4 L408.29,765.4 L408.62,765.4 L408.95,763.4 L409.22,762.4 L409.28,762.5 L409.61,764.0 L409.94,765.4 L410.27,765.5 L410.60,765.2 L410.93,765.1 L411.26,764.5 L411.59,763.6 L411.66,763.6 L411.92,764.1 L412.25,764.7 L412.58,765.3 L412.91,760.4 L413.20,746.8 L413.24,747.0 L413.57,759.0 L413.90,721.4 L414.00,716.0 L414.23,738.1 L414.56,751.3 L414.70,746.1 L414.89,754.2 L415.22,765.1 L415.55,760.6 L415.80,752.9 L415.88,753.8 L416.21,763.8 L416.54,759.1 L416.80,748.1 L416.87,749.2 L417.20,752.3 L417.50,730.0 L417.53,730.1 L417.80,745.8 L417.86,746.8 L418.19,762.9 L418.52,764.6 L418.85,764.2 L419.18,755.0 L419.30,752.7 L419.51,758.4 L419.84,764.2 L420.17,747.1 L420.50,705.0 L420.80,743.1 L420.83,747.0 L421.16,761.9 L421.49,764.4 L421.82,764.3 L422.15,764.4 L422.48,763.0 L422.81,748.7 L422.90,747.0 L423.14,757.4 L423.47,764.3 L423.80,764.1 L424.13,758.1 L424.40,745.7 L424.46,746.5 L424.79,762.2 L425.12,764.3 L425.45,762.1 L425.78,734.2 L426.00,712.0 L426.11,718.6 L426.44,754.2 L426.50,753.9 L426.77,741.9 L427.10,689.0 L427.43,742.0 L427.76,756.8 L427.80,756.9 L428.09,762.1 L428.42,763.8 L428.75,757.6 L429.00,747.5 L429.08,748.7 L429.41,762.5 L429.74,763.7 L430.07,762.3 L430.40,748.1 L430.50,745.6 L430.73,755.4 L431.06,762.5 L431.39,745.3 L431.60,734.0 L431.72,738.2 L432.05,747.8 L432.10,747.2 L432.38,755.6 L432.71,703.2 L432.90,681.0 L433.04,693.9 L433.37,751.0 L433.60,745.8 L433.70,748.1 L434.03,762.1 L434.36,763.1 L434.69,762.9 L435.02,762.7 L435.35,760.2 L435.68,746.0 L435.70,745.9 L436.01,759.1 L436.34,762.8 L436.67,763.0 L437.00,763.0 L437.33,762.8 L437.66,761.0 L437.99,752.8 L438.00,753.1 L438.32,760.8 L438.65,762.8 L438.98,762.3 L439.31,758.3 L439.50,755.5 L439.64,757.4 L439.97,737.8 L440.30,650.3 L440.40,640.0 L440.63,685.0 L440.96,605.9 L441.10,587.8 L441.29,619.2 L441.30,622.6 L441.62,723.4 L441.95,759.3 L442.28,761.9 L442.61,761.8 L442.94,760.0 L443.27,749.1 L443.30,748.8 L443.60,718.7 L443.80,694.0 L443.93,705.8 L444.26,755.6 L444.59,758.4 L444.90,746.0 L444.92,745.9 L445.25,755.7 L445.58,709.1 L445.70,700.0 L445.91,724.2 L446.24,751.3 L446.40,746.4 L446.57,751.6 L446.90,761.4 L447.23,761.3 L447.56,753.8 L447.89,693.9 L448.20,631.0 L448.22,631.2 L448.40,662.3 L448.55,705.0 L448.88,756.1 L449.21,761.1 L449.54,761.1 L449.87,761.2 L450.20,758.0 L450.50,749.3 L450.53,749.4 L450.86,759.5 L451.19,755.2 L451.52,723.6 L451.60,721.0 L451.85,741.0 L452.00,747.8 L452.18,752.8 L452.51,760.7 L452.84,760.8 L453.17,761.0 L453.50,760.6 L453.83,752.1 L454.00,747.1 L454.16,751.5 L454.49,760.3 L454.82,760.5 L455.15,760.4 L455.48,760.7 L455.81,757.5 L456.10,749.4 L456.14,749.8 L456.47,717.1 L456.60,708.0 L456.80,727.0 L457.13,758.0 L457.46,760.6 L457.79,756.8 L458.10,745.7 L458.12,746.0 L458.45,757.8 L458.78,760.1 L459.11,755.4 L459.44,706.7 L459.60,689.0 L459.77,708.7 L460.10,755.6 L460.43,756.4 L460.70,748.9 L460.76,749.6 L461.09,759.0 L461.42,760.1 L461.75,759.0 L462.08,749.3 L462.20,746.7 L462.41,753.1 L462.74,759.4 L463.07,759.6 L463.40,759.4 L463.73,759.7 L464.06,759.1 L464.39,756.7 L464.50,755.8 L464.72,758.0 L465.05,759.2 L465.38,759.4 L465.71,759.9 L466.04,759.9 L466.37,760.2 L466.70,760.1 L467.03,760.3 L467.36,756.2 L467.69,746.0 L467.70,746.0 L468.00,745.8 L468.02,745.5 L468.35,755.4 L468.68,760.8 L469.01,761.4 L469.34,761.2 L469.67,761.5 L470.00,761.6 L470.33,761.5 L470.66,761.6 L470.99,761.7 L471.32,761.4 L471.65,761.6 L471.98,761.9 L472.31,761.5 L472.64,757.0 L472.97,741.0 L473.00,741.0 L473.30,745.0 L473.63,755.5 L473.96,761.8 L474.29,761.8 L474.62,761.2 L474.88,761.2 L474.95,761.0 L475.28,761.5 L475.61,762.1 L475.94,762.2 L476.27,762.0 L476.60,758.4 L476.93,736.9 L477.10,730.0 L477.26,736.4 L477.59,758.2 L477.92,762.5 L478.25,762.4 L478.58,762.3 L478.91,760.6 L479.24,750.2 L479.40,747.6 L479.57,751.0 L479.58,751.3 L479.90,761.0 L480.23,762.2 L480.56,762.4 L480.89,762.5 L481.22,762.6 L481.55,762.8 L481.88,762.9 L482.21,763.0 L482.54,762.6 L482.87,763.1 L483.20,762.9 L483.53,762.9 L483.86,763.0 L484.19,763.0 L484.52,762.9 L484.85,763.1 L485.18,763.2 L485.51,763.3 L485.84,763.5 L486.17,763.1 L486.50,763.5 L486.83,763.5 L487.16,763.5 L487.49,763.7 L487.82,763.2 L488.15,763.5 L488.48,763.5 L488.72,763.3 L488.81,763.3 L489.14,763.6 L489.47,760.4 L489.80,749.9 L489.90,748.5 L490.13,754.0 L490.46,762.5 L490.79,763.6 L491.12,764.0 L491.45,763.8 L491.78,763.7 L492.11,763.9 L492.44,764.2 L492.77,763.8 L493.10,763.7 L493.43,764.3 L493.76,764.0 L494.09,764.0 L494.42,764.4 L494.75,764.0 L495.08,764.0 L495.41,764.5 L495.74,764.1 L496.07,763.9 L496.40,763.8 L496.62,763.2 L496.73,763.2 L496.90,763.0 L497.06,762.9 L497.39,763.5 L497.72,764.2 L498.05,764.5 L498.38,764.5 L498.71,764.6 L499.04,764.5 L499.37,764.9 L499.70,764.9 L500.03,764.9 L500.36,764.9 L500.69,764.5 L501.02,764.6 L501.35,764.6 L501.68,764.3 L502.01,764.4 L502.02,764.2 L502.34,764.7 L502.67,764.8 L503.00,764.6 L503.33,764.8 L503.66,764.6 L503.99,765.1 L504.32,764.8 L504.65,764.8 L504.98,765.2 L505.31,764.8 L505.64,765.2 L505.97,764.9 L506.30,765.1 L506.63,764.8 L506.96,765.2 L507.29,765.0 L507.62,764.9 L507.95,764.9 L508.28,764.4 L508.48,764.3 L508.61,764.1 L508.94,764.8 L509.27,764.8 L509.60,765.3 L509.93,765.1 L510.26,765.0 L510.59,765.1 L510.92,765.0 L511.25,765.1 L511.58,765.1 L511.91,764.8 L512.00,764.9 L512.24,764.9 L512.57,764.9 L512.90,764.9 L513.23,764.5 L513.56,764.4 L513.89,763.9 L514.22,763.4 L514.55,763.2 L514.88,763.5 L515.00,763.4 L515.21,763.3 L515.54,763.5 L515.87,764.0 L516.20,764.0 L516.37,764.4 L516.53,764.4 L516.86,764.5 L517.19,765.0 L517.52,765.2 L517.85,765.3 L518.18,765.4 L518.51,765.5 L518.84,765.6 L519.17,765.4 L519.50,765.8 L519.83,765.4 L520.16,765.8 L520.49,765.4 L520.82,765.8 L521.15,765.5 L521.48,765.4 L521.81,765.7 L522.14,765.9 L522.47,765.9 L522.80,765.9 L523.13,766.0 L523.46,765.5 L523.79,765.7 L524.12,765.5 L524.45,765.9 L524.78,765.8 L525.11,765.9 L525.44,765.8 L525.77,765.5 L525.85,765.2 L526.10,765.6 L526.43,765.8 L526.76,765.6 L527.09,766.1 L527.42,765.7 L527.75,765.7 L528.08,766.1 L528.41,765.8 L528.74,766.0 L529.07,765.7 L529.40,765.8 L529.73,766.1 L530.06,765.7 L530.39,766.0 L530.72,766.2 L531.05,765.7 L531.38,765.7 L531.56,765.6 L531.71,765.7 L532.04,765.7 L532.37,765.5 L532.70,764.9 L533.03,764.9 L533.36,765.0 L533.69,765.2 L533.70,765.0 L534.02,765.0 L534.35,764.9 L534.68,765.5 L535.01,765.5 L535.34,765.7 L535.67,766.0 L536.00,765.8 L536.33,766.3 L536.66,766.4 L536.99,766.5 L537.32,766.2 L537.65,766.2 L537.98,766.2 L538.31,766.6 L538.64,766.3 L538.97,766.2 L539.30,766.0 L539.59,765.9 L539.63,765.8 L539.96,766.0 L540.29,766.5 L540.62,766.6 L540.95,766.3 L541.28,766.2 L541.61,766.7 L541.94,766.6 L542.27,766.6 L542.60,766.5 L542.93,766.8 L543.26,766.5 L543.59,766.4 L543.92,766.2 L544.25,766.2 L544.43,766.3 L544.58,766.2 L544.91,766.7 L545.24,766.7 L545.57,766.6 L545.90,766.7 L546.23,766.7 L546.56,766.7 L546.89,766.7 L547.22,766.7 L547.55,766.7 L547.88,766.9 L548.21,766.5 L548.54,766.9 L548.87,766.6 L549.20,766.9 L549.53,766.5 L549.86,766.8 L550.19,766.8 L550.52,766.9 L550.85,766.6 L551.18,766.5 L551.51,766.2 L551.82,766.3 L551.84,766.3 L552.17,766.2 L552.50,766.6 L552.83,766.7 L553.16,767.1 L553.49,766.9 L553.82,767.0 L554.15,766.8 L554.48,767.0 L554.81,767.1 L555.14,767.0 L555.47,766.5 L555.80,766.4 L555.88,766.5 L556.13,766.4 L556.46,767.1 L556.79,766.9 L557.12,766.9 L557.45,767.1 L557.78,767.1 L558.11,767.1 L558.44,767.3 L558.77,767.1 L559.10,767.0 L559.43,766.9 L559.76,767.1 L560.09,767.0 L560.42,767.1 L560.75,767.0 L561.08,766.8 L561.41,766.7 L561.74,766.7 L562.07,766.5 L562.40,766.8 L562.73,766.5 L563.06,766.1 L563.39,766.1 L563.61,766.0 L563.72,765.6 L564.05,766.0 L564.10,765.9 L564.38,766.1 L564.71,765.8 L565.04,766.0 L565.37,766.2 L565.70,766.8 L566.03,767.0 L566.36,767.0 L566.69,766.8 L567.02,767.1 L567.35,767.3 L567.68,767.0 L568.01,767.5 L568.34,767.4 L568.67,767.5 L569.00,767.3 L569.33,767.3 L569.66,767.5 L569.99,767.1 L570.32,767.0 L570.65,766.9 L570.98,766.8 L571.31,767.0 L571.64,766.3 L571.97,766.4 L572.30,765.9 L572.63,765.9 L572.71,765.7 L572.96,765.6 L573.29,765.6 L573.40,765.5 L573.62,765.3 L573.95,765.5 L574.28,765.8 L574.61,766.2 L574.94,766.6 L575.27,766.8 L575.60,767.1 L575.93,767.2 L576.26,767.1 L576.59,767.3 L576.92,767.4 L577.25,767.5 L577.58,767.3 L577.91,767.2 L578.24,767.2 L578.57,766.6 L578.82,766.6 L578.90,766.3 L579.23,767.1 L579.56,767.3 L579.89,767.2 L580.22,767.4 L580.55,767.4 L580.88,767.6 L581.21,767.6 L581.54,767.4 L581.87,767.6 L582.20,767.6 L582.53,767.2 L582.86,767.6 L583.19,767.6 L583.52,767.7 L583.85,767.6 L584.18,767.4 L584.51,767.2 L584.84,767.2 L585.17,766.7 L585.26,766.9 L585.50,767.0 L585.83,767.4 L586.16,767.3 L586.49,767.3 L586.82,767.7 L587.15,767.6 L587.48,767.4 L587.81,767.5 L588.14,767.4 L588.47,767.6 L588.80,767.5 L589.13,767.3 L589.46,767.6 L589.79,767.3 L590.12,766.7 L590.45,765.5 L590.48,765.6 L590.78,764.3 L591.11,762.3 L591.44,760.0 L591.77,757.5 L592.10,756.3 L592.40,755.7 L592.43,755.6 L592.76,756.4 L593.09,758.0 L593.42,760.4 L593.75,762.7 L594.08,764.8 L594.41,765.6 L594.48,766.1 L594.74,767.0 L595.07,767.3 L595.40,767.5 L595.73,767.6 L596.06,767.0 L596.39,767.1 L596.72,766.5 L597.05,765.8 L597.38,764.8 L597.71,764.3 L598.04,763.5 L598.30,763.7 L598.37,763.5 L598.70,764.2 L599.03,764.7 L599.36,765.3 L599.69,766.2 L600.02,766.6 L600.35,767.1 L600.68,767.2 L601.01,767.7 L601.34,767.7 L601.67,767.7 L602.00,767.3 L602.33,767.6 L602.66,767.0 L602.99,767.1 L603.32,766.8 L603.65,766.2 L603.98,765.9 L604.14,765.7 L604.31,765.5 L604.64,764.7 L604.97,764.3 L605.30,763.4 L605.63,763.1 L605.96,762.4 L606.29,761.9 L606.60,762.1 L606.62,761.8 L606.95,762.0 L607.28,762.6 L607.61,762.7 L607.94,763.6 L608.27,764.4 L608.60,764.9 L608.93,765.4 L609.26,766.2 L609.59,766.7 L609.92,766.9 L610.25,767.2 L610.58,767.3 L610.91,767.4 L611.24,767.9 L611.57,767.9 L611.90,767.4 L612.23,767.4 L612.56,767.3 L612.89,767.4 L613.22,766.8 L613.55,766.4 L613.88,766.3 L613.92,766.2 L614.21,765.9 L614.54,765.2 L614.87,765.0 L615.20,764.7 L615.40,764.6 L615.53,764.7 L615.86,764.7 L616.19,764.9 L616.52,765.3 L616.85,766.2 L617.18,766.6 L617.51,766.8 L617.84,767.4 L618.17,767.3 L618.50,767.6 L618.83,767.5 L619.16,767.7 L619.49,768.0 L619.82,767.8 L620.15,767.5 L620.48,767.0 L620.67,767.0 L620.81,766.9 L621.14,767.8 L621.47,767.4 L621.80,767.8 L622.13,767.5 L622.46,767.4 L622.79,766.8 L623.12,766.2 L623.45,765.8 L623.78,765.7 L624.11,765.0 L624.44,764.8 L624.70,765.0 L624.77,765.1 L625.10,765.3 L625.43,765.6 L625.76,765.8 L626.09,766.5 L626.42,766.8 L626.75,767.1 L627.08,767.3 L627.41,767.3 L627.74,767.5 L628.07,767.5 L628.40,767.3 L628.73,766.8 L628.81,767.1 L629.06,767.2 L629.39,767.7 L629.72,768.0 L630.05,767.7 L630.38,768.1 L630.71,768.1 L631.04,767.8 L631.37,767.7 L631.70,768.1 L632.03,768.1 L632.36,768.1 L632.69,767.8 L633.02,768.0 L633.35,767.7 L633.68,767.8 L634.01,767.9 L634.34,768.0 L634.67,767.7 L635.00,768.2 L635.33,767.7 L635.66,768.2 L635.99,767.7 L636.32,767.9 L636.65,767.6 L636.98,767.3 L637.31,767.4 L637.64,767.9 L637.97,767.8 L638.30,768.1 L638.63,767.7 L638.96,768.2 L639.29,768.0 L639.62,767.7 L639.95,768.2 L640.28,767.8 L640.61,767.6 L640.94,767.6 L641.20,767.7 L641.27,767.5 L641.60,767.9 L641.93,768.2 L642.26,768.0 L642.59,768.1 L642.92,768.0 L643.25,767.8 L643.58,767.4 L643.91,767.0 L644.24,766.5 L644.57,766.1 L644.90,765.3 L645.23,765.1 L645.56,764.4 L645.71,764.4 L645.89,764.2 L646.10,764.2 L646.22,764.0 L646.55,764.2 L646.88,764.9 L647.21,765.2 L647.54,766.1 L647.87,766.8 L648.20,767.0 L648.53,767.7 L648.86,767.7 L649.19,768.1 L649.52,767.6 L649.85,767.2 L650.18,767.7 L650.51,767.8 L650.84,768.1 L651.17,768.1 L651.50,768.0 L651.83,768.1 L652.16,768.3 L652.49,768.2 L652.82,768.2 L653.15,767.9 L653.48,768.2 L653.81,768.1 L654.14,768.2 L654.47,767.0 L654.61,767.3 L654.80,767.7 L655.13,767.6 L655.46,767.5 L655.79,766.9 L656.12,766.2 L656.45,765.5 L656.78,764.9 L657.11,764.6 L657.44,764.2 L657.50,764.2 L657.77,764.1 L658.10,764.8 L658.43,765.4 L658.76,766.2 L658.95,766.5 L659.09,766.5 L659.42,767.5 L659.75,767.7 L660.08,767.7 L660.41,768.0 L660.74,767.9 L661.07,768.0 L661.40,768.3 L661.73,768.3 L662.06,768.3 L662.39,767.9 L662.72,767.8 L663.05,767.9 L663.38,767.8 L663.71,767.6 L664.04,767.0 L664.37,766.8 L664.70,766.2 L665.03,765.6 L665.36,765.7 L665.60,765.5 L665.69,765.5 L666.02,765.4 L666.35,765.7 L666.68,766.5 L667.01,767.0 L667.34,767.5 L667.67,767.6 L668.00,767.9 L668.31,767.6 L668.33,767.3 L668.66,767.4 L668.99,768.2 L669.32,768.1 L669.65,768.0 L669.98,768.0 L670.31,768.3 L670.64,768.0 L670.97,768.1 L671.30,768.3 L671.63,768.1 L671.96,768.3 L672.29,768.5 L672.62,768.4 L672.95,768.3 L673.28,768.3 L673.61,768.1 L673.94,768.3 L674.27,768.3 L674.60,768.3 L674.93,768.2 L675.26,768.4 L675.59,768.1 L675.92,768.4 L676.25,768.5 L676.58,768.0 L676.91,768.0 L677.24,767.8 L677.40,767.5 L677.57,767.8 L677.90,768.2 L678.23,768.0 L678.56,768.3 L678.89,768.0 L679.22,768.5 L679.55,768.2 L679.88,768.5 L680.21,768.5 L680.54,768.1 L680.87,768.2 L681.20,768.1 L681.53,768.4 L681.86,768.1 L682.19,768.1 L682.52,768.1 L682.85,768.5 L683.18,768.2 L683.51,768.2 L683.84,768.2 L684.17,768.1 L684.48,768.0 L684.50,768.2 L684.83,768.0" fill="none" stroke="#000" stroke-width="1.1" stroke-linejoin="round" clip-path="url(#clip742)"/>
<line x1="149.40" y1="832.80" x2="149.40" y2="1016.60" stroke="#000" stroke-width="1"/>
<line x1="148.90" y1="1016.10" x2="685.00" y2="1016.10" stroke="#000" stroke-width="1"/>
<line x1="147.20" y1="1016.10" x2="149.40" y2="1016.10" stroke="#000" stroke-width="0.9"/>
<line x1="148.20" y1="1013.57" x2="149.40" y2="1013.57" stroke="#000" stroke-width="0.6"/>
<line x1="148.20" y1="1011.05" x2="149.40" y2="1011.05" stroke="#000" stroke-width="0.6"/>
<line x1="148.20" y1="1008.52" x2="149.40" y2="1008.52" stroke="#000" stroke-width="0.6"/>
<line x1="148.20" y1="1006.00" x2="149.40" y2="1006.00" stroke="#000" stroke-width="0.6"/>
<text transform="translate(136.68,1018.70) scale(1.9072153846153845,1)" font-size="7.56" font-family='"Liberation Sans", sans-serif' font-weight="normal" fill="#000" stroke="#000" stroke-width="0.24" textLength="4.52" lengthAdjust="spacing">0</text>
<line x1="147.20" y1="1003.47" x2="149.40" y2="1003.47" stroke="#000" stroke-width="0.9"/>
<line x1="148.20" y1="1000.94" x2="149.40" y2="1000.94" stroke="#000" stroke-width="0.6"/>
<line x1="148.20" y1="998.42" x2="149.40" y2="998.42" stroke="#000" stroke-width="0.6"/>
<line x1="148.20" y1="995.89" x2="149.40" y2="995.89" stroke="#000" stroke-width="0.6"/>
<line x1="148.20" y1="993.37" x2="149.40" y2="993.37" stroke="#000" stroke-width="0.6"/>
<text transform="translate(101.77,1006.07) scale(1.9072153846153845,1)" font-size="7.56" font-family='"Liberation Sans", sans-serif' font-weight="normal" fill="#000" stroke="#000" stroke-width="0.24" textLength="22.83" lengthAdjust="spacing">1e+07</text>
<line x1="147.20" y1="990.84" x2="149.40" y2="990.84" stroke="#000" stroke-width="0.9"/>
<line x1="148.20" y1="988.31" x2="149.40" y2="988.31" stroke="#000" stroke-width="0.6"/>
<line x1="148.20" y1="985.79" x2="149.40" y2="985.79" stroke="#000" stroke-width="0.6"/>
<line x1="148.20" y1="983.26" x2="149.40" y2="983.26" stroke="#000" stroke-width="0.6"/>
<line x1="148.20" y1="980.74" x2="149.40" y2="980.74" stroke="#000" stroke-width="0.6"/>
<text transform="translate(101.77,993.44) scale(1.9072153846153845,1)" font-size="7.56" font-family='"Liberation Sans", sans-serif' font-weight="normal" fill="#000" stroke="#000" stroke-width="0.24" textLength="22.83" lengthAdjust="spacing">2e+07</text>
<line x1="147.20" y1="978.21" x2="149.40" y2="978.21" stroke="#000" stroke-width="0.9"/>
<line x1="148.20" y1="975.68" x2="149.40" y2="975.68" stroke="#000" stroke-width="0.6"/>
<line x1="148.20" y1="973.16" x2="149.40" y2="973.16" stroke="#000" stroke-width="0.6"/>
<line x1="148.20" y1="970.63" x2="149.40" y2="970.63" stroke="#000" stroke-width="0.6"/>
<line x1="148.20" y1="968.11" x2="149.40" y2="968.11" stroke="#000" stroke-width="0.6"/>
<text transform="translate(101.77,980.81) scale(1.9072153846153845,1)" font-size="7.56" font-family='"Liberation Sans", sans-serif' font-weight="normal" fill="#000" stroke="#000" stroke-width="0.24" textLength="22.83" lengthAdjust="spacing">3e+07</text>
<line x1="147.20" y1="965.58" x2="149.40" y2="965.58" stroke="#000" stroke-width="0.9"/>
<line x1="148.20" y1="963.05" x2="149.40" y2="963.05" stroke="#000" stroke-width="0.6"/>
<line x1="148.20" y1="960.53" x2="149.40" y2="960.53" stroke="#000" stroke-width="0.6"/>
<line x1="148.20" y1="958.00" x2="149.40" y2="958.00" stroke="#000" stroke-width="0.6"/>
<line x1="148.20" y1="955.48" x2="149.40" y2="955.48" stroke="#000" stroke-width="0.6"/>
<text transform="translate(101.77,968.18) scale(1.9072153846153845,1)" font-size="7.56" font-family='"Liberation Sans", sans-serif' font-weight="normal" fill="#000" stroke="#000" stroke-width="0.24" textLength="22.83" lengthAdjust="spacing">4e+07</text>
<line x1="147.20" y1="952.95" x2="149.40" y2="952.95" stroke="#000" stroke-width="0.9"/>
<line x1="148.20" y1="950.42" x2="149.40" y2="950.42" stroke="#000" stroke-width="0.6"/>
<line x1="148.20" y1="947.90" x2="149.40" y2="947.90" stroke="#000" stroke-width="0.6"/>
<line x1="148.20" y1="945.37" x2="149.40" y2="945.37" stroke="#000" stroke-width="0.6"/>
<line x1="148.20" y1="942.85" x2="149.40" y2="942.85" stroke="#000" stroke-width="0.6"/>
<text transform="translate(101.77,955.55) scale(1.9072153846153845,1)" font-size="7.56" font-family='"Liberation Sans", sans-serif' font-weight="normal" fill="#000" stroke="#000" stroke-width="0.24" textLength="22.83" lengthAdjust="spacing">5e+07</text>
<line x1="147.20" y1="940.32" x2="149.40" y2="940.32" stroke="#000" stroke-width="0.9"/>
<line x1="148.20" y1="937.79" x2="149.40" y2="937.79" stroke="#000" stroke-width="0.6"/>
<line x1="148.20" y1="935.27" x2="149.40" y2="935.27" stroke="#000" stroke-width="0.6"/>
<line x1="148.20" y1="932.74" x2="149.40" y2="932.74" stroke="#000" stroke-width="0.6"/>
<line x1="148.20" y1="930.22" x2="149.40" y2="930.22" stroke="#000" stroke-width="0.6"/>
<text transform="translate(101.77,942.92) scale(1.9072153846153845,1)" font-size="7.56" font-family='"Liberation Sans", sans-serif' font-weight="normal" fill="#000" stroke="#000" stroke-width="0.24" textLength="22.83" lengthAdjust="spacing">6e+07</text>
<line x1="147.20" y1="927.69" x2="149.40" y2="927.69" stroke="#000" stroke-width="0.9"/>
<line x1="148.20" y1="925.16" x2="149.40" y2="925.16" stroke="#000" stroke-width="0.6"/>
<line x1="148.20" y1="922.64" x2="149.40" y2="922.64" stroke="#000" stroke-width="0.6"/>
<line x1="148.20" y1="920.11" x2="149.40" y2="920.11" stroke="#000" stroke-width="0.6"/>
<line x1="148.20" y1="917.59" x2="149.40" y2="917.59" stroke="#000" stroke-width="0.6"/>
<text transform="translate(101.77,930.29) scale(1.9072153846153845,1)" font-size="7.56" font-family='"Liberation Sans", sans-serif' font-weight="normal" fill="#000" stroke="#000" stroke-width="0.24" textLength="22.83" lengthAdjust="spacing">7e+07</text>
<line x1="147.20" y1="915.06" x2="149.40" y2="915.06" stroke="#000" stroke-width="0.9"/>
<line x1="148.20" y1="912.53" x2="149.40" y2="912.53" stroke="#000" stroke-width="0.6"/>
<line x1="148.20" y1="910.01" x2="149.40" y2="910.01" stroke="#000" stroke-width="0.6"/>
<line x1="148.20" y1="907.48" x2="149.40" y2="907.48" stroke="#000" stroke-width="0.6"/>
<line x1="148.20" y1="904.96" x2="149.40" y2="904.96" stroke="#000" stroke-width="0.6"/>
<text transform="translate(101.77,917.66) scale(1.9072153846153845,1)" font-size="7.56" font-family='"Liberation Sans", sans-serif' font-weight="normal" fill="#000" stroke="#000" stroke-width="0.24" textLength="22.83" lengthAdjust="spacing">8e+07</text>
<line x1="147.20" y1="902.43" x2="149.40" y2="902.43" stroke="#000" stroke-width="0.9"/>
<line x1="148.20" y1="899.90" x2="149.40" y2="899.90" stroke="#000" stroke-width="0.6"/>
<line x1="148.20" y1="897.38" x2="149.40" y2="897.38" stroke="#000" stroke-width="0.6"/>
<line x1="148.20" y1="894.85" x2="149.40" y2="894.85" stroke="#000" stroke-width="0.6"/>
<line x1="148.20" y1="892.33" x2="149.40" y2="892.33" stroke="#000" stroke-width="0.6"/>
<text transform="translate(101.77,905.03) scale(1.9072153846153845,1)" font-size="7.56" font-family='"Liberation Sans", sans-serif' font-weight="normal" fill="#000" stroke="#000" stroke-width="0.24" textLength="22.83" lengthAdjust="spacing">9e+07</text>
<line x1="147.20" y1="889.80" x2="149.40" y2="889.80" stroke="#000" stroke-width="0.9"/>
<line x1="148.20" y1="887.27" x2="149.40" y2="887.27" stroke="#000" stroke-width="0.6"/>
<line x1="148.20" y1="884.75" x2="149.40" y2="884.75" stroke="#000" stroke-width="0.6"/>
<line x1="148.20" y1="882.22" x2="149.40" y2="882.22" stroke="#000" stroke-width="0.6"/>
<line x1="148.20" y1="879.70" x2="149.40" y2="879.70" stroke="#000" stroke-width="0.6"/>
<text transform="translate(101.77,892.40) scale(1.9072153846153845,1)" font-size="7.56" font-family='"Liberation Sans", sans-serif' font-weight="normal" fill="#000" stroke="#000" stroke-width="0.24" textLength="22.83" lengthAdjust="spacing">1e+08</text>
<line x1="147.20" y1="877.17" x2="149.40" y2="877.17" stroke="#000" stroke-width="0.9"/>
<line x1="148.20" y1="874.64" x2="149.40" y2="874.64" stroke="#000" stroke-width="0.6"/>
<line x1="148.20" y1="872.12" x2="149.40" y2="872.12" stroke="#000" stroke-width="0.6"/>
<line x1="148.20" y1="869.59" x2="149.40" y2="869.59" stroke="#000" stroke-width="0.6"/>
<line x1="148.20" y1="867.07" x2="149.40" y2="867.07" stroke="#000" stroke-width="0.6"/>
<text transform="translate(88.84,879.77) scale(1.9072153846153845,1)" font-size="7.56" font-family='"Liberation Sans", sans-serif' font-weight="normal" fill="#000" stroke="#000" stroke-width="0.24" textLength="29.60" lengthAdjust="spacing">1.1e+08</text>
<line x1="147.20" y1="864.54" x2="149.40" y2="864.54" stroke="#000" stroke-width="0.9"/>
<line x1="148.20" y1="862.01" x2="149.40" y2="862.01" stroke="#000" stroke-width="0.6"/>
<line x1="148.20" y1="859.49" x2="149.40" y2="859.49" stroke="#000" stroke-width="0.6"/>
<line x1="148.20" y1="856.96" x2="149.40" y2="856.96" stroke="#000" stroke-width="0.6"/>
<line x1="148.20" y1="854.44" x2="149.40" y2="854.44" stroke="#000" stroke-width="0.6"/>
<text transform="translate(88.84,867.14) scale(1.9072153846153845,1)" font-size="7.56" font-family='"Liberation Sans", sans-serif' font-weight="normal" fill="#000" stroke="#000" stroke-width="0.24" textLength="29.60" lengthAdjust="spacing">1.2e+08</text>
<line x1="147.20" y1="851.91" x2="149.40" y2="851.91" stroke="#000" stroke-width="0.9"/>
<line x1="148.20" y1="849.38" x2="149.40" y2="849.38" stroke="#000" stroke-width="0.6"/>
<line x1="148.20" y1="846.86" x2="149.40" y2="846.86" stroke="#000" stroke-width="0.6"/>
<line x1="148.20" y1="844.33" x2="149.40" y2="844.33" stroke="#000" stroke-width="0.6"/>
<line x1="148.20" y1="841.81" x2="149.40" y2="841.81" stroke="#000" stroke-width="0.6"/>
<text transform="translate(88.84,854.51) scale(1.9072153846153845,1)" font-size="7.56" font-family='"Liberation Sans", sans-serif' font-weight="normal" fill="#000" stroke="#000" stroke-width="0.24" textLength="29.60" lengthAdjust="spacing">1.3e+08</text>
<line x1="147.20" y1="839.28" x2="149.40" y2="839.28" stroke="#000" stroke-width="0.9"/>
<line x1="148.20" y1="836.75" x2="149.40" y2="836.75" stroke="#000" stroke-width="0.6"/>
<line x1="148.20" y1="834.23" x2="149.40" y2="834.23" stroke="#000" stroke-width="0.6"/>
<text transform="translate(88.84,841.88) scale(1.9072153846153845,1)" font-size="7.56" font-family='"Liberation Sans", sans-serif' font-weight="normal" fill="#000" stroke="#000" stroke-width="0.24" textLength="29.60" lengthAdjust="spacing">1.4e+08</text>
<line x1="155.64" y1="1016.10" x2="155.64" y2="1018.50" stroke="#000" stroke-width="0.8"/>
<line x1="163.81" y1="1016.10" x2="163.81" y2="1018.50" stroke="#000" stroke-width="0.8"/>
<line x1="171.97" y1="1016.10" x2="171.97" y2="1018.50" stroke="#000" stroke-width="0.8"/>
<line x1="180.14" y1="1016.10" x2="180.14" y2="1018.50" stroke="#000" stroke-width="0.8"/>
<line x1="188.30" y1="1016.10" x2="188.30" y2="1019.90" stroke="#000" stroke-width="1.0"/>
<line x1="196.46" y1="1016.10" x2="196.46" y2="1018.50" stroke="#000" stroke-width="0.8"/>
<line x1="204.63" y1="1016.10" x2="204.63" y2="1018.50" stroke="#000" stroke-width="0.8"/>
<line x1="212.79" y1="1016.10" x2="212.79" y2="1018.50" stroke="#000" stroke-width="0.8"/>
<line x1="220.96" y1="1016.10" x2="220.96" y2="1018.50" stroke="#000" stroke-width="0.8"/>
<line x1="229.12" y1="1016.10" x2="229.12" y2="1019.90" stroke="#000" stroke-width="1.0"/>
<line x1="237.28" y1="1016.10" x2="237.28" y2="1018.50" stroke="#000" stroke-width="0.8"/>
<line x1="245.45" y1="1016.10" x2="245.45" y2="1018.50" stroke="#000" stroke-width="0.8"/>
<line x1="253.61" y1="1016.10" x2="253.61" y2="1018.50" stroke="#000" stroke-width="0.8"/>
<line x1="261.78" y1="1016.10" x2="261.78" y2="1018.50" stroke="#000" stroke-width="0.8"/>
<line x1="269.94" y1="1016.10" x2="269.94" y2="1019.90" stroke="#000" stroke-width="1.0"/>
<line x1="278.10" y1="1016.10" x2="278.10" y2="1018.50" stroke="#000" stroke-width="0.8"/>
<line x1="286.27" y1="1016.10" x2="286.27" y2="1018.50" stroke="#000" stroke-width="0.8"/>
<line x1="294.43" y1="1016.10" x2="294.43" y2="1018.50" stroke="#000" stroke-width="0.8"/>
<line x1="302.60" y1="1016.10" x2="302.60" y2="1018.50" stroke="#000" stroke-width="0.8"/>
<line x1="310.76" y1="1016.10" x2="310.76" y2="1019.90" stroke="#000" stroke-width="1.0"/>
<line x1="318.92" y1="1016.10" x2="318.92" y2="1018.50" stroke="#000" stroke-width="0.8"/>
<line x1="327.09" y1="1016.10" x2="327.09" y2="1018.50" stroke="#000" stroke-width="0.8"/>
<line x1="335.25" y1="1016.10" x2="335.25" y2="1018.50" stroke="#000" stroke-width="0.8"/>
<line x1="343.42" y1="1016.10" x2="343.42" y2="1018.50" stroke="#000" stroke-width="0.8"/>
<line x1="351.58" y1="1016.10" x2="351.58" y2="1019.90" stroke="#000" stroke-width="1.0"/>
<line x1="359.74" y1="1016.10" x2="359.74" y2="1018.50" stroke="#000" stroke-width="0.8"/>
<line x1="367.91" y1="1016.10" x2="367.91" y2="1018.50" stroke="#000" stroke-width="0.8"/>
<line x1="376.07" y1="1016.10" x2="376.07" y2="1018.50" stroke="#000" stroke-width="0.8"/>
<line x1="384.24" y1="1016.10" x2="384.24" y2="1018.50" stroke="#000" stroke-width="0.8"/>
<line x1="392.40" y1="1016.10" x2="392.40" y2="1019.90" stroke="#000" stroke-width="1.0"/>
<line x1="400.56" y1="1016.10" x2="400.56" y2="1018.50" stroke="#000" stroke-width="0.8"/>
<line x1="408.73" y1="1016.10" x2="408.73" y2="1018.50" stroke="#000" stroke-width="0.8"/>
<line x1="416.89" y1="1016.10" x2="416.89" y2="1018.50" stroke="#000" stroke-width="0.8"/>
<line x1="425.06" y1="1016.10" x2="425.06" y2="1018.50" stroke="#000" stroke-width="0.8"/>
<line x1="433.22" y1="1016.10" x2="433.22" y2="1019.90" stroke="#000" stroke-width="1.0"/>
<line x1="441.38" y1="1016.10" x2="441.38" y2="1018.50" stroke="#000" stroke-width="0.8"/>
<line x1="449.55" y1="1016.10" x2="449.55" y2="1018.50" stroke="#000" stroke-width="0.8"/>
<line x1="457.71" y1="1016.10" x2="457.71" y2="1018.50" stroke="#000" stroke-width="0.8"/>
<line x1="465.88" y1="1016.10" x2="465.88" y2="1018.50" stroke="#000" stroke-width="0.8"/>
<line x1="474.04" y1="1016.10" x2="474.04" y2="1019.90" stroke="#000" stroke-width="1.0"/>
<line x1="482.20" y1="1016.10" x2="482.20" y2="1018.50" stroke="#000" stroke-width="0.8"/>
<line x1="490.37" y1="1016.10" x2="490.37" y2="1018.50" stroke="#000" stroke-width="0.8"/>
<line x1="498.53" y1="1016.10" x2="498.53" y2="1018.50" stroke="#000" stroke-width="0.8"/>
<line x1="506.70" y1="1016.10" x2="506.70" y2="1018.50" stroke="#000" stroke-width="0.8"/>
<line x1="514.86" y1="1016.10" x2="514.86" y2="1019.90" stroke="#000" stroke-width="1.0"/>
<line x1="523.02" y1="1016.10" x2="523.02" y2="1018.50" stroke="#000" stroke-width="0.8"/>
<line x1="531.19" y1="1016.10" x2="531.19" y2="1018.50" stroke="#000" stroke-width="0.8"/>
<line x1="539.35" y1="1016.10" x2="539.35" y2="1018.50" stroke="#000" stroke-width="0.8"/>
<line x1="547.52" y1="1016.10" x2="547.52" y2="1018.50" stroke="#000" stroke-width="0.8"/>
<line x1="555.68" y1="1016.10" x2="555.68" y2="1019.90" stroke="#000" stroke-width="1.0"/>
<line x1="563.84" y1="1016.10" x2="563.84" y2="1018.50" stroke="#000" stroke-width="0.8"/>
<line x1="572.01" y1="1016.10" x2="572.01" y2="1018.50" stroke="#000" stroke-width="0.8"/>
<line x1="580.17" y1="1016.10" x2="580.17" y2="1018.50" stroke="#000" stroke-width="0.8"/>
<line x1="588.34" y1="1016.10" x2="588.34" y2="1018.50" stroke="#000" stroke-width="0.8"/>
<line x1="596.50" y1="1016.10" x2="596.50" y2="1019.90" stroke="#000" stroke-width="1.0"/>
<line x1="604.66" y1="1016.10" x2="604.66" y2="1018.50" stroke="#000" stroke-width="0.8"/>
<line x1="612.83" y1="1016.10" x2="612.83" y2="1018.50" stroke="#000" stroke-width="0.8"/>
<line x1="620.99" y1="1016.10" x2="620.99" y2="1018.50" stroke="#000" stroke-width="0.8"/>
<line x1="629.16" y1="1016.10" x2="629.16" y2="1018.50" stroke="#000" stroke-width="0.8"/>
<line x1="637.32" y1="1016.10" x2="637.32" y2="1019.90" stroke="#000" stroke-width="1.0"/>
<line x1="645.48" y1="1016.10" x2="645.48" y2="1018.50" stroke="#000" stroke-width="0.8"/>
<line x1="653.65" y1="1016.10" x2="653.65" y2="1018.50" stroke="#000" stroke-width="0.8"/>
<line x1="661.81" y1="1016.10" x2="661.81" y2="1018.50" stroke="#000" stroke-width="0.8"/>
<line x1="669.98" y1="1016.10" x2="669.98" y2="1018.50" stroke="#000" stroke-width="0.8"/>
<line x1="678.14" y1="1016.10" x2="678.14" y2="1019.90" stroke="#000" stroke-width="1.0"/>
<text transform="translate(173.22,1026.70) scale(2.110110638297872,1)" font-size="6.83" font-family='"Liberation Sans", sans-serif' font-weight="normal" fill="#000" stroke="#000" stroke-width="0.21" textLength="14.30" lengthAdjust="spacing">4.00</text>
<text transform="translate(214.04,1026.70) scale(2.110110638297872,1)" font-size="6.83" font-family='"Liberation Sans", sans-serif' font-weight="normal" fill="#000" stroke="#000" stroke-width="0.21" textLength="14.30" lengthAdjust="spacing">6.00</text>
<text transform="translate(254.86,1026.70) scale(2.110110638297872,1)" font-size="6.83" font-family='"Liberation Sans", sans-serif' font-weight="normal" fill="#000" stroke="#000" stroke-width="0.21" textLength="14.30" lengthAdjust="spacing">8.00</text>
<text transform="translate(291.37,1026.70) scale(2.110110638297872,1)" font-size="6.83" font-family='"Liberation Sans", sans-serif' font-weight="normal" fill="#000" stroke="#000" stroke-width="0.21" textLength="18.38" lengthAdjust="spacing">10.00</text>
<text transform="translate(332.19,1026.70) scale(2.110110638297872,1)" font-size="6.83" font-family='"Liberation Sans", sans-serif' font-weight="normal" fill="#000" stroke="#000" stroke-width="0.21" textLength="18.38" lengthAdjust="spacing">12.00</text>
<text transform="translate(373.01,1026.70) scale(2.110110638297872,1)" font-size="6.83" font-family='"Liberation Sans", sans-serif' font-weight="normal" fill="#000" stroke="#000" stroke-width="0.21" textLength="18.38" lengthAdjust="spacing">14.00</text>
<text transform="translate(413.83,1026.70) scale(2.110110638297872,1)" font-size="6.83" font-family='"Liberation Sans", sans-serif' font-weight="normal" fill="#000" stroke="#000" stroke-width="0.21" textLength="18.38" lengthAdjust="spacing">16.00</text>
<text transform="translate(454.65,1026.70) scale(2.110110638297872,1)" font-size="6.83" font-family='"Liberation Sans", sans-serif' font-weight="normal" fill="#000" stroke="#000" stroke-width="0.21" textLength="18.38" lengthAdjust="spacing">18.00</text>
<text transform="translate(495.47,1026.70) scale(2.110110638297872,1)" font-size="6.83" font-family='"Liberation Sans", sans-serif' font-weight="normal" fill="#000" stroke="#000" stroke-width="0.21" textLength="18.38" lengthAdjust="spacing">20.00</text>
<text transform="translate(536.29,1026.70) scale(2.110110638297872,1)" font-size="6.83" font-family='"Liberation Sans", sans-serif' font-weight="normal" fill="#000" stroke="#000" stroke-width="0.21" textLength="18.38" lengthAdjust="spacing">22.00</text>
<text transform="translate(577.11,1026.70) scale(2.110110638297872,1)" font-size="6.83" font-family='"Liberation Sans", sans-serif' font-weight="normal" fill="#000" stroke="#000" stroke-width="0.21" textLength="18.38" lengthAdjust="spacing">24.00</text>
<text transform="translate(617.93,1026.70) scale(2.110110638297872,1)" font-size="6.83" font-family='"Liberation Sans", sans-serif' font-weight="normal" fill="#000" stroke="#000" stroke-width="0.21" textLength="18.38" lengthAdjust="spacing">26.00</text>
<text transform="translate(57.50,809.40) scale(2.010111540848354,1)" font-size="7.27" font-family='"Liberation Sans", sans-serif' font-weight="bold" fill="#14147a" stroke="#14147a" stroke-width="0.07" textLength="40.79" lengthAdjust="spacing">Abundance</text>
<text transform="translate(57.90,1038.50) scale(1.8478057852333443,1)" font-size="7.56" font-family='"Liberation Sans", sans-serif' font-weight="bold" fill="#14147a" stroke="#14147a" stroke-width="0.08" textLength="18.19" lengthAdjust="spacing">Time</text>
<line x1="92.03" y1="1036.20" x2="103.23" y2="1036.20" stroke="#14147a" stroke-width="0.9"/>
<text transform="translate(101.92,1038.50) scale(1.7747003011062525,1)" font-size="7.56" font-family='"Liberation Sans", sans-serif' font-weight="bold" fill="#14147a" stroke="#14147a" stroke-width="0.08" textLength="4.55" lengthAdjust="spacing">&gt;</text>
<text transform="translate(247.50,832.20) scale(1.8644865012475442,1)" font-size="7.56" font-family='"Liberation Sans", sans-serif' font-weight="normal" fill="#000" stroke="#000" stroke-width="0.21" textLength="182.30" lengthAdjust="spacing">TIC: GANJA BIRUREUN METANOL.D\ data.ms</text>
<text x="0.00" y="954.50" font-size="21.07" font-family='"Liberation Serif", serif' font-weight="bold" fill="#ee0000" stroke="#ee0000" stroke-width="0.35" textLength="14.00" lengthAdjust="spacingAndGlyphs">D</text>
<polygon points="413,1011 413.3,1000 414.5,1010.6" fill="#a00808" fill-opacity="0.9"/>
<polygon points="438,1008.4 440,997 444,994 446,1005" fill="#a00808" fill-opacity="0.9"/>
<polygon points="451,1004.9 452,1000 455,1005.3" fill="#a00808" fill-opacity="0.9"/>
<path d="M149.90,1015.7 L150.23,1015.8 L150.56,1016.0 L150.89,1015.8 L151.22,1015.6 L151.55,1015.6 L151.88,1015.6 L152.21,1015.8 L152.54,1016.0 L152.87,1016.0 L153.20,1015.7 L153.53,1015.7 L153.86,1015.9 L154.19,1015.6 L154.52,1015.6 L154.85,1015.0 L155.15,1014.9 L155.18,1014.9 L155.51,1015.5 L155.84,1015.8 L156.17,1015.6 L156.50,1016.0 L156.83,1015.8 L157.16,1015.5 L157.49,1015.5 L157.82,1015.7 L158.15,1013.2 L158.48,1008.0 L158.60,1007.2 L158.81,1008.9 L159.14,1013.8 L159.47,1015.1 L159.74,1014.9 L159.80,1015.1 L160.13,1015.7 L160.46,1015.9 L160.79,1015.5 L161.12,1015.6 L161.45,1015.6 L161.78,1016.0 L162.11,1015.5 L162.44,1015.9 L162.77,1015.8 L163.10,1015.7 L163.43,1015.9 L163.76,1014.3 L164.09,1008.6 L164.30,1006.2 L164.42,1006.8 L164.75,1013.1 L165.08,1015.5 L165.41,1015.5 L165.74,1015.5 L166.07,1016.0 L166.40,1015.6 L166.73,1015.9 L167.06,1015.8 L167.39,1015.8 L167.72,1015.8 L168.05,1016.0 L168.38,1015.9 L168.71,1015.8 L169.04,1015.3 L169.37,1014.8 L169.66,1014.5 L169.70,1014.5 L170.03,1014.9 L170.36,1015.2 L170.69,1015.9 L171.02,1015.7 L171.35,1015.5 L171.68,1015.5 L172.01,1015.9 L172.34,1015.6 L172.67,1015.7 L173.00,1015.8 L173.33,1015.9 L173.66,1015.6 L173.99,1015.6 L174.32,1015.3 L174.65,1014.7 L174.72,1015.0 L174.98,1014.9 L175.31,1015.8 L175.64,1015.5 L175.97,1015.5 L176.30,1015.9 L176.63,1015.9 L176.96,1015.6 L177.29,1015.7 L177.62,1015.7 L177.95,1015.8 L178.28,1015.5 L178.61,1015.9 L178.94,1015.8 L179.27,1015.2 L179.42,1015.1 L179.60,1015.4 L179.93,1015.5 L180.26,1015.9 L180.59,1015.9 L180.92,1015.8 L181.25,1015.5 L181.58,1015.8 L181.91,1015.9 L182.24,1015.6 L182.57,1015.8 L182.90,1015.9 L183.23,1015.8 L183.56,1015.4 L183.89,1015.8 L184.22,1015.6 L184.55,1015.9 L184.88,1015.8 L185.21,1015.6 L185.54,1015.9 L185.87,1015.8 L186.20,1015.6 L186.53,1015.9 L186.86,1015.9 L187.19,1015.9 L187.52,1015.9 L187.85,1015.8 L188.18,1015.8 L188.51,1015.6 L188.84,1015.2 L189.17,1014.9 L189.42,1014.5 L189.50,1014.2 L189.83,1015.0 L190.16,1015.4 L190.49,1015.7 L190.82,1015.8 L191.15,1015.6 L191.48,1015.5 L191.81,1015.5 L192.14,1015.9 L192.47,1015.9 L192.80,1015.8 L193.13,1015.5 L193.46,1016.0 L193.79,1015.9 L194.12,1015.7 L194.45,1015.4 L194.78,1015.9 L195.11,1015.8 L195.44,1015.8 L195.77,1015.4 L196.10,1015.8 L196.43,1015.4 L196.76,1015.7 L197.09,1015.5 L197.42,1015.6 L197.75,1015.9 L198.08,1015.6 L198.41,1015.1 L198.52,1015.0 L198.74,1015.1 L199.07,1015.6 L199.40,1015.4 L199.73,1015.6 L200.06,1016.0 L200.39,1015.8 L200.72,1015.9 L201.05,1015.6 L201.38,1015.8 L201.71,1015.9 L202.04,1015.8 L202.37,1015.7 L202.70,1015.5 L203.03,1015.4 L203.36,1015.9 L203.69,1015.9 L204.02,1015.6 L204.35,1015.8 L204.68,1015.6 L205.01,1015.8 L205.34,1015.8 L205.67,1015.4 L206.00,1015.0 L206.33,1014.2 L206.41,1014.4 L206.66,1014.3 L206.99,1015.1 L207.32,1015.5 L207.65,1015.9 L207.98,1015.5 L208.31,1015.8 L208.64,1015.5 L208.97,1016.0 L209.30,1015.5 L209.63,1015.5 L209.96,1015.5 L210.29,1015.9 L210.62,1015.8 L210.95,1015.9 L211.28,1015.7 L211.61,1015.5 L211.94,1015.6 L212.27,1015.7 L212.60,1016.0 L212.93,1015.5 L213.26,1015.5 L213.59,1015.9 L213.92,1015.5 L214.25,1015.9 L214.58,1015.6 L214.91,1015.7 L215.24,1015.8 L215.57,1015.7 L215.90,1014.6 L216.07,1014.7 L216.23,1014.6 L216.56,1015.6 L216.89,1015.4 L217.22,1015.8 L217.55,1015.5 L217.88,1015.5 L218.21,1015.4 L218.54,1015.6 L218.87,1015.6 L219.20,1015.9 L219.53,1015.7 L219.86,1015.6 L220.19,1016.0 L220.52,1015.5 L220.85,1015.5 L221.18,1015.9 L221.51,1015.9 L221.84,1015.8 L222.17,1015.9 L222.50,1015.4 L222.83,1015.9 L223.16,1015.8 L223.49,1015.7 L223.82,1015.6 L224.15,1014.9 L224.27,1015.1 L224.48,1014.9 L224.81,1015.5 L225.14,1015.7 L225.47,1015.7 L225.80,1015.6 L226.13,1015.8 L226.46,1015.9 L226.79,1015.8 L227.12,1015.4 L227.45,1015.5 L227.78,1015.5 L228.11,1015.5 L228.44,1015.7 L228.77,1015.5 L229.10,1015.7 L229.43,1015.6 L229.76,1015.6 L230.09,1015.8 L230.42,1015.9 L230.75,1014.9 L231.08,1014.2 L231.09,1014.3 L231.41,1014.8 L231.74,1015.3 L232.07,1015.5 L232.40,1015.9 L232.73,1015.8 L233.06,1015.9 L233.39,1015.7 L233.72,1015.4 L234.05,1015.6 L234.38,1015.8 L234.71,1015.6 L235.04,1015.5 L235.37,1015.6 L235.70,1015.6 L236.03,1015.6 L236.36,1015.6 L236.69,1015.5 L237.02,1015.4 L237.35,1015.8 L237.68,1015.8 L238.01,1015.6 L238.34,1015.4 L238.67,1015.5 L239.00,1015.7 L239.33,1015.9 L239.66,1015.6 L239.99,1015.8 L240.32,1015.2 L240.65,1015.0 L240.98,1015.2 L241.31,1015.6 L241.64,1015.7 L241.97,1015.8 L242.30,1015.4 L242.63,1015.6 L242.96,1015.8 L243.29,1015.5 L243.62,1015.4 L243.95,1015.5 L244.28,1015.5 L244.61,1015.6 L244.94,1015.6 L245.27,1015.7 L245.60,1015.5 L245.93,1015.6 L246.26,1015.8 L246.59,1015.7 L246.92,1015.9 L247.25,1015.9 L247.58,1015.5 L247.91,1015.6 L248.24,1015.7 L248.57,1015.7 L248.90,1015.6 L249.23,1015.8 L249.56,1014.8 L249.89,1013.0 L250.10,1012.3 L250.22,1012.7 L250.51,1014.3 L250.55,1014.6 L250.88,1014.6 L251.21,1015.6 L251.54,1015.7 L251.87,1015.4 L252.20,1015.8 L252.53,1015.9 L252.86,1015.4 L253.19,1015.9 L253.52,1015.8 L253.85,1015.7 L254.18,1015.7 L254.51,1015.5 L254.84,1015.4 L255.17,1015.6 L255.50,1015.9 L255.83,1015.5 L256.16,1015.6 L256.49,1015.5 L256.82,1015.8 L257.15,1015.9 L257.48,1015.9 L257.81,1015.5 L258.14,1015.6 L258.47,1015.4 L258.80,1015.7 L259.13,1015.8 L259.46,1015.5 L259.79,1014.6 L259.94,1014.8 L260.12,1014.6 L260.45,1015.3 L260.78,1015.8 L261.11,1015.5 L261.44,1015.8 L261.77,1015.9 L262.10,1015.8 L262.43,1015.5 L262.76,1015.9 L263.09,1015.9 L263.42,1015.9 L263.75,1015.4 L264.08,1015.4 L264.41,1015.5 L264.74,1015.7 L265.07,1015.6 L265.40,1015.4 L265.73,1015.7 L266.06,1015.7 L266.39,1015.7 L266.72,1015.6 L267.05,1015.5 L267.38,1015.3 L267.64,1015.1 L267.71,1015.0 L268.04,1015.1 L268.37,1015.4 L268.70,1015.8 L269.03,1015.5 L269.36,1015.6 L269.69,1015.5 L270.02,1015.7 L270.35,1015.4 L270.68,1015.7 L271.01,1015.4 L271.34,1015.9 L271.67,1015.4 L272.00,1015.8 L272.33,1015.6 L272.66,1015.4 L272.99,1015.1 L273.27,1015.2 L273.32,1015.3 L273.65,1015.3 L273.98,1015.5 L274.31,1015.5 L274.64,1015.7 L274.97,1015.5 L275.30,1015.6 L275.63,1015.2 L275.96,1012.1 L276.29,1008.9 L276.30,1008.9 L276.62,1011.6 L276.95,1015.2 L277.10,1015.0 L277.28,1015.1 L277.61,1015.6 L277.94,1015.5 L278.27,1015.5 L278.60,1015.5 L278.93,1015.5 L279.26,1015.5 L279.59,1015.5 L279.92,1015.5 L280.25,1015.6 L280.58,1015.5 L280.91,1015.6 L281.24,1015.7 L281.57,1015.5 L281.90,1015.8 L282.23,1015.8 L282.56,1015.5 L282.89,1015.8 L283.22,1015.1 L283.55,1014.0 L283.74,1013.9 L283.88,1013.8 L284.21,1014.6 L284.34,1014.9 L284.54,1014.7 L284.87,1015.4 L285.20,1014.6 L285.50,1014.2 L285.53,1014.0 L285.86,1015.0 L286.19,1015.3 L286.52,1015.4 L286.85,1015.4 L287.18,1014.9 L287.51,1014.0 L287.64,1014.1 L287.84,1014.4 L288.17,1014.8 L288.50,1013.7 L288.83,1006.9 L289.10,1003.1 L289.16,1003.2 L289.49,1010.4 L289.82,1012.9 L290.15,1006.4 L290.20,1006.0 L290.29,1006.7 L290.48,1010.8 L290.81,1014.8 L291.14,1015.1 L291.47,1013.9 L291.69,1013.2 L291.80,1013.3 L292.13,1015.0 L292.46,1015.5 L292.79,1015.8 L293.12,1015.6 L293.45,1015.4 L293.78,1015.5 L294.11,1014.7 L294.44,1013.8 L294.48,1014.1 L294.77,1014.4 L295.10,1015.4 L295.43,1015.7 L295.76,1015.3 L296.09,1014.9 L296.17,1014.7 L296.42,1012.2 L296.60,1011.0 L296.75,1011.7 L297.08,1015.2 L297.41,1015.4 L297.74,1015.9 L298.07,1015.7 L298.40,1015.3 L298.73,1014.1 L299.06,1012.9 L299.17,1012.8 L299.39,1013.2 L299.72,1014.6 L300.05,1015.3 L300.38,1015.6 L300.71,1015.9 L301.04,1015.5 L301.37,1015.3 L301.70,1013.5 L301.90,1013.0 L302.03,1013.4 L302.25,1014.8 L302.36,1014.6 L302.69,1014.9 L303.02,1015.4 L303.35,1015.5 L303.68,1014.4 L304.01,1013.4 L304.23,1013.2 L304.34,1013.4 L304.67,1013.9 L305.00,1015.3 L305.33,1015.2 L305.66,1015.4 L305.99,1014.7 L306.32,1013.6 L306.50,1013.5 L306.65,1013.4 L306.98,1014.2 L307.31,1015.2 L307.64,1015.4 L307.97,1015.7 L308.30,1015.7 L308.63,1015.7 L308.96,1015.9 L309.29,1015.5 L309.62,1014.7 L309.80,1014.4 L309.95,1014.7 L310.28,1015.4 L310.61,1015.5 L310.94,1015.6 L311.27,1015.8 L311.60,1015.6 L311.93,1014.6 L312.16,1014.0 L312.26,1014.1 L312.59,1015.0 L312.92,1015.7 L313.25,1015.5 L313.58,1015.7 L313.91,1015.4 L314.24,1015.4 L314.57,1015.9 L314.90,1015.8 L315.23,1015.3 L315.56,1014.7 L315.81,1014.8 L315.89,1014.9 L316.22,1015.0 L316.55,1015.6 L316.88,1014.3 L317.17,1013.2 L317.21,1013.0 L317.54,1014.3 L317.87,1015.3 L318.20,1015.6 L318.53,1015.7 L318.86,1015.4 L319.19,1014.5 L319.33,1014.6 L319.52,1014.5 L319.85,1015.4 L320.18,1015.4 L320.51,1015.4 L320.84,1015.5 L321.17,1015.8 L321.50,1015.5 L321.83,1015.4 L322.16,1015.4 L322.49,1014.6 L322.82,1013.6 L323.03,1013.2 L323.15,1013.2 L323.48,1013.6 L323.81,1013.4 L324.14,1012.6 L324.43,1011.7 L324.47,1011.4 L324.80,1011.8 L325.13,1012.2 L325.46,1011.6 L325.79,1011.4 L326.12,1011.1 L326.45,1010.5 L326.78,1009.9 L327.11,1009.1 L327.37,1008.9 L327.44,1008.8 L327.77,1009.1 L328.10,1009.7 L328.43,1008.5 L328.70,1007.4 L328.76,1007.6 L329.09,1008.8 L329.42,1008.2 L329.75,1006.3 L329.85,1006.1 L330.08,1006.9 L330.41,1008.5 L330.74,1008.0 L331.07,1006.8 L331.40,1005.8 L331.41,1006.0 L331.73,1006.9 L332.06,1007.8 L332.39,1008.3 L332.72,1007.8 L333.05,1007.3 L333.38,1006.2 L333.68,1006.1 L333.71,1005.9 L334.04,1006.2 L334.37,1007.2 L334.70,1007.7 L335.03,1007.7 L335.36,1006.8 L335.53,1006.9 L335.69,1007.1 L336.02,1007.2 L336.35,1007.8 L336.68,1007.9 L337.01,1007.9 L337.34,1007.1 L337.67,1005.2 L337.84,1004.9 L338.00,1005.3 L338.33,1006.9 L338.66,1007.3 L338.99,1007.7 L339.32,1007.7 L339.65,1007.6 L339.98,1007.9 L340.31,1007.9 L340.64,1008.0 L340.97,1007.4 L341.17,1007.6 L341.30,1007.6 L341.63,1008.5 L341.96,1009.0 L342.29,1009.2 L342.62,1009.7 L342.95,1009.4 L343.05,1009.5 L343.28,1010.4 L343.61,1011.3 L343.94,1012.2 L344.27,1012.6 L344.60,1012.4 L344.88,1012.9 L344.93,1013.1 L345.26,1013.3 L345.59,1013.7 L345.92,1012.5 L346.25,1012.4 L346.26,1012.2 L346.58,1012.4 L346.91,1013.6 L347.24,1013.9 L347.57,1013.9 L347.90,1014.0 L348.23,1012.8 L348.56,1005.9 L348.70,1004.5 L348.89,1006.8 L349.22,1013.0 L349.55,1012.8 L349.88,1011.4 L349.98,1011.4 L350.21,1011.9 L350.54,1013.3 L350.87,1014.2 L351.20,1014.2 L351.53,1014.2 L351.86,1014.1 L352.19,1011.5 L352.52,995.6 L352.70,989.9 L352.85,994.2 L352.87,995.3 L353.18,1011.0 L353.51,1013.5 L353.84,1013.8 L354.17,1014.0 L354.50,1014.2 L354.83,1013.5 L355.16,1012.9 L355.36,1012.7 L355.49,1012.8 L355.82,1013.7 L356.15,1013.7 L356.48,1013.9 L356.81,1013.7 L357.14,1013.8 L357.47,1013.7 L357.80,1013.6 L358.13,1013.1 L358.46,1010.6 L358.79,1005.2 L358.80,1005.2 L359.12,1010.4 L359.45,1012.9 L359.78,1013.5 L360.11,1013.5 L360.44,1012.6 L360.77,1011.1 L360.88,1011.3 L361.10,1011.4 L361.43,1012.7 L361.76,1009.5 L361.80,1009.7 L362.09,1011.5 L362.42,1013.6 L362.75,1013.5 L363.08,1013.3 L363.41,1012.4 L363.74,1011.8 L364.07,1012.0 L364.40,1013.3 L364.73,1008.7 L365.00,1004.5 L365.06,1004.6 L365.39,1011.1 L365.72,1013.6 L366.05,1013.1 L366.38,1012.2 L366.62,1012.3 L366.71,1012.5 L367.04,1013.0 L367.37,1013.5 L367.70,1013.8 L368.03,1013.6 L368.36,1013.5 L368.69,1013.8 L369.02,1013.3 L369.35,1013.5 L369.68,1012.8 L370.01,1010.4 L370.18,1009.2 L370.20,1009.2 L370.34,1009.6 L370.67,1013.0 L371.00,1013.5 L371.33,1013.2 L371.66,1013.6 L371.99,1013.4 L372.32,1013.6 L372.65,1013.7 L372.98,1012.9 L373.31,1012.4 L373.64,1011.4 L373.86,1011.2 L373.97,1011.5 L374.30,1011.8 L374.63,1012.7 L374.96,1012.4 L375.22,1012.3 L375.29,1012.4 L375.62,1012.6 L375.95,1013.3 L376.28,1013.4 L376.61,1013.5 L376.94,1013.3 L377.27,1013.1 L377.60,1013.3 L377.93,1013.2 L378.26,1013.1 L378.59,1012.1 L378.89,1012.1 L378.92,1011.9 L379.25,1012.2 L379.58,1012.7 L379.91,1012.2 L380.24,1011.5 L380.56,1010.8 L380.57,1010.6 L380.90,1011.2 L381.23,1012.4 L381.56,1012.5 L381.89,1012.9 L382.22,1012.6 L382.55,1012.9 L382.88,1012.2 L383.21,1011.8 L383.54,1011.4 L383.68,1011.3 L383.87,1011.3 L384.20,1012.1 L384.53,1011.7 L384.86,1011.7 L384.93,1011.6 L385.19,1011.5 L385.52,1011.9 L385.85,1012.1 L386.18,1012.4 L386.51,1012.2 L386.84,1012.3 L387.17,1012.3 L387.50,1012.3 L387.83,1011.2 L388.16,1006.9 L388.38,1003.2 L388.49,1001.8 L388.60,1001.3 L388.82,1003.0 L389.15,1008.7 L389.48,1005.4 L389.81,978.2 L390.00,968.9 L390.14,974.3 L390.47,1002.3 L390.80,1011.5 L391.13,1010.5 L391.46,1009.6 L391.58,1009.8 L391.79,1010.0 L392.12,1011.0 L392.45,1011.6 L392.78,1011.5 L393.11,1011.1 L393.44,1008.4 L393.60,1007.6 L393.77,1008.4 L394.10,1011.0 L394.43,1010.4 L394.76,1007.6 L394.80,1007.4 L395.03,1008.9 L395.09,1009.3 L395.42,1010.2 L395.75,1011.4 L396.08,1010.9 L396.41,1010.3 L396.74,1009.4 L397.07,1008.4 L397.11,1008.7 L397.40,1009.1 L397.73,1010.0 L398.06,1010.7 L398.39,1010.9 L398.72,1011.1 L399.05,1010.3 L399.38,1010.0 L399.54,1010.0 L399.71,1009.8 L400.04,1010.4 L400.37,1009.9 L400.70,1008.9 L400.87,1008.8 L401.03,1009.0 L401.36,1009.8 L401.69,1010.4 L402.02,1010.6 L402.35,1010.5 L402.68,1010.3 L403.01,1010.5 L403.34,1010.3 L403.67,1010.3 L404.00,1009.2 L404.28,1009.2 L404.33,1009.0 L404.66,1009.6 L404.99,1010.2 L405.32,1010.3 L405.65,1010.0 L405.98,1009.0 L406.31,1003.5 L406.40,1003.2 L406.44,1003.3 L406.64,1006.0 L406.97,1009.3 L407.30,1008.5 L407.63,1007.6 L407.72,1007.8 L407.96,1008.0 L408.29,1009.6 L408.62,1009.8 L408.95,1009.2 L409.18,1008.9 L409.28,1009.0 L409.61,1009.9 L409.94,1010.5 L410.27,1010.7 L410.60,1010.3 L410.93,1010.6 L411.26,1010.5 L411.59,1010.6 L411.92,1010.4 L412.25,1009.6 L412.40,1009.4 L412.58,1005.0 L412.91,973.3 L413.00,970.0 L413.24,989.7 L413.57,1009.4 L413.90,1010.4 L414.23,1010.3 L414.56,1006.3 L414.80,999.5 L414.89,1000.8 L415.22,1010.0 L415.55,1010.3 L415.88,1006.4 L416.20,990.3 L416.21,990.3 L416.54,1007.0 L416.87,1010.1 L417.20,1010.5 L417.53,1003.8 L417.80,990.3 L417.86,991.4 L418.19,1008.6 L418.52,1010.3 L418.85,1009.9 L419.18,1009.9 L419.51,1010.4 L419.84,1009.4 L420.17,995.0 L420.30,990.3 L420.50,999.3 L420.83,1009.8 L421.16,1010.0 L421.49,1009.7 L421.82,1009.7 L422.15,1005.2 L422.30,1003.0 L422.48,1005.8 L422.81,1009.4 L423.14,1009.7 L423.47,1008.6 L423.80,993.1 L423.90,990.3 L424.13,1001.1 L424.46,1009.5 L424.79,1009.6 L425.12,1009.7 L425.45,1009.6 L425.78,1009.4 L426.11,1009.3 L426.44,1009.2 L426.77,1000.9 L426.90,998.5 L427.10,1003.3 L427.43,1009.5 L427.76,1009.1 L428.09,1009.2 L428.42,1003.5 L428.70,989.3 L428.75,981.6 L429.08,929.1 L429.10,929.0 L429.41,974.4 L429.74,990.9 L430.00,970.0 L430.07,971.8 L430.40,1000.9 L430.50,999.5 L430.73,1004.9 L431.06,1008.7 L431.39,1007.6 L431.72,991.8 L431.80,984.2 L432.00,970.0 L432.05,970.9 L432.38,1001.3 L432.71,1008.5 L433.04,1009.0 L433.37,1008.6 L433.70,1007.0 L434.03,991.7 L434.10,990.3 L434.36,1002.1 L434.69,1008.7 L435.02,1008.6 L435.35,1006.8 L435.68,995.7 L435.70,995.5 L436.01,1005.3 L436.34,1008.1 L436.67,994.3 L437.00,960.0 L437.33,994.5 L437.66,1007.9 L437.99,1008.6 L438.32,1007.8 L438.65,998.7 L438.98,970.2 L439.00,970.0 L439.20,983.9 L439.31,993.5 L439.64,999.3 L439.97,948.3 L440.00,939.5 L440.30,849.8 L440.40,841.0 L440.60,874.2 L440.63,883.2 L440.96,978.4 L441.29,990.2 L441.30,990.3 L441.62,1003.8 L441.95,1007.4 L442.28,1007.0 L442.61,1007.2 L442.94,1004.3 L443.27,990.3 L443.30,990.3 L443.60,1002.4 L443.93,1006.3 L444.26,1006.3 L444.59,1006.0 L444.92,1005.6 L445.25,994.8 L445.40,990.3 L445.58,996.4 L445.91,1001.6 L446.24,963.1 L446.50,929.0 L446.57,932.3 L446.90,986.1 L447.23,1002.1 L447.56,987.7 L447.89,912.3 L448.10,880.0 L448.22,891.8 L448.40,937.4 L448.55,973.7 L448.88,1002.9 L449.21,1004.9 L449.54,1004.8 L449.87,1004.5 L450.20,1001.2 L450.50,990.3 L450.53,990.3 L450.86,1003.0 L451.19,1004.7 L451.52,1005.0 L451.85,1005.1 L452.18,1004.9 L452.51,1004.6 L452.84,1001.1 L453.00,999.0 L453.17,1000.9 L453.50,1005.1 L453.83,1004.9 L454.16,1005.0 L454.49,1005.1 L454.82,1005.3 L455.15,1005.0 L455.48,1005.1 L455.81,1004.9 L456.14,1001.3 L456.47,984.5 L456.60,981.1 L456.80,988.2 L457.13,1003.5 L457.46,1005.1 L457.79,1005.3 L458.12,1005.5 L458.45,1005.4 L458.78,1005.8 L459.11,1004.2 L459.44,992.2 L459.70,981.1 L459.77,982.2 L460.10,999.8 L460.43,1003.8 L460.70,1000.0 L460.76,1000.2 L461.09,1005.4 L461.42,1006.1 L461.75,1006.1 L462.08,1006.2 L462.41,1006.2 L462.74,1006.3 L463.07,1006.0 L463.40,1006.5 L463.73,1006.4 L464.06,1006.3 L464.39,1006.3 L464.72,1006.6 L465.05,1006.5 L465.38,1006.6 L465.71,1006.8 L466.04,1006.6 L466.37,1006.6 L466.70,1006.4 L466.91,1006.7 L467.03,1006.9 L467.36,1006.7 L467.69,1006.3 L468.02,1003.9 L468.10,1004.0 L468.35,1005.5 L468.68,1007.0 L469.01,1007.6 L469.34,1007.2 L469.67,1007.3 L470.00,1007.4 L470.33,1007.8 L470.66,1007.2 L470.99,1007.2 L471.21,1007.0 L471.32,1006.9 L471.65,1007.3 L471.98,1008.1 L472.31,1008.0 L472.64,1008.3 L472.97,1005.6 L473.30,995.8 L473.40,994.7 L473.63,999.7 L473.96,1007.6 L474.29,1008.7 L474.62,1008.4 L474.95,1008.4 L475.28,1008.9 L475.61,1008.8 L475.94,1008.8 L476.27,1008.6 L476.60,1006.0 L476.93,999.1 L477.00,998.9 L477.26,1003.1 L477.59,1008.4 L477.92,1008.3 L478.25,1007.8 L478.30,1008.0 L478.58,1008.0 L478.91,1008.8 L479.24,1008.7 L479.57,1008.9 L479.90,1009.0 L480.23,1009.1 L480.56,1008.8 L480.89,1009.0 L481.22,1009.2 L481.55,1009.2 L481.88,1009.1 L482.21,1009.2 L482.54,1009.3 L482.87,1009.4 L483.20,1009.2 L483.53,1009.0 L483.86,1009.0 L484.19,1009.3 L484.52,1009.4 L484.85,1009.3 L485.18,1009.4 L485.51,1009.2 L485.84,1009.3 L486.17,1009.3 L486.50,1009.3 L486.83,1007.4 L487.10,1005.2 L487.16,1005.0 L487.23,1005.8 L487.49,1008.5 L487.82,1009.7 L488.15,1009.3 L488.48,1009.4 L488.81,1009.5 L489.14,1009.4 L489.47,1006.2 L489.70,1004.2 L489.80,1004.9 L490.13,1008.7 L490.46,1009.8 L490.79,1009.9 L491.12,1010.0 L491.45,1009.7 L491.78,1009.4 L492.10,1008.9 L492.11,1009.0 L492.44,1009.5 L492.77,1010.0 L493.10,1010.0 L493.43,1009.9 L493.76,1009.9 L494.09,1009.8 L494.42,1009.8 L494.75,1010.2 L495.08,1010.0 L495.41,1010.1 L495.74,1010.1 L496.07,1009.8 L496.40,1010.0 L496.73,1010.0 L497.06,1010.3 L497.39,1010.2 L497.72,1010.0 L498.05,1010.0 L498.38,1010.0 L498.56,1009.8 L498.71,1009.9 L499.04,1009.9 L499.37,1010.1 L499.70,1010.4 L500.03,1010.1 L500.36,1010.4 L500.69,1010.5 L501.02,1010.6 L501.35,1010.4 L501.68,1010.4 L502.01,1010.7 L502.34,1010.6 L502.67,1010.6 L503.00,1010.5 L503.33,1010.3 L503.66,1010.7 L503.99,1010.3 L504.32,1010.7 L504.65,1010.4 L504.98,1010.8 L505.31,1010.7 L505.64,1010.6 L505.97,1010.6 L506.30,1010.5 L506.63,1011.0 L506.96,1010.7 L507.29,1011.0 L507.62,1010.5 L507.95,1010.2 L508.18,1010.4 L508.28,1010.3 L508.61,1011.0 L508.94,1010.6 L509.27,1010.9 L509.60,1011.1 L509.93,1010.8 L510.26,1010.8 L510.59,1010.8 L510.92,1010.7 L511.25,1011.0 L511.58,1011.0 L511.91,1010.8 L512.24,1011.0 L512.57,1011.0 L512.90,1011.1 L513.23,1010.7 L513.56,1010.5 L513.89,1010.7 L514.22,1010.3 L514.55,1010.0 L514.88,1009.6 L515.14,1009.7 L515.20,1009.7 L515.21,1009.7 L515.54,1010.0 L515.87,1010.0 L516.20,1010.3 L516.53,1010.7 L516.86,1010.9 L517.19,1011.0 L517.52,1011.0 L517.85,1011.5 L518.18,1011.4 L518.51,1011.6 L518.84,1011.4 L519.17,1011.7 L519.50,1011.7 L519.83,1011.4 L520.16,1011.7 L520.49,1011.3 L520.82,1011.6 L521.15,1011.7 L521.48,1011.7 L521.81,1011.4 L522.14,1011.5 L522.47,1011.4 L522.80,1011.8 L523.13,1011.6 L523.46,1011.8 L523.79,1011.6 L524.12,1011.5 L524.45,1011.7 L524.78,1011.6 L524.97,1011.4 L525.11,1011.4 L525.44,1011.7 L525.77,1011.5 L526.10,1011.5 L526.43,1011.8 L526.76,1011.8 L527.09,1011.8 L527.42,1011.8 L527.75,1011.6 L528.08,1011.5 L528.41,1011.9 L528.74,1011.9 L529.07,1011.7 L529.40,1011.6 L529.73,1011.9 L530.06,1011.4 L530.39,1011.1 L530.65,1011.2 L530.72,1011.1 L531.05,1011.6 L531.38,1011.4 L531.71,1011.8 L532.04,1011.2 L532.37,1011.1 L532.70,1010.4 L533.03,1010.1 L533.36,1009.7 L533.69,1009.6 L534.00,1009.3 L534.02,1009.0 L534.35,1009.6 L534.68,1010.0 L535.01,1010.2 L535.34,1010.8 L535.67,1011.4 L536.00,1011.5 L536.33,1011.6 L536.66,1011.7 L536.99,1011.7 L537.32,1011.7 L537.65,1011.8 L537.98,1011.6 L538.31,1011.9 L538.64,1011.9 L538.97,1011.8 L539.16,1011.6 L539.30,1011.5 L539.63,1012.0 L539.96,1012.2 L540.29,1011.8 L540.62,1011.8 L540.95,1012.1 L541.28,1011.8 L541.61,1012.1 L541.94,1012.2 L542.27,1011.8 L542.60,1011.9 L542.93,1012.0 L543.26,1011.7 L543.59,1011.9 L543.92,1011.7 L544.25,1011.5 L544.38,1011.5 L544.58,1011.6 L544.91,1011.8 L545.24,1012.1 L545.57,1011.8 L545.90,1011.9 L546.23,1011.9 L546.56,1011.9 L546.89,1012.3 L547.22,1012.3 L547.55,1012.3 L547.88,1012.0 L548.21,1012.3 L548.54,1012.3 L548.87,1012.3 L549.20,1012.3 L549.53,1012.2 L549.86,1011.9 L550.19,1012.0 L550.52,1012.0 L550.85,1012.2 L551.18,1012.2 L551.51,1012.4 L551.84,1012.0 L552.17,1012.4 L552.50,1011.8 L552.83,1011.9 L553.16,1011.4 L553.24,1011.5 L553.49,1011.6 L553.82,1011.6 L554.15,1012.2 L554.48,1012.3 L554.81,1012.1 L555.14,1012.0 L555.47,1012.3 L555.80,1012.1 L556.13,1012.1 L556.46,1012.1 L556.79,1012.3 L557.12,1012.3 L557.45,1012.2 L557.78,1012.1 L558.11,1012.1 L558.44,1012.4 L558.77,1012.2 L559.10,1012.1 L559.43,1012.5 L559.76,1012.3 L560.09,1012.2 L560.42,1012.6 L560.75,1012.3 L561.08,1011.9 L561.41,1011.8 L561.48,1011.9 L561.74,1011.7 L562.07,1011.2 L562.40,1010.2 L562.73,1009.6 L563.06,1009.5 L563.39,1009.2 L563.40,1009.3 L563.72,1009.4 L564.05,1009.6 L564.38,1010.4 L564.71,1011.1 L565.04,1011.8 L565.37,1012.0 L565.70,1012.3 L566.03,1012.1 L566.36,1012.4 L566.69,1012.5 L567.02,1012.6 L567.35,1012.4 L567.68,1012.8 L568.01,1012.6 L568.34,1012.6 L568.67,1012.8 L569.00,1012.8 L569.33,1012.3 L569.66,1012.8 L569.99,1012.5 L570.32,1012.5 L570.65,1012.1 L570.98,1011.8 L571.31,1011.8 L571.37,1011.7 L571.64,1011.6 L571.97,1011.0 L572.30,1010.1 L572.63,1009.6 L572.96,1009.3 L573.10,1009.3 L573.29,1009.5 L573.62,1009.9 L573.95,1010.2 L574.28,1010.9 L574.61,1011.5 L574.94,1011.8 L575.27,1012.1 L575.60,1012.3 L575.93,1012.8 L576.26,1012.3 L576.59,1012.2 L576.92,1012.1 L577.01,1011.9 L577.25,1012.3 L577.58,1012.2 L577.91,1012.6 L578.24,1012.5 L578.57,1012.6 L578.90,1012.7 L579.23,1012.9 L579.56,1012.9 L579.89,1012.6 L580.22,1012.5 L580.55,1012.6 L580.88,1012.7 L581.21,1012.8 L581.54,1012.5 L581.87,1012.6 L582.20,1012.9 L582.53,1012.7 L582.86,1012.6 L583.19,1013.0 L583.52,1012.6 L583.85,1013.0 L584.18,1012.5 L584.51,1012.8 L584.80,1012.6 L584.84,1012.4 L585.17,1012.5 L585.50,1013.0 L585.83,1012.9 L586.16,1013.0 L586.49,1012.8 L586.82,1012.8 L587.15,1012.8 L587.48,1012.8 L587.81,1013.1 L588.14,1013.1 L588.47,1013.1 L588.80,1012.9 L589.13,1012.9 L589.46,1013.2 L589.79,1013.0 L590.12,1013.1 L590.45,1012.8 L590.78,1013.2 L591.11,1013.0 L591.44,1012.4 L591.77,1009.7 L592.10,1001.9 L592.40,997.6 L592.43,997.5 L592.76,1003.6 L593.09,1010.5 L593.42,1012.4 L593.70,1012.4 L593.75,1012.4 L594.08,1012.6 L594.41,1013.1 L594.74,1012.9 L595.07,1013.0 L595.40,1013.0 L595.73,1013.1 L596.06,1013.2 L596.39,1012.9 L596.72,1012.7 L597.05,1012.5 L597.38,1012.3 L597.71,1011.7 L598.04,1011.6 L598.13,1011.6 L598.37,1011.2 L598.40,1011.5 L598.70,1011.3 L599.03,1011.7 L599.36,1011.9 L599.69,1012.5 L600.02,1012.9 L600.35,1012.9 L600.68,1013.2 L601.01,1013.1 L601.34,1013.0 L601.67,1013.4 L602.00,1013.2 L602.33,1013.0 L602.66,1013.0 L602.99,1013.2 L603.32,1012.6 L603.65,1012.8 L603.98,1012.1 L604.31,1012.2 L604.64,1011.6 L604.97,1010.9 L605.30,1010.6 L605.63,1010.3 L605.96,1010.1 L606.29,1010.1 L606.40,1010.0 L606.62,1009.8 L606.95,1010.2 L607.28,1010.6 L607.29,1010.5 L607.61,1011.0 L607.94,1011.2 L608.27,1011.8 L608.60,1012.2 L608.93,1012.5 L609.26,1013.0 L609.59,1012.8 L609.92,1013.0 L610.25,1013.5 L610.58,1013.4 L610.91,1013.6 L611.24,1013.2 L611.57,1013.3 L611.90,1013.5 L612.23,1013.6 L612.56,1013.4 L612.89,1013.0 L613.22,1012.9 L613.40,1013.0 L613.55,1013.1 L613.88,1013.0 L614.21,1013.3 L614.54,1013.7 L614.87,1013.6 L615.20,1013.5 L615.53,1013.3 L615.86,1013.5 L616.19,1013.4 L616.52,1013.5 L616.85,1013.5 L617.18,1013.3 L617.51,1013.7 L617.84,1013.5 L618.17,1013.3 L618.50,1013.6 L618.83,1013.4 L619.16,1013.3 L619.49,1013.6 L619.82,1013.3 L620.15,1013.8 L620.48,1013.6 L620.81,1013.3 L621.14,1013.3 L621.24,1013.0 L621.47,1012.9 L621.80,1013.6 L622.13,1013.2 L622.46,1013.2 L622.79,1013.1 L623.12,1012.8 L623.45,1012.6 L623.78,1012.1 L624.11,1011.4 L624.44,1011.5 L624.50,1011.5 L624.77,1011.6 L625.10,1011.7 L625.43,1012.3 L625.76,1012.4 L626.09,1013.0 L626.42,1013.2 L626.75,1013.2 L627.08,1013.6 L627.41,1013.9 L627.74,1013.8 L628.07,1013.9 L628.40,1013.4 L628.73,1013.7 L629.06,1013.7 L629.39,1013.7 L629.72,1013.9 L630.05,1013.6 L630.38,1013.5 L630.71,1013.7 L631.04,1013.4 L631.30,1013.0 L631.37,1013.0 L631.70,1013.2 L632.03,1014.0 L632.36,1014.0 L632.69,1013.5 L633.02,1013.8 L633.35,1014.0 L633.68,1013.8 L634.01,1013.5 L634.34,1013.9 L634.67,1013.8 L635.00,1013.7 L635.33,1013.5 L635.66,1013.6 L635.99,1014.0 L636.32,1013.8 L636.65,1013.7 L636.98,1013.6 L637.08,1013.6 L637.31,1013.7 L637.64,1013.9 L637.97,1013.5 L638.30,1013.9 L638.63,1013.6 L638.96,1013.8 L639.29,1014.1 L639.62,1014.0 L639.95,1013.5 L640.28,1013.6 L640.61,1012.8 L640.73,1013.0 L640.94,1013.2 L641.27,1013.2 L641.60,1013.6 L641.93,1013.8 L642.26,1014.1 L642.59,1013.5 L642.92,1013.5 L643.25,1013.6 L643.58,1012.9 L643.91,1012.8 L644.24,1012.3 L644.57,1011.9 L644.90,1011.3 L645.23,1011.1 L645.56,1010.7 L645.60,1011.0 L645.89,1011.2 L646.22,1011.1 L646.55,1011.7 L646.88,1011.9 L647.21,1012.8 L647.54,1013.1 L647.87,1013.1 L648.20,1013.8 L648.53,1013.8 L648.86,1013.9 L649.19,1013.5 L649.52,1013.4 L649.83,1013.1 L649.85,1013.0 L650.18,1013.1 L650.51,1013.9 L650.84,1013.8 L651.17,1014.2 L651.50,1014.1 L651.83,1014.0 L652.16,1014.0 L652.49,1013.9 L652.82,1014.0 L653.15,1014.3 L653.48,1014.1 L653.81,1013.8 L654.14,1013.7 L654.44,1013.5 L654.47,1013.2 L654.80,1013.7 L655.13,1013.6 L655.46,1012.9 L655.79,1011.9 L656.12,1011.0 L656.45,1010.2 L656.78,1009.2 L657.11,1008.3 L657.40,1008.4 L657.44,1008.2 L657.77,1008.7 L658.10,1009.4 L658.43,1010.3 L658.76,1011.3 L659.09,1012.4 L659.42,1013.2 L659.75,1013.5 L660.08,1013.8 L660.41,1014.1 L660.74,1014.0 L661.07,1014.2 L661.40,1013.5 L661.73,1013.3 L661.96,1013.4 L662.06,1013.2 L662.39,1013.4 L662.72,1014.1 L663.05,1014.1 L663.38,1014.0 L663.71,1013.9 L664.04,1013.3 L664.37,1013.2 L664.70,1012.7 L665.03,1012.4 L665.36,1011.8 L665.50,1012.0 L665.69,1012.1 L666.02,1012.0 L666.35,1012.4 L666.68,1013.2 L667.01,1013.6 L667.34,1013.9 L667.67,1013.8 L668.00,1014.3 L668.33,1014.1 L668.66,1014.3 L668.99,1014.4 L669.32,1014.2 L669.65,1014.2 L669.98,1014.5 L670.31,1014.4 L670.64,1014.5 L670.97,1014.1 L671.30,1014.5 L671.63,1014.1 L671.96,1013.8 L672.24,1013.6 L672.29,1013.8 L672.62,1014.1 L672.95,1014.3 L673.28,1014.4 L673.61,1014.4 L673.94,1014.2 L674.27,1014.3 L674.60,1014.3 L674.93,1014.2 L675.26,1014.3 L675.59,1014.5 L675.92,1014.1 L676.25,1014.3 L676.58,1014.6 L676.91,1014.6 L677.24,1014.2 L677.57,1014.6 L677.90,1014.7 L678.23,1014.5 L678.56,1014.3 L678.89,1014.4 L679.22,1014.2 L679.55,1014.4 L679.88,1014.0 L680.21,1013.8 L680.47,1013.8 L680.54,1013.8 L680.87,1013.9 L681.20,1014.5 L681.53,1014.6 L681.86,1014.3 L682.19,1014.6 L682.52,1014.6 L682.85,1014.4 L683.18,1014.7 L683.51,1014.3 L683.84,1014.4 L684.17,1014.6 L684.50,1014.7 L684.83,1014.8" fill="none" stroke="#000" stroke-width="1.1" stroke-linejoin="round"/>
<polyline points="413,1011 448,1004.6" fill="none" stroke="#a00808" stroke-width="0.8"/>
<rect x="417.10" y="833.60" width="48.20" height="6.30" fill="#fff"/>
<text transform="translate(417.70,839.10) scale(1.85,1)" font-size="7.12" font-family='"Liberation Sans", sans-serif' font-weight="bold" fill="#14147a" stroke="#14147a" stroke-width="0.05" textLength="25.41" lengthAdjust="spacing">16.348</text>
<rect x="424.10" y="873.10" width="48.30" height="6.30" fill="#fff"/>
<text transform="translate(424.70,878.60) scale(1.85,1)" font-size="7.12" font-family='"Liberation Sans", sans-serif' font-weight="bold" fill="#14147a" stroke="#14147a" stroke-width="0.05" textLength="25.46" lengthAdjust="spacing">16.716</text>
<rect x="405.50" y="922.00" width="48.20" height="6.30" fill="#fff"/>
<text transform="translate(406.10,927.50) scale(1.85,1)" font-size="7.12" font-family='"Liberation Sans", sans-serif' font-weight="bold" fill="#14147a" stroke="#14147a" stroke-width="0.05" textLength="25.41" lengthAdjust="spacing">15.790</text>
<rect x="410.60" y="947.80" width="48.60" height="6.30" fill="#fff"/>
<text transform="translate(411.20,953.30) scale(1.85,1)" font-size="7.12" font-family='"Liberation Sans", sans-serif' font-weight="bold" fill="#14147a" stroke="#14147a" stroke-width="0.05" textLength="25.62" lengthAdjust="spacing">16.045</text>
<rect x="417.90" y="942.50" width="48.90" height="6.30" fill="#fff"/>
<text transform="translate(418.50,948.00) scale(1.85,1)" font-size="7.12" font-family='"Liberation Sans", sans-serif' font-weight="bold" fill="#14147a" stroke="#14147a" stroke-width="0.05" textLength="25.78" lengthAdjust="spacing">16.420</text>
<rect x="409.80" y="953.90" width="48.60" height="6.30" fill="#fff"/>
<text transform="translate(410.40,959.40) scale(1.85,1)" font-size="7.12" font-family='"Liberation Sans", sans-serif' font-weight="bold" fill="#14147a" stroke="#14147a" stroke-width="0.05" textLength="25.62" lengthAdjust="spacing">15.685</text>
<rect x="420.80" y="953.90" width="49.40" height="6.30" fill="#fff"/>
<text transform="translate(421.40,959.40) scale(1.85,1)" font-size="7.12" font-family='"Liberation Sans", sans-serif' font-weight="bold" fill="#14147a" stroke="#14147a" stroke-width="0.05" textLength="26.05" lengthAdjust="spacing">16.588</text>
<rect x="390.90" y="963.00" width="48.50" height="6.30" fill="#fff"/>
<text transform="translate(391.50,968.50) scale(1.85,1)" font-size="7.12" font-family='"Liberation Sans", sans-serif' font-weight="bold" fill="#14147a" stroke="#14147a" stroke-width="0.05" textLength="25.57" lengthAdjust="spacing">15.016</text>
<rect x="436.80" y="963.00" width="47.20" height="6.30" fill="#fff"/>
<text transform="translate(437.40,968.50) scale(1.85,1)" font-size="7.12" font-family='"Liberation Sans", sans-serif' font-weight="bold" fill="#14147a" stroke="#14147a" stroke-width="0.05" textLength="24.86" lengthAdjust="spacing">17.289</text>
<rect x="396.00" y="973.60" width="48.50" height="6.30" fill="#fff"/>
<text transform="translate(396.60,979.10) scale(1.85,1)" font-size="7.12" font-family='"Liberation Sans", sans-serif' font-weight="bold" fill="#14147a" stroke="#14147a" stroke-width="0.05" textLength="25.57" lengthAdjust="spacing">15.311</text>
<rect x="432.60" y="973.60" width="48.50" height="6.30" fill="#fff"/>
<text transform="translate(433.20,979.10) scale(1.85,1)" font-size="7.12" font-family='"Liberation Sans", sans-serif' font-weight="bold" fill="#14147a" stroke="#14147a" stroke-width="0.05" textLength="25.57" lengthAdjust="spacing">17.142</text>
<rect x="400.80" y="982.80" width="48.90" height="6.30" fill="#fff"/>
<text transform="translate(401.40,988.30) scale(1.85,1)" font-size="7.12" font-family='"Liberation Sans", sans-serif' font-weight="bold" fill="#14147a" stroke="#14147a" stroke-width="0.05" textLength="25.78" lengthAdjust="spacing">15.560</text>
<polyline points="390,960 390,963" fill="none" stroke="#000" stroke-width="0.8"/>
<line x1="149.40" y1="1081.50" x2="149.40" y2="1262.90" stroke="#000" stroke-width="1"/>
<line x1="148.90" y1="1262.40" x2="685.00" y2="1262.40" stroke="#000" stroke-width="1"/>
<line x1="147.20" y1="1262.40" x2="149.40" y2="1262.40" stroke="#000" stroke-width="0.9"/>
<line x1="148.20" y1="1260.26" x2="149.40" y2="1260.26" stroke="#000" stroke-width="0.6"/>
<line x1="148.20" y1="1258.13" x2="149.40" y2="1258.13" stroke="#000" stroke-width="0.6"/>
<line x1="148.20" y1="1255.99" x2="149.40" y2="1255.99" stroke="#000" stroke-width="0.6"/>
<line x1="148.20" y1="1253.86" x2="149.40" y2="1253.86" stroke="#000" stroke-width="0.6"/>
<text transform="translate(136.68,1264.60) scale(2.2539818181818183,1)" font-size="6.40" font-family='"Liberation Sans", sans-serif' font-weight="normal" fill="#000" stroke="#000" stroke-width="0.20" textLength="3.82" lengthAdjust="spacing">0</text>
<line x1="147.20" y1="1251.72" x2="149.40" y2="1251.72" stroke="#000" stroke-width="0.9"/>
<line x1="148.20" y1="1249.58" x2="149.40" y2="1249.58" stroke="#000" stroke-width="0.6"/>
<line x1="148.20" y1="1247.45" x2="149.40" y2="1247.45" stroke="#000" stroke-width="0.6"/>
<line x1="148.20" y1="1245.31" x2="149.40" y2="1245.31" stroke="#000" stroke-width="0.6"/>
<line x1="148.20" y1="1243.18" x2="149.40" y2="1243.18" stroke="#000" stroke-width="0.6"/>
<text transform="translate(101.77,1253.92) scale(2.2539818181818183,1)" font-size="6.40" font-family='"Liberation Sans", sans-serif' font-weight="normal" fill="#000" stroke="#000" stroke-width="0.20" textLength="19.31" lengthAdjust="spacing">1e+07</text>
<line x1="147.20" y1="1241.04" x2="149.40" y2="1241.04" stroke="#000" stroke-width="0.9"/>
<line x1="148.20" y1="1238.90" x2="149.40" y2="1238.90" stroke="#000" stroke-width="0.6"/>
<line x1="148.20" y1="1236.77" x2="149.40" y2="1236.77" stroke="#000" stroke-width="0.6"/>
<line x1="148.20" y1="1234.63" x2="149.40" y2="1234.63" stroke="#000" stroke-width="0.6"/>
<line x1="148.20" y1="1232.50" x2="149.40" y2="1232.50" stroke="#000" stroke-width="0.6"/>
<text transform="translate(101.77,1243.24) scale(2.2539818181818183,1)" font-size="6.40" font-family='"Liberation Sans", sans-serif' font-weight="normal" fill="#000" stroke="#000" stroke-width="0.20" textLength="19.31" lengthAdjust="spacing">2e+07</text>
<line x1="147.20" y1="1230.36" x2="149.40" y2="1230.36" stroke="#000" stroke-width="0.9"/>
<line x1="148.20" y1="1228.22" x2="149.40" y2="1228.22" stroke="#000" stroke-width="0.6"/>
<line x1="148.20" y1="1226.09" x2="149.40" y2="1226.09" stroke="#000" stroke-width="0.6"/>
<line x1="148.20" y1="1223.95" x2="149.40" y2="1223.95" stroke="#000" stroke-width="0.6"/>
<line x1="148.20" y1="1221.82" x2="149.40" y2="1221.82" stroke="#000" stroke-width="0.6"/>
<text transform="translate(101.77,1232.56) scale(2.2539818181818183,1)" font-size="6.40" font-family='"Liberation Sans", sans-serif' font-weight="normal" fill="#000" stroke="#000" stroke-width="0.20" textLength="19.31" lengthAdjust="spacing">3e+07</text>
<line x1="147.20" y1="1219.68" x2="149.40" y2="1219.68" stroke="#000" stroke-width="0.9"/>
<line x1="148.20" y1="1217.54" x2="149.40" y2="1217.54" stroke="#000" stroke-width="0.6"/>
<line x1="148.20" y1="1215.41" x2="149.40" y2="1215.41" stroke="#000" stroke-width="0.6"/>
<line x1="148.20" y1="1213.27" x2="149.40" y2="1213.27" stroke="#000" stroke-width="0.6"/>
<line x1="148.20" y1="1211.14" x2="149.40" y2="1211.14" stroke="#000" stroke-width="0.6"/>
<text transform="translate(101.77,1221.88) scale(2.2539818181818183,1)" font-size="6.40" font-family='"Liberation Sans", sans-serif' font-weight="normal" fill="#000" stroke="#000" stroke-width="0.20" textLength="19.31" lengthAdjust="spacing">4e+07</text>
<line x1="147.20" y1="1209.00" x2="149.40" y2="1209.00" stroke="#000" stroke-width="0.9"/>
<line x1="148.20" y1="1206.86" x2="149.40" y2="1206.86" stroke="#000" stroke-width="0.6"/>
<line x1="148.20" y1="1204.73" x2="149.40" y2="1204.73" stroke="#000" stroke-width="0.6"/>
<line x1="148.20" y1="1202.59" x2="149.40" y2="1202.59" stroke="#000" stroke-width="0.6"/>
<line x1="148.20" y1="1200.46" x2="149.40" y2="1200.46" stroke="#000" stroke-width="0.6"/>
<text transform="translate(101.77,1211.20) scale(2.2539818181818183,1)" font-size="6.40" font-family='"Liberation Sans", sans-serif' font-weight="normal" fill="#000" stroke="#000" stroke-width="0.20" textLength="19.31" lengthAdjust="spacing">5e+07</text>
<line x1="147.20" y1="1198.32" x2="149.40" y2="1198.32" stroke="#000" stroke-width="0.9"/>
<line x1="148.20" y1="1196.18" x2="149.40" y2="1196.18" stroke="#000" stroke-width="0.6"/>
<line x1="148.20" y1="1194.05" x2="149.40" y2="1194.05" stroke="#000" stroke-width="0.6"/>
<line x1="148.20" y1="1191.91" x2="149.40" y2="1191.91" stroke="#000" stroke-width="0.6"/>
<line x1="148.20" y1="1189.78" x2="149.40" y2="1189.78" stroke="#000" stroke-width="0.6"/>
<text transform="translate(101.77,1200.52) scale(2.2539818181818183,1)" font-size="6.40" font-family='"Liberation Sans", sans-serif' font-weight="normal" fill="#000" stroke="#000" stroke-width="0.20" textLength="19.31" lengthAdjust="spacing">6e+07</text>
<line x1="147.20" y1="1187.64" x2="149.40" y2="1187.64" stroke="#000" stroke-width="0.9"/>
<line x1="148.20" y1="1185.50" x2="149.40" y2="1185.50" stroke="#000" stroke-width="0.6"/>
<line x1="148.20" y1="1183.37" x2="149.40" y2="1183.37" stroke="#000" stroke-width="0.6"/>
<line x1="148.20" y1="1181.23" x2="149.40" y2="1181.23" stroke="#000" stroke-width="0.6"/>
<line x1="148.20" y1="1179.10" x2="149.40" y2="1179.10" stroke="#000" stroke-width="0.6"/>
<text transform="translate(101.77,1189.84) scale(2.2539818181818183,1)" font-size="6.40" font-family='"Liberation Sans", sans-serif' font-weight="normal" fill="#000" stroke="#000" stroke-width="0.20" textLength="19.31" lengthAdjust="spacing">7e+07</text>
<line x1="147.20" y1="1176.96" x2="149.40" y2="1176.96" stroke="#000" stroke-width="0.9"/>
<line x1="148.20" y1="1174.82" x2="149.40" y2="1174.82" stroke="#000" stroke-width="0.6"/>
<line x1="148.20" y1="1172.69" x2="149.40" y2="1172.69" stroke="#000" stroke-width="0.6"/>
<line x1="148.20" y1="1170.55" x2="149.40" y2="1170.55" stroke="#000" stroke-width="0.6"/>
<line x1="148.20" y1="1168.42" x2="149.40" y2="1168.42" stroke="#000" stroke-width="0.6"/>
<text transform="translate(101.77,1179.16) scale(2.2539818181818183,1)" font-size="6.40" font-family='"Liberation Sans", sans-serif' font-weight="normal" fill="#000" stroke="#000" stroke-width="0.20" textLength="19.31" lengthAdjust="spacing">8e+07</text>
<line x1="147.20" y1="1166.28" x2="149.40" y2="1166.28" stroke="#000" stroke-width="0.9"/>
<line x1="148.20" y1="1164.14" x2="149.40" y2="1164.14" stroke="#000" stroke-width="0.6"/>
<line x1="148.20" y1="1162.01" x2="149.40" y2="1162.01" stroke="#000" stroke-width="0.6"/>
<line x1="148.20" y1="1159.87" x2="149.40" y2="1159.87" stroke="#000" stroke-width="0.6"/>
<line x1="148.20" y1="1157.74" x2="149.40" y2="1157.74" stroke="#000" stroke-width="0.6"/>
<text transform="translate(101.77,1168.48) scale(2.2539818181818183,1)" font-size="6.40" font-family='"Liberation Sans", sans-serif' font-weight="normal" fill="#000" stroke="#000" stroke-width="0.20" textLength="19.31" lengthAdjust="spacing">9e+07</text>
<line x1="147.20" y1="1155.60" x2="149.40" y2="1155.60" stroke="#000" stroke-width="0.9"/>
<line x1="148.20" y1="1153.46" x2="149.40" y2="1153.46" stroke="#000" stroke-width="0.6"/>
<line x1="148.20" y1="1151.33" x2="149.40" y2="1151.33" stroke="#000" stroke-width="0.6"/>
<line x1="148.20" y1="1149.19" x2="149.40" y2="1149.19" stroke="#000" stroke-width="0.6"/>
<line x1="148.20" y1="1147.06" x2="149.40" y2="1147.06" stroke="#000" stroke-width="0.6"/>
<text transform="translate(101.77,1157.80) scale(2.2539818181818183,1)" font-size="6.40" font-family='"Liberation Sans", sans-serif' font-weight="normal" fill="#000" stroke="#000" stroke-width="0.20" textLength="19.31" lengthAdjust="spacing">1e+08</text>
<line x1="147.20" y1="1144.92" x2="149.40" y2="1144.92" stroke="#000" stroke-width="0.9"/>
<line x1="148.20" y1="1142.78" x2="149.40" y2="1142.78" stroke="#000" stroke-width="0.6"/>
<line x1="148.20" y1="1140.65" x2="149.40" y2="1140.65" stroke="#000" stroke-width="0.6"/>
<line x1="148.20" y1="1138.51" x2="149.40" y2="1138.51" stroke="#000" stroke-width="0.6"/>
<line x1="148.20" y1="1136.38" x2="149.40" y2="1136.38" stroke="#000" stroke-width="0.6"/>
<text transform="translate(88.84,1147.12) scale(2.253981818181818,1)" font-size="6.40" font-family='"Liberation Sans", sans-serif' font-weight="normal" fill="#000" stroke="#000" stroke-width="0.20" textLength="25.05" lengthAdjust="spacing">1.1e+08</text>
<line x1="147.20" y1="1134.24" x2="149.40" y2="1134.24" stroke="#000" stroke-width="0.9"/>
<line x1="148.20" y1="1132.10" x2="149.40" y2="1132.10" stroke="#000" stroke-width="0.6"/>
<line x1="148.20" y1="1129.97" x2="149.40" y2="1129.97" stroke="#000" stroke-width="0.6"/>
<line x1="148.20" y1="1127.83" x2="149.40" y2="1127.83" stroke="#000" stroke-width="0.6"/>
<line x1="148.20" y1="1125.70" x2="149.40" y2="1125.70" stroke="#000" stroke-width="0.6"/>
<text transform="translate(88.84,1136.44) scale(2.253981818181818,1)" font-size="6.40" font-family='"Liberation Sans", sans-serif' font-weight="normal" fill="#000" stroke="#000" stroke-width="0.20" textLength="25.05" lengthAdjust="spacing">1.2e+08</text>
<line x1="147.20" y1="1123.56" x2="149.40" y2="1123.56" stroke="#000" stroke-width="0.9"/>
<line x1="148.20" y1="1121.42" x2="149.40" y2="1121.42" stroke="#000" stroke-width="0.6"/>
<line x1="148.20" y1="1119.29" x2="149.40" y2="1119.29" stroke="#000" stroke-width="0.6"/>
<line x1="148.20" y1="1117.15" x2="149.40" y2="1117.15" stroke="#000" stroke-width="0.6"/>
<line x1="148.20" y1="1115.02" x2="149.40" y2="1115.02" stroke="#000" stroke-width="0.6"/>
<text transform="translate(88.84,1125.76) scale(2.253981818181818,1)" font-size="6.40" font-family='"Liberation Sans", sans-serif' font-weight="normal" fill="#000" stroke="#000" stroke-width="0.20" textLength="25.05" lengthAdjust="spacing">1.3e+08</text>
<line x1="147.20" y1="1112.88" x2="149.40" y2="1112.88" stroke="#000" stroke-width="0.9"/>
<line x1="148.20" y1="1110.74" x2="149.40" y2="1110.74" stroke="#000" stroke-width="0.6"/>
<line x1="148.20" y1="1108.61" x2="149.40" y2="1108.61" stroke="#000" stroke-width="0.6"/>
<line x1="148.20" y1="1106.47" x2="149.40" y2="1106.47" stroke="#000" stroke-width="0.6"/>
<line x1="148.20" y1="1104.34" x2="149.40" y2="1104.34" stroke="#000" stroke-width="0.6"/>
<text transform="translate(88.84,1115.08) scale(2.253981818181818,1)" font-size="6.40" font-family='"Liberation Sans", sans-serif' font-weight="normal" fill="#000" stroke="#000" stroke-width="0.20" textLength="25.05" lengthAdjust="spacing">1.4e+08</text>
<line x1="147.20" y1="1102.20" x2="149.40" y2="1102.20" stroke="#000" stroke-width="0.9"/>
<line x1="148.20" y1="1100.06" x2="149.40" y2="1100.06" stroke="#000" stroke-width="0.6"/>
<line x1="148.20" y1="1097.93" x2="149.40" y2="1097.93" stroke="#000" stroke-width="0.6"/>
<line x1="148.20" y1="1095.79" x2="149.40" y2="1095.79" stroke="#000" stroke-width="0.6"/>
<line x1="148.20" y1="1093.66" x2="149.40" y2="1093.66" stroke="#000" stroke-width="0.6"/>
<text transform="translate(88.84,1104.40) scale(2.253981818181818,1)" font-size="6.40" font-family='"Liberation Sans", sans-serif' font-weight="normal" fill="#000" stroke="#000" stroke-width="0.20" textLength="25.05" lengthAdjust="spacing">1.5e+08</text>
<line x1="147.20" y1="1091.52" x2="149.40" y2="1091.52" stroke="#000" stroke-width="0.9"/>
<line x1="148.20" y1="1089.38" x2="149.40" y2="1089.38" stroke="#000" stroke-width="0.6"/>
<line x1="148.20" y1="1087.25" x2="149.40" y2="1087.25" stroke="#000" stroke-width="0.6"/>
<line x1="148.20" y1="1085.11" x2="149.40" y2="1085.11" stroke="#000" stroke-width="0.6"/>
<line x1="148.20" y1="1082.98" x2="149.40" y2="1082.98" stroke="#000" stroke-width="0.6"/>
<text transform="translate(88.84,1093.72) scale(2.253981818181818,1)" font-size="6.40" font-family='"Liberation Sans", sans-serif' font-weight="normal" fill="#000" stroke="#000" stroke-width="0.20" textLength="25.05" lengthAdjust="spacing">1.6e+08</text>
<line x1="155.74" y1="1262.40" x2="155.74" y2="1264.80" stroke="#000" stroke-width="0.8"/>
<line x1="163.91" y1="1262.40" x2="163.91" y2="1264.80" stroke="#000" stroke-width="0.8"/>
<line x1="172.07" y1="1262.40" x2="172.07" y2="1264.80" stroke="#000" stroke-width="0.8"/>
<line x1="180.24" y1="1262.40" x2="180.24" y2="1264.80" stroke="#000" stroke-width="0.8"/>
<line x1="188.40" y1="1262.40" x2="188.40" y2="1266.20" stroke="#000" stroke-width="1.0"/>
<line x1="196.56" y1="1262.40" x2="196.56" y2="1264.80" stroke="#000" stroke-width="0.8"/>
<line x1="204.73" y1="1262.40" x2="204.73" y2="1264.80" stroke="#000" stroke-width="0.8"/>
<line x1="212.89" y1="1262.40" x2="212.89" y2="1264.80" stroke="#000" stroke-width="0.8"/>
<line x1="221.06" y1="1262.40" x2="221.06" y2="1264.80" stroke="#000" stroke-width="0.8"/>
<line x1="229.22" y1="1262.40" x2="229.22" y2="1266.20" stroke="#000" stroke-width="1.0"/>
<line x1="237.38" y1="1262.40" x2="237.38" y2="1264.80" stroke="#000" stroke-width="0.8"/>
<line x1="245.55" y1="1262.40" x2="245.55" y2="1264.80" stroke="#000" stroke-width="0.8"/>
<line x1="253.71" y1="1262.40" x2="253.71" y2="1264.80" stroke="#000" stroke-width="0.8"/>
<line x1="261.88" y1="1262.40" x2="261.88" y2="1264.80" stroke="#000" stroke-width="0.8"/>
<line x1="270.04" y1="1262.40" x2="270.04" y2="1266.20" stroke="#000" stroke-width="1.0"/>
<line x1="278.20" y1="1262.40" x2="278.20" y2="1264.80" stroke="#000" stroke-width="0.8"/>
<line x1="286.37" y1="1262.40" x2="286.37" y2="1264.80" stroke="#000" stroke-width="0.8"/>
<line x1="294.53" y1="1262.40" x2="294.53" y2="1264.80" stroke="#000" stroke-width="0.8"/>
<line x1="302.70" y1="1262.40" x2="302.70" y2="1264.80" stroke="#000" stroke-width="0.8"/>
<line x1="310.86" y1="1262.40" x2="310.86" y2="1266.20" stroke="#000" stroke-width="1.0"/>
<line x1="319.02" y1="1262.40" x2="319.02" y2="1264.80" stroke="#000" stroke-width="0.8"/>
<line x1="327.19" y1="1262.40" x2="327.19" y2="1264.80" stroke="#000" stroke-width="0.8"/>
<line x1="335.35" y1="1262.40" x2="335.35" y2="1264.80" stroke="#000" stroke-width="0.8"/>
<line x1="343.52" y1="1262.40" x2="343.52" y2="1264.80" stroke="#000" stroke-width="0.8"/>
<line x1="351.68" y1="1262.40" x2="351.68" y2="1266.20" stroke="#000" stroke-width="1.0"/>
<line x1="359.84" y1="1262.40" x2="359.84" y2="1264.80" stroke="#000" stroke-width="0.8"/>
<line x1="368.01" y1="1262.40" x2="368.01" y2="1264.80" stroke="#000" stroke-width="0.8"/>
<line x1="376.17" y1="1262.40" x2="376.17" y2="1264.80" stroke="#000" stroke-width="0.8"/>
<line x1="384.34" y1="1262.40" x2="384.34" y2="1264.80" stroke="#000" stroke-width="0.8"/>
<line x1="392.50" y1="1262.40" x2="392.50" y2="1266.20" stroke="#000" stroke-width="1.0"/>
<line x1="400.66" y1="1262.40" x2="400.66" y2="1264.80" stroke="#000" stroke-width="0.8"/>
<line x1="408.83" y1="1262.40" x2="408.83" y2="1264.80" stroke="#000" stroke-width="0.8"/>
<line x1="416.99" y1="1262.40" x2="416.99" y2="1264.80" stroke="#000" stroke-width="0.8"/>
<line x1="425.16" y1="1262.40" x2="425.16" y2="1264.80" stroke="#000" stroke-width="0.8"/>
<line x1="433.32" y1="1262.40" x2="433.32" y2="1266.20" stroke="#000" stroke-width="1.0"/>
<line x1="441.48" y1="1262.40" x2="441.48" y2="1264.80" stroke="#000" stroke-width="0.8"/>
<line x1="449.65" y1="1262.40" x2="449.65" y2="1264.80" stroke="#000" stroke-width="0.8"/>
<line x1="457.81" y1="1262.40" x2="457.81" y2="1264.80" stroke="#000" stroke-width="0.8"/>
<line x1="465.98" y1="1262.40" x2="465.98" y2="1264.80" stroke="#000" stroke-width="0.8"/>
<line x1="474.14" y1="1262.40" x2="474.14" y2="1266.20" stroke="#000" stroke-width="1.0"/>
<line x1="482.30" y1="1262.40" x2="482.30" y2="1264.80" stroke="#000" stroke-width="0.8"/>
<line x1="490.47" y1="1262.40" x2="490.47" y2="1264.80" stroke="#000" stroke-width="0.8"/>
<line x1="498.63" y1="1262.40" x2="498.63" y2="1264.80" stroke="#000" stroke-width="0.8"/>
<line x1="506.80" y1="1262.40" x2="506.80" y2="1264.80" stroke="#000" stroke-width="0.8"/>
<line x1="514.96" y1="1262.40" x2="514.96" y2="1266.20" stroke="#000" stroke-width="1.0"/>
<line x1="523.12" y1="1262.40" x2="523.12" y2="1264.80" stroke="#000" stroke-width="0.8"/>
<line x1="531.29" y1="1262.40" x2="531.29" y2="1264.80" stroke="#000" stroke-width="0.8"/>
<line x1="539.45" y1="1262.40" x2="539.45" y2="1264.80" stroke="#000" stroke-width="0.8"/>
<line x1="547.62" y1="1262.40" x2="547.62" y2="1264.80" stroke="#000" stroke-width="0.8"/>
<line x1="555.78" y1="1262.40" x2="555.78" y2="1266.20" stroke="#000" stroke-width="1.0"/>
<line x1="563.94" y1="1262.40" x2="563.94" y2="1264.80" stroke="#000" stroke-width="0.8"/>
<line x1="572.11" y1="1262.40" x2="572.11" y2="1264.80" stroke="#000" stroke-width="0.8"/>
<line x1="580.27" y1="1262.40" x2="580.27" y2="1264.80" stroke="#000" stroke-width="0.8"/>
<line x1="588.44" y1="1262.40" x2="588.44" y2="1264.80" stroke="#000" stroke-width="0.8"/>
<line x1="596.60" y1="1262.40" x2="596.60" y2="1266.20" stroke="#000" stroke-width="1.0"/>
<line x1="604.76" y1="1262.40" x2="604.76" y2="1264.80" stroke="#000" stroke-width="0.8"/>
<line x1="612.93" y1="1262.40" x2="612.93" y2="1264.80" stroke="#000" stroke-width="0.8"/>
<line x1="621.09" y1="1262.40" x2="621.09" y2="1264.80" stroke="#000" stroke-width="0.8"/>
<line x1="629.26" y1="1262.40" x2="629.26" y2="1264.80" stroke="#000" stroke-width="0.8"/>
<line x1="637.42" y1="1262.40" x2="637.42" y2="1266.20" stroke="#000" stroke-width="1.0"/>
<line x1="645.58" y1="1262.40" x2="645.58" y2="1264.80" stroke="#000" stroke-width="0.8"/>
<line x1="653.75" y1="1262.40" x2="653.75" y2="1264.80" stroke="#000" stroke-width="0.8"/>
<line x1="661.91" y1="1262.40" x2="661.91" y2="1264.80" stroke="#000" stroke-width="0.8"/>
<line x1="670.08" y1="1262.40" x2="670.08" y2="1264.80" stroke="#000" stroke-width="0.8"/>
<line x1="678.24" y1="1262.40" x2="678.24" y2="1266.20" stroke="#000" stroke-width="1.0"/>
<text transform="translate(173.32,1271.50) scale(2.253981818181818,1)" font-size="6.40" font-family='"Liberation Sans", sans-serif' font-weight="normal" fill="#000" stroke="#000" stroke-width="0.20" textLength="13.38" lengthAdjust="spacing">4.00</text>
<text transform="translate(214.14,1271.50) scale(2.253981818181818,1)" font-size="6.40" font-family='"Liberation Sans", sans-serif' font-weight="normal" fill="#000" stroke="#000" stroke-width="0.20" textLength="13.38" lengthAdjust="spacing">6.00</text>
<text transform="translate(254.96,1271.50) scale(2.253981818181818,1)" font-size="6.40" font-family='"Liberation Sans", sans-serif' font-weight="normal" fill="#000" stroke="#000" stroke-width="0.20" textLength="13.38" lengthAdjust="spacing">8.00</text>
<text transform="translate(291.47,1271.50) scale(2.253981818181818,1)" font-size="6.40" font-family='"Liberation Sans", sans-serif' font-weight="normal" fill="#000" stroke="#000" stroke-width="0.20" textLength="17.21" lengthAdjust="spacing">10.00</text>
<text transform="translate(332.29,1271.50) scale(2.253981818181818,1)" font-size="6.40" font-family='"Liberation Sans", sans-serif' font-weight="normal" fill="#000" stroke="#000" stroke-width="0.20" textLength="17.21" lengthAdjust="spacing">12.00</text>
<text transform="translate(373.11,1271.50) scale(2.253981818181818,1)" font-size="6.40" font-family='"Liberation Sans", sans-serif' font-weight="normal" fill="#000" stroke="#000" stroke-width="0.20" textLength="17.21" lengthAdjust="spacing">14.00</text>
<text transform="translate(413.93,1271.50) scale(2.253981818181818,1)" font-size="6.40" font-family='"Liberation Sans", sans-serif' font-weight="normal" fill="#000" stroke="#000" stroke-width="0.20" textLength="17.21" lengthAdjust="spacing">16.00</text>
<text transform="translate(454.75,1271.50) scale(2.253981818181818,1)" font-size="6.40" font-family='"Liberation Sans", sans-serif' font-weight="normal" fill="#000" stroke="#000" stroke-width="0.20" textLength="17.21" lengthAdjust="spacing">18.00</text>
<text transform="translate(495.57,1271.50) scale(2.253981818181818,1)" font-size="6.40" font-family='"Liberation Sans", sans-serif' font-weight="normal" fill="#000" stroke="#000" stroke-width="0.20" textLength="17.21" lengthAdjust="spacing">20.00</text>
<text transform="translate(536.39,1271.50) scale(2.253981818181818,1)" font-size="6.40" font-family='"Liberation Sans", sans-serif' font-weight="normal" fill="#000" stroke="#000" stroke-width="0.20" textLength="17.21" lengthAdjust="spacing">22.00</text>
<text transform="translate(577.21,1271.50) scale(2.253981818181818,1)" font-size="6.40" font-family='"Liberation Sans", sans-serif' font-weight="normal" fill="#000" stroke="#000" stroke-width="0.20" textLength="17.21" lengthAdjust="spacing">24.00</text>
<text transform="translate(618.03,1271.50) scale(2.253981818181818,1)" font-size="6.40" font-family='"Liberation Sans", sans-serif' font-weight="normal" fill="#000" stroke="#000" stroke-width="0.20" textLength="17.21" lengthAdjust="spacing">26.00</text>
<text transform="translate(57.30,1061.60) scale(2.0199169629988334,1)" font-size="7.27" font-family='"Liberation Sans", sans-serif' font-weight="bold" fill="#14147a" stroke="#14147a" stroke-width="0.07" textLength="40.79" lengthAdjust="spacing">Abundance</text>
<text transform="translate(57.60,1282.10) scale(1.844259133054393,1)" font-size="7.56" font-family='"Liberation Sans", sans-serif' font-weight="bold" fill="#14147a" stroke="#14147a" stroke-width="0.08" textLength="18.19" lengthAdjust="spacing">Time</text>
<line x1="91.66" y1="1279.80" x2="102.84" y2="1279.80" stroke="#14147a" stroke-width="0.9"/>
<text transform="translate(101.54,1282.10) scale(1.7712939665551841,1)" font-size="7.56" font-family='"Liberation Sans", sans-serif' font-weight="bold" fill="#14147a" stroke="#14147a" stroke-width="0.08" textLength="4.55" lengthAdjust="spacing">&gt;</text>
<text transform="translate(249.30,1080.80) scale(1.8166446468715982,1)" font-size="7.70" font-family='"Liberation Sans", sans-serif' font-weight="normal" fill="#000" stroke="#000" stroke-width="0.22" textLength="184.85" lengthAdjust="spacing">TIC: GANJA PIDE JAYA METANOL.D\ data.ms</text>
<text x="0.00" y="1221.00" font-size="21.37" font-family='"Liberation Serif", serif' font-weight="normal" fill="#ee0000" stroke="#ee0000" stroke-width="0.35" textLength="11.80" lengthAdjust="spacingAndGlyphs">E</text>
<polygon points="413,1257.5 413,1244 414.7,1244 415,1257.3" fill="#a00808" fill-opacity="0.9"/>
<polygon points="432.6,1255.5 433,1239 435.7,1239 436,1255" fill="#a00808" fill-opacity="0.9"/>
<polygon points="442.8,1254.3 443,1238.5 448,1238.5 448.3,1253.5" fill="#a00808" fill-opacity="0.9"/>
<polygon points="456.6,1251.6 456.8,1241 458,1241 458.3,1251.4" fill="#a00808" fill-opacity="0.9"/>
<polygon points="424,1256.3 424.4,1245 425,1256.2" fill="#a00808" fill-opacity="0.9"/>
<path d="M149.90,1261.9 L150.23,1261.6 L150.56,1261.6 L150.89,1261.8 L151.22,1261.5 L151.55,1261.5 L151.88,1261.8 L152.21,1261.4 L152.54,1261.8 L152.87,1261.7 L153.20,1261.6 L153.53,1261.5 L153.86,1261.8 L154.19,1261.8 L154.52,1261.4 L154.85,1261.6 L155.18,1261.6 L155.51,1261.6 L155.84,1261.5 L156.17,1261.4 L156.50,1261.6 L156.83,1261.7 L157.16,1261.1 L157.49,1260.6 L157.82,1260.5 L157.86,1260.4 L158.15,1260.7 L158.48,1260.9 L158.81,1261.3 L159.14,1259.9 L159.47,1257.8 L159.60,1257.3 L159.80,1257.6 L160.13,1260.3 L160.46,1261.2 L160.79,1261.6 L161.12,1261.8 L161.45,1261.7 L161.78,1261.4 L162.11,1261.4 L162.44,1261.8 L162.77,1261.4 L163.10,1261.6 L163.43,1261.5 L163.76,1261.4 L164.09,1261.6 L164.42,1261.3 L164.75,1261.3 L165.08,1261.4 L165.41,1259.8 L165.74,1254.9 L165.90,1254.0 L166.07,1255.4 L166.40,1260.4 L166.73,1261.3 L167.06,1261.4 L167.39,1260.9 L167.72,1260.4 L167.96,1260.2 L168.05,1260.4 L168.38,1260.6 L168.71,1261.0 L169.04,1261.6 L169.37,1261.3 L169.70,1261.6 L170.03,1261.5 L170.36,1261.7 L170.69,1261.5 L171.02,1261.3 L171.35,1260.4 L171.66,1260.1 L171.68,1259.9 L172.01,1260.8 L172.34,1261.3 L172.67,1261.3 L173.00,1261.3 L173.33,1261.4 L173.66,1261.6 L173.99,1261.3 L174.32,1261.6 L174.65,1261.6 L174.98,1261.2 L175.31,1261.6 L175.64,1261.2 L175.97,1261.3 L176.30,1261.5 L176.63,1261.3 L176.96,1261.7 L177.29,1261.5 L177.62,1261.4 L177.95,1261.6 L178.28,1261.2 L178.61,1261.6 L178.94,1261.1 L179.27,1260.9 L179.60,1261.1 L179.70,1260.9 L179.93,1260.8 L180.26,1261.0 L180.59,1261.6 L180.92,1261.5 L181.25,1261.6 L181.58,1261.2 L181.91,1261.5 L182.24,1261.3 L182.57,1261.3 L182.90,1261.3 L183.23,1261.5 L183.56,1261.3 L183.89,1261.4 L184.22,1261.2 L184.55,1261.6 L184.88,1261.5 L185.21,1261.6 L185.54,1261.4 L185.87,1261.5 L186.20,1260.8 L186.49,1260.5 L186.53,1260.4 L186.86,1261.1 L187.19,1261.3 L187.52,1261.2 L187.85,1261.1 L188.18,1261.2 L188.51,1261.1 L188.84,1261.6 L189.17,1261.4 L189.50,1261.5 L189.83,1261.1 L190.16,1261.4 L190.49,1261.6 L190.82,1261.4 L191.15,1261.3 L191.48,1261.4 L191.81,1261.1 L192.14,1261.2 L192.47,1261.2 L192.80,1261.3 L193.13,1261.3 L193.46,1261.5 L193.79,1260.7 L194.00,1260.8 L194.12,1260.6 L194.45,1261.0 L194.78,1261.2 L195.11,1261.2 L195.44,1261.3 L195.77,1261.1 L196.10,1261.6 L196.43,1261.3 L196.76,1261.6 L197.09,1261.4 L197.42,1261.4 L197.75,1261.3 L198.08,1261.6 L198.41,1261.1 L198.74,1261.1 L199.07,1260.4 L199.40,1260.2 L199.46,1260.1 L199.73,1260.1 L200.06,1260.7 L200.39,1260.9 L200.72,1261.1 L201.05,1261.1 L201.38,1261.3 L201.71,1261.6 L202.04,1261.2 L202.37,1261.2 L202.70,1261.3 L203.03,1261.2 L203.36,1261.3 L203.69,1261.0 L204.02,1260.5 L204.08,1260.8 L204.35,1260.9 L204.68,1261.3 L205.01,1261.3 L205.34,1261.2 L205.67,1261.6 L206.00,1261.0 L206.33,1261.0 L206.66,1261.4 L206.99,1261.2 L207.32,1261.0 L207.65,1261.3 L207.98,1261.5 L208.31,1261.3 L208.64,1261.2 L208.97,1261.0 L209.30,1261.0 L209.63,1261.5 L209.96,1261.3 L210.29,1261.5 L210.62,1261.0 L210.95,1261.1 L211.28,1261.0 L211.61,1260.9 L211.90,1260.9 L211.94,1260.7 L212.27,1261.0 L212.60,1261.1 L212.93,1261.0 L213.26,1261.0 L213.59,1261.5 L213.92,1261.1 L214.25,1261.2 L214.58,1261.2 L214.91,1261.2 L215.24,1261.0 L215.57,1261.1 L215.90,1261.0 L216.23,1261.2 L216.56,1261.5 L216.89,1261.3 L217.22,1261.4 L217.55,1261.1 L217.88,1260.9 L218.21,1261.2 L218.54,1261.2 L218.87,1261.2 L219.20,1261.1 L219.53,1261.3 L219.86,1261.3 L220.19,1261.4 L220.52,1261.1 L220.85,1261.1 L221.18,1261.0 L221.50,1260.6 L221.51,1260.3 L221.84,1260.7 L222.17,1260.9 L222.50,1261.3 L222.83,1261.4 L223.16,1261.1 L223.49,1261.0 L223.82,1260.9 L224.15,1261.0 L224.48,1260.9 L224.81,1261.1 L225.14,1261.2 L225.47,1261.0 L225.80,1260.9 L226.13,1261.3 L226.46,1260.9 L226.79,1261.0 L227.12,1261.0 L227.45,1261.1 L227.78,1260.9 L228.11,1261.1 L228.44,1261.0 L228.77,1261.3 L229.10,1261.2 L229.43,1261.4 L229.76,1261.2 L230.09,1261.3 L230.42,1261.2 L230.75,1261.1 L231.08,1261.2 L231.41,1260.8 L231.74,1260.7 L231.88,1260.4 L232.07,1260.6 L232.40,1260.6 L232.73,1261.2 L233.06,1261.0 L233.39,1260.9 L233.72,1260.9 L234.05,1260.9 L234.38,1261.0 L234.71,1261.2 L235.04,1261.0 L235.37,1260.9 L235.70,1261.3 L236.03,1261.1 L236.36,1260.8 L236.69,1260.8 L237.02,1260.9 L237.35,1261.0 L237.68,1261.3 L238.01,1261.3 L238.34,1261.1 L238.67,1260.9 L239.00,1261.0 L239.33,1261.0 L239.66,1261.0 L239.99,1260.8 L240.32,1261.1 L240.65,1261.3 L240.98,1261.2 L241.31,1260.7 L241.64,1260.6 L241.97,1259.8 L242.11,1260.0 L242.30,1260.0 L242.63,1260.9 L242.96,1261.2 L243.29,1260.8 L243.62,1261.0 L243.95,1261.3 L244.28,1261.0 L244.61,1261.0 L244.94,1261.0 L245.27,1261.2 L245.60,1261.3 L245.93,1261.0 L246.26,1261.1 L246.59,1260.4 L246.92,1259.7 L247.04,1259.9 L247.25,1259.9 L247.58,1260.2 L247.91,1261.1 L248.24,1260.7 L248.57,1261.1 L248.90,1261.0 L249.23,1261.2 L249.56,1259.7 L249.89,1254.1 L250.10,1252.0 L250.22,1252.6 L250.55,1258.8 L250.88,1260.8 L251.21,1261.1 L251.54,1260.9 L251.87,1260.9 L252.20,1260.9 L252.53,1261.3 L252.86,1261.2 L253.19,1261.2 L253.52,1261.1 L253.85,1260.9 L254.18,1260.8 L254.51,1261.2 L254.84,1261.0 L255.17,1260.7 L255.50,1260.8 L255.83,1260.8 L256.16,1261.1 L256.49,1261.1 L256.82,1260.4 L257.15,1260.4 L257.31,1260.3 L257.48,1260.4 L257.81,1260.8 L258.14,1260.9 L258.47,1261.1 L258.80,1260.9 L259.13,1260.7 L259.46,1261.0 L259.79,1261.0 L260.12,1260.8 L260.45,1260.9 L260.78,1260.8 L261.11,1260.7 L261.44,1260.8 L261.77,1260.9 L262.10,1260.9 L262.43,1261.0 L262.76,1260.8 L263.09,1260.8 L263.34,1260.4 L263.42,1260.6 L263.75,1260.8 L264.08,1260.5 L264.41,1258.8 L264.50,1258.7 L264.74,1259.5 L265.07,1260.8 L265.40,1261.0 L265.73,1260.9 L266.06,1260.8 L266.39,1260.7 L266.72,1260.5 L267.05,1260.0 L267.29,1259.9 L267.38,1260.0 L267.71,1260.6 L268.04,1260.7 L268.37,1261.1 L268.70,1260.2 L269.03,1258.8 L269.10,1258.7 L269.36,1259.8 L269.69,1260.9 L270.02,1261.0 L270.35,1260.7 L270.68,1260.2 L270.81,1260.2 L271.01,1260.3 L271.34,1260.6 L271.67,1260.7 L272.00,1260.9 L272.33,1261.1 L272.66,1260.7 L272.99,1261.1 L273.32,1260.9 L273.65,1260.8 L273.98,1260.6 L274.31,1260.8 L274.64,1260.2 L274.97,1258.5 L275.10,1258.1 L275.30,1259.1 L275.63,1260.7 L275.96,1260.4 L276.29,1259.8 L276.48,1260.0 L276.62,1260.0 L276.95,1260.5 L277.28,1260.6 L277.61,1261.0 L277.94,1260.7 L278.27,1260.7 L278.60,1260.7 L278.93,1260.9 L279.26,1261.1 L279.59,1260.6 L279.92,1260.9 L280.25,1260.9 L280.58,1260.5 L280.91,1260.1 L281.24,1260.0 L281.39,1260.0 L281.57,1260.2 L281.90,1260.1 L282.19,1259.7 L282.23,1259.6 L282.56,1260.2 L282.89,1260.9 L283.22,1260.7 L283.55,1260.7 L283.88,1260.6 L284.21,1260.4 L284.52,1260.0 L284.54,1259.6 L284.87,1260.0 L285.20,1260.6 L285.53,1260.9 L285.86,1260.7 L286.19,1260.7 L286.52,1260.9 L286.85,1260.9 L287.18,1260.5 L287.51,1259.3 L287.74,1255.8 L287.84,1254.6 L287.90,1254.5 L288.17,1257.7 L288.50,1260.5 L288.83,1260.0 L289.01,1259.6 L289.16,1260.0 L289.49,1260.5 L289.82,1258.3 L290.15,1233.3 L290.48,1196.7 L290.50,1196.6 L290.81,1227.4 L291.14,1239.5 L291.40,1233.4 L291.47,1233.7 L291.80,1246.1 L292.13,1257.1 L292.46,1259.0 L292.65,1258.4 L292.79,1258.8 L293.12,1259.0 L293.45,1239.6 L293.70,1224.1 L293.78,1226.3 L294.11,1252.4 L294.44,1260.8 L294.77,1260.6 L295.10,1260.6 L295.43,1260.3 L295.76,1258.1 L296.09,1238.8 L296.22,1230.4 L296.30,1228.7 L296.42,1232.6 L296.75,1255.1 L297.08,1260.6 L297.41,1260.8 L297.74,1260.3 L298.07,1258.8 L298.36,1258.4 L298.40,1258.3 L298.73,1259.5 L299.06,1260.5 L299.39,1259.9 L299.72,1258.8 L299.88,1258.4 L300.05,1258.7 L300.38,1259.8 L300.71,1260.5 L301.04,1260.6 L301.37,1259.0 L301.70,1245.9 L301.90,1239.9 L302.03,1242.9 L302.36,1257.5 L302.69,1256.8 L303.02,1244.8 L303.10,1244.0 L303.28,1248.2 L303.35,1251.1 L303.68,1259.9 L304.01,1260.7 L304.34,1260.2 L304.67,1258.8 L304.76,1258.8 L305.00,1259.2 L305.33,1260.3 L305.66,1260.8 L305.99,1257.8 L306.30,1254.5 L306.32,1254.2 L306.65,1258.7 L306.98,1261.1 L307.31,1260.9 L307.64,1260.5 L307.97,1259.5 L308.30,1258.1 L308.63,1254.1 L308.90,1248.3 L308.96,1248.3 L309.29,1257.7 L309.62,1260.7 L309.95,1260.6 L310.28,1260.6 L310.61,1259.9 L310.91,1259.4 L310.94,1259.4 L311.27,1259.8 L311.60,1256.4 L311.90,1251.5 L311.93,1251.5 L312.26,1257.8 L312.59,1259.5 L312.61,1259.8 L312.92,1260.6 L313.25,1260.9 L313.58,1260.9 L313.91,1260.7 L314.24,1260.8 L314.57,1261.0 L314.90,1260.5 L315.23,1260.1 L315.56,1259.9 L315.58,1259.7 L315.89,1260.0 L316.22,1260.1 L316.55,1259.3 L316.88,1259.1 L316.95,1259.0 L317.21,1259.4 L317.54,1260.3 L317.87,1258.8 L318.20,1255.0 L318.53,1258.9 L318.86,1260.0 L319.19,1259.0 L319.22,1258.8 L319.52,1259.8 L319.85,1260.7 L320.18,1261.2 L320.51,1261.2 L320.84,1260.8 L321.17,1260.7 L321.50,1260.4 L321.83,1260.0 L322.16,1258.9 L322.49,1258.1 L322.53,1258.0 L322.82,1258.0 L323.15,1258.8 L323.48,1258.1 L323.81,1257.7 L323.92,1257.7 L324.14,1257.8 L324.47,1257.6 L324.80,1257.5 L325.13,1257.8 L325.46,1257.5 L325.79,1256.8 L326.12,1255.8 L326.41,1255.7 L326.45,1255.8 L326.78,1256.1 L327.11,1256.0 L327.44,1256.2 L327.77,1254.4 L328.10,1247.5 L328.20,1246.9 L328.43,1250.1 L328.76,1255.5 L329.09,1254.2 L329.42,1253.6 L329.48,1253.6 L329.75,1254.0 L330.08,1254.5 L330.41,1255.0 L330.74,1255.4 L331.07,1255.2 L331.40,1255.0 L331.73,1253.8 L332.06,1247.9 L332.20,1246.6 L332.39,1248.5 L332.70,1252.9 L332.72,1252.7 L333.05,1253.7 L333.38,1254.4 L333.71,1253.5 L334.04,1252.9 L334.33,1252.5 L334.37,1252.2 L334.70,1252.9 L335.03,1253.2 L335.36,1253.5 L335.69,1253.2 L336.02,1252.6 L336.35,1250.9 L336.68,1250.3 L336.71,1250.3 L337.01,1250.6 L337.34,1251.6 L337.67,1252.0 L338.00,1252.3 L338.33,1252.3 L338.66,1252.3 L338.99,1252.4 L339.32,1251.9 L339.65,1251.8 L339.98,1251.1 L340.31,1250.1 L340.40,1249.9 L340.64,1250.4 L340.97,1251.0 L341.30,1251.2 L341.63,1251.6 L341.96,1251.0 L342.29,1251.1 L342.62,1251.1 L342.95,1250.5 L343.28,1249.8 L343.47,1249.9 L343.61,1249.9 L343.94,1251.1 L344.27,1252.0 L344.60,1252.0 L344.93,1252.4 L345.26,1252.3 L345.59,1251.8 L345.73,1252.1 L345.92,1252.9 L346.25,1254.8 L346.58,1256.2 L346.91,1257.4 L347.24,1258.4 L347.57,1259.7 L347.90,1259.5 L348.23,1259.4 L348.56,1256.4 L348.89,1250.2 L348.90,1250.1 L349.22,1256.3 L349.45,1258.1 L349.55,1258.1 L349.88,1259.2 L350.21,1259.9 L350.54,1260.3 L350.87,1260.7 L351.20,1260.4 L351.53,1260.2 L351.86,1259.2 L351.95,1259.4 L352.19,1257.4 L352.52,1240.8 L352.70,1234.3 L352.85,1238.6 L353.18,1256.6 L353.51,1258.8 L353.84,1257.6 L353.88,1257.7 L354.17,1258.0 L354.50,1259.5 L354.83,1259.9 L355.16,1260.2 L355.49,1259.3 L355.82,1258.1 L356.04,1257.8 L356.15,1258.1 L356.48,1258.6 L356.81,1259.6 L357.14,1260.2 L357.47,1260.0 L357.80,1259.9 L358.13,1259.9 L358.46,1255.9 L358.79,1248.5 L358.80,1248.3 L359.02,1252.4 L359.12,1255.3 L359.45,1259.0 L359.78,1259.5 L360.11,1260.2 L360.44,1259.7 L360.77,1259.1 L361.10,1258.3 L361.18,1258.6 L361.43,1258.8 L361.76,1259.7 L362.09,1259.9 L362.42,1259.8 L362.75,1259.6 L363.08,1258.9 L363.41,1258.2 L363.65,1257.6 L363.74,1257.4 L364.07,1258.4 L364.40,1253.3 L364.60,1251.0 L364.73,1252.2 L365.06,1258.5 L365.39,1257.7 L365.63,1257.6 L365.72,1257.6 L366.05,1258.5 L366.38,1259.2 L366.71,1259.7 L367.04,1260.0 L367.37,1259.5 L367.70,1259.5 L368.03,1258.7 L368.33,1257.7 L368.36,1257.9 L368.69,1259.0 L369.02,1259.7 L369.35,1259.5 L369.68,1259.1 L370.01,1258.2 L370.21,1257.8 L370.34,1257.6 L370.67,1255.0 L370.80,1254.5 L371.00,1256.1 L371.33,1258.9 L371.66,1259.5 L371.99,1259.5 L372.32,1259.6 L372.65,1258.9 L372.98,1258.5 L373.31,1256.9 L373.50,1256.7 L373.64,1256.9 L373.97,1258.2 L374.30,1258.9 L374.63,1258.8 L374.96,1258.8 L375.29,1257.3 L375.62,1256.6 L375.95,1257.4 L376.28,1258.3 L376.61,1258.8 L376.94,1258.8 L377.27,1258.6 L377.60,1258.6 L377.93,1258.9 L378.26,1258.4 L378.59,1257.4 L378.92,1255.8 L378.94,1256.1 L379.25,1256.8 L379.58,1258.5 L379.91,1258.7 L380.24,1258.7 L380.57,1258.5 L380.90,1258.2 L381.23,1258.3 L381.56,1257.9 L381.89,1256.7 L382.22,1255.6 L382.37,1255.4 L382.55,1255.4 L382.88,1257.0 L383.21,1258.2 L383.54,1258.4 L383.87,1258.1 L384.20,1257.9 L384.53,1258.2 L384.86,1257.8 L385.19,1257.9 L385.52,1257.0 L385.85,1256.4 L386.01,1256.0 L386.18,1256.1 L386.51,1257.0 L386.84,1257.4 L387.17,1256.6 L387.50,1255.1 L387.67,1254.9 L387.83,1255.0 L388.16,1255.1 L388.49,1251.9 L388.60,1251.8 L388.82,1252.9 L389.15,1255.6 L389.48,1249.9 L389.81,1218.6 L390.00,1207.7 L390.12,1212.4 L390.14,1214.1 L390.47,1246.4 L390.80,1256.7 L391.13,1257.5 L391.46,1257.3 L391.79,1257.3 L392.12,1257.1 L392.45,1257.3 L392.78,1256.1 L393.11,1254.7 L393.19,1254.7 L393.44,1255.4 L393.77,1256.5 L394.10,1256.8 L394.43,1257.1 L394.76,1257.1 L395.09,1256.5 L395.42,1256.4 L395.75,1255.1 L395.89,1255.3 L396.08,1255.2 L396.41,1256.2 L396.74,1256.9 L397.07,1257.2 L397.40,1256.8 L397.73,1257.0 L398.06,1256.2 L398.39,1255.4 L398.70,1254.9 L398.72,1254.8 L399.05,1255.3 L399.38,1256.7 L399.71,1256.8 L400.04,1257.3 L400.37,1257.0 L400.70,1257.2 L401.03,1257.2 L401.36,1256.8 L401.69,1256.2 L401.75,1256.0 L402.02,1256.4 L402.35,1257.0 L402.68,1257.4 L403.01,1257.0 L403.34,1257.0 L403.67,1256.5 L404.00,1256.2 L404.11,1256.0 L404.33,1256.2 L404.66,1257.0 L404.99,1257.4 L405.32,1257.0 L405.65,1257.6 L405.98,1257.2 L406.31,1257.0 L406.64,1253.6 L406.80,1252.6 L406.97,1253.8 L407.07,1254.9 L407.30,1256.5 L407.63,1257.2 L407.96,1257.4 L408.29,1257.6 L408.62,1257.5 L408.95,1257.5 L409.28,1256.5 L409.50,1256.6 L409.61,1256.3 L409.94,1257.3 L410.27,1257.6 L410.60,1257.3 L410.93,1256.2 L411.08,1256.3 L411.26,1256.5 L411.59,1257.0 L411.92,1257.4 L412.25,1257.9 L412.58,1256.5 L412.91,1240.4 L413.00,1238.3 L413.24,1249.7 L413.57,1257.4 L413.90,1257.6 L414.23,1256.7 L414.56,1243.1 L414.70,1238.3 L414.89,1246.5 L415.22,1257.1 L415.55,1257.5 L415.88,1257.3 L416.21,1256.9 L416.54,1243.9 L416.87,1185.4 L417.00,1174.0 L417.20,1198.4 L417.30,1219.1 L417.53,1248.7 L417.86,1229.0 L418.00,1222.0 L418.19,1233.6 L418.52,1251.6 L418.80,1238.3 L418.85,1238.7 L419.18,1254.6 L419.51,1257.0 L419.84,1256.3 L420.17,1251.1 L420.30,1249.5 L420.50,1253.0 L420.83,1256.6 L421.16,1256.7 L421.49,1256.4 L421.82,1256.8 L422.15,1256.7 L422.48,1255.4 L422.81,1240.6 L422.90,1238.3 L423.14,1249.1 L423.47,1255.2 L423.80,1234.6 L424.00,1222.0 L424.13,1228.1 L424.40,1238.3 L424.46,1239.0 L424.79,1254.3 L425.12,1256.1 L425.45,1255.9 L425.78,1252.2 L426.00,1248.0 L426.11,1249.2 L426.44,1255.4 L426.77,1256.0 L427.10,1255.9 L427.43,1256.1 L427.76,1255.9 L428.09,1254.4 L428.42,1240.2 L428.50,1238.3 L428.75,1241.8 L429.08,1183.4 L429.20,1174.0 L429.41,1199.9 L429.74,1249.1 L430.00,1238.3 L430.07,1239.5 L430.40,1254.3 L430.73,1255.7 L431.06,1255.8 L431.39,1255.6 L431.72,1255.6 L432.05,1255.7 L432.38,1255.6 L432.71,1255.5 L433.04,1255.1 L433.37,1247.9 L433.60,1238.3 L433.70,1240.9 L434.03,1254.4 L434.36,1248.2 L434.60,1238.3 L434.69,1240.1 L435.02,1253.8 L435.35,1255.2 L435.68,1255.2 L436.01,1254.8 L436.34,1254.6 L436.67,1241.4 L437.00,1208.0 L437.33,1241.0 L437.66,1251.1 L437.70,1251.0 L437.99,1253.5 L438.32,1254.6 L438.65,1254.2 L438.98,1243.5 L439.31,1170.8 L439.50,1140.0 L439.64,1157.6 L439.97,1237.7 L440.30,1254.3 L440.63,1254.6 L440.96,1254.3 L441.29,1254.5 L441.62,1254.0 L441.95,1253.8 L442.28,1242.9 L442.61,1170.4 L442.80,1140.0 L442.94,1157.9 L443.27,1237.2 L443.30,1234.1 L443.60,1180.6 L443.70,1174.0 L443.93,1203.4 L444.26,1248.5 L444.59,1243.3 L444.90,1184.7 L444.92,1179.9 L445.10,1156.0 L445.25,1173.1 L445.58,1236.2 L445.91,1170.7 L446.00,1149.5 L446.10,1140.0 L446.24,1157.5 L446.57,1236.8 L446.90,1238.3 L447.23,1192.9 L447.50,1140.0 L447.56,1143.4 L447.89,1222.8 L448.22,1244.3 L448.40,1238.3 L448.55,1219.4 L448.88,1156.4 L448.90,1156.0 L449.21,1210.8 L449.54,1249.8 L449.87,1241.7 L450.00,1238.3 L450.20,1244.9 L450.53,1252.2 L450.86,1252.6 L451.19,1252.5 L451.52,1250.8 L451.85,1234.8 L452.00,1230.0 L452.18,1236.8 L452.51,1241.3 L452.80,1230.0 L452.84,1230.1 L453.17,1245.2 L453.50,1251.6 L453.83,1251.9 L454.16,1252.2 L454.49,1251.8 L454.82,1251.6 L455.15,1251.7 L455.48,1252.0 L455.81,1251.4 L456.14,1249.6 L456.47,1233.6 L456.60,1230.0 L456.80,1237.8 L457.13,1239.8 L457.40,1230.0 L457.46,1230.5 L457.79,1245.7 L458.12,1251.0 L458.45,1251.4 L458.78,1250.9 L459.11,1250.5 L459.44,1241.9 L459.77,1223.4 L459.80,1223.4 L460.10,1238.3 L460.43,1250.1 L460.76,1251.1 L461.09,1251.4 L461.42,1251.3 L461.75,1251.4 L462.08,1251.6 L462.41,1251.6 L462.74,1251.6 L463.07,1251.7 L463.40,1251.6 L463.73,1251.9 L464.06,1252.2 L464.39,1251.8 L464.72,1251.5 L464.85,1251.6 L465.05,1251.8 L465.38,1252.1 L465.71,1252.4 L466.04,1252.6 L466.37,1252.3 L466.70,1252.5 L467.03,1252.9 L467.36,1253.1 L467.69,1252.7 L468.02,1252.8 L468.35,1253.2 L468.68,1253.1 L469.01,1253.4 L469.34,1253.1 L469.67,1253.4 L470.00,1253.3 L470.33,1253.4 L470.66,1253.3 L470.99,1253.0 L471.02,1253.1 L471.32,1253.4 L471.65,1253.7 L471.98,1254.1 L472.31,1253.8 L472.64,1254.0 L472.97,1253.9 L473.30,1251.5 L473.63,1235.4 L473.80,1230.4 L473.96,1235.0 L474.29,1251.5 L474.62,1254.5 L474.95,1254.7 L475.28,1254.3 L475.61,1254.5 L475.94,1254.5 L476.18,1254.2 L476.27,1254.3 L476.60,1254.4 L476.93,1254.1 L477.26,1249.1 L477.59,1240.0 L477.60,1240.2 L477.92,1248.8 L478.25,1254.0 L478.58,1254.3 L478.91,1254.5 L479.24,1254.4 L479.57,1254.5 L479.90,1254.4 L480.23,1254.3 L480.56,1254.2 L480.89,1254.6 L481.22,1254.5 L481.55,1254.3 L481.88,1254.4 L482.21,1254.1 L482.52,1253.9 L482.54,1254.1 L482.87,1254.3 L483.20,1254.3 L483.53,1254.3 L483.86,1254.5 L484.19,1254.0 L484.52,1251.1 L484.80,1247.4 L484.85,1247.5 L485.18,1252.3 L485.51,1254.4 L485.84,1254.1 L486.17,1254.1 L486.50,1254.3 L486.82,1253.9 L486.83,1253.7 L487.16,1247.1 L487.49,1234.2 L487.50,1234.5 L487.82,1246.0 L488.15,1254.2 L488.48,1254.3 L488.81,1254.3 L489.14,1254.1 L489.47,1250.1 L489.80,1236.1 L489.90,1234.2 L490.13,1241.9 L490.46,1253.4 L490.58,1254.2 L490.79,1254.1 L491.12,1254.3 L491.45,1254.5 L491.78,1254.5 L492.11,1254.6 L492.44,1254.9 L492.77,1254.8 L493.10,1254.6 L493.43,1254.8 L493.76,1255.2 L494.09,1255.2 L494.42,1255.2 L494.75,1255.3 L495.08,1255.4 L495.41,1255.3 L495.74,1255.2 L496.07,1255.4 L496.40,1255.3 L496.73,1255.2 L497.06,1255.3 L497.39,1255.3 L497.72,1254.8 L497.89,1255.0 L498.05,1254.9 L498.38,1255.4 L498.71,1256.0 L499.04,1255.8 L499.37,1256.0 L499.70,1256.0 L500.03,1256.0 L500.36,1255.8 L500.69,1255.9 L501.02,1255.9 L501.35,1256.1 L501.68,1256.2 L502.01,1256.2 L502.34,1255.9 L502.67,1255.9 L503.00,1255.8 L503.33,1256.1 L503.66,1256.0 L503.99,1255.8 L504.32,1256.0 L504.65,1256.0 L504.98,1256.0 L505.31,1256.3 L505.64,1256.2 L505.97,1256.1 L506.30,1256.4 L506.63,1256.1 L506.96,1256.5 L507.29,1256.0 L507.62,1256.0 L507.95,1255.9 L508.10,1255.8 L508.28,1255.8 L508.61,1256.3 L508.94,1256.4 L509.27,1256.5 L509.60,1256.1 L509.93,1256.2 L510.26,1256.4 L510.59,1256.5 L510.92,1256.2 L511.25,1256.6 L511.58,1256.3 L511.91,1256.1 L512.24,1255.7 L512.57,1255.1 L512.90,1253.7 L513.23,1252.8 L513.56,1252.3 L513.70,1252.2 L513.89,1252.2 L514.22,1252.9 L514.55,1252.0 L514.88,1250.8 L515.20,1250.3 L515.21,1250.0 L515.54,1250.8 L515.87,1252.2 L516.20,1253.6 L516.53,1254.9 L516.86,1256.2 L517.19,1255.9 L517.29,1256.3 L517.52,1256.2 L517.85,1256.3 L518.18,1256.6 L518.51,1256.6 L518.84,1256.8 L519.17,1257.1 L519.50,1256.6 L519.83,1256.8 L520.16,1257.0 L520.49,1257.0 L520.82,1256.6 L521.15,1256.6 L521.48,1256.3 L521.79,1256.3 L521.81,1256.2 L522.14,1256.4 L522.47,1256.9 L522.80,1257.0 L523.13,1256.8 L523.46,1257.1 L523.79,1257.2 L524.12,1257.1 L524.45,1257.1 L524.78,1257.3 L525.11,1257.4 L525.44,1257.2 L525.77,1256.9 L526.10,1257.2 L526.43,1257.3 L526.76,1257.1 L527.09,1257.3 L527.42,1257.2 L527.75,1257.3 L528.08,1257.3 L528.41,1257.4 L528.74,1257.5 L529.07,1257.4 L529.40,1257.4 L529.73,1257.5 L530.06,1257.2 L530.39,1257.4 L530.72,1257.4 L531.05,1257.1 L531.38,1257.3 L531.71,1256.7 L531.99,1256.8 L532.04,1256.7 L532.37,1257.1 L532.70,1257.1 L533.03,1256.5 L533.36,1256.2 L533.69,1255.5 L534.02,1255.4 L534.10,1255.4 L534.35,1255.3 L534.68,1255.9 L535.01,1256.6 L535.34,1256.6 L535.67,1257.4 L536.00,1257.5 L536.33,1257.6 L536.66,1257.8 L536.99,1257.9 L537.32,1257.4 L537.65,1257.5 L537.94,1257.5 L537.98,1257.5 L538.31,1257.8 L538.64,1257.9 L538.97,1257.9 L539.30,1257.6 L539.63,1257.8 L539.96,1258.1 L540.29,1258.1 L540.62,1258.0 L540.95,1257.7 L541.28,1258.0 L541.61,1257.7 L541.94,1257.4 L542.20,1257.2 L542.27,1257.4 L542.60,1257.6 L542.93,1258.0 L543.26,1257.7 L543.59,1257.7 L543.92,1257.7 L544.25,1257.5 L544.58,1257.1 L544.91,1257.5 L545.24,1256.9 L545.57,1256.9 L545.90,1256.5 L546.23,1256.5 L546.56,1256.8 L546.69,1256.6 L546.89,1256.4 L546.90,1256.6 L547.22,1256.4 L547.55,1256.7 L547.88,1256.8 L548.21,1257.1 L548.54,1257.1 L548.87,1257.1 L549.20,1257.3 L549.53,1257.5 L549.86,1257.4 L550.19,1257.6 L550.52,1257.6 L550.85,1257.8 L551.18,1258.1 L551.51,1258.2 L551.84,1257.9 L552.17,1257.8 L552.50,1257.6 L552.82,1257.6 L552.83,1257.6 L553.16,1257.5 L553.49,1258.0 L553.82,1257.9 L554.15,1257.8 L554.48,1258.2 L554.81,1257.8 L555.14,1258.0 L555.47,1258.2 L555.80,1258.1 L556.13,1258.3 L556.46,1258.0 L556.79,1258.3 L557.12,1257.8 L557.45,1258.2 L557.78,1257.8 L558.11,1257.3 L558.36,1257.6 L558.44,1257.8 L558.77,1257.9 L559.10,1258.1 L559.43,1258.3 L559.76,1257.8 L560.09,1258.0 L560.42,1258.1 L560.75,1258.4 L561.08,1258.4 L561.41,1257.9 L561.74,1258.3 L562.07,1257.8 L562.40,1257.4 L562.73,1256.8 L563.06,1256.6 L563.39,1256.4 L563.60,1256.4 L563.72,1256.2 L564.05,1256.8 L564.38,1257.0 L564.71,1257.3 L565.04,1257.9 L565.37,1257.9 L565.70,1258.1 L566.03,1258.0 L566.36,1258.1 L566.69,1258.5 L567.02,1258.3 L567.35,1258.2 L567.68,1258.3 L568.01,1258.0 L568.34,1257.7 L568.58,1257.6 L568.67,1257.4 L569.00,1257.6 L569.33,1257.9 L569.66,1258.2 L569.99,1258.0 L570.32,1258.4 L570.65,1258.2 L570.98,1258.1 L571.31,1258.1 L571.64,1258.1 L571.97,1257.8 L572.30,1257.9 L572.63,1257.3 L572.96,1256.8 L573.29,1256.6 L573.40,1256.9 L573.62,1256.9 L573.90,1257.1 L573.95,1257.2 L574.28,1257.2 L574.61,1258.0 L574.94,1258.3 L575.27,1258.3 L575.60,1258.1 L575.93,1258.3 L576.26,1258.6 L576.59,1258.4 L576.92,1258.2 L577.25,1258.2 L577.58,1258.1 L577.91,1258.4 L578.24,1258.2 L578.57,1258.4 L578.90,1258.6 L579.23,1258.6 L579.56,1258.4 L579.89,1258.2 L580.22,1257.3 L580.31,1257.5 L580.55,1257.9 L580.88,1258.2 L581.21,1258.6 L581.54,1258.3 L581.87,1258.7 L582.20,1258.4 L582.53,1258.7 L582.86,1258.7 L583.19,1258.7 L583.52,1258.6 L583.85,1258.2 L584.18,1258.4 L584.51,1258.6 L584.84,1258.7 L585.17,1258.6 L585.50,1258.3 L585.83,1258.4 L586.16,1258.4 L586.49,1258.3 L586.82,1258.1 L587.15,1257.9 L587.25,1258.0 L587.48,1257.9 L587.81,1258.4 L588.14,1258.8 L588.47,1258.6 L588.80,1258.7 L589.13,1258.8 L589.46,1258.3 L589.79,1258.8 L590.12,1258.4 L590.45,1258.4 L590.78,1258.7 L591.11,1258.5 L591.44,1258.1 L591.61,1257.5 L591.77,1256.0 L592.10,1249.3 L592.43,1243.0 L592.50,1243.0 L592.76,1245.8 L593.09,1253.4 L593.42,1257.9 L593.75,1258.8 L594.08,1258.6 L594.41,1258.6 L594.74,1258.5 L595.07,1258.8 L595.40,1258.7 L595.73,1258.5 L596.06,1258.9 L596.39,1258.8 L596.72,1257.9 L597.05,1257.8 L597.16,1257.9 L597.38,1258.0 L597.71,1257.7 L598.04,1257.3 L598.37,1257.1 L598.60,1257.2 L598.70,1257.1 L599.03,1257.3 L599.36,1257.8 L599.69,1258.0 L600.02,1258.6 L600.35,1258.4 L600.68,1258.4 L600.75,1258.3 L601.01,1258.4 L601.34,1258.7 L601.67,1258.9 L602.00,1258.9 L602.33,1258.6 L602.66,1258.7 L602.99,1258.5 L603.32,1258.3 L603.65,1258.6 L603.98,1258.2 L604.31,1257.9 L604.64,1257.4 L604.97,1257.0 L605.30,1256.9 L605.63,1256.2 L605.96,1255.7 L606.29,1255.4 L606.62,1255.2 L606.95,1255.0 L607.10,1254.9 L607.28,1255.1 L607.61,1254.9 L607.94,1255.4 L608.27,1255.9 L608.60,1256.3 L608.93,1257.1 L609.26,1257.4 L609.59,1257.9 L609.92,1257.9 L610.25,1258.6 L610.58,1258.4 L610.80,1258.5 L610.91,1258.6 L611.24,1258.5 L611.57,1258.7 L611.90,1258.8 L612.23,1259.2 L612.56,1259.0 L612.89,1258.9 L613.22,1258.9 L613.55,1259.0 L613.88,1258.7 L614.21,1258.5 L614.54,1258.4 L614.87,1258.6 L615.20,1258.4 L615.53,1258.6 L615.60,1258.4 L615.86,1258.6 L616.17,1258.0 L616.19,1258.0 L616.52,1258.5 L616.85,1258.7 L617.18,1258.8 L617.51,1259.1 L617.84,1259.0 L618.17,1258.8 L618.50,1259.2 L618.83,1259.0 L619.16,1259.1 L619.49,1259.0 L619.82,1259.1 L620.15,1259.1 L620.48,1258.8 L620.81,1258.8 L621.14,1259.0 L621.47,1258.4 L621.72,1258.5 L621.80,1258.6 L622.13,1258.8 L622.46,1258.7 L622.79,1258.2 L623.12,1257.5 L623.45,1257.2 L623.78,1256.3 L624.11,1256.1 L624.44,1255.8 L624.50,1255.8 L624.77,1255.6 L625.10,1256.3 L625.43,1257.0 L625.76,1257.6 L626.09,1258.4 L626.42,1258.4 L626.75,1258.9 L627.08,1258.9 L627.41,1259.1 L627.74,1259.0 L628.07,1259.0 L628.40,1259.2 L628.73,1259.2 L629.06,1259.2 L629.39,1258.7 L629.72,1258.3 L629.74,1258.4 L630.05,1258.6 L630.38,1258.9 L630.71,1259.0 L631.04,1259.3 L631.37,1259.1 L631.70,1258.9 L632.03,1259.0 L632.36,1259.1 L632.69,1259.3 L633.02,1259.3 L633.35,1259.1 L633.68,1259.1 L634.01,1258.6 L634.07,1258.8 L634.34,1258.9 L634.67,1259.2 L635.00,1259.1 L635.33,1259.4 L635.66,1259.0 L635.99,1259.3 L636.32,1259.4 L636.65,1259.5 L636.98,1259.1 L637.31,1259.4 L637.64,1259.3 L637.97,1259.5 L638.30,1259.2 L638.63,1259.4 L638.96,1259.4 L639.29,1259.6 L639.62,1259.2 L639.95,1259.2 L640.28,1259.1 L640.61,1259.4 L640.94,1258.8 L641.27,1259.0 L641.30,1258.9 L641.60,1258.8 L641.93,1259.5 L642.26,1259.3 L642.59,1259.4 L642.92,1259.1 L643.25,1258.9 L643.58,1258.7 L643.91,1258.8 L644.24,1258.0 L644.57,1257.9 L644.90,1257.5 L645.23,1257.0 L645.56,1256.5 L645.89,1256.7 L645.90,1256.6 L646.22,1256.7 L646.55,1256.7 L646.88,1257.3 L647.21,1258.0 L647.54,1258.2 L647.87,1258.3 L648.20,1258.7 L648.51,1258.9 L648.53,1258.6 L648.86,1258.8 L649.19,1259.3 L649.52,1259.2 L649.85,1259.4 L650.18,1259.2 L650.51,1259.5 L650.84,1259.5 L651.17,1259.3 L651.50,1259.5 L651.83,1259.5 L652.16,1259.6 L652.49,1259.5 L652.82,1259.6 L653.15,1259.5 L653.48,1259.7 L653.81,1259.2 L654.14,1259.2 L654.47,1259.6 L654.80,1259.5 L655.13,1258.8 L655.46,1259.0 L655.79,1258.4 L656.12,1257.9 L656.45,1257.2 L656.78,1256.5 L657.11,1255.9 L657.22,1256.1 L657.40,1256.1 L657.44,1256.0 L657.77,1256.1 L658.10,1256.6 L658.43,1257.5 L658.76,1257.9 L659.09,1258.3 L659.42,1259.2 L659.75,1259.5 L660.08,1259.2 L660.41,1259.3 L660.74,1259.7 L661.07,1259.5 L661.40,1259.6 L661.73,1259.6 L662.06,1259.1 L662.39,1258.8 L662.49,1258.7 L662.72,1258.7 L663.05,1259.4 L663.38,1259.5 L663.71,1259.7 L664.04,1259.2 L664.37,1259.5 L664.70,1258.9 L665.03,1258.8 L665.36,1258.5 L665.50,1258.8 L665.69,1259.0 L666.02,1258.8 L666.35,1259.3 L666.68,1259.6 L667.01,1259.6 L667.34,1259.4 L667.67,1259.6 L668.00,1259.5 L668.33,1259.6 L668.66,1259.6 L668.99,1259.5 L669.32,1259.8 L669.65,1259.7 L669.98,1259.6 L670.31,1259.6 L670.64,1259.5 L670.97,1259.5 L671.30,1259.7 L671.63,1259.4 L671.96,1259.5 L672.21,1259.5 L672.29,1259.6 L672.62,1259.5 L672.95,1259.9 L673.28,1260.0 L673.61,1260.0 L673.94,1259.6 L674.27,1260.0 L674.60,1259.8 L674.93,1260.0 L675.26,1259.8 L675.59,1259.8 L675.92,1259.7 L676.25,1260.0 L676.58,1259.7 L676.91,1260.0 L677.24,1259.9 L677.57,1259.8 L677.90,1259.6 L678.23,1259.7 L678.56,1259.8 L678.89,1259.8 L679.22,1259.9 L679.55,1259.6 L679.88,1259.8 L680.21,1260.1 L680.54,1260.0 L680.87,1259.5 L681.16,1259.2 L681.20,1259.2 L681.53,1259.8 L681.86,1260.0 L682.19,1259.9 L682.52,1259.9 L682.85,1260.1 L683.18,1259.9 L683.51,1260.0 L683.84,1259.8 L684.17,1260.0 L684.50,1259.9 L684.83,1260.2" fill="none" stroke="#000" stroke-width="1.1" stroke-linejoin="round"/>
<polyline points="439.7,1176 441.3,1088.3 442.7,1088.3 443.5,1176" fill="none" stroke="#000" stroke-width="0.9"/>
<polyline points="413,1257.7 461,1250.8" fill="none" stroke="#a00808" stroke-width="0.8"/>
<rect x="418.60" y="1081.20" width="48.20" height="6.30" fill="#fff"/>
<text transform="translate(419.20,1086.70) scale(1.85,1)" font-size="7.12" font-family='"Liberation Sans", sans-serif' font-weight="bold" fill="#14147a" stroke="#14147a" stroke-width="0.05" textLength="25.41" lengthAdjust="spacing">16.443</text>
<rect x="423.70" y="1133.00" width="47.20" height="6.30" fill="#fff"/>
<text transform="translate(424.30,1138.50) scale(1.85,1)" font-size="7.12" font-family='"Liberation Sans", sans-serif' font-weight="bold" fill="#14147a" stroke="#14147a" stroke-width="0.05" textLength="24.86" lengthAdjust="spacing">16.639</text>
<rect x="425.20" y="1129.40" width="48.30" height="6.30" fill="#fff"/>
<text transform="translate(425.80,1134.90) scale(1.85,1)" font-size="7.12" font-family='"Liberation Sans", sans-serif' font-weight="bold" fill="#14147a" stroke="#14147a" stroke-width="0.05" textLength="25.46" lengthAdjust="spacing">16.762</text>
<rect x="419.30" y="1148.30" width="48.70" height="6.30" fill="#fff"/>
<text transform="translate(419.90,1153.80) scale(1.85,1)" font-size="7.12" font-family='"Liberation Sans", sans-serif' font-weight="bold" fill="#14147a" stroke="#14147a" stroke-width="0.05" textLength="25.68" lengthAdjust="spacing">16.492</text>
<rect x="393.80" y="1166.60" width="48.60" height="6.30" fill="#fff"/>
<text transform="translate(394.40,1172.10) scale(1.85,1)" font-size="7.12" font-family='"Liberation Sans", sans-serif' font-weight="bold" fill="#14147a" stroke="#14147a" stroke-width="0.05" textLength="25.62" lengthAdjust="spacing">15.785</text>
<rect x="405.50" y="1166.60" width="48.60" height="6.30" fill="#fff"/>
<text transform="translate(406.10,1172.10) scale(1.85,1)" font-size="7.12" font-family='"Liberation Sans", sans-serif' font-weight="bold" fill="#14147a" stroke="#14147a" stroke-width="0.05" textLength="25.62" lengthAdjust="spacing">15.800</text>
<rect x="420.80" y="1197.70" width="48.50" height="6.30" fill="#fff"/>
<text transform="translate(421.40,1203.20) scale(1.85,1)" font-size="7.12" font-family='"Liberation Sans", sans-serif' font-weight="bold" fill="#14147a" stroke="#14147a" stroke-width="0.05" textLength="25.57" lengthAdjust="spacing">16.544</text>
<rect x="390.10" y="1201.10" width="48.50" height="6.30" fill="#fff"/>
<text transform="translate(390.70,1206.60) scale(1.85,1)" font-size="7.12" font-family='"Liberation Sans", sans-serif' font-weight="bold" fill="#14147a" stroke="#14147a" stroke-width="0.05" textLength="25.57" lengthAdjust="spacing">15.023</text>
<rect x="436.10" y="1199.60" width="48.70" height="6.30" fill="#fff"/>
<text transform="translate(436.70,1205.10) scale(1.85,1)" font-size="7.12" font-family='"Liberation Sans", sans-serif' font-weight="bold" fill="#14147a" stroke="#14147a" stroke-width="0.05" textLength="25.68" lengthAdjust="spacing">17.306</text>
<rect x="433.20" y="1208.00" width="48.60" height="6.30" fill="#fff"/>
<text transform="translate(433.80,1213.50) scale(1.85,1)" font-size="7.12" font-family='"Liberation Sans", sans-serif' font-weight="bold" fill="#14147a" stroke="#14147a" stroke-width="0.05" textLength="25.62" lengthAdjust="spacing">17.162</text>
<rect x="410.60" y="1215.00" width="47.90" height="6.30" fill="#fff"/>
<text transform="translate(411.20,1220.50) scale(1.85,1)" font-size="7.12" font-family='"Liberation Sans", sans-serif' font-weight="bold" fill="#14147a" stroke="#14147a" stroke-width="0.05" textLength="25.24" lengthAdjust="spacing">16.043</text>
<rect x="395.20" y="1221.90" width="48.50" height="6.30" fill="#fff"/>
<text transform="translate(395.80,1227.40) scale(1.85,1)" font-size="7.12" font-family='"Liberation Sans", sans-serif' font-weight="bold" fill="#14147a" stroke="#14147a" stroke-width="0.05" textLength="25.57" lengthAdjust="spacing">15.312</text>
<rect x="398.20" y="1228.10" width="48.40" height="6.30" fill="#fff"/>
<text transform="translate(398.80,1233.60) scale(1.85,1)" font-size="7.12" font-family='"Liberation Sans", sans-serif' font-weight="bold" fill="#14147a" stroke="#14147a" stroke-width="0.05" textLength="25.51" lengthAdjust="spacing">15.455</text>
<rect x="429.50" y="1223.70" width="48.00" height="6.30" fill="#fff"/>
<text transform="translate(430.10,1229.20) scale(1.85,1)" font-size="7.12" font-family='"Liberation Sans", sans-serif' font-weight="bold" fill="#14147a" stroke="#14147a" stroke-width="0.05" textLength="25.30" lengthAdjust="spacing">16.930</text>
<rect x="401.80" y="1230.60" width="48.70" height="7.50" fill="#fff"/>
<text transform="translate(402.40,1237.30) scale(1.85,1)" font-size="7.12" font-family='"Liberation Sans", sans-serif' font-weight="bold" fill="#14147a" stroke="#14147a" stroke-width="0.05" textLength="25.68" lengthAdjust="spacing">15.594</text>
<polyline points="390,1202 390,1205" fill="none" stroke="#000" stroke-width="0.8"/>
</svg>
</body></html>
